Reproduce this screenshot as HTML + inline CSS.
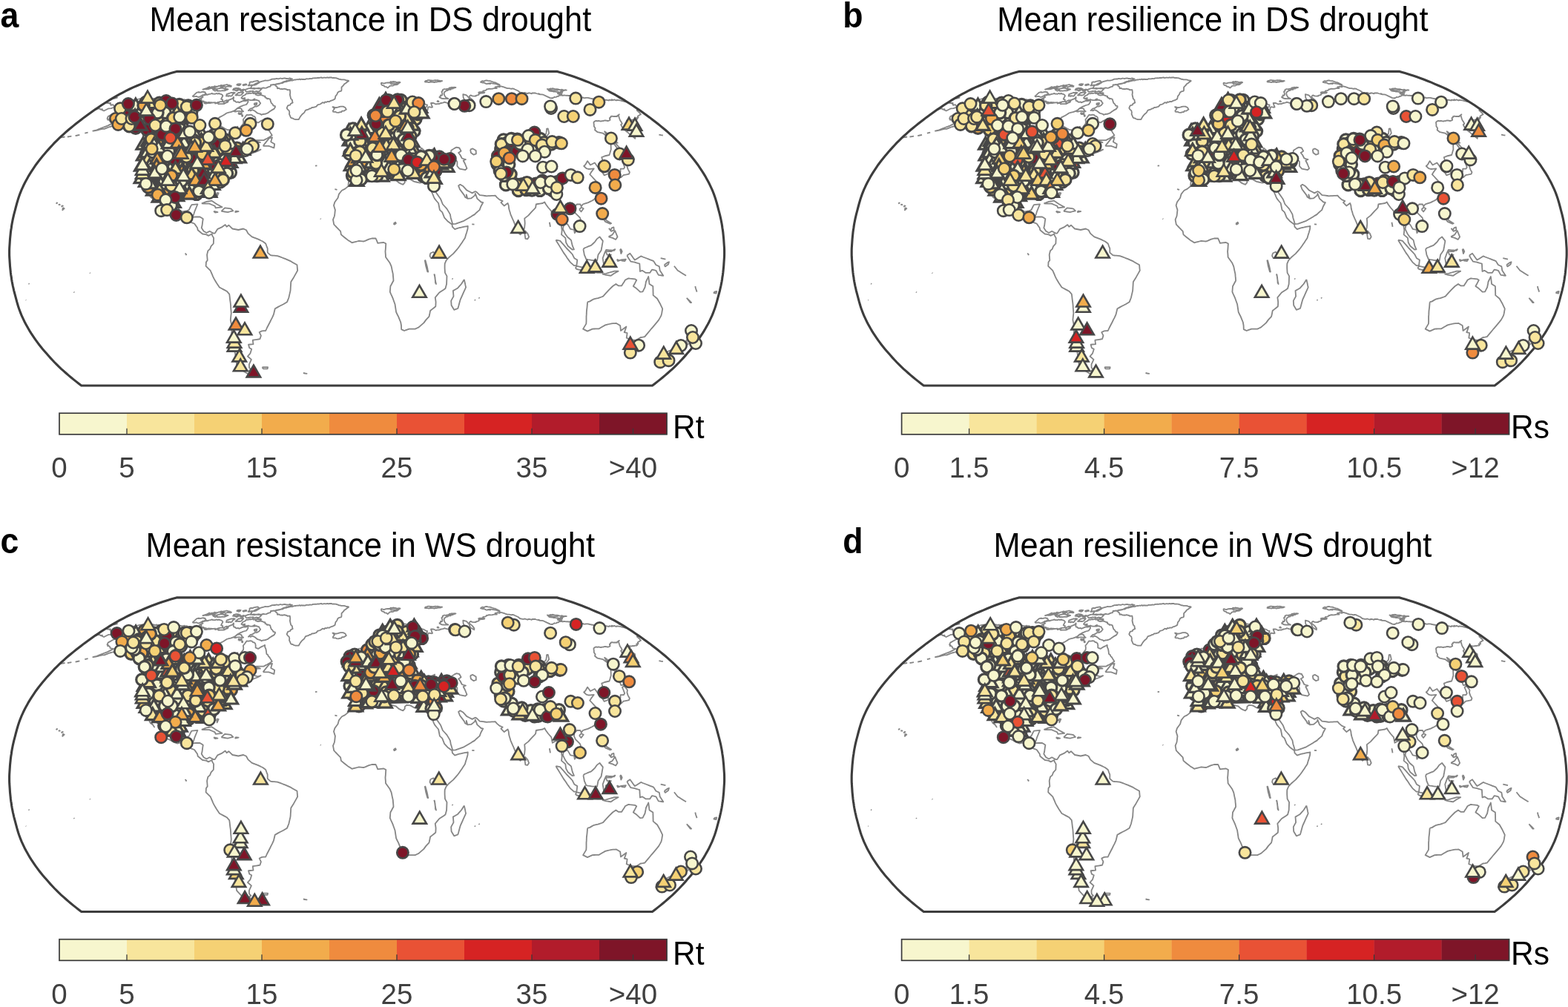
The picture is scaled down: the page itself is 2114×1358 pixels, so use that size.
<!DOCTYPE html>
<html><head><meta charset="utf-8"><title>Drought resistance and resilience maps</title>
<style>html,body{margin:0;padding:0;background:#fff;}body{width:2114px;height:1358px;overflow:hidden;}svg{display:block;}</style>
</head><body>
<svg width="2114" height="1358" viewBox="0 0 2114 1358" font-family="Liberation Sans, Arial, sans-serif"><g transform="translate(0.0 0.0)"><text transform="translate(499.3 41.6) scale(1 1.065)" font-size="43.4" text-anchor="middle" fill="#000">Mean resistance in DS drought</text><text transform="translate(0.6 36.6) scale(0.97 1.06)" font-size="46" font-weight="bold" fill="#000">a</text><path d="M197.6 131.4l2.7-0.2 -1 0.9 1.8 0 1.7 0.4 1-0.2 1.1 0.3 2.3 0.2 0.1-0.1 0.9 1 3.5-0.8 -0.9 1 3.1-0.6 -0.1 0.4 2.9 0.1 -0.8 1 2.4-0.7 1.5 0.3 3.2-0.2 -0.7 1.2 1.7-0.2 0.5 0.4 0.3 1.6 2.3-0.2 0.7 0.2 3.7-0.7 0-0.2 3.7-0.4 2.3 0.1 1.6-1.2 1 0.2 2.7-0.8 1.6 0.4 2.9-0.2 1.6-0.3 -0.2 0.9 3.4-0.4 0.5 1.3 0.6 0 3.1 0.1 1.8 0.1 2 0 0.3 0.3 1.4 0 1.5 0.3 1.2 0.4 0.3 0.3 3.3-0.6 0.2 1.1 2.1-0.5 2.5-0.2 1.6 0.5 1.3 0.2 -0.4 1.2 1.5 0.6 1.1 0 3.1-0.8 1.7 0.2 1.9-0.3 0.6-0.4 1.7 0 3.3-0.3 -0.2 1.5 1.5-0.4 2-0.3 0.3 0.5 0.5 1 2.8-0.2 2.9-0.1 2.1-0.1 2-1 2.1-2.4 2.3-1.8 4.9-2 1.6-1.9 -0.4 3.7 0.7 1.6 1.6-0.1 0.4 1.1 1.7 0.6 1.8-0.5 1.4 1.1 1.1-0.5 4.7-2 2.9 0.3 0-0.2 3.3-0.6 0.2 2.1 -2.3 3.5 -3.9 1 -2.6 1.1 -1.3 0.5 -4.4 2.4 -3.3 2.9 -3.4 1.4 -2.3 0.9 -2.4 0.4 -3 0.9 -2.9 2 -2.1 1.2 -5.1 2.7 -1.8 2.5 -3.1 3.1 0.5 4.2 2.4 0.8 2-0.3 1.3 0.9 0.9 0.8 2.9 1.3 1.1 0.8 1.3 0.8 2 1.1 1.6 0.7 2 0 2 0.2 -1.2 2.9 -1.1 2.9 1.2 4.3 3.5 0 1.3-2.4 1.3-2.4 1.4-2.4 3.5-2.9 3.4-2.8 1.6-2.7 2.5-3 0.3-2.6 -0.5-3 2.2-2.7 2.5-3.6 2.1 0.2 0.6 0.1 2.5-0.6 2 0.6 1.1 1.3 1.9 0.4 1.5 1.5 0.5 2.7 -0.1 2.9 2.1 0.8 1.5 0.6 2.4-1.6 1.6-0.9 3.4-1.7 1.5-0.8 0.1 2.8 1.2 2.5 0.5 2.5 0.5 4.3 1.9 1.3 0.4 1.6 1.6 1.3 1.1 1.9 1.2 2 1.2 1.9 -4.4 2.9 -2.3 1.3 -2.4 1.2 -2.3 1.3 -1.9 0 -1.9 0 -1.8 0 -1.9 0 -1.8 0 -2 0.2 -2 0.2 -2 0.2 -2.6 1.6 -2.6 1.7 -2.5 1.7 -3.2 2.2 -3.1 2.2 3-2 3.1-1.9 3.1-2 2 0 2.1 0 2 0 2.1 0 -2.1 2.7 -0.3 2.5 -0.2 2.5 2.2 0.6 2.2 0.6 2.2 0.6 4-1.2 -4.3 2.4 -2.7 1 -2.7 1 -2.4 1 -2.3 1 -2.3 1 1.2-3.8 -3.9 0.8 -2.2 0.8 -2.3 0.8 -2.3 0.8 -2.8 3.3 0.9 2.7 -4.1 1.2 -2.2 0.7 -2.3 0.7 -2.3 0.7 -1 3.3 -3 1.8 -3 1.8 -0.4 4 -0.5 2.7 -0.4 2.7 -4.3 1.8 -2.9 1.7 -3 1.7 -4.8 3.9 -1.8 2.6 -1.7 2.5 0.2 2.6 0.3 2.5 0.2 2.5 0.5 4.6 -1.7 3.9 -2-0.3 -1.4-4.2 -1.1-4 -0.1-3 -1.9-3 -2.5-0.6 -2.4-0.7 -2.5-0.1 -2.6-0.2 -4.2 1.6 -0.1 2.7 -3.1 0 -2-0.6 -2-0.6 -2-0.6 -4 0.6 -2.6 1.7 -2.5 1.7 -2.6 1.7 -1 2.7 -0.9 2.8 -1.1 3 -1.1 3 -0.5 3.1 -0.5 3 0.7 4.5 2.5 4.3 3.6 2.7 2.2-0.4 2.3-0.4 2.2-0.4 2.8-1.2 2.2-4.6 1.4-2.4 2.7-0.2 2.6-0.2 2.7-0.2 -1.9 4.5 -1.9 4.6 -1.4 4.5 -1.7 3.7 2.4-0.2 2.4-0.1 2.6 0 2.6 0 2.2 1.3 2.1 1.4 -0.5 3 -0.4 3 -0.4 3.1 -0.8 3 2.9 4.5 3.9 2.2 4.1-2.2 2.6 1.4 2.6 1.4 1.9 0 1.8-2.9 1.9-2.9 2.8-1.2 2.7-1.2 2.4-1.7 2.4-1.6 1.9 2.7 2.8-2.1 2.5 2.4 2.5 2.4 2.7 0.5 2.6 0.5 2.7 0.5 2.2-0.5 2.3-0.5 2.2-0.5 3.9 1.8 2.5 4.6 2.6 2.2 2.6 2.3 2.6 1 2.7 1 2.6 1 2.2 1 2.2 1.1 2.2 1 4 3 1.2 3.3 1.3 3.3 0 2.8 0 2.7 4 3.6 2.4 0.3 2.3 0.2 2.4 0.2 2.3 0.2 2.2 0.8 2.1 0.8 2.2 0.8 2.1 0.8 2.2 0.8 2.2 1 2.3 1 2.2 1 2.2 1.3 2.2 1.3 2.3 1.3 2.2 1.3 0.2 2.5 0.2 2.5 0.3 2.5 -1.7 3.1 -1.7 3 -1.7 3 -1.9 3 -1.9 3.1 -0.2 2.4 -0.1 2.4 -0.2 2.4 -0.1 2.5 -0.2 2.4 -0.7 3 -0.7 3 -0.7 3.1 -1.1 3 -1.2 3 -2.5 1.5 -2.5 1.5 -2.5 1.3 -2.5 1.2 -2.1 1.2 -2.1 1.2 -2.1 1.2 -0.6 2.5 -0.6 2.5 -0.6 2.6 -2 4.5 -1.6 3 -1.5 3.1 -1.3 2.5 -1.3 2.5 -1.3 2.5 -1.8 4 -2.5 0.1 -2.5 0.2 -3.5 1.8 2.2 4.5 -1.5 4.6 -1.9 0.3 -1.9 0.3 -1.9 0.3 -2 0.3 -1.9 0.3 0.3 2.7 0.4 2.7 -2.2 0.2 -2.1 0.2 -2.2 0.2 1.3 4.5 2.9 1.5 -0.9 3 -0.9 2.9 -1.8 2 -1.7 1.9 5 4.4 -1.5 3.3 -1.5 3.2 0.1 4.4 2.4 2.6 -2.9 1.7 5.1 3.8 2.6 1 2.7 1 -2.7 1.4 -2.4-0.4 -2.5-0.4 -3-1.7 -3-1.8 -3.3-2.1 -3.2-2.2 -2.2-2.4 -2.3-2.4 -2.2-2.5 -0.4-2.9 -0.4-3 -0.3-2.9 -0.5-3 -0.5-3 -0.4-2.9 -0.5-3 -2-4.5 -0.5-2.6 -0.5-2.7 -0.5-2.6 -0.4-2.7 0-2.5 0.1-2.5 0-2.5 0.1-2.5 0.2-2.5 0.1-2.6 -0.7-3 -0.6-3 -0.6-3.1 0.3-3 0.3-3 0.4-3 -0.2-2.5 -0.2-2.4 -0.2-2.4 -0.1-2.4 -0.2-2.5 -0.3-2.7 -0.4-2.7 -0.3-2.7 -0.3-2.8 -0.4-2.7 -3.5-3.9 -2.5-1.3 -2.4-1.3 -2.5-1.3 -2.4-1.3 -2-3 -2-3 -1.8-3 -1.8-3.1 -1.2-2.6 -1.1-2.7 -1.2-2.6 -1.1-2.7 -3.1-3 -3-3 0.2-2.6 0.1-2.6 1.8-2.7 -0.3-3.6 -0.3-3.7 0.6-2.7 0.7-2.7 2.7-2.4 1.4-3.7 3.3-3.6 0.1-2.5 0.1-2.6 0.1-2.5 -1.8-3 -0.7-2.4 -2.3 1.2 -2.3 1.2 -2.6-1.5 -2.7-0.5 -2.6-0.4 -2.2-1.7 -2.1-1.8 -2.1-1.7 -0.6-3 -2-2.9 -2.1-2.9 -2.5-0.9 -2.6-0.9 -2.6-0.7 -2.6-0.8 -3.5-4.5 -3.7-2.2 -2.7 0.8 -2.8 0.8 -2.5-0.9 -2.5-1 -2.1-1.2 -2-1.2 -2.1-1.2 -2-0.8 -2.1-0.8 -2.1-0.8 -2.1-3.3 -2.1-3.4 1.2-3 -1.3-2.6 -1.2-2.6 -1.5-2.7 -1.4-2.7 -2.9-4.5 -2.7-4.6 -2.6-4.5 -1.9-3.4 -1.7-3.3 0.1 2.6 0 2.6 0.6 2.5 0.6 2.5 0.6 2.5 0.5 3.1 0.6 3 0.7 3 3 4.6 -2-3.1 -3.4-2.4 -1.2-2.7 -1.1-2.7 -1-2.8 -2.2-1.5 2.5-1.5 -2-4.5 -0.4-2.8 -0.4-2.7 -0.8-2.7 -1.8-4 -2.4-0.7 -2.4-0.8 -0.3-3.1 -0.3-3.2 0.2-3.6 -0.4-2.6 -0.4-2.6 -0.1-2.7 1.6-2.4 1.5-2.4 2-3 2-3 1.9-3.2 2-3.3 1.2-3.3 1.2-3.2 1.8 0.3 1.8 0.3 1.4-3.9 -2.5-1.4 -1.3-1 -1.2-1 -1.2-0.9 2.2-4.4 0-2.9 0.1-2.9 0.2-2.8 -0.1-2.1 -0.5-2.2 -0.7-0.9 -0.7-1.7 -0.1-1.6 -2.4-0.5 -1.1-0.4 -0.9-0.9 -0.1-1.3 -1.7-0.5 -1.9 0 -1.3-0.6 -1-0.2 -2.7 0.2 -1-1.2 -1.2 0.2 -0.7-1.2 -2.2 0.3 -3.9 1.4 -3.2 0.7 -3.2 1.2 -3 0.7 -1.8 0.1 5.3-4.1 -4.4 2.8 -4.1 1.9 -6.7 4.2 -2.6 0.9 -4.9 1.4 -2.1 0.5 -3 1.1 -4.4 1.8 -2.6 0 -3.2 0.6 -2.4 0.8 -2.4 0.5 -2.4 0.5 -2.3 0.4 2.8-0.9 2.3-0.5 3.5-1.4 3.3-1.4 5.1-1.8 2.8-1.1 8-4.2 -2.1-0.3 -0.8-0.1 -1.6-0.5 -0.2-1.1 -0.9-1.6 -2.4-0.2 0.8-1.2 -1.4-0.6 1.2-2.7 7.3-4.1 4.4-1.5 1.9-0.1 4.1-1.8 2-0.7 -1.2-0.3 -2.9 0.3 -0.7-0.2 -3.7 0.2 -1.8 0 -0.6-1.6 0.5-1.3 0.2 0.1 4.5-1.5 2.3 0.2 1.4 0 2.9-1.2 2.6-1.1 2.4 0.4 -0.6-1.4 0.9-1.8 -0.8-0.7 -0.2-1.3 2.6-0.5 1.9-0.7 5.1-1.4 2 0 3.2-1.1 3.6-0.9 1.7 0 5-1.1 1.9-0.6M479.8 232.2l2.4 0.5 2.4 0.6 2.5 0.5 2.5 0.5 2.5-1 2.5-1.1 2.5-1 2.5-1 2.5-1 2.3-0.1 2.2-0.2 2.3-0.1 2.2-0.1 2.3-0.1 2-0.3 2.1-0.3 2.1-0.3 2.5 1.2 -1.1 3.3 1.4 2.4 -2.5 2.4 2.7 3.1 2.5 0.6 2.6 0.6 3 0.7 2.9 0.8 2.3 2 2.3 1.9 2.6 1.1 2.6 1 2.4-2.7 -0.1-2.4 2.4-2.4 2.5 0.3 2.6 0.3 2.7 1.5 2.6 1.5 2.6 0.6 2.6 0.6 2.6 0.6 2.6-0.6 2.5-0.6 2.9 0.3 3 0.3 1.1 4 1.5 3.6 1.4 3.6 1.2 2.7 1.2 2.6 1.1 2.7 1.2 2.6 2.5 3.1 2.6 3 0.6 3 0.6 3 0.6 3.1 3.3 3 1 2.5 1 2.5 1 2.6 4.2 4.5 3.1 2.3 3 2.2 0.4 3.1 3.3 3.3 2.2-0.7 2.2-0.7 2.2-0.7 2.2-0.4 2.2-0.5 2.2-0.4 2.2-0.4 2.2-0.4 -0.3 3.9 -0.7 2.4 -0.7 2.5 -0.8 2.4 -0.7 2.4 -0.7 2.4 -2 3 -1.9 3.1 -1.8 2.5 -1.7 2.5 -1.8 2.5 -2.2 2.6 -2.2 2.5 -2.2 2.5 -2.7 2.3 -2.7 2.3 -4.1 4.5 -1.9 4.5 -0.1 3.1 0 3 0.2 3 0.2 3.1 2.5 4.5 -0.1 2.6 -0.1 2.7 -0.1 2.6 -0.1 2.7 -0.8 3 -0.8 3 -2.7 1.9 -2.8 1.8 -2.7 1.8 -2.8 3.3 -2.8 3.4 0.5 3 0.4 3 -0.1 3 -0.2 3.1 -2.4 1.9 -2.4 1.9 -2.4 1.9 -0.5 2.7 -0.5 2.6 -0.6 2.6 -4.2 4.5 -2.9 4 -2.3 2 -2.3 2 -2.3 2 -2.4 1.1 -2.4 1.1 -2.7 0 -2.7 0 -2.7 0 -2.1 0.8 -2.2 0.8 -2.2 0.8 -1.9-0.9 -2-0.9 -0.1-2.6 -0.1-2.6 -0.8-4.5 -1.5-3.7 -1.5-3.6 -1.6-3.2 -1.5-3.2 -0.4-2.6 -0.4-2.7 -0.4-2.6 -0.4-2.7 -0.9-2.5 -0.9-2.5 -0.9-2.5 -1.3-3.1 -1.4-3 -1.3-3 0.2-2.5 0.2-2.6 0.2-2.5 1.4-2.5 1.3-2.5 1.4-2.5 -0.2-3.1 -0.3-3 -0.2-3 -0.6-2.7 -0.6-2.6 -0.5-2.7 -0.6-2.6 -2.1-4.6 -1.8-2.5 -1.8-2.5 -1.8-2.5 -0.1-2.6 -0.2-2.5 -0.2-2.5 0.3-3 0.2-3.1 0.3-4.5 -3-1.5 -4 0.3 -4 0.6 -1.3-3.2 -1.4-3.2 -2.6 0 -2.7 0 -4 1.2 -2.3 0.9 -2.2 1 -2.2 0.9 -2.2-0.2 -2.3-0.2 -2.2-0.2 -2.3 0.6 -2.4 0.6 -2.3 0.6 -2.4 0.6 -2.6-1.7 -2.7-1.7 -2.7-2.1 -2.6-2.1 -4-3.3 -0.8-4.6 -2.2-2.2 -2.2-2.3 -2.3-2.3 -2.2-2.3 -0.6-3.3 -0.6-3.3 1.9-4.6 0.4-2.8 0.3-2.8 0.3-2.8 -1-3.1 -0.9-3 1.4-4.5 2-2.8 2.1-2.7 0.7-2.6 0.7-2.5 2-2.6 2.1-2.6 3.9-1.8 2.2-1.8 2.3-1.8 0.3-3.1 0.3-3 1.5-2.7 1.5-2.7 2.2-1.1 2.2-1.1 1.2-2.7 1.2-2.7M625.8 376.9l0.6 2.7 0.6 2.6 0.5 2.7 0.6 2.6 -1.4 3.1 -1.4 3 -1.1 2.6 -1.2 2.7 -1.2 2.6 -1.2 2.7 -0.8 2.9 -0.8 3 -0.8 2.9 -0.9 3 -2.5 0.9 -2.6 0.9 -1.8-3 -1.8-3 -0.2-3.1 -0.2-3 1.6-3 1.7-3.1 -0.2-2.5 -0.2-2.5 -0.2-2.5 3.2-1.8 3.1-1.9 2.4-2.7 2.4-2.7 1.9-3 1.9-3.1M480.5 231.6l-1.7-2.4 -2.7-1.2 -3.8 0.6 0.2-2.6 0.2-2.6 -1.7-0.3 0.9-2.5 0.8-2.6 0.4-4.5 -1.1-3 3.3-2.1 2.4 0.2 2.4 0.2 2.4 0.2 1.9 0.1 2 0.1 1.9 0.1 1.9 0 1.3-3.3 0.2-4.4 -2.3-3.6 -2.7-1 -2.7-1 -0.2-2.1 3.8-0.6 3.2 0.6 0.3-3.2 3.5 0.8 3.5-2.3 2.3-2.6 2.2-1.2 2.3-2.9 1-2.3 2.3-0.3 2.2-0.3 3.4-0.9 0.2-4.3 -1.3-4.2 1.4-1.2 2.4-1.1 1.3 3.1 0.5 4.3 1.1 2.9 3.3-1.2 2.1 0.7 2.1 0.8 2.4-0.9 2.3-0.9 2.2-0.4 2.2-0.4 2.4 1.1 3-3.1 -0.6-3.7 1.9-2 2.4 0.3 2.8 0.5 -2.3-3.6 0.7-2.2 2 0.3 0.5-0.9 2.2 0.5 2.9-0.4 0.9-0.1 2.5-0.7 1.5-0.7 -2.5-1.4 -1.8 0.5 -2.2-0.7 -2.3 0.5 -1.8 0 -1.5 1 -1.7-0.3 -2.3 0.4 -2.8-4.1 -0.7-4.1 1.6-1.2 3-2 0.7-1.7 1.9-1 -3.4-1.6 -1.5-0.2 -2.4 1 -1.1 2.6 -1.8 1 -2.3 1.7 -2.8 2.7 0.1 4.1 3.6 2.8 -1.3 2.8 -1.5 2.5 -1.1 3.1 -1.3 2.3 -1.8 0.7 -1.6 1.6 -3.1-0.6 -0.9-2.6 -1.8-3.4 -1.6-3.6 -1.6-0.8 -2.1 0.8 -3.1 2.5 -1.5 0.1 -2.9-0.6 -1.6-3.4 -0.8-4.2 0.9-3.5 3-1.9 1.1-0.6 3-1.2 0.9-0.9 2.9-2.2 2.8-3.1 2.5-4 2.2-1 1.4-1.6 1.5-0.9 1.1-1.4 1.8-1 1.6-0.9 1.8-0.4 1.2 0.3 2.5-1.4 1.6 0.6 1.2-1.2 2.7-0.7 1.1 0.7 2.6-0.1 1.2 0.5 1-0.4 2.5 0.5 0.6 1.3 2.1 0 2.9 0.2 1.6 1.8 0.9-0.1 3.2 1.5 2.1-0.1 1.5 0.2 4 1.8 1 0 2.9 1.9 1.9 0.4 -0.3 2.1 -1.2 0.8 -2.5 0.3 -1-0.9 -2.8-0.2 -1.9 1.4 -1.5-0.8 -1.7 0.1 -2.6-1.4 1.3 2.5 3 2.2 2.7 1.2 1.7 0.1 3.1 0 0.6-0.5 3.5 0.5 0.7-3.9 1.2-0.9 3.9 0.7 0.8-0.4 -1.1-2.8 -0.9-2.6 2.3-0.1 1.7 0.3 2.5 1.3 1.9-0.4 3-0.1 0.7-0.3 1.1-0.8 1.3 0.1 3.3-0.8 0.2-0.5 3.4 1 2.3 0.3 0.9-1.3 2.1-0.3 0.5-0.3 3.2 0.1 0.9-2.1 2.6 1.1 1.5-0.3 2.2 0.6 1.3 0.1 2.3 0.1 0.8 1.5 2.8-0.9 2 1.1 -1.6-2 0-1.9 -1.4-2.4 -0.3-2.2 -0.2-2.7 1.9 0.4 2.7 0.8 3.5 3.7 0.8 2.7 1.6 2.4 4.5 2.5 0.1-1.8 -2.4-3.3 -4.5-3.7 0.9-1.6 1.1-0.9 2.2 1 2.5 0.2 2.6 0 -0.2-0.7 2.2-0.5 1.9-0.7 -0.2-1.7 1.1 0 2.4-0.4 1.6 0.1 -0.6-0.9 1.8 0 -0.4-2.4 2.1-0.3 1.8-0.5 0.8-1.3 0.4 0.4 1.5-0.7 1.8-0.3 1.8 0.2 -0.2-0.1 3-0.1 0-0.4 1.5-0.1 1.4-0.3 2.6 0.1 -2.4-1.5 2.9-0.5 0-0.3 3.4 0.6 -0.5-1.2 1 0 3.1 0.8 2.5 0.8 1.8 0.6 2.4 0.8 2.4 0.1 3 0.7 1.1-0.5 1.7 0.2 1.8 0.9 4.4 2 2.7 2.3 0.2-0.2 2.9 0.8 2.5-0.1 0.5-0.4 3.3 1.1 1.2 0 0.3-0.6 2.3 0.1 2.3 0.9 0.9-0.9 0.8 0 3.3 0 1.2 0.5 3.6 1 -0.2-0.9 1.6 1.2 2 0 2.5 0.4 4.5 2.2 4.8 2.2 3 0.5 -0.7-0.4 1.6-0.1 1.9-1.4 -0.2 0.4 2.3-0.2 1-0.2 0.4-0.9 2.2 0 0.1-0.3 0.4-0.8 2-0.3 2.5 0.2 0.6 0.4 1.5-0.6 3.2 0.4 1.2-0.2 1.3 0.4 1.6-0.1 1.7 0.1 1.9 0.4 3.1 1 1.3-0.2 2.4 0.7 0.9 0.3 1.8-0.5 4.3 1 0.8-0.4 1 0.7 2.4 0.1 0.3-0.3 3.1 0.1 2.7 0.6 2 0.3 0.2 0.2 3.1 0.4 1.6 0.8 4.3 0.4 0.2 0.2 3.9 0.2 -1.6-0.7 2.3 0.3 3.9 0.8 1-0.7 2.6 0.3 2.2 0.6 0.1-0.8 0.6-0.2 3.3 0.7 -0.2-1.2 1.5 1 1.9-0.7 2.5 1.1 0.7-0.6 2.7 0.2 3.2 0.6 1.2 0.5 2.2 0.4 1.4 0.4 3.4 0.4M860.8 147.6l0.4 0.8 -2.6 0.5 3.6 3.1 1.8 2.3 -1.2 0.4 -1 0.9 -1.5 0.7 -0.6 0.8 0.9 1.5 -2.5 0.4 1.2 1.2 -1.2 1 -1.9-0.1 -1.5 0.6 -1.9-0.2 -1 0.4 -1.5-0.1 -2.1-0.2 -2.2 0.5 -1.2 0.5 1.6 2.4 2.7 3.2 6.9 4.3 0.2 2.1 -0.6 1.7 -0.3 1.9 0.6 2.9 0.5 2.8 -0.2 3 -3.5-3 -3.6-2.8 -3.2-2.9 -3.2-2.4 -3.3-3.3 -2.3-4.3 1.7-1.4 -1.1-2.2 -1.7-2.3 -0.9-2.5 -0.6-2.1 -0.7-2 1-1.4 -1.1 0.9 -1.3 0.6 -0.5 1.3 -1.3-0.1 -2.4-0.1 -0.7 0.3 -2.5-0.6 -1.6 0.5 -0.1 1.3 -1.4 0.7 0 0.8 0.7 1.8 -1.4 0.9 -1.9 0.4 -2.1-0.4 -0.6-0.1 -2.6 0.2 -0.8 0.5 -2.1 0 -0.7 0.4 -3.6-0.8 -1 0.5 -1.6-0.3 -1.8 0.2 -1.7 1.2 -0.3 1 0.4 2.5 0 2.3 1.8 2.7 -0.6 2.4 3.7 2.9 2.3 0.4 2.3 0.5 2.3 0.5 6.1 4.3 1.6 3 1.6 2.9 1.5 2.9 0.2 3 0.1 2.9 0.1 3 -0.8 2.5 -0.7 2.4 -0.8 2.5 -2.2 0.5 -2.1 0.5 -2.1 0.5 -2 0.8 -1.9 0.7 1.3 4.5 -1.2 4.5 2.7 3 2.1 2.6 2 2.5 2 2.5 0 2.7 -1.8 0.7 -1.8 0.7 -1.8 0.7 -2.2-3.3 -0.5-4.5 -3-1.5 -2.9-1.5 -2.1-3.1 -2.2-3 -1.9 1 -2 1 -2 1 -1.9-2.7 -2-2.7 -1.3 2.4 -1.3 2.4 -2.2 2.1 3.3 3.1 2.9 0.9 2.5-0.2 2.4-0.2 2.4-0.2 -1.6 2.1 -1.6 2.1 -2.3 3.6 2.7 2.8 2.6 2.9 2.6 2.8 4.1 3.6 0.6 3.5 0.5 3.5 -1 3 -1.2 3.1 -1.4 4.5 -2.1 2.3 -2.2 2.2 -2.4 1.3 -2.4 1.2 -2.4 1.2 -2.4 0.8 -2.5 0.8 -2.5 0.8 -2.1 3 -1.3-3 -2.3 0 -2.2 0 -3.4 3 -0.6 4.6 2 4.5 3.1 3 3 3.1 1.1 3 1.1 3 1 3 -1.7 4.6 -2.5 1.1 -2.6 1 -1.8 2.4 -1.8 2.5 -0.9-4.6 -2.4-0.4 -2.5-0.5 -1.5-2.7 -1.6-2.7 -3.3-3.4 -2.2 1.2 -0.5 2.6 -0.5 2.5 -0.5 2.5 1.7 3.5 1.7 3.5 2.9 3.9 2.4 2.1 2.4 2.1 0.8 3.5 0.8 3.5 1.1 2.7 1.2 2.8 -2.2 0.3 -3-2.5 -3-2.4 -1.3-2.4 -1.3-2.4 -0.4-3.1 -0.4-3 -2.6-2.3 -2.7-2.2 0.4-3.1 0.3-3 -0.5-3 -0.5-3 -0.7-2.8 -0.7-2.7 -0.7-2.7 -0.8-2.7 -0.8-2.8 -3.5-0.9 -2.4 1.2 -2.3 1.3 -0.5-2.6 -0.5-2.5 -0.5-2.5 -4.1-4.6 -3.3-4.5 -1.7-3 -2.4 1.5 -3.8 0.6 -2.6 0.4 -2.6 0.5 -0.7 4.5 -1.9 2.1 -2 2 -1.9 2 -2 2.3 -2 2.2 -2.6 2 -2.5 2 0.3 3.3 0.2 3.3 -0.3 3.1 -0.3 3 -0.9 2.6 -0.9 2.5 -3.8 4 -2.8-3.1 -1.1-2.5 -1-2.5 -1-2.5 -1.1-2.5 -1.1-2.6 -1-2.5 -1.4-3 -1.3-3 -1.3-3.1 -0.7-2.5 -0.8-2.5 -0.7-2.5 -0.5-4.6 -1.1-3 -2.4 1.8 -2.4 1.8 -4.4-4.5 2.3-2.1 -4.1-1.6 -3.5-3 -2.4-2.7 -2.3 0.1 -2.3 0.1 -2.4 0.2 -2.3 0.1 -2.3 0.1 -2.4-0.3 -2.3-0.3 -2.3-0.3 -2.3-0.3 -4.4-4.3 -1.9-0.6 -3.9 2.2 -2.5-1.4 -2.5-1.3 -2.5-1.3 -2.2-2.6 -2.3-2.5 -4.2-2.5 -2.3 1.6 0.9 2.4 0.9 2.4 3.1 4.2 3 4 1 2.4 2 1.2 -0.2-4.5 0.8 2.7 0.8 2.7 2.6-0.3 2.5-0.3 2.4-1.9 2.4-2 0.5-2.4 1.3 3.4 1.3 3.5 2.6 2.3 2.6 2.3 2.7 0.6 -1.5 2.7 -1.5 2.7 -1.7 4.6 -2.1 1.8 -2.1 1.8 -2.4 2.4 -2.6 1.5 -2.5 1.6 -2.5 1.5 -2.6 1.5 -2.6 1.5 -2.5 1.5 -2.1 0.7 -2.1 0.8 -2.1 0.7 -2.1 0.7 -2.1 0.7 -4 0.3 -0.8-2.8 -0.8-2.8 -0.9-2.8 -0.8-4.6 -1.4-2.5 -1.5-2.5 -1.5-2.5 -2.8-3.1 -2.8-3 -1-2.5 -1-2.6 -1.1-2.5 -2.1-3 -2.2-3 -2.2-3.1 -2.2-3 -0.6-4.5 -0.7 2.5 -0.7 2.6 -2.3-3.2 -2.4-3.1 -1.1-4 2.4-0.1 2.4-0.2 0.8-2.6 0.7-2.5 0.8-3.1 0.8-3 -0.2-2.7 -0.2-2.7 -3.8 0 -2.3 1 -2.4 1.1 -2.6-0.3 -2.5-0.3 -2.6-0.8 -2.6-0.7 -3.2-2.1 -2.5-4.6 -1.1-3.9 0-1.8 -2.8 0.2 -2.8 0.1 -2.3 1.5 -1.1-0.6 2.5 3 -0.8 3.9 2.5 0.7 -2.9 1.5 -0.4 3.3 -2.2-1.5 -1.2-2.7 -0.3-2.6 -0.4-2.6 -2.2-1.5 -2.2-1.5 -0.4-4.5 -2.1-1.3 -2.2-1.3 -2.1-1.3 -2.6-1.8 -2.5-1.8 -3.1-3.2 -3.5 0.9 0.6 2.9 3.1 2.4 2.2 3.9 3.8 2.1 2.1 1.3 2.2 1.3 2.1 1.3 -3.4 3.6 -0.8 3.1 -2.3 0 0.5-4.6 -1.4-1.8 -3.8-2.7 -2.6-1.5 -2.5-1.5 -3.8-3 -3.8-3.9 -3.6 1.5 -3.5 2.1 -3.7-1.2 -3.6 1.5 0.5 3 -2.9 2.4 -3.2 1.8 -2.2 3.3 1 2.4 -2.2 3.4 -3.6 2.7 -3 0.1 -3 0.2 -2.8 1.8M143.7 137.4l-0.7 1.1 1.4 0.4 0.7 0.1 4-0.2 -0.8 1.4 0.9 0 0.5 0.9 -0.3 0.8 2.9-0.8 0.8 1.2 1.5 0.9 -1.6 1.8 -3.1 1.1 -3.4 0.2 -6.4 3.2 -1.6-0.8 -1-0.3 0.4-1.3 -2.4 0.5 -1.1-1.3 -2.3 0.4 -3.7 0.9M565.7 215.9l2.5 0.2 2.5 0.1 2.2-1.3 2.3-1.4 2.4 0 2.5 0 2.6 1 2.6 1 2.6 1 2.1-0.4 2.1-0.3 2-0.4 2.1-0.4 -0.3-3 -3-2.2 -2.9-2.3 -2.7-1.2 -2.6-1.1 0.7-2.6 0.8-2.5 -2 0.9 -1.9 0.9 -1.9 0.9 -2 0.9 -3.2 2.3 -2.8-2.6 -4.1-3.6 -1.9 3.3 -2 2.9 -1.8 4.5 0.5 4.2 2.6 1.2M612.3 200.1l-2 1.5 -2.1 1.5 -0.1 4.4 3.4 4.5 2.5 3 2.4 3 0 3 0 3 3.2 3.7 2.6 0.5 2.6 0.5 2.6 0.5 2.1-2.1 -1.3-3.1 -1.2-3 -2.3-4.5 3.3-1.5 -2.6-0.7 -2.6-0.8 -2.3-4.5 -2.4-3 1.7-1.1 1.8-1.2 -2.3-4.2 -3.8-0.9 -3.2 1.5M634.1 201.6l3.3-1.2 4.3 2.7 0.2 4.4 -3.3 1.2 -3.7-2.7 -0.8-4.4M733 185.1l1.8-0.3 1.8-0.3 1.2-1.6 1.2-1.7 1.2-1.6 -0.7-3.2 -0.8-3.1 -1.6 0.3 -0.2 2.3 -0.3 2.3 -0.4 2.3 -1.3 1.4 -1.3 1.5 -0.6 1.7M580.3 341.5l4-1.8 1.9 2.4 -0.6 2.7 -0.5 2.8 -4 0.6 -1.6-3.1 0.8-3.6M572.7 350.6l0.5 2.7 0.5 2.7 0.5 2.8 0.7 2.5 0.7 2.5 0.7 2.5 1 0.3 -0.6-2.6 -0.5-2.6 -0.6-2.6 -0.7-2.6 -0.7-2.5 -0.7-2.5 -0.8-0.6M585.3 369.4l1.2 4.5 0.2 2.5 0.2 2.6 0.1 2.5 1 1.5 -0.7-3 -0.6-3.1 -0.4-3 -0.3-3 -0.7-1.5M530.5 301.8l2.6-2.1 0.8 1.5 -2.1 1.5 -1.3-0.9M826.4 237.6l3 0.6 2.7 0.4 2.6 0.3 2.7 0.3 1.6-1.6 1.6-1.5 2.6-0.4 2.6-0.5 2.2-0.6 0.9-2.4 -2.1-3.6 -1.4-4 0.5-3.6 -2.2-2.7 -2.3-2.7 -2.5 1.8 1.6 3.6 1.7 4.6 -1.4 2.1 -2.1 0 -2.1 0 -0.1 3.9 -2.3 0.5 -2.3 0.5 -2.3 0.5 -1.8 1.5 -1.8 1.5 0.4 1.5M837.4 215l1.9-0.9 2.6-0.3 2.6-0.3 1.4-1.9 1.4-2 -3.3-3 -3.2-1.2 -3.2-1.1 -3.2-1.2 1.8 4.4 -0.4 3 1.6 4.5M824.7 239.2l2 3.3 1.9 3.3 2-0.3 -0.1-2.4 -0.1-2.4 -3.8-3.1 -1.9 1.6M831.7 240.7l2.3-1.2 2.3-1.3 -2.6-1.8 -3 1.2 1 3.1M809.7 264.3l2.8 0.6 -0.3 4.5 -1 4.6 -2.7-3 0.4-4.6 0.8-2.1M780.9 282.5l3-2.8 2.8 1.5 -3.2 4.3 -2.6-3M833.3 201.6l2.6-1.5 -2.2-2.5 -2.2-2.4 -2.3-2.5 3.5 0 -3.8-2.9 -3.9-2.9 -2.2-2.5 -2.2-2.4 -2.3-2.4 -3.2-2.3 2.2 3.8 2.5 2.8 2.4 3 2.4 2.9 2.3 2.9 2.2 3 2.1 2.9 2.1 3M812.3 284.6l2.3 0 2.2 0 0.3 3 0.2 3 -0.2 3.1 -0.2 3 2.4 1.5 2.4 1.5 2.4 1.5 -1.2 0.6 -2.4-1 -2.3-1 -2.3-1 -1.4-2.1 -2.2-4.5 0-2.6 0-2.5 0-2.5M820.5 319.4l2.6-1.5 2.5-1.5 1.8-2.6 1.8-2.6 1.1 2.8 1.1 2.7 1.1 2.7 -2.4 3.6 -4.2-2.1 -2.7-0.7 -2.7-0.8M820.9 307.9l2.4 2.4 1.5-3 2.6-0.9 0.4 3.9 -3.9 1.5 -3-3.9M786.4 336.1l0.5 2.5 0.5 2.5 0.4 2.5 1.3 3.1 1.2 3 2.4 0.4 2.3 0.3 2.3 0.4 2.3 0.4 2.7 0 2.7 0 0.5-2.5 0.5-2.5 0.5-2.6 2.1-3 2-3 0.4-2.6 0.5-2.5 0.4-2.6 0.5-2.5 0.4-2.5 -2.2-2.8 -2.1-2.7 -3.9 3 -2.5 3.7 -2.5 2.4 -2.6 2.4 -4 1.5 -2.5 1.1 -2.5 1 -1.6 1.6M749.4 323.6l2.9 0.6 3 0.7 2.1 2.4 2.1 2.4 2.1 2.4 2 2.4 2.8 2.9 2.7 2.8 2.6 2.8 1.3 2.6 1.3 2.6 4 2.4 -0.3 2.5 -0.3 2.5 -0.3 2.6 -3.5 0 -2.5-2.3 -2.6-2.3 -1.9-2.7 -2-2.7 -1.7-2.6 -1.7-2.5 -1.8-2.5 -2-3.3 -2.1-3.4 -1.5-2.5 -1.6-2.6 -1.6-2.6 -1.5-2.6M775.6 361.2l2.3-2.4 2.2 0.5 2.2 0.5 2.2 0.5 2.2 0 2.3 0 2.2 0 3.9 1.2 2.6 1.2 2.6 1.2 -0.2 3 -2.2-0.4 -2.2-0.4 -2.2-0.4 -2.6-0.4 -2.7-0.5 -2.6-0.3 -2.7-0.3 -2.6-0.6 -2.6-0.6 -2.1-1.8M801.4 367.2l4.1-1.5 2.2 0.2 2.3 0.2 2.2 0.2 -0.2 1.6 -2.2 0 -2.2 0 -2.2 0 -4-0.7M811.9 369.4l2.7-0.3 2.7-0.3 2.2-0.6 2.2-0.7 2.2-0.6 2.1-0.6 2.2-0.6 2.7 0 2.7 0 -2.8 1.5 -2.8 1.6 -4.3 3 -2.2-0.3 -2.2-0.3 -2.2-0.3 -2.6-0.8 -2.6-0.7M814.1 357.3l2.6 0 0.1-2.6 0-2.5 0-2.5 1.7-0.9 1.2 3 1.2 3 2.7-0.6 -1.2-2.7 -1.3-2.7 -1.2-2.7 4-2.5 -2.6 0 -2.7 0 -1.9-4.5 2.4 0 2.5 0 2.4 0 2.6-1.5 2.7-1.5 -1.3 1.8 -2.2-0.2 -2.1-0.2 -2.2-0.2 -2.1-0.2 -2.2-0.1 -1.8 3.6 -0.9 2.5 -0.9 2.5 -1 2.6 0.5 3 0.5 3 0.5 3.1M836 336.1l0.7 3 0.6 3 1.4-3 -1.4-3 -1.3 0M831.8 349.7l3.4 1.5 1.9-0.6 -4.1 1.5 -1.2-2.4M837.1 350.3l2.3-0.2 2.2-0.2 2.2-0.2 -1.4 2.4 -4-0.6 -1.3-1.2M845.3 344.5l4.1-2.7 2.2 2.9 2.1 3 2.2 2.9 2.7-1.7 2.7-1.7 2.8-1.8 2.6 1.1 2.7 1 2.6 1 2.3 0.9 2.3 0.9 2.3 0.9 2.3 0.9 1.6 2.6 1.6 2.6 2.2 1 2.2 1.1 0.5 2.7 0.4 2.7 2.3 3.5 2.3 3.5 -2.2-0.3 -2.2-0.3 -2.1-0.3 -1.7-3 -1.7-3.1 -2.7-0.6 -2.6-0.6 -3 4.3 -2.7 0 -2.7 0 -2.5-1.6 -2.5-1.5 -2.8 1.2 -0.1-2.5 -0.2-2.6 -0.1-2.6 -0.2-2.6 -2.2-0.7 -2.2-0.7 -2.2-0.7 -2.6-0.4 -2.7-0.5 -2.5-3.6 -2.6-4.6M895.6 357.3l4.2-3.1 2.2-0.9 -1 3.3 -4.2 2.8 -1.2-2.1M908.9 358.8l2.4 3 2.4 3 2.5 1.5 2.6 1.6 3.7 2.4 2.5 1.5M792.1 407.2l-0.2 2.4 -0.2 2.5 -0.2 2.4 -0.3 2.4 -0.3 2.4 -0.1 2.6 -0.1 2.5 -0.2 2.5 0 3.2 0 3.3 -0.2 3.2 -2.1 3.5 -2.1 3.5 1.9 1 2 1 2 1 3.4-1.5 3.3-1.5 2.3-0.1 2.2-0.1 2.3-0.1 2.2 0 2.8-1.7 2.7-1.6 2.8-1.6 2.8-0.7 2.8-0.7 2.9-0.7 2.1-0.1 2.2-0.1 2.2-0.1 1.7 1 1.7 1 1.7 1 0.5 3.5 0.3 3.5 3.8-2.7 3.7-2.8 -0.8 2.6 -0.9 2.5 -1 2.5 2 0.4 1.9 0.5 -0.4 3.3 -0.5 3.3 2 0.9 2.1 0.8 2 0.8 2.2 0.3 2.1 0.3 2.2 0.3 3.2-2 3.2-2 2.8-0.4 2.7-0.5 2.3-2.7 2.3-2.7 2.2-2.7 2.2-2.7 2.6-3 2.5-3 2.5-2.9 2.4-3 1.7-3 1.6-3 0.7-3 0.5-3.1 0.5-3 -1.2-2.5 -1.2-2.5 -1.3-2.6 -1.7-3 -1.7-3 -1.8-1.5 -1.9-1.6 -1.8-1.5 0-2.4 -0.1-2.4 0-2.4 -0.1-2.5 -0.1-2.4 -2.4-1.5 -2.4-1.5 -0.3-2.5 -0.3-2.5 -0.3-2.5 -0.4-2.5 -1.6 3.5 -1.7 3.5 -0.4 2.5 -0.5 2.5 -0.5 2.5 -1.5 2.9 -1.5 2.9 -3.5 0.3 -1.8-1.7 -1.9-1.7 -1.9-1.8 -3.6-2.4 1.5-2.7 1.4-2.7 1.5-2.8 -2.2-1.5 -2.2-0.2 -2.2-0.2 -2.1-0.2 -2.2-0.3 -4.3 2.1 -1.6 2.7 -1.7 2.6 -1.7 2.6 -4 0 -3.6-2.4 -4.4 3 -4.7 4.6 -4.2 4.5 -4 4.5 -2.3 0.9 -2.4 0.8 -2.3 0.8 -2.7 0.6 -2.8 0.6 -2.9 1.6 -2.9 1.7 -2.7 0.6M850.4 463.8l2.1 0.1 2.2 0.2 2.1 0.1 2.1 0.2 -2.6 3.9 -6 4.2 -1.4-3.3 0.8-2.7 0.7-2.7M931.6 444.8l1.3 1.6 1.3 1.7 0.8 3.9 1.7 0.9 1.6 0.9 1.7 0.9 -4.6 4.6 -4.9 3 -6.9 4.2 -1-0.9 3.9-3.3 -1.5-2.7 4.3-3.3 2.5-4.3 -0.1-3.6 -0.1-3.6M919.7 463.2l1.2 1 1.2 1.1 -4 3.9 -5.6 3.6 -2.9 1.2 -2.9 1.2 -4.9 4.1 -5.1 2.1 -1.6-0.6 -1.7-0.6 -1.6-0.6 2.9-3 3.2-1.4 3.2-1.5 3.8-1.5 3.7-1.5 5.2-3.6 3.8-3 2.1-0.9M925.8 401.8l2.1 2.1 2.1 2.1 2.1 2.1 -1.3 0 -1.7-2.1 -1.6-2.1 -1.7-2.1M937.3 386l0.7 3 1.6 4.6M962.9 393.6l3.3-0.6 -0.7 2.7 -3-0.6 0.4-1.5M707.6 310.9l3.7 4 1.8 4.5 -2 3 -2.7-0.6 -0.4-2.7 -0.4-2.7 0-2.7 0-2.8M481.4 189.8l2.5-0.5 2.6-0.4 1.9-0.4 2-0.4 1.9-0.4 2.8-0.7 2.7-0.7 0.7-4.4 -3.2-2 -1.4-3.2 -2.9-3.1 -1.9-1.1 1.6-4.3 -2.7-0.5 -1-0.1 1.1-2.5 -2.8 0 -1.5 0 -1.9 3.1 0.3 4.3 1.4 2.8 1.9 0.1 1.9 0.2 -0.5 2.6 0.9 2 -3.7 1.4 1.4 1.8 -2.8 1.4 2.2 0.5 2.3 0.4 -3 1.2 -2.8 2.9M480.9 183.4l-0.3-4.7 1-2.3 -3.3-2 -2.2 0.3 -0.6 2.6 -3.4 0.3 0.1 2.3 1.2 2.3 -2.4 2 1.8 1.2 3.5-0.9 3.7-1.1 0.9 0M448.3 150.3l2.7-3.8 -2.5-2.3 0.9 0 1.1 0.3 1.5 0.6 2.2-0.1 2.2-0.6 1.6-0.6 1.3-0.1 3.3-0.1 2.8 1.4 1.5 2.6 -3 1.9 -2.8 0.1 -0.6 1.4 -1.7 0.1 -2.5 0.8 -2.7-0.3 -0.9-0.8 -2.4 0 -2-0.5M514.2 114.4l2.6 0.9 0.9 0.3 1 1.3 2.4 0.3 1.6 1.4 0.6-0.4 2-2.1 2-0.6 2.2 0.2 1.3-0.7 1.3-0.8 -0.7-0.2 2.4 0.4 1.3-0.2 1.1-0.6 1.6-1.2 -0.1-0.3 1.8-0.9 -1.6-0.5 -1.7 0.7 -1.3-0.1 -1.9-1 -1.6 0.5 -0.1 0 -3-0.2 -0.7-0.4 -1.1 0 -0.9 1.1 -2.1 0.2 -0.8 0 -1.4 0.1 -0.9 0 -1.8 0.7 -1.5 0.2 -2.7-0.8 -0.5 0.5 0.3 2.2M591.9 130.9l3.8 2 1.4 0.1 2.1 0.2 1.9 0 0.5 0 2.8-0.1 -3.5-1.8 -1.8-2.9 -0.5-3.1 1.3-1.7 1-0.7 1.7-1.1 0.9 0.3 0.7-0.8 0.8-0.8 2.8 0.3 -0.8-1.2 1.8-0.1 1.9 0.1 0.7-1.3 -0.1 0.5 1.9-0.4 1.3-0.4 -2.8-0.3 -0.8 0.6 -1.7-0.6 -0.5 0.2 -2.8 0.4 0.2 0.4 -1.1 0.7 -1 0.3 -1.7 0.2 -1.1 0.6 -1.8-0.5 -1.7 0.5 -1 1 0.3 1 -1.6 1.1 1.1 3.6 -0.6 1.3 -2-0.2 0.3 1.5 -2.3 1.1M572.2 110.2l1.8 0.5 1.7-0.1 2 0.3 1.1 0.1 1.3-0.8 0.7 0.6 0.4-0.3 1.7 0.1 3.1 0.4 0.7-0.6 1.9 0.3 1.7-0.5 1.8 0 0.3-0.2 2.3-0.1 0.1-1 1.3 0.3 -1.2 0.1 -2.8-0.7 -1.2 0.1 -0.5-0.6 -2.3 0.3 -1.1-0.3 -1.7 0.3 -0.7 0.2 -2.2 0.1 -1.3-0.4 -1.3 0.2 -0.7-0.3 -2.2-0.1 -0.9 0.5 -2.4 0.5 0.3 0.7 -1.7 0.4M657 113.3l0.2-0.1 0.6-0.7 3.2 0.7 -1.1-1.1 2.4 0.1 0.7 0.1 3.4 0.6 2.2 0.2 1.6 0.7 1.6 0.7 1.9-0.1 -6.1-3.2 -1.9-0.3 -1.1-0.4 -3.9-1.3 -1-0.1 -2-0.3 -1.5-0.4 -2.1 0.2 -0.8 0.7 -0.2 0 -1.3 0.2 -1.7-0.3 -1.1 0.6 -0.4 0.2 -0.6 0.8 2.4 0.7 2.6 0.2 1.7 0.9 2.3 0.7M739.8 122.4l2.3 0.5 2.1 0.3 -0.1-0.8 2.3 1.2 2.4 0 3.7 0.9 -0.4-0.6 3.9 0.9 2.3-0.3 -2.6-1.4 1.9 0.1 1.3-0.5 0.7-0.3 1.3-0.9 1.2 0 1.7 0.2 -1.3-0.4 -1.6 0.5 -3.8-1.2 1.2 1 -1.6-0.3 -2.6-0.5 -2.1 0.2 -1.5-0.4 -2.3-0.5 -1.6-0.4 -1.6 0.3 -2-0.5 -1.3 0.3 -0.3 0.2 -2.2 0.5 -0.2 0.2 0.8 1.7M833.9 132.1l0.8-1.2 2.9 1.7 -3.7-0.5M154.5 130.9l1.3 0.9 1.6-0.4 0.6 0.2 -1.2 0.5 -2.9 0.7 -2.3-0.2M370.1 114.4l1.4 0.2 0.1 1.1 1.6 1.1 0.5 0.5 0.2 1.8 0.5 0.2 1.2-0.5 2 1.1 1.3 0.2 0.9-0.3 0.8 0.5 2.6-0.6 1.3 0.3 1 0.1 2.2 1 -0.3 0.2 2.5-0.2 0.9 0.1 0.5 3.6 -0.4 2.7 0.4 2.1 1 3.8 1.6 1.2 0.1 1.6 0.7 2.2 -3 1.6 -0.4 1.5 -3.2 0.8 -1.4 3.4 1.1 1.9 1.9 1.5 0.6 2.5 -0.3 2.3 1.1 2.4 0.8 2.1 1.1 0.9 1.6 0.1 1.6 1.1 2.2 0.7 2.4-0.1 1.8 0.1 2.4-4.1 2.3-2.8 2.9-2.4 1.6-3 1.1-0.5 3.4-1.1 1.4-1 1.3 0.1 1.3-1.4 2-0.2 1.7-0.3 2.5-0.9 1.8-2.2 3.4-0.9 2.1-1.5 1.1-0.9 2.3 0.8 1-1.5 1.9 0.5 1.3-1 2.6 0.3 1.3-1.1 3.1-0.9 0.9-0.5 2.3-1.3 0.8-3.8 1.8-2.1 1.1-2.7 2.1-1.5 2.3-0.4 0.6-0.5 0.2-1.9 0-2.8 2.7-2.8 1-1.6 1.5-0.9 2.5-1.8 1.9-1.4 -0.5-0.6 -2.3-0.1 -1.1-0.4 -0.9-0.4 -2.1-0.4 -0.8 0 -2.3 0 -0.3 0.1 -1-0.6 -1.9 0 -1-0.7 -1.8-0.5 0.5 0.1 -2-0.5 -1-0.1 -1.7-0.1 -1.6 0.2 -0.8-0.6 -0.6-0.1 -2.9-0.2 0.5 0.4 -1.5 0.2 -1.6-0.6 -2 0.5 -1.8-0.2 -1 0 -0.8 0.3 -1.8 0.2 -0.4-0.7 -1.8 0.2 -2 0.5 -0.5-0.1 -0.9-0.2 -2.3 0.5 -1.1-0.1 -1.6 0.2 -1.6 0 -1.6 0.8 -0.9-0.1 -1.9-0.1 -0.5 0.3 -2.1 0.1 -1.5-0.1 -0.3-0.1 -1.7 0.9 -2.1-0.3 -1.8 0.2 -0.5-0.4 -1.9 0.8 -1.1-0.8 -2.1 0.7 -1.1-0.3 -2 0.6 -0.7-0.3 -3 0.8 -0.3 0.5 -2.1 0.1 -0.1-0.3 -2.6 0.8 -3.3 0.8 -1.5 0.3 -1.1-0.1 -3.5 2 -1.2-0.2 -2.2 0.7 -1.2 0 -2.3 0.7 -2.7 0.8 -0.8 0.2M371.5 143.6l-2.1 3.3 -3.6 2 -2.4 1.6 -1.9 1.6 -3.2 1.4 -2 0.4 -1.9 0.1 -2 0.9 -1-1 -2.9-0.9 -1.2-0.3 -1.2-1 -1.3-0.9 -0.4-0.6 -2.2-1.3 -2.3-0.7 -2.2 1.2 -0.7-0.9 -2.1 0.7 2.9-2.9 1.3 0.1 2.1-1 2.2-1.7 3-0.1 2.7-1.6 2.1-2.8 -1.2-1.7 -0.3-0.1 -0.7-1.7 -2.2-0.4 -0.4-0.7 -3.3 0.2 -1.6 0.4 -1.2-0.1 -2 0 -0.5 0 -3.3-0.8 0.6-0.1 -3.1 0.4 -2-0.3 -0.5-0.1 -2.6-1.1 -0.9-0.4 -0.6-0.6 2.1-2.8 2.5-1.1 2.6-2.2 1.1 0.3 3.7-0.8 0.7 0.5 2.9-0.8 0.4 0.8 0.9 0.2 1.9-0.5 2.9-0.3 0.6 0.1 0.1 0.5 1.9 0.2 2 0.9 0.4 0.8 0.7 0.5 0.9 0.2 2.1 0.9 1.8 0.3 -0.2 1.6 1.8 0.7 0.4 0 0.4 1.2 2.1-0.3 2.1 0.9 0.9 3.3 0.7 1.8 0.6 0.4 1.5 1.6 0.4 1.3 2.6 0.8 0.6 0.5M357.2 118.9l-1.9-0.6 -1.6 0.4 0.1 0.1 -3.3 0.7 -0.8-0.2 -0.4-0.7 -2.2 0.6 -2.3 0.1 -0.7-0.1 -1.6-0.3 -2.1 0.7 -1.5-0.9 -1.1 0.2 2-3.4 4.9-2.7 3.5-1.6 1.1-0.3 4.1-1.3 2.1-0.4 1.6-0.7 1.7 0.2 2.4-0.1 2.4-0.6 0.4-0.2 2.9-1.1 0.9 0 2.3-0.3 1 0.1 1.2-0.5 1.7 0.1 1.4 0.3 2.7-0.9 0.1 0 1.7 0.5 0.2 0.1 2.1-0.5 1.6-0.1 1.2 0.1 1 0.5 1.1-0.3 1.4 0.5 1.7-0.8 2.1 0.4 0.1 0.5 1.7 0 -1.4 0.5 -2.7 1.2 -1.6 0.5 -2.4 0.3 -0.8 0.8 -2.8 0.5 -2.6 1.4 -1.9 0.9 -3.4 0.8 -1.2-0.1 -1.6 0.5 -2.2 0.8 -0.2-0.6 -2.8 0.6 -1.5-0.1 -0.4 2.2 -2.4 0.5 -3.3 1.5 -1.7 0.3M349.4 123.6l-0.4-0.1 -2.7 0 -0.2-0.7 -3.3 1.1 -1.8 0.2 0.4-1.4 -2.9 0.4 -1.2-0.3 -1.4 0.7 -3.1 0.4 0.7-0.1 -2.1-0.5 -0.4-1.1 -1-1 2.8-1.1 1.8-0.7 3.2-0.5 -0.1 0.4 2.8 0.1 0.6-0.3 1.8 0.7 2.3-0.7 -0.2 0.1 1.3 0 2.6 0.3 1.4-0.5 0.5 0.6 2.2 0 -2.5 2.6 -1.1 1.4M299.9 137.2l-2.9 0 -2 0.4 0.4 0.5 -1.4-0.3 -2.9 1.2 -2.1-0.6 -1 0 -2.2 0.2 -0.3-0.4 -2.2 0 -1.9-0.2 -2.2 0.4 -0.8-0.5 -2.5-0.4 -1.1-0.5 -0.2-0.7 -1.4 0.2 -1.2-0.6 -1.5-0.4 1.2-1.8 -2.8-0.3 4.7-2.5 -1.3-0.9 0.3-1.6 2-0.5 2.4-0.7 -0.1 0.6 2.5 0.1 2.7-1 1.8-0.2 2.1-0.8 0.7 0.8 2.2 0 1.2 0.1 1.5-0.9 1.4 0.6 2.8-0.5 0.5 0.6 1.4 0.2 1.8 0.9 0.9 1.5 -1.6 2.9 -0.7 1.5 2.2 1 -0.4 2.6M259.3 130.1l2.6-2.3 3.2-3 3.1-0.8 -0.6 0.6 2.3 0.1 4.3-1.1 0.7 0.7 1.2-0.3 0.8 1.4 0.4 0.2 -0.2 0.7 1.6 0.9 -3.2 1.1 -2.9 0.5 -3.7 1.8 -1 0.3 -0.8 0.1 -1.4-0.7 -0.7-0.4 -3.8 0.5 -1-0.5 -0.9 0.2M289.1 122.4l-0.7-1.4 -0.7 0.5 -0.9-1.5 3-0.4 0 0.8 2.8-0.6 2-0.4 2-0.4 0.6-0.1 3.7-0.4 -0.1 0.4 1.3 0.8 1.9-0.8 -1.1 1.4 3.1-0.4 1.1 0.7 0.5-0.1 -5 1.9 -2.3-0.1 0.4-0.1 -3.8 0.4 -1.3-0.1 0.1-0.1 -2.5 0.4 -0.2-1.1 -3 1 -0.9-0.3M312.5 129.6l-1.9-0.1 -1.2-0.3 -1.7 0.7 0.2-0.7 -2.9 0.4 0.6-2.4 4.2-1.5 2-0.9 0.7 0.3 2.4-0.5 1.9 0.6 -3 1.8 -1.3 2.6M324.9 128.4l-1.5-0.1 -1 0.4 -2.2-0.6 -1.5 0.5 -1.3-0.2 4.4-3.6 1.2 0.2 1.4-0.4 3.4-0.1 0.4 0.3 -3.3 3.6M319.7 122.4l-0.6 0.2 -1-0.3 -1.4-1.2 -2 0.3 -0.8-0.2 3.1-1.8 3.2-0.5 1.9 0.8 -0.2 0 2.2 0.3 -4.4 2.4M344.5 114.4l-2 0.4 -0.3-0.1 -3.1-0.1 -2.6 0.9 -0.9-0.4 -0.9 0.4 1.9-2.4 -0.1-1.9 1.9-0.8 2.5 0.2 1.1-0.8 3.7-0.7 1.4-0.1 0.7-0.2 0.2 0.7 1.2 0.7 0.7 1 -5.4 3.2M326 150.3l-1.6-0.1 -1.7-0.3 -2.3-0.1 -0.7 0.2 -1.9 0.6 -2-0.3 3.8-4 2.7-0.3 0.1-0.3 2.2 0.6 1.2 1 0.2 1.4 2.1 1.6 -2.1 0M312.5 116.6l-2 0.3 -0.3-0.2 -2-0.2 -1.8-0.1 -1.3 0.8 -2-0.3 -0.6-0.5 -2.1 0.2 -3 0.4 1.4-1.2 -0.7-0.1 -3.6 0.5 0-0.3 1.7 0 2.1-1 1.7 0.5 2-0.6 2.6-0.4 1.1-0.4 1.3 0.4 1.1 0.6 -0.1 0.2 1.9-0.2 0.2 0.4 1.3 0.4 1.1 0.8M281.5 120l-2.8 0.3 -1.2 0.1 -0.7-0.4 -1.2 0.3 -2.2 0.4 5.5-1.8 3.5-1.9 0.1 0.9 1.7 0.3 0.2 0.2 2.4-0.1 0.7 0.2 0.9 0.4 -0.5-0.3 -3.6 0.5 -2.8 0.9M354.6 196.8l1.9 0 1.9 0 2 0 1.9 0 1.8 0.7 1.8 0.7 1.8 0.6 1.7 0.7 0.4-2.7 0.4-2.6 -1.7-1 -1.7-1 -1.6-1 0.9-2.9 0.9-2.9 -3.6 0.6 -2.3 2.7 -2.2 2.7 -2.2 2.7 -2.1 2.7M345.8 190.1l1.7 0.7 1.7 0.6 1.7 0.7 -2.2 0.1 -2.1 0.1 -2.1 0.1 1.3-2.3M271.8 274.3l2.3-0.8 2.3-0.8 2.2-0.8 2.3-0.4 2.2-0.4 2.2-0.4 2.5 1.6 2.4 1.6 2.4 1.6 2.3 1.3 2.3 1.3 2.3 1.3 -2.2 0.3 -2.2 0.2 -2.2 0.2 -2.2 0.2 -1-2.4 -2.5-1.1 -2.5-1.1 -2.5-1.1 -2.6 0 -2.6 0 -2.6 0 -2.6-0.3M298.4 284.9l2.3-2.3 2.4-2.3 2.1 0.3 2.2 0.3 2.1 0.3 2.1 0.4 2.7 2.7 -2.4 0.6 -2.3 0.6 -2.4 0.6 -2.2-0.3 -2.2-0.3 -2.2-0.3 -2.2-0.3M288.1 284.9l2.7 0.6 2.7 0.6 -3.5 0.6 -1.9-1.8M317.4 284.6l2.1 0.3 2.1 0.3 -2.2 0.4 -2.1 0.5 0.1-1.5M292.2 259.8l2.5 0.6 -2 4.5 -0.3-2.6 -0.2-2.5M204.7 194.8l-1.2-1.3 -1.2-1.2 -1.1-1.2 -1.1-1.2 -1.1-1.2 -1.1-1.3 2.6 0.9 1.3 1.5 1.3 1.4 0.8 1.8 0.8 1.8M192.3 183.9l1.2-2.8 1.3-2.9 2.2 0 -1.9 4.3 -2.8 1.4M160.9 168.2l-3.3 0.8 -3.8 1.7 4.7-3.3 2.4 0.8M118.6 178.7l-4.3 0.9M107.4 181.9l-2.9 0.6 -2.9 0.6M96.4 183.7l-2.7 0.4 -2.8 0.4M87.5 184.5l-2.8 0.5 -2.7 0.4M888.4 181.6l2.7 0.5 2.7 0.4M84.8 280l1.9 1.2 -2.4 2.2 0.5-3.4M83.1 277.3l1.8 0.3 -1.6 0.9 -0.2-1.2M79.7 275.2l1.1 0.9 -1.4 0 0.3-0.9M75.9 273.4l1.2 0.3 -0.9 0.6 -0.3-0.9M525.5 226.2l2.7-0.5 2.6-0.6 2.6-0.5 -1 4.9 -2.3-1.1 -2.3-1.1 -2.3-1.1M515.4 222.5l3.2-0.6 0-2.7 0.1-2.7 -2 0 -2 0 0.4 3 0.3 3M515.7 215l1.9 0.3 0.1-4.5 -2 4.2M553.8 233.7l2.4 0.1 2.4 0.1 2.3 0.1 -2.2 0.5 -2.2 0.4 -2.7-1.2M576.2 235.2l2.8-1.2 2.7-1.2 -2.4 3 -3.1-0.6M519.1 174.2l3.5-0.9 -1.1 2.3 -2.4-1.4M353.5 495.2l1.9 0 1.9 0 1.9 0 1.9 0 -0.5 2.1 -1.9 0 -1.9 0 -1.9 0 -1.4-2.1M408.9 503l2.4 0.5 2.3 0.4 -2.3-0.4 -2.4-0.5M249.6 341.5l1.6 1.8 -1.1 0.3M740.8 299.7l0.6 3 0.5 3.1M645.6 401.2l0.9 1.2M639.8 404.2l1.2 0.9M609.9 375.4l0.4 1.2M636.3 302.4l3.2 0.3M454.5 255.8l-3.1-0.6M432 294.9l0.6 0.6M425 223.7l2.5-0.3M500.5 220.7l2.5-0.6M890.7 348.2l2.3 0.5 2.2 0.5 2.2 0.5M99.5 393.6l0.7 0.9M38.5 382.4l1.1 0.6M34.7 404.5l0.6 0.3M121.1 367.9l0.6 0.6M278.6 119.6l3-1.2 4.3-1.4 0.8 0.5 3.1-1.3 0.8 0.5 1.9 0 1-0.1 -5.9 2.3 -2 0 -2.3 0.4 -2.1 1 -0.3-0.4 -2.3-0.3M323.3 122.4l2.5 0.1 1.1 0.1 1.2-0.5 0.8-1.6 -1.9 0.4 -1.8 0.4 -1-0.6 -0.9 1.7M315 121l1.6 0.6 1.9-0.1 0.2 0.2 3.8-2.6 -1.3-0.3 -2.5 0.4 0-0.6 -3.8 1 0.1 1.4M327.8 115.5l2.6-0.8 2.2-0.3 -0.6-0.9 -1.7 0.2 -2.8 0.7 0.3 1.1M318.9 115l1.2-0.6 1.7 1 2-0.8 0.8-1.3 -1.9 0.5 0.2-0.7 -3.1 0.6 -0.9 1.3M301.7 138.4l0.7 0.4 3.1-0.5 1.7-0.6 0.8-2.1 -2.4-0.5 -4.7 2.1 0.8 1.2M345.6 128.1l2.5 0.5 -0.2 0.1 3.3-0.6 0.9-2.4 -0.7-0.6 -1.4 0.2 -3.2 0.2 -2.3 1.7 1.1 0.9M321.5 154.1l2.7-0.1 1.5 0.1 0.2-1.9 -2.1 0.4 -2.1-0.4 -0.2 1.9M325.4 156.3l1.8 0.5 -0.1-1.6 -1.7 1.1M327.8 133.9l2.1-0.3 0.3-1.5 -2.3 0.5 -0.1 1.3M340.7 134.6l2.5 0.5 0.3-1.7 -2.8 1.2M342.3 140.8l1.5 0.7 2.1-0.2 0.5-2.3 -3.3 0.5 -0.8 1.3M318.6 171.9l1.3 0.6 0.5-1.8 -1.8 1.2M230.7 136.4l3.5-0.5 -1-0.8 -2.5 1.3M526.6 112.6l0.5 0.6 2.2-0.1 2.5 0.1 0.5-0.3 2.2 0.2 0.5-0.5 1.2-0.3 1.4-0.1 1.8-1.2 -1.4 0.4 -1.1-0.1 -2.2-0.5 0 0.3 -3.4-0.9 -1.7-0.2 -0.3 0.4 -1.3 0.8 -1.7 0.2 0.3 1.2M588.9 136.9l2.7 0.3 -1.2-1.3 -1.5 1M607.2 134.6l3.1 0.4 0.7-0.4 -2.6-1.2 -1.2 1.2M644.5 124.8l1.4-0.4 0.8-0.3 1.5 0 1 0.2 1.5-0.7 2.7 0.9 -0.7 0.9 -2-0.3 -1.9 0.4 -2.8-0.8 -1.5 0.1M751.2 126.4l0.7 0 4.4 0.9 1.1-0.4 0.1-1.2 -3.9-0.6 0.4 0.9 -2-0.3 -0.8 0.7M739.8 121.2l3.2 0.5 0.9 0.3 0.5 0.1 2.9 0 0.7-0.2 0.9-0.6 2.2 0.7 -0.6-0.6 0.2-1.2 2.2 0.3 -1.7-0.2 -3.5-0.3 -1.7-0.4 -1.2-0.4 -1.5 0.8 -2.1-0.4 0.9 0.7 -1.6 0.4 -2.6-0.7 1.9 1.2M848.2 164.5l1.5-0.5 -2.1-0.8 0.6 1.3" fill="none" stroke="#858585" stroke-width="1.8" stroke-linejoin="round"/><path d="M238.1 96.4L234.3 97.5L230.6 98.6L226.8 99.7L222.9 100.9L218.8 102.2L214.4 103.8L209.7 105.5L204.9 107.3L200.0 109.2L195.1 111.2L190.2 113.3L185.1 115.5L180.0 117.7L174.9 120.0L170.1 122.4L165.5 124.8L161.0 127.2L156.7 129.6L152.4 132.1L148.2 134.6L144.1 137.2L140.1 139.7L136.2 142.3L132.3 145.0L128.4 147.6L124.6 150.3L120.8 153.0L117.0 155.7L113.3 158.4L109.7 161.2L106.1 164.0L102.5 166.8L99.0 169.6L95.5 172.5L92.1 175.3L88.8 178.2L85.6 181.1L82.4 183.9L79.3 186.9L76.3 189.8L73.4 192.7L70.6 195.7L67.9 198.6L65.2 201.6L62.6 204.6L60.1 207.5L57.5 210.5L55.1 213.5L52.7 216.5L50.4 219.5L48.2 222.5L46.1 225.6L44.1 228.6L42.1 231.6L40.2 234.6L38.4 237.6L36.7 240.7L35.0 243.7L33.4 246.7L31.9 249.8L30.5 252.8L29.1 255.8L27.9 258.8L26.7 261.9L25.6 264.9L24.6 267.9L23.7 271.0L22.8 274.0L22.0 277.0L21.2 280.0L20.4 283.1L19.6 286.1L18.8 289.1L18.1 292.2L17.4 295.2L16.8 298.2L16.2 301.2L15.7 304.3L15.3 307.3L14.8 310.3L14.4 313.3L14.1 316.4L13.8 319.4L13.5 322.4L13.3 325.5L13.1 328.5L12.9 331.5L12.7 334.5L12.6 337.6L12.6 340.6L12.6 343.6L12.7 346.7L12.9 349.7L13.1 352.7L13.3 355.7L13.5 358.8L13.8 361.8L14.1 364.8L14.4 367.9L14.8 370.9L15.3 373.9L15.7 376.9L16.2 380.0L16.8 383.0L17.4 386.0L18.1 389.0L18.8 392.1L19.6 395.1L20.4 398.1L21.2 401.2L22.0 404.2L22.8 407.2L23.7 410.2L24.6 413.3L25.6 416.3L26.7 419.3L27.9 422.4L29.1 425.4L30.5 428.4L31.9 431.4L33.4 434.5L35.0 437.5L36.7 440.5L38.4 443.6L40.2 446.6L42.1 449.6L44.1 452.6L46.1 455.6L48.2 458.7L50.4 461.7L52.7 464.7L55.1 467.7L57.5 470.7L60.1 473.7L62.6 476.6L65.2 479.6L67.9 482.6L70.6 485.5L73.4 488.5L76.3 491.4L79.3 494.3L82.4 497.3L85.6 500.1L88.8 503.0L92.1 505.9L95.5 508.7L99.0 511.6L102.5 514.4L106.1 517.2L109.7 520.0L879.5 520.0L883.1 517.2L886.7 514.4L890.2 511.6L893.7 508.7L897.1 505.9L900.4 503.0L903.6 500.1L906.8 497.3L909.9 494.3L912.9 491.4L915.8 488.5L918.6 485.5L921.3 482.6L924.0 479.6L926.6 476.6L929.1 473.7L931.7 470.7L934.1 467.7L936.5 464.7L938.8 461.7L941.0 458.7L943.1 455.6L945.1 452.6L947.1 449.6L949.0 446.6L950.8 443.6L952.5 440.5L954.2 437.5L955.8 434.5L957.3 431.4L958.7 428.4L960.1 425.4L961.3 422.4L962.5 419.3L963.6 416.3L964.6 413.3L965.5 410.2L966.4 407.2L967.2 404.2L968.0 401.2L968.8 398.1L969.6 395.1L970.4 392.1L971.1 389.0L971.8 386.0L972.4 383.0L973.0 380.0L973.5 376.9L973.9 373.9L974.4 370.9L974.8 367.9L975.1 364.8L975.4 361.8L975.7 358.8L975.9 355.7L976.1 352.7L976.3 349.7L976.5 346.7L976.6 343.6L976.6 340.6L976.6 337.6L976.5 334.5L976.3 331.5L976.1 328.5L975.9 325.5L975.7 322.4L975.4 319.4L975.1 316.4L974.8 313.3L974.4 310.3L973.9 307.3L973.5 304.3L973.0 301.2L972.4 298.2L971.8 295.2L971.1 292.2L970.4 289.1L969.6 286.1L968.8 283.1L968.0 280.0L967.2 277.0L966.4 274.0L965.5 271.0L964.6 267.9L963.6 264.9L962.5 261.9L961.3 258.8L960.1 255.8L958.7 252.8L957.3 249.8L955.8 246.7L954.2 243.7L952.5 240.7L950.8 237.6L949.0 234.6L947.1 231.6L945.1 228.6L943.1 225.6L941.0 222.5L938.8 219.5L936.5 216.5L934.1 213.5L931.7 210.5L929.1 207.5L926.6 204.6L924.0 201.6L921.3 198.6L918.6 195.7L915.8 192.7L912.9 189.8L909.9 186.9L906.8 183.9L903.6 181.1L900.4 178.2L897.1 175.3L893.7 172.5L890.2 169.6L886.7 166.8L883.1 164.0L879.5 161.2L875.9 158.4L872.2 155.7L868.4 153.0L864.6 150.3L860.8 147.6L856.9 145.0L853.0 142.3L849.1 139.7L845.1 137.2L841.0 134.6L836.8 132.1L832.5 129.6L828.2 127.2L823.7 124.8L819.1 122.4L814.3 120.0L809.2 117.7L804.1 115.5L799.0 113.3L794.1 111.2L789.2 109.2L784.3 107.3L779.5 105.5L774.8 103.8L770.4 102.2L766.3 100.9L762.4 99.7L758.6 98.6L754.9 97.5L751.1 96.4Z" fill="none" stroke="#3d3d3d" stroke-width="3.1"/><g stroke="#474747" stroke-width="2.6" stroke-linejoin="miter"><path d="M196.0 183.0L242.0 175.0L250.0 190.0L238.0 206.0L205.0 210.0L198.0 200.0Z" fill="#5a5a5a" stroke="none"/><path d="M165.0 145.0L200.0 137.0L240.0 140.0L255.0 150.0L240.0 162.0L200.0 168.0L170.0 165.0Z" fill="#5a5a5a" stroke="none"/><path d="M195.0 190.0L300.0 188.0L318.0 200.0L305.0 230.0L285.0 250.0L250.0 255.0L225.0 262.0L205.0 250.0L190.0 235.0L188.0 205.0Z" fill="#5a5a5a" stroke="none"/><path d="M480.0 175.0L500.0 168.0L520.0 170.0L545.0 180.0L560.0 200.0L590.0 210.0L600.0 222.0L580.0 232.0L555.0 238.0L520.0 240.0L490.0 240.0L478.0 225.0L478.0 195.0Z" fill="#5a5a5a" stroke="none"/><circle cx="202.7" cy="145.0" r="7.7" fill="#F7F6CE" stroke-width="3.2"/><circle cx="196.8" cy="137.8" r="7.7" fill="#F7F6CE" stroke-width="3.2"/><circle cx="181.4" cy="164.2" r="7.7" fill="#F8E59C" stroke-width="3.2"/><circle cx="258.2" cy="157.2" r="7.7" fill="#F8E59C" stroke-width="3.2"/><circle cx="179.0" cy="145.9" r="7.7" fill="#F2AC4C" stroke-width="3.2"/><circle cx="182.9" cy="172.7" r="7.7" fill="#7E1528" stroke-width="3.2"/><circle cx="250.5" cy="151.8" r="7.7" fill="#F8E59C" stroke-width="3.2"/><circle cx="185.5" cy="165.2" r="7.7" fill="#F7F6CE" stroke-width="3.2"/><circle cx="201.3" cy="171.1" r="7.7" fill="#F7F6CE" stroke-width="3.2"/><circle cx="246.1" cy="144.3" r="7.7" fill="#F7F6CE" stroke-width="3.2"/><circle cx="224.8" cy="170.3" r="7.7" fill="#F8E59C" stroke-width="3.2"/><path d="M229.7 133.1L238.9 149.0L220.5 149.0Z" fill="#F7F6CE" stroke-width="3.2"/><circle cx="213.4" cy="143.7" r="7.7" fill="#F5D174" stroke-width="3.2"/><circle cx="237.8" cy="166.2" r="7.7" fill="#7E1528" stroke-width="3.2"/><circle cx="250.4" cy="159.0" r="7.7" fill="#F8E59C" stroke-width="3.2"/><circle cx="221.5" cy="141.9" r="7.7" fill="#7E1528" stroke-width="3.2"/><circle cx="244.5" cy="162.6" r="7.7" fill="#F7F6CE" stroke-width="3.2"/><circle cx="210.5" cy="142.7" r="7.7" fill="#7E1528" stroke-width="3.2"/><circle cx="222.9" cy="159.8" r="7.7" fill="#F7F6CE" stroke-width="3.2"/><circle cx="203.2" cy="149.6" r="7.7" fill="#7E1528" stroke-width="3.2"/><path d="M218.0 160.8L227.2 176.7L208.8 176.7Z" fill="#F7F6CE" stroke-width="3.2"/><circle cx="170.3" cy="149.2" r="7.7" fill="#F2AC4C" stroke-width="3.2"/><path d="M201.1 149.0L210.3 164.9L191.9 164.9Z" fill="#F7F6CE" stroke-width="3.2"/><circle cx="191.2" cy="159.1" r="7.7" fill="#7E1528" stroke-width="3.2"/><circle cx="241.2" cy="152.6" r="7.7" fill="#F7F6CE" stroke-width="3.2"/><path d="M205.1 160.2L214.3 176.1L195.9 176.1Z" fill="#F8E59C" stroke-width="3.2"/><circle cx="210.8" cy="164.8" r="7.7" fill="#F7F6CE" stroke-width="3.2"/><circle cx="177.6" cy="152.8" r="7.7" fill="#F7F6CE" stroke-width="3.2"/><circle cx="195.9" cy="162.1" r="7.7" fill="#F8E59C" stroke-width="3.2"/><circle cx="258.1" cy="151.2" r="7.7" fill="#F7F6CE" stroke-width="3.2"/><circle cx="175.0" cy="166.0" r="7.7" fill="#F5D174" stroke-width="3.2"/><path d="M204.7 157.9L213.9 173.8L195.5 173.8Z" fill="#F7F6CE" stroke-width="3.2"/><circle cx="241.8" cy="141.0" r="7.7" fill="#F8E59C" stroke-width="3.2"/><circle cx="222.4" cy="164.7" r="7.7" fill="#F8E59C" stroke-width="3.2"/><path d="M173.1 147.1L182.3 163.0L163.9 163.0Z" fill="#F8E59C" stroke-width="3.2"/><path d="M182.9 133.0L192.1 148.9L173.7 148.9Z" fill="#F7F6CE" stroke-width="3.2"/><circle cx="253.7" cy="142.5" r="7.7" fill="#F7F6CE" stroke-width="3.2"/><circle cx="174.3" cy="170.1" r="7.7" fill="#F8E59C" stroke-width="3.2"/><circle cx="205.1" cy="159.2" r="7.7" fill="#F5D174" stroke-width="3.2"/><circle cx="193.5" cy="150.4" r="7.7" fill="#F7F6CE" stroke-width="3.2"/><circle cx="168.7" cy="155.5" r="7.7" fill="#7E1528" stroke-width="3.2"/><circle cx="241.8" cy="159.3" r="7.7" fill="#F8E59C" stroke-width="3.2"/><circle cx="229.4" cy="152.5" r="7.7" fill="#F7F6CE" stroke-width="3.2"/><path d="M182.1 147.7L191.3 163.6L172.9 163.6Z" fill="#F8E59C" stroke-width="3.2"/><circle cx="214.9" cy="138.8" r="7.7" fill="#F8E59C" stroke-width="3.2"/><circle cx="198.4" cy="175.1" r="7.7" fill="#7E1528" stroke-width="3.2"/><circle cx="213.1" cy="157.6" r="7.7" fill="#F8E59C" stroke-width="3.2"/><path d="M238.3 142.2L247.5 158.1L229.1 158.1Z" fill="#F8E59C" stroke-width="3.2"/><path d="M201.5 129.6L210.7 145.5L192.3 145.5Z" fill="#F8E59C" stroke-width="3.2"/><circle cx="227.0" cy="164.7" r="7.7" fill="#F7F6CE" stroke-width="3.2"/><path d="M189.6 140.5L198.8 156.4L180.4 156.4Z" fill="#F7F6CE" stroke-width="3.2"/><circle cx="222.5" cy="151.8" r="7.7" fill="#F7F6CE" stroke-width="3.2"/><path d="M189.4 159.5L198.6 175.4L180.2 175.4Z" fill="#7E1528" stroke-width="3.2"/><circle cx="233.4" cy="159.2" r="7.7" fill="#F5D174" stroke-width="3.2"/><circle cx="212.4" cy="152.1" r="7.7" fill="#F7F6CE" stroke-width="3.2"/><circle cx="193.6" cy="142.3" r="7.7" fill="#F2AC4C" stroke-width="3.2"/><circle cx="234.3" cy="201.7" r="7.7" fill="#F5D174" stroke-width="3.2"/><circle cx="255.3" cy="195.3" r="7.7" fill="#F8E59C" stroke-width="3.2"/><path d="M272.1 171.4L281.3 187.3L262.9 187.3Z" fill="#F7F6CE" stroke-width="3.2"/><path d="M283.5 223.9L292.7 239.8L274.3 239.8Z" fill="#F7F6CE" stroke-width="3.2"/><path d="M193.2 185.2L202.4 201.1L184.0 201.1Z" fill="#F7F6CE" stroke-width="3.2"/><circle cx="235.0" cy="241.9" r="7.7" fill="#F8E59C" stroke-width="3.2"/><path d="M238.6 254.8L247.8 270.7L229.4 270.7Z" fill="#F8E59C" stroke-width="3.2"/><circle cx="243.1" cy="255.9" r="7.7" fill="#F7F6CE" stroke-width="3.2"/><path d="M265.6 199.4L274.8 215.3L256.4 215.3Z" fill="#F7F6CE" stroke-width="3.2"/><circle cx="259.6" cy="205.8" r="7.7" fill="#F7F6CE" stroke-width="3.2"/><path d="M256.3 172.3L265.5 188.2L247.1 188.2Z" fill="#F7F6CE" stroke-width="3.2"/><path d="M250.8 179.9L260.0 195.8L241.6 195.8Z" fill="#F7F6CE" stroke-width="3.2"/><circle cx="243.7" cy="184.4" r="7.7" fill="#F8E59C" stroke-width="3.2"/><circle cx="218.9" cy="238.8" r="7.7" fill="#F7F6CE" stroke-width="3.2"/><circle cx="280.0" cy="205.9" r="7.7" fill="#F5D174" stroke-width="3.2"/><path d="M263.1 171.8L272.3 187.7L253.9 187.7Z" fill="#F7F6CE" stroke-width="3.2"/><circle cx="303.4" cy="188.3" r="7.7" fill="#F8E59C" stroke-width="3.2"/><path d="M225.3 213.9L234.5 229.8L216.1 229.8Z" fill="#F7F6CE" stroke-width="3.2"/><circle cx="290.1" cy="187.1" r="7.7" fill="#F2AC4C" stroke-width="3.2"/><circle cx="296.8" cy="245.5" r="7.7" fill="#F8E59C" stroke-width="3.2"/><path d="M311.4 203.2L320.6 219.1L302.2 219.1Z" fill="#F5D174" stroke-width="3.2"/><path d="M246.1 212.2L255.3 228.1L236.9 228.1Z" fill="#F7F6CE" stroke-width="3.2"/><circle cx="202.5" cy="239.3" r="7.7" fill="#F7F6CE" stroke-width="3.2"/><circle cx="227.6" cy="242.6" r="7.7" fill="#F7F6CE" stroke-width="3.2"/><path d="M232.7 182.6L241.9 198.5L223.5 198.5Z" fill="#F8E59C" stroke-width="3.2"/><circle cx="217.7" cy="209.4" r="7.7" fill="#7E1528" stroke-width="3.2"/><circle cx="222.9" cy="266.5" r="7.7" fill="#7E1528" stroke-width="3.2"/><path d="M203.0 204.7L212.2 220.6L193.8 220.6Z" fill="#F7F6CE" stroke-width="3.2"/><path d="M282.6 192.5L291.8 208.4L273.4 208.4Z" fill="#F8E59C" stroke-width="3.2"/><circle cx="277.5" cy="188.3" r="7.7" fill="#F8E59C" stroke-width="3.2"/><path d="M232.9 196.6L242.1 212.5L223.7 212.5Z" fill="#F8E59C" stroke-width="3.2"/><circle cx="243.0" cy="213.2" r="7.7" fill="#F7F6CE" stroke-width="3.2"/><path d="M199.9 180.5L209.1 196.4L190.7 196.4Z" fill="#F8E59C" stroke-width="3.2"/><path d="M251.9 241.0L261.1 256.9L242.7 256.9Z" fill="#F8E59C" stroke-width="3.2"/><circle cx="287.3" cy="219.9" r="7.7" fill="#F8E59C" stroke-width="3.2"/><path d="M322.3 203.0L331.5 218.9L313.1 218.9Z" fill="#F7F6CE" stroke-width="3.2"/><path d="M227.2 189.9L236.4 205.8L218.0 205.8Z" fill="#7E1528" stroke-width="3.2"/><path d="M250.4 164.8L259.6 180.7L241.2 180.7Z" fill="#F7F6CE" stroke-width="3.2"/><circle cx="287.5" cy="240.6" r="7.7" fill="#F8E59C" stroke-width="3.2"/><path d="M220.0 206.2L229.2 222.1L210.8 222.1Z" fill="#F7F6CE" stroke-width="3.2"/><circle cx="254.5" cy="223.0" r="7.7" fill="#F8E59C" stroke-width="3.2"/><path d="M279.1 239.9L288.3 255.8L269.9 255.8Z" fill="#F7F6CE" stroke-width="3.2"/><path d="M298.1 183.6L307.3 199.5L288.9 199.5Z" fill="#F8E59C" stroke-width="3.2"/><circle cx="296.2" cy="205.0" r="7.7" fill="#F7F6CE" stroke-width="3.2"/><path d="M235.4 209.8L244.6 225.7L226.2 225.7Z" fill="#F8E59C" stroke-width="3.2"/><path d="M196.6 235.5L205.8 251.4L187.4 251.4Z" fill="#F5D174" stroke-width="3.2"/><circle cx="199.4" cy="198.6" r="7.7" fill="#F7F6CE" stroke-width="3.2"/><circle cx="225.7" cy="259.2" r="7.7" fill="#F7F6CE" stroke-width="3.2"/><circle cx="211.4" cy="186.0" r="7.7" fill="#F7F6CE" stroke-width="3.2"/><path d="M207.1 192.1L216.3 208.0L197.9 208.0Z" fill="#F8E59C" stroke-width="3.2"/><path d="M310.7 209.5L319.9 225.4L301.5 225.4Z" fill="#7E1528" stroke-width="3.2"/><path d="M255.2 218.0L264.4 233.9L246.0 233.9Z" fill="#F2AC4C" stroke-width="3.2"/><path d="M214.4 256.2L223.6 272.1L205.2 272.1Z" fill="#F7F6CE" stroke-width="3.2"/><circle cx="227.7" cy="188.1" r="7.7" fill="#F7F6CE" stroke-width="3.2"/><circle cx="275.1" cy="227.0" r="7.7" fill="#F8E59C" stroke-width="3.2"/><circle cx="242.9" cy="178.9" r="7.7" fill="#F7F6CE" stroke-width="3.2"/><path d="M229.7 218.3L238.9 234.2L220.5 234.2Z" fill="#F7F6CE" stroke-width="3.2"/><path d="M243.0 214.2L252.2 230.1L233.8 230.1Z" fill="#F8E59C" stroke-width="3.2"/><path d="M278.3 206.8L287.5 222.7L269.1 222.7Z" fill="#F7F6CE" stroke-width="3.2"/><circle cx="232.3" cy="260.1" r="7.7" fill="#F7F6CE" stroke-width="3.2"/><circle cx="260.5" cy="254.8" r="7.7" fill="#F7F6CE" stroke-width="3.2"/><path d="M305.0 183.6L314.2 199.5L295.8 199.5Z" fill="#F7F6CE" stroke-width="3.2"/><path d="M271.5 180.3L280.7 196.2L262.3 196.2Z" fill="#F8E59C" stroke-width="3.2"/><circle cx="311.5" cy="206.2" r="7.7" fill="#F7F6CE" stroke-width="3.2"/><path d="M267.0 192.7L276.2 208.6L257.8 208.6Z" fill="#F7F6CE" stroke-width="3.2"/><path d="M271.6 204.6L280.8 220.5L262.4 220.5Z" fill="#F7F6CE" stroke-width="3.2"/><path d="M229.9 202.7L239.1 218.6L220.7 218.6Z" fill="#F8E59C" stroke-width="3.2"/><circle cx="295.0" cy="233.0" r="7.7" fill="#F2AC4C" stroke-width="3.2"/><circle cx="288.0" cy="229.1" r="7.7" fill="#F7F6CE" stroke-width="3.2"/><path d="M202.1 226.6L211.3 242.5L192.9 242.5Z" fill="#F7F6CE" stroke-width="3.2"/><path d="M193.6 199.9L202.8 215.8L184.4 215.8Z" fill="#F5D174" stroke-width="3.2"/><circle cx="215.9" cy="194.0" r="7.7" fill="#F8E59C" stroke-width="3.2"/><path d="M267.8 240.6L277.0 256.5L258.6 256.5Z" fill="#F7F6CE" stroke-width="3.2"/><circle cx="216.2" cy="218.6" r="7.7" fill="#F2AC4C" stroke-width="3.2"/><circle cx="255.2" cy="201.7" r="7.7" fill="#F7F6CE" stroke-width="3.2"/><circle cx="302.8" cy="206.9" r="7.7" fill="#7E1528" stroke-width="3.2"/><path d="M214.5 221.1L223.7 237.0L205.3 237.0Z" fill="#F8E59C" stroke-width="3.2"/><path d="M222.6 239.5L231.8 255.4L213.4 255.4Z" fill="#F7F6CE" stroke-width="3.2"/><path d="M198.4 196.0L207.6 211.9L189.2 211.9Z" fill="#F7F6CE" stroke-width="3.2"/><path d="M237.1 178.7L246.3 194.6L227.9 194.6Z" fill="#F8E59C" stroke-width="3.2"/><path d="M286.9 239.6L296.1 255.5L277.7 255.5Z" fill="#F7F6CE" stroke-width="3.2"/><path d="M230.7 169.0L239.9 184.9L221.5 184.9Z" fill="#F7F6CE" stroke-width="3.2"/><path d="M229.1 261.6L238.3 277.5L219.9 277.5Z" fill="#F7F6CE" stroke-width="3.2"/><path d="M267.1 214.6L276.3 230.5L257.9 230.5Z" fill="#F8E59C" stroke-width="3.2"/><path d="M301.8 191.2L311.0 207.1L292.6 207.1Z" fill="#F8E59C" stroke-width="3.2"/><path d="M219.6 180.2L228.8 196.1L210.4 196.1Z" fill="#F2AC4C" stroke-width="3.2"/><circle cx="319.5" cy="199.7" r="7.7" fill="#F5D174" stroke-width="3.2"/><circle cx="260.6" cy="188.7" r="7.7" fill="#F8E59C" stroke-width="3.2"/><circle cx="288.9" cy="181.7" r="7.7" fill="#F7F6CE" stroke-width="3.2"/><circle cx="224.4" cy="274.7" r="7.7" fill="#F8E59C" stroke-width="3.2"/><circle cx="264.9" cy="261.8" r="7.7" fill="#F8E59C" stroke-width="3.2"/><path d="M261.5 205.1L270.7 221.0L252.3 221.0Z" fill="#7E1528" stroke-width="3.2"/><path d="M200.0 204.3L209.2 220.2L190.8 220.2Z" fill="#F8E59C" stroke-width="3.2"/><circle cx="306.4" cy="225.0" r="7.7" fill="#F7F6CE" stroke-width="3.2"/><circle cx="310.8" cy="232.6" r="7.7" fill="#F7F6CE" stroke-width="3.2"/><circle cx="249.6" cy="209.4" r="7.7" fill="#7E1528" stroke-width="3.2"/><path d="M206.7 247.3L215.9 263.2L197.5 263.2Z" fill="#F8E59C" stroke-width="3.2"/><path d="M255.5 236.0L264.7 251.9L246.3 251.9Z" fill="#F7F6CE" stroke-width="3.2"/><circle cx="262.2" cy="243.6" r="7.7" fill="#F7F6CE" stroke-width="3.2"/><path d="M220.3 190.8L229.5 206.7L211.1 206.7Z" fill="#F8E59C" stroke-width="3.2"/><path d="M226.1 226.2L235.3 242.1L216.9 242.1Z" fill="#F7F6CE" stroke-width="3.2"/><path d="M302.0 219.0L311.2 234.9L292.8 234.9Z" fill="#F7F6CE" stroke-width="3.2"/><circle cx="206.1" cy="205.1" r="7.7" fill="#F7F6CE" stroke-width="3.2"/><path d="M244.2 192.8L253.4 208.7L235.0 208.7Z" fill="#F7F6CE" stroke-width="3.2"/><path d="M190.4 230.8L199.6 246.7L181.2 246.7Z" fill="#F7F6CE" stroke-width="3.2"/><path d="M202.2 183.8L211.4 199.7L193.0 199.7Z" fill="#F7F6CE" stroke-width="3.2"/><circle cx="203.9" cy="187.6" r="7.7" fill="#F5D174" stroke-width="3.2"/><path d="M274.5 239.0L283.7 254.9L265.3 254.9Z" fill="#F7F6CE" stroke-width="3.2"/><path d="M234.1 263.5L243.3 279.4L224.9 279.4Z" fill="#F2AC4C" stroke-width="3.2"/><circle cx="227.7" cy="203.8" r="7.7" fill="#F7F6CE" stroke-width="3.2"/><circle cx="286.4" cy="213.6" r="7.7" fill="#F8E59C" stroke-width="3.2"/><path d="M293.2 192.3L302.4 208.2L284.0 208.2Z" fill="#F8E59C" stroke-width="3.2"/><path d="M305.9 211.4L315.1 227.3L296.7 227.3Z" fill="#F7F6CE" stroke-width="3.2"/><path d="M222.5 218.7L231.7 234.6L213.3 234.6Z" fill="#F7F6CE" stroke-width="3.2"/><path d="M241.9 223.9L251.1 239.8L232.7 239.8Z" fill="#F8E59C" stroke-width="3.2"/><circle cx="215.5" cy="238.4" r="7.7" fill="#F7F6CE" stroke-width="3.2"/><circle cx="282.8" cy="220.7" r="7.7" fill="#F8E59C" stroke-width="3.2"/><path d="M207.9 185.6L217.1 201.5L198.7 201.5Z" fill="#F7F6CE" stroke-width="3.2"/><path d="M295.0 173.2L304.2 189.1L285.8 189.1Z" fill="#F7F6CE" stroke-width="3.2"/><circle cx="243.0" cy="174.4" r="7.7" fill="#F7F6CE" stroke-width="3.2"/><circle cx="275.1" cy="198.6" r="7.7" fill="#F5D174" stroke-width="3.2"/><circle cx="230.8" cy="277.1" r="7.7" fill="#F7F6CE" stroke-width="3.2"/><circle cx="215.1" cy="235.1" r="7.7" fill="#F7F6CE" stroke-width="3.2"/><circle cx="321.8" cy="204.7" r="7.7" fill="#F8E59C" stroke-width="3.2"/><path d="M315.9 203.8L325.1 219.7L306.7 219.7Z" fill="#F7F6CE" stroke-width="3.2"/><circle cx="290.0" cy="193.8" r="7.7" fill="#7E1528" stroke-width="3.2"/><path d="M245.2 222.0L254.4 237.9L236.0 237.9Z" fill="#F2AC4C" stroke-width="3.2"/><path d="M228.0 248.2L237.2 264.1L218.8 264.1Z" fill="#F7F6CE" stroke-width="3.2"/><path d="M308.5 191.5L317.7 207.4L299.3 207.4Z" fill="#F8E59C" stroke-width="3.2"/><circle cx="206.0" cy="226.1" r="7.7" fill="#F8E59C" stroke-width="3.2"/><path d="M282.6 249.5L291.8 265.4L273.4 265.4Z" fill="#F8E59C" stroke-width="3.2"/><circle cx="284.1" cy="185.1" r="7.7" fill="#F8E59C" stroke-width="3.2"/><circle cx="235.5" cy="215.4" r="7.7" fill="#7E1528" stroke-width="3.2"/><circle cx="271.5" cy="192.5" r="7.7" fill="#F5D174" stroke-width="3.2"/><path d="M311.4 184.7L320.6 200.6L302.2 200.6Z" fill="#F7F6CE" stroke-width="3.2"/><circle cx="275.4" cy="243.9" r="7.7" fill="#F8E59C" stroke-width="3.2"/><path d="M206.8 240.6L216.0 256.5L197.6 256.5Z" fill="#7E1528" stroke-width="3.2"/><path d="M248.2 183.2L257.4 199.1L239.0 199.1Z" fill="#F7F6CE" stroke-width="3.2"/><path d="M247.9 226.6L257.1 242.5L238.7 242.5Z" fill="#F7F6CE" stroke-width="3.2"/><path d="M287.5 228.2L296.7 244.1L278.3 244.1Z" fill="#F7F6CE" stroke-width="3.2"/><path d="M294.3 204.4L303.5 220.3L285.1 220.3Z" fill="#F7F6CE" stroke-width="3.2"/><path d="M248.6 170.7L257.8 186.6L239.4 186.6Z" fill="#F7F6CE" stroke-width="3.2"/><path d="M236.5 218.1L245.7 234.0L227.3 234.0Z" fill="#F8E59C" stroke-width="3.2"/><path d="M288.9 196.5L298.1 212.4L279.7 212.4Z" fill="#F8E59C" stroke-width="3.2"/><circle cx="199.9" cy="252.5" r="7.7" fill="#F2AC4C" stroke-width="3.2"/><path d="M268.9 230.0L278.1 245.9L259.7 245.9Z" fill="#F7F6CE" stroke-width="3.2"/><circle cx="224.1" cy="178.1" r="7.7" fill="#F8E59C" stroke-width="3.2"/><circle cx="262.5" cy="237.0" r="7.7" fill="#F8E59C" stroke-width="3.2"/><circle cx="303.3" cy="215.3" r="7.7" fill="#F7F6CE" stroke-width="3.2"/><path d="M258.8 240.1L268.0 256.0L249.6 256.0Z" fill="#F7F6CE" stroke-width="3.2"/><path d="M267.2 216.9L276.4 232.8L258.0 232.8Z" fill="#7E1528" stroke-width="3.2"/><path d="M190.7 214.2L199.9 230.1L181.5 230.1Z" fill="#F7F6CE" stroke-width="3.2"/><circle cx="279.5" cy="258.0" r="7.7" fill="#F7F6CE" stroke-width="3.2"/><path d="M201.6 214.8L210.8 230.7L192.4 230.7Z" fill="#F7F6CE" stroke-width="3.2"/><circle cx="255.3" cy="254.7" r="7.7" fill="#F7F6CE" stroke-width="3.2"/><circle cx="194.7" cy="235.6" r="7.7" fill="#7E1528" stroke-width="3.2"/><circle cx="297.1" cy="222.2" r="7.7" fill="#F8E59C" stroke-width="3.2"/><path d="M275.1 211.4L284.3 227.3L265.9 227.3Z" fill="#F2AC4C" stroke-width="3.2"/><path d="M199.2 222.0L208.4 237.9L190.0 237.9Z" fill="#F7F6CE" stroke-width="3.2"/><path d="M237.2 248.2L246.4 264.1L228.0 264.1Z" fill="#F7F6CE" stroke-width="3.2"/><circle cx="263.0" cy="192.6" r="7.7" fill="#F8E59C" stroke-width="3.2"/><circle cx="306.0" cy="233.9" r="7.7" fill="#F7F6CE" stroke-width="3.2"/><path d="M212.2 204.4L221.4 220.3L203.0 220.3Z" fill="#F2AC4C" stroke-width="3.2"/><circle cx="221.8" cy="255.7" r="7.7" fill="#F2AC4C" stroke-width="3.2"/><path d="M294.2 230.5L303.4 246.4L285.0 246.4Z" fill="#F5D174" stroke-width="3.2"/><path d="M216.8 239.0L226.0 254.9L207.6 254.9Z" fill="#F7F6CE" stroke-width="3.2"/><circle cx="291.9" cy="224.7" r="7.7" fill="#7E1528" stroke-width="3.2"/><path d="M211.2 214.7L220.4 230.6L202.0 230.6Z" fill="#F2AC4C" stroke-width="3.2"/><path d="M213.7 190.0L222.9 205.9L204.5 205.9Z" fill="#F7F6CE" stroke-width="3.2"/><path d="M215.1 247.3L224.3 263.2L205.9 263.2Z" fill="#F8E59C" stroke-width="3.2"/><circle cx="259.9" cy="230.0" r="7.7" fill="#F8E59C" stroke-width="3.2"/><path d="M227.6 183.7L236.8 199.6L218.4 199.6Z" fill="#F7F6CE" stroke-width="3.2"/><path d="M242.9 241.3L252.1 257.2L233.7 257.2Z" fill="#F7F6CE" stroke-width="3.2"/><circle cx="231.2" cy="237.1" r="7.7" fill="#F2AC4C" stroke-width="3.2"/><circle cx="300.7" cy="242.4" r="7.7" fill="#F8E59C" stroke-width="3.2"/><circle cx="244.6" cy="244.2" r="7.7" fill="#F7F6CE" stroke-width="3.2"/><circle cx="268.1" cy="258.0" r="7.7" fill="#F7F6CE" stroke-width="3.2"/><circle cx="218.4" cy="181.7" r="7.7" fill="#7E1528" stroke-width="3.2"/><circle cx="251.4" cy="211.7" r="7.7" fill="#F8E59C" stroke-width="3.2"/><circle cx="230.8" cy="250.8" r="7.7" fill="#F8E59C" stroke-width="3.2"/><path d="M202.3 238.0L211.5 253.9L193.1 253.9Z" fill="#F7F6CE" stroke-width="3.2"/><path d="M255.2 252.2L264.4 268.1L246.0 268.1Z" fill="#F2AC4C" stroke-width="3.2"/><path d="M327.7 192.5L336.9 208.4L318.5 208.4Z" fill="#F7F6CE" stroke-width="3.2"/><path d="M258.4 226.0L267.6 241.9L249.2 241.9Z" fill="#F5D174" stroke-width="3.2"/><path d="M258.1 190.3L267.3 206.2L248.9 206.2Z" fill="#F7F6CE" stroke-width="3.2"/><path d="M273.3 223.9L282.5 239.8L264.1 239.8Z" fill="#7E1528" stroke-width="3.2"/><path d="M279.4 184.7L288.6 200.6L270.2 200.6Z" fill="#F8E59C" stroke-width="3.2"/><circle cx="272.9" cy="208.0" r="7.7" fill="#F5D174" stroke-width="3.2"/><path d="M239.4 183.4L248.6 199.3L230.2 199.3Z" fill="#F2AC4C" stroke-width="3.2"/><path d="M208.7 224.0L217.9 239.9L199.5 239.9Z" fill="#F7F6CE" stroke-width="3.2"/><path d="M241.3 197.2L250.5 213.1L232.1 213.1Z" fill="#F7F6CE" stroke-width="3.2"/><path d="M514.9 228.3L524.1 244.2L505.7 244.2Z" fill="#F7F6CE" stroke-width="3.2"/><circle cx="581.7" cy="214.9" r="7.7" fill="#F2AC4C" stroke-width="3.2"/><circle cx="529.1" cy="155.6" r="7.7" fill="#F7F6CE" stroke-width="3.2"/><circle cx="529.0" cy="207.2" r="7.7" fill="#F7F6CE" stroke-width="3.2"/><circle cx="573.3" cy="228.5" r="7.7" fill="#F2AC4C" stroke-width="3.2"/><path d="M543.7 164.3L552.9 180.2L534.5 180.2Z" fill="#F8E59C" stroke-width="3.2"/><path d="M480.9 234.4L490.1 250.3L471.7 250.3Z" fill="#F7F6CE" stroke-width="3.2"/><path d="M565.0 208.1L574.2 224.0L555.8 224.0Z" fill="#F7F6CE" stroke-width="3.2"/><circle cx="558.3" cy="177.0" r="7.7" fill="#F7F6CE" stroke-width="3.2"/><path d="M484.2 168.9L493.4 184.8L475.0 184.8Z" fill="#F7F6CE" stroke-width="3.2"/><path d="M502.9 222.9L512.1 238.8L493.7 238.8Z" fill="#7E1528" stroke-width="3.2"/><path d="M533.8 224.6L543.0 240.5L524.6 240.5Z" fill="#F2AC4C" stroke-width="3.2"/><circle cx="507.8" cy="191.2" r="7.7" fill="#F7F6CE" stroke-width="3.2"/><path d="M527.2 168.1L536.4 184.0L518.0 184.0Z" fill="#F2AC4C" stroke-width="3.2"/><circle cx="507.3" cy="195.8" r="7.7" fill="#F7F6CE" stroke-width="3.2"/><path d="M537.4 199.0L546.6 214.9L528.2 214.9Z" fill="#F8E59C" stroke-width="3.2"/><path d="M533.6 191.4L542.8 207.3L524.4 207.3Z" fill="#F8E59C" stroke-width="3.2"/><path d="M470.4 167.8L479.6 183.7L461.2 183.7Z" fill="#F7F6CE" stroke-width="3.2"/><path d="M553.4 200.1L562.6 216.0L544.2 216.0Z" fill="#F7F6CE" stroke-width="3.2"/><path d="M479.6 179.7L488.8 195.6L470.4 195.6Z" fill="#F8E59C" stroke-width="3.2"/><path d="M519.7 203.3L528.9 219.2L510.5 219.2Z" fill="#F7F6CE" stroke-width="3.2"/><path d="M493.5 177.4L502.7 193.3L484.3 193.3Z" fill="#F8E59C" stroke-width="3.2"/><circle cx="483.3" cy="197.7" r="7.7" fill="#F8E59C" stroke-width="3.2"/><circle cx="531.6" cy="181.4" r="7.7" fill="#F8E59C" stroke-width="3.2"/><circle cx="495.8" cy="193.8" r="7.7" fill="#F8E59C" stroke-width="3.2"/><circle cx="518.4" cy="176.9" r="7.7" fill="#F8E59C" stroke-width="3.2"/><path d="M525.8 221.1L535.0 237.0L516.6 237.0Z" fill="#F7F6CE" stroke-width="3.2"/><circle cx="511.6" cy="170.1" r="7.7" fill="#7E1528" stroke-width="3.2"/><path d="M560.8 202.1L570.0 218.0L551.6 218.0Z" fill="#F8E59C" stroke-width="3.2"/><path d="M488.5 228.3L497.7 244.2L479.3 244.2Z" fill="#F8E59C" stroke-width="3.2"/><circle cx="544.2" cy="142.0" r="7.7" fill="#F7F6CE" stroke-width="3.2"/><circle cx="509.0" cy="163.3" r="7.7" fill="#F7F6CE" stroke-width="3.2"/><circle cx="530.5" cy="166.2" r="7.7" fill="#F7F6CE" stroke-width="3.2"/><circle cx="491.4" cy="207.4" r="7.7" fill="#7E1528" stroke-width="3.2"/><circle cx="484.3" cy="179.0" r="7.7" fill="#F7F6CE" stroke-width="3.2"/><path d="M524.2 143.4L533.4 159.3L515.0 159.3Z" fill="#F8E59C" stroke-width="3.2"/><path d="M547.1 203.7L556.3 219.6L537.9 219.6Z" fill="#F8E59C" stroke-width="3.2"/><circle cx="479.3" cy="235.2" r="7.7" fill="#F8E59C" stroke-width="3.2"/><path d="M471.4 179.9L480.6 195.8L462.2 195.8Z" fill="#F2AC4C" stroke-width="3.2"/><circle cx="518.5" cy="188.1" r="7.7" fill="#7E1528" stroke-width="3.2"/><circle cx="471.3" cy="207.5" r="7.7" fill="#F7F6CE" stroke-width="3.2"/><path d="M509.2 140.6L518.4 156.5L500.0 156.5Z" fill="#F7F6CE" stroke-width="3.2"/><path d="M533.8 206.9L543.0 222.8L524.6 222.8Z" fill="#F7F6CE" stroke-width="3.2"/><circle cx="524.8" cy="205.1" r="7.7" fill="#F8E59C" stroke-width="3.2"/><circle cx="540.5" cy="135.1" r="7.7" fill="#F8E59C" stroke-width="3.2"/><path d="M499.4 165.6L508.6 181.5L490.2 181.5Z" fill="#F7F6CE" stroke-width="3.2"/><circle cx="560.3" cy="160.7" r="7.7" fill="#F8E59C" stroke-width="3.2"/><path d="M496.0 210.6L505.2 226.5L486.8 226.5Z" fill="#F7F6CE" stroke-width="3.2"/><circle cx="526.1" cy="185.8" r="7.7" fill="#F5D174" stroke-width="3.2"/><path d="M540.6 205.9L549.8 221.8L531.4 221.8Z" fill="#F7F6CE" stroke-width="3.2"/><circle cx="508.2" cy="237.0" r="7.7" fill="#F8E59C" stroke-width="3.2"/><path d="M514.1 185.1L523.3 201.0L504.9 201.0Z" fill="#F8E59C" stroke-width="3.2"/><path d="M518.1 219.7L527.3 235.6L508.9 235.6Z" fill="#F7F6CE" stroke-width="3.2"/><circle cx="525.9" cy="159.3" r="7.7" fill="#F8E59C" stroke-width="3.2"/><circle cx="537.5" cy="142.1" r="7.7" fill="#F2AC4C" stroke-width="3.2"/><circle cx="531.3" cy="175.3" r="7.7" fill="#F8E59C" stroke-width="3.2"/><path d="M516.2 194.4L525.4 210.3L507.0 210.3Z" fill="#F7F6CE" stroke-width="3.2"/><circle cx="511.4" cy="208.8" r="7.7" fill="#F8E59C" stroke-width="3.2"/><circle cx="605.2" cy="217.8" r="7.7" fill="#F5D174" stroke-width="3.2"/><circle cx="553.4" cy="183.5" r="7.7" fill="#F8E59C" stroke-width="3.2"/><path d="M602.8 215.5L612.0 231.4L593.6 231.4Z" fill="#F7F6CE" stroke-width="3.2"/><circle cx="503.3" cy="189.1" r="7.7" fill="#F7F6CE" stroke-width="3.2"/><path d="M496.8 214.3L506.0 230.2L487.6 230.2Z" fill="#7E1528" stroke-width="3.2"/><path d="M473.5 213.7L482.7 229.6L464.3 229.6Z" fill="#F7F6CE" stroke-width="3.2"/><circle cx="530.3" cy="221.9" r="7.7" fill="#F7F6CE" stroke-width="3.2"/><circle cx="508.4" cy="178.6" r="7.7" fill="#F7F6CE" stroke-width="3.2"/><circle cx="479.3" cy="205.0" r="7.7" fill="#F7F6CE" stroke-width="3.2"/><path d="M556.5 214.8L565.7 230.7L547.3 230.7Z" fill="#F7F6CE" stroke-width="3.2"/><path d="M514.3 143.2L523.5 159.1L505.1 159.1Z" fill="#F7F6CE" stroke-width="3.2"/><circle cx="523.9" cy="135.2" r="7.7" fill="#F5D174" stroke-width="3.2"/><path d="M495.2 222.8L504.4 238.7L486.0 238.7Z" fill="#7E1528" stroke-width="3.2"/><circle cx="551.8" cy="142.8" r="7.7" fill="#F8E59C" stroke-width="3.2"/><path d="M555.9 159.3L565.1 175.2L546.7 175.2Z" fill="#F8E59C" stroke-width="3.2"/><circle cx="588.5" cy="218.6" r="7.7" fill="#F8E59C" stroke-width="3.2"/><circle cx="555.2" cy="146.2" r="7.7" fill="#F7F6CE" stroke-width="3.2"/><path d="M487.9 187.8L497.1 203.7L478.7 203.7Z" fill="#F8E59C" stroke-width="3.2"/><path d="M555.9 181.9L565.1 197.8L546.7 197.8Z" fill="#F8E59C" stroke-width="3.2"/><circle cx="549.0" cy="227.6" r="7.7" fill="#F8E59C" stroke-width="3.2"/><path d="M507.1 167.5L516.3 183.4L497.9 183.4Z" fill="#F7F6CE" stroke-width="3.2"/><path d="M512.6 218.8L521.8 234.7L503.4 234.7Z" fill="#F8E59C" stroke-width="3.2"/><path d="M566.6 135.6L575.8 151.5L557.4 151.5Z" fill="#F8E59C" stroke-width="3.2"/><path d="M476.2 208.2L485.4 224.1L467.0 224.1Z" fill="#F2AC4C" stroke-width="3.2"/><path d="M495.4 202.3L504.6 218.2L486.2 218.2Z" fill="#F7F6CE" stroke-width="3.2"/><circle cx="573.5" cy="216.8" r="7.7" fill="#F7F6CE" stroke-width="3.2"/><circle cx="522.8" cy="184.2" r="7.7" fill="#F5D174" stroke-width="3.2"/><circle cx="564.3" cy="230.5" r="7.7" fill="#F8E59C" stroke-width="3.2"/><circle cx="560.3" cy="140.6" r="7.7" fill="#F8E59C" stroke-width="3.2"/><path d="M508.7 195.9L517.9 211.8L499.5 211.8Z" fill="#F7F6CE" stroke-width="3.2"/><circle cx="475.1" cy="237.1" r="7.7" fill="#F8E59C" stroke-width="3.2"/><circle cx="548.8" cy="220.1" r="7.7" fill="#F7F6CE" stroke-width="3.2"/><circle cx="570.4" cy="237.5" r="7.7" fill="#F2AC4C" stroke-width="3.2"/><path d="M544.1 137.1L553.3 153.0L534.9 153.0Z" fill="#F8E59C" stroke-width="3.2"/><circle cx="536.5" cy="148.3" r="7.7" fill="#F7F6CE" stroke-width="3.2"/><path d="M583.9 212.4L593.1 228.3L574.7 228.3Z" fill="#F8E59C" stroke-width="3.2"/><path d="M551.0 188.7L560.2 204.6L541.8 204.6Z" fill="#F8E59C" stroke-width="3.2"/><circle cx="563.9" cy="154.0" r="7.7" fill="#F7F6CE" stroke-width="3.2"/><circle cx="499.0" cy="234.3" r="7.7" fill="#F7F6CE" stroke-width="3.2"/><circle cx="575.3" cy="239.8" r="7.7" fill="#F7F6CE" stroke-width="3.2"/><circle cx="556.4" cy="151.5" r="7.7" fill="#F7F6CE" stroke-width="3.2"/><circle cx="485.8" cy="228.5" r="7.7" fill="#F7F6CE" stroke-width="3.2"/><path d="M496.8 163.8L506.0 179.7L487.6 179.7Z" fill="#F7F6CE" stroke-width="3.2"/><circle cx="536.0" cy="134.5" r="7.7" fill="#7E1528" stroke-width="3.2"/><path d="M484.0 203.0L493.2 218.9L474.8 218.9Z" fill="#F8E59C" stroke-width="3.2"/><path d="M559.8 195.4L569.0 211.3L550.6 211.3Z" fill="#F8E59C" stroke-width="3.2"/><circle cx="592.3" cy="211.6" r="7.7" fill="#7E1528" stroke-width="3.2"/><circle cx="532.4" cy="186.1" r="7.7" fill="#F7F6CE" stroke-width="3.2"/><circle cx="475.9" cy="173.5" r="7.7" fill="#F7F6CE" stroke-width="3.2"/><circle cx="474.4" cy="192.7" r="7.7" fill="#F7F6CE" stroke-width="3.2"/><circle cx="538.6" cy="165.0" r="7.7" fill="#F8E59C" stroke-width="3.2"/><path d="M594.2 212.0L603.4 227.9L585.0 227.9Z" fill="#7E1528" stroke-width="3.2"/><path d="M491.9 172.9L501.1 188.8L482.7 188.8Z" fill="#F7F6CE" stroke-width="3.2"/><circle cx="486.6" cy="241.9" r="7.7" fill="#F7F6CE" stroke-width="3.2"/><path d="M523.3 134.2L532.5 150.1L514.1 150.1Z" fill="#F7F6CE" stroke-width="3.2"/><path d="M508.9 205.4L518.1 221.3L499.7 221.3Z" fill="#F7F6CE" stroke-width="3.2"/><circle cx="545.0" cy="181.1" r="7.7" fill="#F7F6CE" stroke-width="3.2"/><path d="M487.1 159.0L496.3 174.9L477.9 174.9Z" fill="#F8E59C" stroke-width="3.2"/><path d="M552.7 191.1L561.9 207.0L543.5 207.0Z" fill="#F7F6CE" stroke-width="3.2"/><path d="M597.8 210.0L607.0 225.9L588.6 225.9Z" fill="#F8E59C" stroke-width="3.2"/><path d="M536.3 215.1L545.5 231.0L527.1 231.0Z" fill="#F7F6CE" stroke-width="3.2"/><circle cx="542.8" cy="227.9" r="7.7" fill="#F7F6CE" stroke-width="3.2"/><path d="M495.0 173.3L504.2 189.2L485.8 189.2Z" fill="#F7F6CE" stroke-width="3.2"/><circle cx="563.4" cy="223.5" r="7.7" fill="#F7F6CE" stroke-width="3.2"/><path d="M496.2 194.6L505.4 210.5L487.0 210.5Z" fill="#7E1528" stroke-width="3.2"/><circle cx="515.5" cy="179.1" r="7.7" fill="#F8E59C" stroke-width="3.2"/><path d="M531.8 133.7L541.0 149.6L522.6 149.6Z" fill="#F8E59C" stroke-width="3.2"/><path d="M516.5 217.5L525.7 233.4L507.3 233.4Z" fill="#F8E59C" stroke-width="3.2"/><path d="M534.2 150.6L543.4 166.5L525.0 166.5Z" fill="#F7F6CE" stroke-width="3.2"/><path d="M511.4 132.5L520.6 148.4L502.2 148.4Z" fill="#7E1528" stroke-width="3.2"/><circle cx="485.4" cy="190.2" r="7.7" fill="#F8E59C" stroke-width="3.2"/><circle cx="526.5" cy="213.3" r="7.7" fill="#F7F6CE" stroke-width="3.2"/><path d="M485.6 207.0L494.8 222.9L476.4 222.9Z" fill="#F7F6CE" stroke-width="3.2"/><circle cx="527.0" cy="145.6" r="7.7" fill="#F7F6CE" stroke-width="3.2"/><circle cx="485.1" cy="204.6" r="7.7" fill="#F8E59C" stroke-width="3.2"/><circle cx="520.1" cy="160.2" r="7.7" fill="#EF8B3E" stroke-width="3.2"/><path d="M585.5 201.0L594.7 216.9L576.3 216.9Z" fill="#7E1528" stroke-width="3.2"/><circle cx="476.2" cy="232.5" r="7.7" fill="#F8E59C" stroke-width="3.2"/><circle cx="578.7" cy="210.0" r="7.7" fill="#F7F6CE" stroke-width="3.2"/><circle cx="545.6" cy="154.2" r="7.7" fill="#F8E59C" stroke-width="3.2"/><circle cx="489.5" cy="224.9" r="7.7" fill="#F2AC4C" stroke-width="3.2"/><circle cx="544.7" cy="195.6" r="7.7" fill="#F5D174" stroke-width="3.2"/><circle cx="540.1" cy="161.1" r="7.7" fill="#F7F6CE" stroke-width="3.2"/><circle cx="556.2" cy="217.7" r="7.7" fill="#7E1528" stroke-width="3.2"/><circle cx="587.3" cy="230.7" r="7.7" fill="#7E1528" stroke-width="3.2"/><circle cx="524.0" cy="168.7" r="7.7" fill="#F8E59C" stroke-width="3.2"/><circle cx="548.2" cy="189.8" r="7.7" fill="#F8E59C" stroke-width="3.2"/><path d="M501.0 210.0L510.2 225.9L491.8 225.9Z" fill="#F7F6CE" stroke-width="3.2"/><path d="M518.9 210.4L528.1 226.3L509.7 226.3Z" fill="#F7F6CE" stroke-width="3.2"/><circle cx="502.4" cy="199.7" r="7.7" fill="#F8E59C" stroke-width="3.2"/><circle cx="549.5" cy="173.0" r="7.7" fill="#F7F6CE" stroke-width="3.2"/><circle cx="538.7" cy="180.8" r="7.7" fill="#F7F6CE" stroke-width="3.2"/><circle cx="503.8" cy="155.6" r="7.7" fill="#F7F6CE" stroke-width="3.2"/><path d="M586.0 231.5L595.2 247.4L576.8 247.4Z" fill="#F7F6CE" stroke-width="3.2"/><path d="M568.8 143.0L578.0 158.9L559.6 158.9Z" fill="#F7F6CE" stroke-width="3.2"/><circle cx="567.9" cy="211.3" r="7.7" fill="#F7F6CE" stroke-width="3.2"/><path d="M548.1 150.0L557.3 165.9L538.9 165.9Z" fill="#F8E59C" stroke-width="3.2"/><path d="M558.1 224.4L567.3 240.3L548.9 240.3Z" fill="#F8E59C" stroke-width="3.2"/><circle cx="577.9" cy="224.8" r="7.7" fill="#F2AC4C" stroke-width="3.2"/><path d="M520.0 125.4L529.2 141.3L510.8 141.3Z" fill="#F7F6CE" stroke-width="3.2"/><path d="M551.9 204.9L561.1 220.8L542.7 220.8Z" fill="#F7F6CE" stroke-width="3.2"/><path d="M472.4 172.2L481.6 188.1L463.2 188.1Z" fill="#F7F6CE" stroke-width="3.2"/><path d="M472.3 193.8L481.5 209.7L463.1 209.7Z" fill="#F8E59C" stroke-width="3.2"/><circle cx="544.2" cy="188.2" r="7.7" fill="#F7F6CE" stroke-width="3.2"/><path d="M518.0 141.4L527.2 157.3L508.8 157.3Z" fill="#F8E59C" stroke-width="3.2"/><circle cx="506.9" cy="220.4" r="7.7" fill="#F8E59C" stroke-width="3.2"/><path d="M546.1 161.0L555.3 176.9L536.9 176.9Z" fill="#F2AC4C" stroke-width="3.2"/><circle cx="508.2" cy="208.9" r="7.7" fill="#F7F6CE" stroke-width="3.2"/><path d="M536.6 188.4L545.8 204.3L527.4 204.3Z" fill="#F8E59C" stroke-width="3.2"/><path d="M524.2 217.3L533.4 233.2L515.0 233.2Z" fill="#F7F6CE" stroke-width="3.2"/><circle cx="467.2" cy="181.9" r="7.7" fill="#F7F6CE" stroke-width="3.2"/><circle cx="567.6" cy="222.4" r="7.7" fill="#F2AC4C" stroke-width="3.2"/><circle cx="529.7" cy="193.8" r="7.7" fill="#F8E59C" stroke-width="3.2"/><path d="M539.7 194.7L548.9 210.6L530.5 210.6Z" fill="#F8E59C" stroke-width="3.2"/><path d="M582.5 223.0L591.7 238.9L573.3 238.9Z" fill="#F7F6CE" stroke-width="3.2"/><circle cx="539.0" cy="156.4" r="7.7" fill="#F8E59C" stroke-width="3.2"/><path d="M484.5 215.1L493.7 231.0L475.3 231.0Z" fill="#F7F6CE" stroke-width="3.2"/><path d="M548.5 137.3L557.7 153.2L539.3 153.2Z" fill="#F7F6CE" stroke-width="3.2"/><path d="M536.9 226.7L546.1 242.6L527.7 242.6Z" fill="#F8E59C" stroke-width="3.2"/><path d="M520.9 186.8L530.1 202.7L511.7 202.7Z" fill="#F8E59C" stroke-width="3.2"/><circle cx="507.2" cy="167.2" r="7.7" fill="#7E1528" stroke-width="3.2"/><circle cx="703.1" cy="248.6" r="7.7" fill="#F8E59C" stroke-width="3.2"/><circle cx="716.6" cy="187.8" r="7.7" fill="#F8E59C" stroke-width="3.2"/><circle cx="751.4" cy="245.2" r="7.7" fill="#7E1528" stroke-width="3.2"/><circle cx="675.4" cy="201.2" r="7.7" fill="#F5D174" stroke-width="3.2"/><circle cx="721.7" cy="191.8" r="7.7" fill="#F5D174" stroke-width="3.2"/><circle cx="682.1" cy="249.2" r="7.7" fill="#F7F6CE" stroke-width="3.2"/><circle cx="670.5" cy="221.3" r="7.7" fill="#F7F6CE" stroke-width="3.2"/><circle cx="688.5" cy="235.0" r="7.7" fill="#F8E59C" stroke-width="3.2"/><circle cx="695.7" cy="248.5" r="7.7" fill="#F5D174" stroke-width="3.2"/><circle cx="678.9" cy="188.6" r="7.7" fill="#F7F6CE" stroke-width="3.2"/><circle cx="722.5" cy="247.7" r="7.7" fill="#7E1528" stroke-width="3.2"/><circle cx="684.1" cy="192.3" r="7.7" fill="#F8E59C" stroke-width="3.2"/><circle cx="745.8" cy="257.4" r="7.7" fill="#F7F6CE" stroke-width="3.2"/><circle cx="717.2" cy="256.4" r="7.7" fill="#F7F6CE" stroke-width="3.2"/><circle cx="677.8" cy="219.7" r="7.7" fill="#F7F6CE" stroke-width="3.2"/><circle cx="706.8" cy="201.5" r="7.7" fill="#F8E59C" stroke-width="3.2"/><circle cx="683.9" cy="229.6" r="7.7" fill="#F7F6CE" stroke-width="3.2"/><circle cx="681.5" cy="212.6" r="7.7" fill="#7E1528" stroke-width="3.2"/><circle cx="675.9" cy="194.3" r="7.7" fill="#F8E59C" stroke-width="3.2"/><circle cx="742.3" cy="246.7" r="7.7" fill="#F7F6CE" stroke-width="3.2"/><circle cx="727.8" cy="256.8" r="7.7" fill="#F7F6CE" stroke-width="3.2"/><circle cx="685.1" cy="204.5" r="7.7" fill="#7E1528" stroke-width="3.2"/><circle cx="679.8" cy="236.8" r="7.7" fill="#F7F6CE" stroke-width="3.2"/><circle cx="743.2" cy="194.4" r="7.7" fill="#F8E59C" stroke-width="3.2"/><path d="M713.0 184.0L722.2 199.9L703.8 199.9Z" fill="#F5D174" stroke-width="3.2"/><circle cx="691.1" cy="192.2" r="7.7" fill="#7E1528" stroke-width="3.2"/><circle cx="698.9" cy="256.9" r="7.7" fill="#F8E59C" stroke-width="3.2"/><circle cx="728.3" cy="187.0" r="7.7" fill="#F7F6CE" stroke-width="3.2"/><circle cx="697.4" cy="187.7" r="7.7" fill="#F7F6CE" stroke-width="3.2"/><circle cx="673.9" cy="230.2" r="7.7" fill="#F7F6CE" stroke-width="3.2"/><circle cx="697.1" cy="203.7" r="7.7" fill="#7E1528" stroke-width="3.2"/><circle cx="753.6" cy="192.2" r="7.7" fill="#F8E59C" stroke-width="3.2"/><circle cx="740.0" cy="254.1" r="7.7" fill="#F7F6CE" stroke-width="3.2"/><circle cx="701.2" cy="194.4" r="7.7" fill="#F7F6CE" stroke-width="3.2"/><circle cx="733.2" cy="192.2" r="7.7" fill="#F8E59C" stroke-width="3.2"/><circle cx="709.5" cy="256.0" r="7.7" fill="#F5D174" stroke-width="3.2"/><circle cx="716.5" cy="202.6" r="7.7" fill="#F7F6CE" stroke-width="3.2"/><circle cx="686.2" cy="221.8" r="7.7" fill="#F7F6CE" stroke-width="3.2"/><circle cx="710.4" cy="246.2" r="7.7" fill="#F8E59C" stroke-width="3.2"/><circle cx="671.2" cy="210.4" r="7.7" fill="#7E1528" stroke-width="3.2"/><circle cx="689.4" cy="187.0" r="7.7" fill="#F7F6CE" stroke-width="3.2"/><circle cx="731.2" cy="243.8" r="7.7" fill="#7E1528" stroke-width="3.2"/><circle cx="156.0" cy="160.0" r="7.7" fill="#F2AC4C"/><circle cx="159.3" cy="167.9" r="7.7" fill="#F2AC4C"/><circle cx="162.1" cy="146.3" r="7.7" fill="#F8E59C"/><circle cx="163.8" cy="160.0" r="7.7" fill="#F8E59C"/><circle cx="177.5" cy="160.0" r="7.7" fill="#F8E59C"/><circle cx="172.9" cy="140.1" r="7.7" fill="#7E1528"/><circle cx="181.4" cy="157.7" r="7.7" fill="#7E1528"/><circle cx="224.0" cy="136.0" r="7.7" fill="#7E1528"/><circle cx="201.3" cy="160.0" r="7.7" fill="#7E1528"/><circle cx="216.1" cy="141.8" r="7.7" fill="#F5D174"/><circle cx="232.0" cy="139.5" r="7.7" fill="#7E1528"/><circle cx="251.8" cy="144.1" r="7.7" fill="#F8E59C"/><circle cx="264.9" cy="141.8" r="7.7" fill="#7E1528"/><circle cx="242.2" cy="157.7" r="7.7" fill="#F7F6CE"/><circle cx="258.6" cy="158.8" r="7.7" fill="#F5D174"/><circle cx="209.3" cy="169.0" r="7.7" fill="#F8E59C"/><circle cx="224.0" cy="170.2" r="7.7" fill="#F7F6CE"/><circle cx="236.5" cy="173.6" r="7.7" fill="#7E1528"/><circle cx="269.4" cy="169.0" r="7.7" fill="#F8E59C"/><circle cx="255.8" cy="177.6" r="7.7" fill="#F7F6CE"/><circle cx="289.9" cy="166.8" r="7.7" fill="#F8E59C"/><circle cx="296.7" cy="180.4" r="7.7" fill="#F8E59C"/><circle cx="317.1" cy="179.3" r="7.7" fill="#F8E59C"/><circle cx="337.5" cy="166.8" r="7.7" fill="#F8E59C"/><circle cx="331.9" cy="175.8" r="7.7" fill="#F2AC4C"/><circle cx="360.8" cy="167.3" r="7.7" fill="#F8E59C"/><circle cx="337.5" cy="194.0" r="7.7" fill="#F8E59C"/><circle cx="330.7" cy="203.0" r="7.7" fill="#F8E59C"/><circle cx="341.0" cy="197.0" r="7.7" fill="#F8E59C"/><circle cx="333.0" cy="201.0" r="7.7" fill="#F7F6CE"/><circle cx="303.5" cy="196.8" r="7.7" fill="#F8E59C"/><path d="M318.2 194.7L327.4 210.6L309.0 210.6Z" fill="#7E1528"/><circle cx="229.7" cy="186.0" r="7.7" fill="#E95235"/><circle cx="204.7" cy="200.8" r="7.7" fill="#F5D174"/><circle cx="225.7" cy="210.5" r="7.7" fill="#F7F6CE"/><path d="M244.4 197.7L253.6 213.6L235.2 213.6Z" fill="#F2AC4C"/><path d="M277.9 187.7L287.1 203.6L268.7 203.6Z" fill="#F8E59C"/><path d="M262.6 188.7L271.8 204.6L253.4 204.6Z" fill="#F2AC4C"/><circle cx="281.3" cy="185.0" r="7.7" fill="#F7F6CE"/><path d="M280.2 205.7L289.4 221.6L271.0 221.6Z" fill="#E95235"/><path d="M304.6 207.7L313.8 223.6L295.4 223.6Z" fill="#D62323"/><circle cx="218.3" cy="227.5" r="7.7" fill="#F7F6CE"/><path d="M192.2 224.7L201.4 240.6L183.0 240.6Z" fill="#F8E59C"/><path d="M192.2 219.7L201.4 235.6L183.0 235.6Z" fill="#F7F6CE"/><path d="M192.2 212.7L201.4 228.6L183.0 228.6Z" fill="#F7F6CE"/><path d="M266.0 210.7L275.2 226.6L256.8 226.6Z" fill="#F7F6CE"/><path d="M294.4 216.7L303.6 232.6L285.2 232.6Z" fill="#F8E59C"/><path d="M263.8 233.7L273.0 249.6L254.6 249.6Z" fill="#F2AC4C"/><path d="M275.1 233.7L284.3 249.6L265.9 249.6Z" fill="#7E1528"/><path d="M289.9 233.7L299.1 249.6L280.7 249.6Z" fill="#F2AC4C"/><path d="M247.3 227.7L256.5 243.6L238.1 243.6Z" fill="#F7F6CE"/><path d="M226.3 233.7L235.5 249.6L217.1 249.6Z" fill="#F7F6CE"/><path d="M242.0 244.7L251.2 260.6L232.8 260.6Z" fill="#F7F6CE"/><path d="M280.2 244.7L289.4 260.6L271.0 260.6Z" fill="#F8E59C"/><circle cx="282.0" cy="260.0" r="7.7" fill="#F7F6CE"/><circle cx="196.8" cy="247.9" r="7.7" fill="#F7F6CE"/><circle cx="212.7" cy="262.7" r="7.7" fill="#F2AC4C"/><circle cx="236.0" cy="266.0" r="7.7" fill="#7E1528"/><circle cx="223.4" cy="269.5" r="7.7" fill="#F7F6CE"/><circle cx="217.2" cy="284.2" r="7.7" fill="#F7F6CE"/><circle cx="225.1" cy="283.1" r="7.7" fill="#F8E59C"/><circle cx="237.6" cy="290.0" r="7.7" fill="#7E1528"/><circle cx="251.8" cy="293.3" r="7.7" fill="#F8E59C"/><path d="M197.3 139.7L206.5 155.6L188.1 155.6Z" fill="#F7F6CE"/><path d="M199.0 122.7L208.2 138.6L189.8 138.6Z" fill="#F8E59C"/><circle cx="520.7" cy="135.1" r="7.7" fill="#7E1528"/><circle cx="556.1" cy="137.5" r="7.7" fill="#F8E59C"/><circle cx="564.2" cy="139.1" r="7.7" fill="#EF8B3E"/><circle cx="506.3" cy="156.0" r="7.7" fill="#EF8B3E"/><circle cx="522.3" cy="150.4" r="7.7" fill="#F8E59C"/><circle cx="558.5" cy="151.2" r="7.7" fill="#F8E59C"/><path d="M531.2 129.7L540.4 145.6L522.0 145.6Z" fill="#F8E59C"/><circle cx="533.2" cy="163.2" r="7.7" fill="#F5D174"/><circle cx="612.4" cy="139.9" r="7.7" fill="#F7F6CE"/><path d="M487.8 171.0L497.0 186.9L478.6 186.9Z" fill="#7E1528"/><path d="M478.9 166.7L488.1 182.6L469.7 182.6Z" fill="#F7F6CE"/><path d="M550.5 173.4L559.7 189.3L541.3 189.3Z" fill="#7E1528"/><path d="M549.7 162.7L558.9 178.6L540.5 178.6Z" fill="#F7F6CE"/><path d="M505.5 175.0L514.7 190.9L496.3 190.9Z" fill="#EF8B3E"/><path d="M519.9 170.7L529.1 186.6L510.7 186.6Z" fill="#F8E59C"/><path d="M511.9 188.7L521.1 204.6L502.7 204.6Z" fill="#F2AC4C"/><path d="M530.4 185.7L539.6 201.6L521.2 201.6Z" fill="#F8E59C"/><circle cx="551.7" cy="194.6" r="7.7" fill="#F8E59C"/><circle cx="479.7" cy="209.9" r="7.7" fill="#F8E59C"/><path d="M493.0 202.7L502.2 218.6L483.8 218.6Z" fill="#F7F6CE"/><path d="M528.0 201.7L537.2 217.6L518.8 217.6Z" fill="#F2AC4C"/><circle cx="540.8" cy="209.1" r="7.7" fill="#F7F6CE"/><circle cx="550.5" cy="215.5" r="7.7" fill="#7E1528"/><circle cx="562.5" cy="218.8" r="7.7" fill="#D62323"/><path d="M575.4 206.7L584.6 222.6L566.2 222.6Z" fill="#F8E59C"/><circle cx="606.8" cy="214.0" r="7.7" fill="#7E1528"/><circle cx="598.7" cy="214.7" r="7.7" fill="#7E1528"/><circle cx="480.5" cy="242.9" r="7.7" fill="#F7F6CE"/><circle cx="480.5" cy="230.0" r="7.7" fill="#F7F6CE"/><circle cx="501.4" cy="237.3" r="7.7" fill="#F7F6CE"/><path d="M514.3 221.7L523.5 237.6L505.1 237.6Z" fill="#F8E59C"/><circle cx="531.2" cy="228.4" r="7.7" fill="#F5D174"/><circle cx="549.7" cy="230.0" r="7.7" fill="#F7F6CE"/><circle cx="585.0" cy="225.0" r="7.7" fill="#EF8B3E"/><circle cx="585.0" cy="251.0" r="7.7" fill="#F7F6CE"/><path d="M585.0 230.7L594.2 246.6L575.8 246.6Z" fill="#F8E59C"/><circle cx="632.6" cy="142.2" r="7.7" fill="#F7F6CE"/><circle cx="626.3" cy="142.8" r="7.7" fill="#7E1528"/><circle cx="612.7" cy="140.0" r="7.7" fill="#F7F6CE"/><circle cx="655.3" cy="137.1" r="7.7" fill="#F7F6CE"/><circle cx="672.3" cy="133.2" r="7.7" fill="#F2AC4C"/><circle cx="689.9" cy="133.2" r="7.7" fill="#EF8B3E"/><circle cx="703.5" cy="133.2" r="7.7" fill="#F2AC4C"/><circle cx="743.0" cy="146.0" r="7.7" fill="#F7F6CE"/><circle cx="742.1" cy="143.4" r="7.7" fill="#F7F6CE"/><circle cx="776.2" cy="132.6" r="7.7" fill="#F8E59C"/><circle cx="760.3" cy="157.0" r="7.7" fill="#F8E59C"/><circle cx="772.8" cy="157.0" r="7.7" fill="#F5D174"/><circle cx="795.5" cy="147.9" r="7.7" fill="#F8E59C"/><circle cx="807.4" cy="137.7" r="7.7" fill="#F5D174"/><circle cx="720.6" cy="178.6" r="7.7" fill="#7E1528"/><circle cx="688.8" cy="187.7" r="7.7" fill="#F7F6CE"/><circle cx="712.6" cy="183.1" r="7.7" fill="#F7F6CE"/><circle cx="697.9" cy="188.8" r="7.7" fill="#F5D174"/><circle cx="721.7" cy="188.8" r="7.7" fill="#F5D174"/><circle cx="730.8" cy="195.6" r="7.7" fill="#F8E59C"/><circle cx="744.4" cy="191.1" r="7.7" fill="#F8E59C"/><circle cx="756.9" cy="193.3" r="7.7" fill="#F5D174"/><circle cx="711.5" cy="201.3" r="7.7" fill="#F7F6CE"/><circle cx="734.2" cy="204.7" r="7.7" fill="#F7F6CE"/><circle cx="704.7" cy="210.4" r="7.7" fill="#F7F6CE"/><circle cx="721.7" cy="210.4" r="7.7" fill="#F7F6CE"/><circle cx="680.0" cy="206.4" r="7.7" fill="#F2AC4C"/><circle cx="686.8" cy="213.2" r="7.7" fill="#EF8B3E"/><circle cx="669.2" cy="217.7" r="7.7" fill="#F5D174"/><circle cx="683.0" cy="232.5" r="7.7" fill="#7E1528"/><circle cx="675.4" cy="234.2" r="7.7" fill="#F8E59C"/><circle cx="732.0" cy="225.7" r="7.7" fill="#F7F6CE"/><circle cx="743.5" cy="224.5" r="7.7" fill="#F7F6CE"/><circle cx="691.3" cy="248.4" r="7.7" fill="#F7F6CE"/><circle cx="728.8" cy="246.0" r="7.7" fill="#F7F6CE"/><circle cx="742.4" cy="245.0" r="7.7" fill="#F7F6CE"/><path d="M705.5 240.7L714.7 256.6L696.3 256.6Z" fill="#F8E59C"/><path d="M718.0 244.7L727.2 260.6L708.8 260.6Z" fill="#F7F6CE"/><circle cx="758.3" cy="240.4" r="7.7" fill="#7E1528"/><circle cx="769.6" cy="235.9" r="7.7" fill="#F7F6CE"/><circle cx="778.7" cy="239.3" r="7.7" fill="#F8E59C"/><circle cx="750.3" cy="262.0" r="7.7" fill="#F7F6CE"/><circle cx="750.9" cy="252.9" r="7.7" fill="#F8E59C"/><circle cx="823.9" cy="186.5" r="7.7" fill="#F8E59C"/><circle cx="814.5" cy="224.5" r="7.7" fill="#F5D174"/><circle cx="814.8" cy="224.0" r="7.7" fill="#F5D174"/><circle cx="828.7" cy="235.9" r="7.7" fill="#EF8B3E"/><circle cx="829.3" cy="249.5" r="7.7" fill="#F2AC4C"/><circle cx="802.6" cy="252.9" r="7.7" fill="#F2AC4C"/><circle cx="810.5" cy="267.7" r="7.7" fill="#EF8B3E"/><circle cx="812.2" cy="288.1" r="7.7" fill="#F2AC4C"/><circle cx="835.5" cy="207.5" r="7.7" fill="#F8E59C"/><circle cx="846.8" cy="215.4" r="7.7" fill="#F8E59C"/><path d="M844.6 197.7L853.8 213.6L835.4 213.6Z" fill="#7E1528"/><path d="M848.0 158.7L857.2 174.6L838.8 174.6Z" fill="#F5D174"/><path d="M856.0 159.7L865.2 175.6L846.8 175.6Z" fill="#F7F6CE"/><path d="M858.0 167.7L867.2 183.6L848.8 183.6Z" fill="#F7F6CE"/><circle cx="768.5" cy="281.3" r="7.7" fill="#7E1528"/><circle cx="751.5" cy="289.0" r="7.7" fill="#7E1528"/><path d="M755.5 270.7L764.7 286.6L746.3 286.6Z" fill="#F8E59C"/><circle cx="757.7" cy="296.0" r="7.7" fill="#EF8B3E"/><circle cx="781.6" cy="305.1" r="7.7" fill="#F7F6CE"/><path d="M698.6 298.0L707.8 313.9L689.4 313.9Z" fill="#F7F6CE"/><path d="M351.0 331.6L360.2 347.5L341.8 347.5Z" fill="#F2AC4C"/><path d="M324.9 404.9L334.1 420.8L315.7 420.8Z" fill="#7E1528"/><path d="M324.9 397.6L334.1 413.5L315.7 413.5Z" fill="#F7F6CE"/><path d="M318.0 428.5L327.2 444.4L308.8 444.4Z" fill="#EF8B3E"/><path d="M330.0 435.4L339.2 451.3L320.8 451.3Z" fill="#F8E59C"/><path d="M316.0 457.7L325.2 473.6L306.8 473.6Z" fill="#F7F6CE"/><path d="M316.0 452.7L325.2 468.6L306.8 468.6Z" fill="#F8E59C"/><path d="M315.3 445.7L324.5 461.6L306.1 461.6Z" fill="#F7F6CE"/><path d="M322.7 471.5L331.9 487.4L313.5 487.4Z" fill="#F8E59C"/><path d="M324.2 484.3L333.4 500.2L315.0 500.2Z" fill="#F8E59C"/><path d="M341.9 492.5L351.1 508.4L332.7 508.4Z" fill="#7E1528"/><path d="M592.1 331.7L601.3 347.6L582.9 347.6Z" fill="#F5D174"/><path d="M565.5 384.9L574.7 400.8L556.3 400.8Z" fill="#F7F6CE"/><path d="M791.2 351.9L800.4 367.8L782.0 367.8Z" fill="#F8E59C"/><path d="M802.5 350.5L811.7 366.4L793.3 366.4Z" fill="#F8E59C"/><path d="M821.7 343.7L830.9 359.6L812.5 359.6Z" fill="#F8E59C"/><circle cx="861.1" cy="465.7" r="7.7" fill="#F7F6CE"/><circle cx="849.8" cy="475.6" r="7.7" fill="#F8E59C"/><path d="M849.8 454.7L859.0 470.6L840.6 470.6Z" fill="#E95235"/><circle cx="932.0" cy="446.0" r="7.7" fill="#F7F6CE"/><circle cx="938.0" cy="463.0" r="7.7" fill="#F7F6CE"/><circle cx="934.0" cy="455.0" r="7.7" fill="#F8E59C"/><circle cx="918.0" cy="466.0" r="7.7" fill="#F7F6CE"/><circle cx="890.2" cy="488.2" r="7.7" fill="#F8E59C"/><circle cx="901.5" cy="486.2" r="7.7" fill="#F8E59C"/><path d="M911.7 461.0L920.9 476.9L902.5 476.9Z" fill="#F8E59C"/><path d="M894.8 467.7L904.0 483.6L885.6 483.6Z" fill="#F8E59C"/></g><rect x="80.00" y="557.20" width="91.30" height="28.60" fill="#F7F6CE"/><rect x="171.00" y="557.20" width="91.30" height="28.60" fill="#F8E59C"/><rect x="262.00" y="557.20" width="91.30" height="28.60" fill="#F5D174"/><rect x="353.00" y="557.20" width="91.30" height="28.60" fill="#F2AC4C"/><rect x="444.00" y="557.20" width="91.30" height="28.60" fill="#EF8B3E"/><rect x="535.00" y="557.20" width="91.30" height="28.60" fill="#E95235"/><rect x="626.00" y="557.20" width="91.30" height="28.60" fill="#D62323"/><rect x="717.00" y="557.20" width="91.30" height="28.60" fill="#B21C2B"/><rect x="808.00" y="557.20" width="91.30" height="28.60" fill="#7E1528"/><rect x="80.00" y="557.20" width="819.00" height="28.60" fill="none" stroke="#3a3a3a" stroke-width="1.7"/><line x1="171.0" y1="585.8" x2="171.0" y2="577.8" stroke="#3a3a3a" stroke-width="1.3"/><line x1="353.0" y1="585.8" x2="353.0" y2="577.8" stroke="#3a3a3a" stroke-width="1.3"/><line x1="535.0" y1="585.8" x2="535.0" y2="577.8" stroke="#3a3a3a" stroke-width="1.3"/><line x1="717.0" y1="585.8" x2="717.0" y2="577.8" stroke="#3a3a3a" stroke-width="1.3"/><line x1="853.5" y1="585.8" x2="853.5" y2="577.8" stroke="#3a3a3a" stroke-width="1.3"/><g font-size="38.5" fill="#404040" text-anchor="middle"><text x="80.0" y="644">0</text><text x="171.0" y="644">5</text><text x="353.0" y="644">15</text><text x="535.0" y="644">25</text><text x="717.0" y="644">35</text><text x="853.5" y="644">&gt;40</text></g><text transform="translate(907.0 591) scale(1 1.03)" font-size="42.5" fill="#000">Rt</text></g><g transform="translate(1135.6 0.0)"><text transform="translate(499.3 41.6) scale(1 1.065)" font-size="43.4" text-anchor="middle" fill="#000">Mean resilience in DS drought</text><text transform="translate(0.6 36.6) scale(0.97 1.06)" font-size="46" font-weight="bold" fill="#000">b</text><path d="M197.6 131.4l2.7-0.2 -1 0.9 1.8 0 1.7 0.4 1-0.2 1.1 0.3 2.3 0.2 0.1-0.1 0.9 1 3.5-0.8 -0.9 1 3.1-0.6 -0.1 0.4 2.9 0.1 -0.8 1 2.4-0.7 1.5 0.3 3.2-0.2 -0.7 1.2 1.7-0.2 0.5 0.4 0.3 1.6 2.3-0.2 0.7 0.2 3.7-0.7 0-0.2 3.7-0.4 2.3 0.1 1.6-1.2 1 0.2 2.7-0.8 1.6 0.4 2.9-0.2 1.6-0.3 -0.2 0.9 3.4-0.4 0.5 1.3 0.6 0 3.1 0.1 1.8 0.1 2 0 0.3 0.3 1.4 0 1.5 0.3 1.2 0.4 0.3 0.3 3.3-0.6 0.2 1.1 2.1-0.5 2.5-0.2 1.6 0.5 1.3 0.2 -0.4 1.2 1.5 0.6 1.1 0 3.1-0.8 1.7 0.2 1.9-0.3 0.6-0.4 1.7 0 3.3-0.3 -0.2 1.5 1.5-0.4 2-0.3 0.3 0.5 0.5 1 2.8-0.2 2.9-0.1 2.1-0.1 2-1 2.1-2.4 2.3-1.8 4.9-2 1.6-1.9 -0.4 3.7 0.7 1.6 1.6-0.1 0.4 1.1 1.7 0.6 1.8-0.5 1.4 1.1 1.1-0.5 4.7-2 2.9 0.3 0-0.2 3.3-0.6 0.2 2.1 -2.3 3.5 -3.9 1 -2.6 1.1 -1.3 0.5 -4.4 2.4 -3.3 2.9 -3.4 1.4 -2.3 0.9 -2.4 0.4 -3 0.9 -2.9 2 -2.1 1.2 -5.1 2.7 -1.8 2.5 -3.1 3.1 0.5 4.2 2.4 0.8 2-0.3 1.3 0.9 0.9 0.8 2.9 1.3 1.1 0.8 1.3 0.8 2 1.1 1.6 0.7 2 0 2 0.2 -1.2 2.9 -1.1 2.9 1.2 4.3 3.5 0 1.3-2.4 1.3-2.4 1.4-2.4 3.5-2.9 3.4-2.8 1.6-2.7 2.5-3 0.3-2.6 -0.5-3 2.2-2.7 2.5-3.6 2.1 0.2 0.6 0.1 2.5-0.6 2 0.6 1.1 1.3 1.9 0.4 1.5 1.5 0.5 2.7 -0.1 2.9 2.1 0.8 1.5 0.6 2.4-1.6 1.6-0.9 3.4-1.7 1.5-0.8 0.1 2.8 1.2 2.5 0.5 2.5 0.5 4.3 1.9 1.3 0.4 1.6 1.6 1.3 1.1 1.9 1.2 2 1.2 1.9 -4.4 2.9 -2.3 1.3 -2.4 1.2 -2.3 1.3 -1.9 0 -1.9 0 -1.8 0 -1.9 0 -1.8 0 -2 0.2 -2 0.2 -2 0.2 -2.6 1.6 -2.6 1.7 -2.5 1.7 -3.2 2.2 -3.1 2.2 3-2 3.1-1.9 3.1-2 2 0 2.1 0 2 0 2.1 0 -2.1 2.7 -0.3 2.5 -0.2 2.5 2.2 0.6 2.2 0.6 2.2 0.6 4-1.2 -4.3 2.4 -2.7 1 -2.7 1 -2.4 1 -2.3 1 -2.3 1 1.2-3.8 -3.9 0.8 -2.2 0.8 -2.3 0.8 -2.3 0.8 -2.8 3.3 0.9 2.7 -4.1 1.2 -2.2 0.7 -2.3 0.7 -2.3 0.7 -1 3.3 -3 1.8 -3 1.8 -0.4 4 -0.5 2.7 -0.4 2.7 -4.3 1.8 -2.9 1.7 -3 1.7 -4.8 3.9 -1.8 2.6 -1.7 2.5 0.2 2.6 0.3 2.5 0.2 2.5 0.5 4.6 -1.7 3.9 -2-0.3 -1.4-4.2 -1.1-4 -0.1-3 -1.9-3 -2.5-0.6 -2.4-0.7 -2.5-0.1 -2.6-0.2 -4.2 1.6 -0.1 2.7 -3.1 0 -2-0.6 -2-0.6 -2-0.6 -4 0.6 -2.6 1.7 -2.5 1.7 -2.6 1.7 -1 2.7 -0.9 2.8 -1.1 3 -1.1 3 -0.5 3.1 -0.5 3 0.7 4.5 2.5 4.3 3.6 2.7 2.2-0.4 2.3-0.4 2.2-0.4 2.8-1.2 2.2-4.6 1.4-2.4 2.7-0.2 2.6-0.2 2.7-0.2 -1.9 4.5 -1.9 4.6 -1.4 4.5 -1.7 3.7 2.4-0.2 2.4-0.1 2.6 0 2.6 0 2.2 1.3 2.1 1.4 -0.5 3 -0.4 3 -0.4 3.1 -0.8 3 2.9 4.5 3.9 2.2 4.1-2.2 2.6 1.4 2.6 1.4 1.9 0 1.8-2.9 1.9-2.9 2.8-1.2 2.7-1.2 2.4-1.7 2.4-1.6 1.9 2.7 2.8-2.1 2.5 2.4 2.5 2.4 2.7 0.5 2.6 0.5 2.7 0.5 2.2-0.5 2.3-0.5 2.2-0.5 3.9 1.8 2.5 4.6 2.6 2.2 2.6 2.3 2.6 1 2.7 1 2.6 1 2.2 1 2.2 1.1 2.2 1 4 3 1.2 3.3 1.3 3.3 0 2.8 0 2.7 4 3.6 2.4 0.3 2.3 0.2 2.4 0.2 2.3 0.2 2.2 0.8 2.1 0.8 2.2 0.8 2.1 0.8 2.2 0.8 2.2 1 2.3 1 2.2 1 2.2 1.3 2.2 1.3 2.3 1.3 2.2 1.3 0.2 2.5 0.2 2.5 0.3 2.5 -1.7 3.1 -1.7 3 -1.7 3 -1.9 3 -1.9 3.1 -0.2 2.4 -0.1 2.4 -0.2 2.4 -0.1 2.5 -0.2 2.4 -0.7 3 -0.7 3 -0.7 3.1 -1.1 3 -1.2 3 -2.5 1.5 -2.5 1.5 -2.5 1.3 -2.5 1.2 -2.1 1.2 -2.1 1.2 -2.1 1.2 -0.6 2.5 -0.6 2.5 -0.6 2.6 -2 4.5 -1.6 3 -1.5 3.1 -1.3 2.5 -1.3 2.5 -1.3 2.5 -1.8 4 -2.5 0.1 -2.5 0.2 -3.5 1.8 2.2 4.5 -1.5 4.6 -1.9 0.3 -1.9 0.3 -1.9 0.3 -2 0.3 -1.9 0.3 0.3 2.7 0.4 2.7 -2.2 0.2 -2.1 0.2 -2.2 0.2 1.3 4.5 2.9 1.5 -0.9 3 -0.9 2.9 -1.8 2 -1.7 1.9 5 4.4 -1.5 3.3 -1.5 3.2 0.1 4.4 2.4 2.6 -2.9 1.7 5.1 3.8 2.6 1 2.7 1 -2.7 1.4 -2.4-0.4 -2.5-0.4 -3-1.7 -3-1.8 -3.3-2.1 -3.2-2.2 -2.2-2.4 -2.3-2.4 -2.2-2.5 -0.4-2.9 -0.4-3 -0.3-2.9 -0.5-3 -0.5-3 -0.4-2.9 -0.5-3 -2-4.5 -0.5-2.6 -0.5-2.7 -0.5-2.6 -0.4-2.7 0-2.5 0.1-2.5 0-2.5 0.1-2.5 0.2-2.5 0.1-2.6 -0.7-3 -0.6-3 -0.6-3.1 0.3-3 0.3-3 0.4-3 -0.2-2.5 -0.2-2.4 -0.2-2.4 -0.1-2.4 -0.2-2.5 -0.3-2.7 -0.4-2.7 -0.3-2.7 -0.3-2.8 -0.4-2.7 -3.5-3.9 -2.5-1.3 -2.4-1.3 -2.5-1.3 -2.4-1.3 -2-3 -2-3 -1.8-3 -1.8-3.1 -1.2-2.6 -1.1-2.7 -1.2-2.6 -1.1-2.7 -3.1-3 -3-3 0.2-2.6 0.1-2.6 1.8-2.7 -0.3-3.6 -0.3-3.7 0.6-2.7 0.7-2.7 2.7-2.4 1.4-3.7 3.3-3.6 0.1-2.5 0.1-2.6 0.1-2.5 -1.8-3 -0.7-2.4 -2.3 1.2 -2.3 1.2 -2.6-1.5 -2.7-0.5 -2.6-0.4 -2.2-1.7 -2.1-1.8 -2.1-1.7 -0.6-3 -2-2.9 -2.1-2.9 -2.5-0.9 -2.6-0.9 -2.6-0.7 -2.6-0.8 -3.5-4.5 -3.7-2.2 -2.7 0.8 -2.8 0.8 -2.5-0.9 -2.5-1 -2.1-1.2 -2-1.2 -2.1-1.2 -2-0.8 -2.1-0.8 -2.1-0.8 -2.1-3.3 -2.1-3.4 1.2-3 -1.3-2.6 -1.2-2.6 -1.5-2.7 -1.4-2.7 -2.9-4.5 -2.7-4.6 -2.6-4.5 -1.9-3.4 -1.7-3.3 0.1 2.6 0 2.6 0.6 2.5 0.6 2.5 0.6 2.5 0.5 3.1 0.6 3 0.7 3 3 4.6 -2-3.1 -3.4-2.4 -1.2-2.7 -1.1-2.7 -1-2.8 -2.2-1.5 2.5-1.5 -2-4.5 -0.4-2.8 -0.4-2.7 -0.8-2.7 -1.8-4 -2.4-0.7 -2.4-0.8 -0.3-3.1 -0.3-3.2 0.2-3.6 -0.4-2.6 -0.4-2.6 -0.1-2.7 1.6-2.4 1.5-2.4 2-3 2-3 1.9-3.2 2-3.3 1.2-3.3 1.2-3.2 1.8 0.3 1.8 0.3 1.4-3.9 -2.5-1.4 -1.3-1 -1.2-1 -1.2-0.9 2.2-4.4 0-2.9 0.1-2.9 0.2-2.8 -0.1-2.1 -0.5-2.2 -0.7-0.9 -0.7-1.7 -0.1-1.6 -2.4-0.5 -1.1-0.4 -0.9-0.9 -0.1-1.3 -1.7-0.5 -1.9 0 -1.3-0.6 -1-0.2 -2.7 0.2 -1-1.2 -1.2 0.2 -0.7-1.2 -2.2 0.3 -3.9 1.4 -3.2 0.7 -3.2 1.2 -3 0.7 -1.8 0.1 5.3-4.1 -4.4 2.8 -4.1 1.9 -6.7 4.2 -2.6 0.9 -4.9 1.4 -2.1 0.5 -3 1.1 -4.4 1.8 -2.6 0 -3.2 0.6 -2.4 0.8 -2.4 0.5 -2.4 0.5 -2.3 0.4 2.8-0.9 2.3-0.5 3.5-1.4 3.3-1.4 5.1-1.8 2.8-1.1 8-4.2 -2.1-0.3 -0.8-0.1 -1.6-0.5 -0.2-1.1 -0.9-1.6 -2.4-0.2 0.8-1.2 -1.4-0.6 1.2-2.7 7.3-4.1 4.4-1.5 1.9-0.1 4.1-1.8 2-0.7 -1.2-0.3 -2.9 0.3 -0.7-0.2 -3.7 0.2 -1.8 0 -0.6-1.6 0.5-1.3 0.2 0.1 4.5-1.5 2.3 0.2 1.4 0 2.9-1.2 2.6-1.1 2.4 0.4 -0.6-1.4 0.9-1.8 -0.8-0.7 -0.2-1.3 2.6-0.5 1.9-0.7 5.1-1.4 2 0 3.2-1.1 3.6-0.9 1.7 0 5-1.1 1.9-0.6M479.8 232.2l2.4 0.5 2.4 0.6 2.5 0.5 2.5 0.5 2.5-1 2.5-1.1 2.5-1 2.5-1 2.5-1 2.3-0.1 2.2-0.2 2.3-0.1 2.2-0.1 2.3-0.1 2-0.3 2.1-0.3 2.1-0.3 2.5 1.2 -1.1 3.3 1.4 2.4 -2.5 2.4 2.7 3.1 2.5 0.6 2.6 0.6 3 0.7 2.9 0.8 2.3 2 2.3 1.9 2.6 1.1 2.6 1 2.4-2.7 -0.1-2.4 2.4-2.4 2.5 0.3 2.6 0.3 2.7 1.5 2.6 1.5 2.6 0.6 2.6 0.6 2.6 0.6 2.6-0.6 2.5-0.6 2.9 0.3 3 0.3 1.1 4 1.5 3.6 1.4 3.6 1.2 2.7 1.2 2.6 1.1 2.7 1.2 2.6 2.5 3.1 2.6 3 0.6 3 0.6 3 0.6 3.1 3.3 3 1 2.5 1 2.5 1 2.6 4.2 4.5 3.1 2.3 3 2.2 0.4 3.1 3.3 3.3 2.2-0.7 2.2-0.7 2.2-0.7 2.2-0.4 2.2-0.5 2.2-0.4 2.2-0.4 2.2-0.4 -0.3 3.9 -0.7 2.4 -0.7 2.5 -0.8 2.4 -0.7 2.4 -0.7 2.4 -2 3 -1.9 3.1 -1.8 2.5 -1.7 2.5 -1.8 2.5 -2.2 2.6 -2.2 2.5 -2.2 2.5 -2.7 2.3 -2.7 2.3 -4.1 4.5 -1.9 4.5 -0.1 3.1 0 3 0.2 3 0.2 3.1 2.5 4.5 -0.1 2.6 -0.1 2.7 -0.1 2.6 -0.1 2.7 -0.8 3 -0.8 3 -2.7 1.9 -2.8 1.8 -2.7 1.8 -2.8 3.3 -2.8 3.4 0.5 3 0.4 3 -0.1 3 -0.2 3.1 -2.4 1.9 -2.4 1.9 -2.4 1.9 -0.5 2.7 -0.5 2.6 -0.6 2.6 -4.2 4.5 -2.9 4 -2.3 2 -2.3 2 -2.3 2 -2.4 1.1 -2.4 1.1 -2.7 0 -2.7 0 -2.7 0 -2.1 0.8 -2.2 0.8 -2.2 0.8 -1.9-0.9 -2-0.9 -0.1-2.6 -0.1-2.6 -0.8-4.5 -1.5-3.7 -1.5-3.6 -1.6-3.2 -1.5-3.2 -0.4-2.6 -0.4-2.7 -0.4-2.6 -0.4-2.7 -0.9-2.5 -0.9-2.5 -0.9-2.5 -1.3-3.1 -1.4-3 -1.3-3 0.2-2.5 0.2-2.6 0.2-2.5 1.4-2.5 1.3-2.5 1.4-2.5 -0.2-3.1 -0.3-3 -0.2-3 -0.6-2.7 -0.6-2.6 -0.5-2.7 -0.6-2.6 -2.1-4.6 -1.8-2.5 -1.8-2.5 -1.8-2.5 -0.1-2.6 -0.2-2.5 -0.2-2.5 0.3-3 0.2-3.1 0.3-4.5 -3-1.5 -4 0.3 -4 0.6 -1.3-3.2 -1.4-3.2 -2.6 0 -2.7 0 -4 1.2 -2.3 0.9 -2.2 1 -2.2 0.9 -2.2-0.2 -2.3-0.2 -2.2-0.2 -2.3 0.6 -2.4 0.6 -2.3 0.6 -2.4 0.6 -2.6-1.7 -2.7-1.7 -2.7-2.1 -2.6-2.1 -4-3.3 -0.8-4.6 -2.2-2.2 -2.2-2.3 -2.3-2.3 -2.2-2.3 -0.6-3.3 -0.6-3.3 1.9-4.6 0.4-2.8 0.3-2.8 0.3-2.8 -1-3.1 -0.9-3 1.4-4.5 2-2.8 2.1-2.7 0.7-2.6 0.7-2.5 2-2.6 2.1-2.6 3.9-1.8 2.2-1.8 2.3-1.8 0.3-3.1 0.3-3 1.5-2.7 1.5-2.7 2.2-1.1 2.2-1.1 1.2-2.7 1.2-2.7M625.8 376.9l0.6 2.7 0.6 2.6 0.5 2.7 0.6 2.6 -1.4 3.1 -1.4 3 -1.1 2.6 -1.2 2.7 -1.2 2.6 -1.2 2.7 -0.8 2.9 -0.8 3 -0.8 2.9 -0.9 3 -2.5 0.9 -2.6 0.9 -1.8-3 -1.8-3 -0.2-3.1 -0.2-3 1.6-3 1.7-3.1 -0.2-2.5 -0.2-2.5 -0.2-2.5 3.2-1.8 3.1-1.9 2.4-2.7 2.4-2.7 1.9-3 1.9-3.1M480.5 231.6l-1.7-2.4 -2.7-1.2 -3.8 0.6 0.2-2.6 0.2-2.6 -1.7-0.3 0.9-2.5 0.8-2.6 0.4-4.5 -1.1-3 3.3-2.1 2.4 0.2 2.4 0.2 2.4 0.2 1.9 0.1 2 0.1 1.9 0.1 1.9 0 1.3-3.3 0.2-4.4 -2.3-3.6 -2.7-1 -2.7-1 -0.2-2.1 3.8-0.6 3.2 0.6 0.3-3.2 3.5 0.8 3.5-2.3 2.3-2.6 2.2-1.2 2.3-2.9 1-2.3 2.3-0.3 2.2-0.3 3.4-0.9 0.2-4.3 -1.3-4.2 1.4-1.2 2.4-1.1 1.3 3.1 0.5 4.3 1.1 2.9 3.3-1.2 2.1 0.7 2.1 0.8 2.4-0.9 2.3-0.9 2.2-0.4 2.2-0.4 2.4 1.1 3-3.1 -0.6-3.7 1.9-2 2.4 0.3 2.8 0.5 -2.3-3.6 0.7-2.2 2 0.3 0.5-0.9 2.2 0.5 2.9-0.4 0.9-0.1 2.5-0.7 1.5-0.7 -2.5-1.4 -1.8 0.5 -2.2-0.7 -2.3 0.5 -1.8 0 -1.5 1 -1.7-0.3 -2.3 0.4 -2.8-4.1 -0.7-4.1 1.6-1.2 3-2 0.7-1.7 1.9-1 -3.4-1.6 -1.5-0.2 -2.4 1 -1.1 2.6 -1.8 1 -2.3 1.7 -2.8 2.7 0.1 4.1 3.6 2.8 -1.3 2.8 -1.5 2.5 -1.1 3.1 -1.3 2.3 -1.8 0.7 -1.6 1.6 -3.1-0.6 -0.9-2.6 -1.8-3.4 -1.6-3.6 -1.6-0.8 -2.1 0.8 -3.1 2.5 -1.5 0.1 -2.9-0.6 -1.6-3.4 -0.8-4.2 0.9-3.5 3-1.9 1.1-0.6 3-1.2 0.9-0.9 2.9-2.2 2.8-3.1 2.5-4 2.2-1 1.4-1.6 1.5-0.9 1.1-1.4 1.8-1 1.6-0.9 1.8-0.4 1.2 0.3 2.5-1.4 1.6 0.6 1.2-1.2 2.7-0.7 1.1 0.7 2.6-0.1 1.2 0.5 1-0.4 2.5 0.5 0.6 1.3 2.1 0 2.9 0.2 1.6 1.8 0.9-0.1 3.2 1.5 2.1-0.1 1.5 0.2 4 1.8 1 0 2.9 1.9 1.9 0.4 -0.3 2.1 -1.2 0.8 -2.5 0.3 -1-0.9 -2.8-0.2 -1.9 1.4 -1.5-0.8 -1.7 0.1 -2.6-1.4 1.3 2.5 3 2.2 2.7 1.2 1.7 0.1 3.1 0 0.6-0.5 3.5 0.5 0.7-3.9 1.2-0.9 3.9 0.7 0.8-0.4 -1.1-2.8 -0.9-2.6 2.3-0.1 1.7 0.3 2.5 1.3 1.9-0.4 3-0.1 0.7-0.3 1.1-0.8 1.3 0.1 3.3-0.8 0.2-0.5 3.4 1 2.3 0.3 0.9-1.3 2.1-0.3 0.5-0.3 3.2 0.1 0.9-2.1 2.6 1.1 1.5-0.3 2.2 0.6 1.3 0.1 2.3 0.1 0.8 1.5 2.8-0.9 2 1.1 -1.6-2 0-1.9 -1.4-2.4 -0.3-2.2 -0.2-2.7 1.9 0.4 2.7 0.8 3.5 3.7 0.8 2.7 1.6 2.4 4.5 2.5 0.1-1.8 -2.4-3.3 -4.5-3.7 0.9-1.6 1.1-0.9 2.2 1 2.5 0.2 2.6 0 -0.2-0.7 2.2-0.5 1.9-0.7 -0.2-1.7 1.1 0 2.4-0.4 1.6 0.1 -0.6-0.9 1.8 0 -0.4-2.4 2.1-0.3 1.8-0.5 0.8-1.3 0.4 0.4 1.5-0.7 1.8-0.3 1.8 0.2 -0.2-0.1 3-0.1 0-0.4 1.5-0.1 1.4-0.3 2.6 0.1 -2.4-1.5 2.9-0.5 0-0.3 3.4 0.6 -0.5-1.2 1 0 3.1 0.8 2.5 0.8 1.8 0.6 2.4 0.8 2.4 0.1 3 0.7 1.1-0.5 1.7 0.2 1.8 0.9 4.4 2 2.7 2.3 0.2-0.2 2.9 0.8 2.5-0.1 0.5-0.4 3.3 1.1 1.2 0 0.3-0.6 2.3 0.1 2.3 0.9 0.9-0.9 0.8 0 3.3 0 1.2 0.5 3.6 1 -0.2-0.9 1.6 1.2 2 0 2.5 0.4 4.5 2.2 4.8 2.2 3 0.5 -0.7-0.4 1.6-0.1 1.9-1.4 -0.2 0.4 2.3-0.2 1-0.2 0.4-0.9 2.2 0 0.1-0.3 0.4-0.8 2-0.3 2.5 0.2 0.6 0.4 1.5-0.6 3.2 0.4 1.2-0.2 1.3 0.4 1.6-0.1 1.7 0.1 1.9 0.4 3.1 1 1.3-0.2 2.4 0.7 0.9 0.3 1.8-0.5 4.3 1 0.8-0.4 1 0.7 2.4 0.1 0.3-0.3 3.1 0.1 2.7 0.6 2 0.3 0.2 0.2 3.1 0.4 1.6 0.8 4.3 0.4 0.2 0.2 3.9 0.2 -1.6-0.7 2.3 0.3 3.9 0.8 1-0.7 2.6 0.3 2.2 0.6 0.1-0.8 0.6-0.2 3.3 0.7 -0.2-1.2 1.5 1 1.9-0.7 2.5 1.1 0.7-0.6 2.7 0.2 3.2 0.6 1.2 0.5 2.2 0.4 1.4 0.4 3.4 0.4M860.8 147.6l0.4 0.8 -2.6 0.5 3.6 3.1 1.8 2.3 -1.2 0.4 -1 0.9 -1.5 0.7 -0.6 0.8 0.9 1.5 -2.5 0.4 1.2 1.2 -1.2 1 -1.9-0.1 -1.5 0.6 -1.9-0.2 -1 0.4 -1.5-0.1 -2.1-0.2 -2.2 0.5 -1.2 0.5 1.6 2.4 2.7 3.2 6.9 4.3 0.2 2.1 -0.6 1.7 -0.3 1.9 0.6 2.9 0.5 2.8 -0.2 3 -3.5-3 -3.6-2.8 -3.2-2.9 -3.2-2.4 -3.3-3.3 -2.3-4.3 1.7-1.4 -1.1-2.2 -1.7-2.3 -0.9-2.5 -0.6-2.1 -0.7-2 1-1.4 -1.1 0.9 -1.3 0.6 -0.5 1.3 -1.3-0.1 -2.4-0.1 -0.7 0.3 -2.5-0.6 -1.6 0.5 -0.1 1.3 -1.4 0.7 0 0.8 0.7 1.8 -1.4 0.9 -1.9 0.4 -2.1-0.4 -0.6-0.1 -2.6 0.2 -0.8 0.5 -2.1 0 -0.7 0.4 -3.6-0.8 -1 0.5 -1.6-0.3 -1.8 0.2 -1.7 1.2 -0.3 1 0.4 2.5 0 2.3 1.8 2.7 -0.6 2.4 3.7 2.9 2.3 0.4 2.3 0.5 2.3 0.5 6.1 4.3 1.6 3 1.6 2.9 1.5 2.9 0.2 3 0.1 2.9 0.1 3 -0.8 2.5 -0.7 2.4 -0.8 2.5 -2.2 0.5 -2.1 0.5 -2.1 0.5 -2 0.8 -1.9 0.7 1.3 4.5 -1.2 4.5 2.7 3 2.1 2.6 2 2.5 2 2.5 0 2.7 -1.8 0.7 -1.8 0.7 -1.8 0.7 -2.2-3.3 -0.5-4.5 -3-1.5 -2.9-1.5 -2.1-3.1 -2.2-3 -1.9 1 -2 1 -2 1 -1.9-2.7 -2-2.7 -1.3 2.4 -1.3 2.4 -2.2 2.1 3.3 3.1 2.9 0.9 2.5-0.2 2.4-0.2 2.4-0.2 -1.6 2.1 -1.6 2.1 -2.3 3.6 2.7 2.8 2.6 2.9 2.6 2.8 4.1 3.6 0.6 3.5 0.5 3.5 -1 3 -1.2 3.1 -1.4 4.5 -2.1 2.3 -2.2 2.2 -2.4 1.3 -2.4 1.2 -2.4 1.2 -2.4 0.8 -2.5 0.8 -2.5 0.8 -2.1 3 -1.3-3 -2.3 0 -2.2 0 -3.4 3 -0.6 4.6 2 4.5 3.1 3 3 3.1 1.1 3 1.1 3 1 3 -1.7 4.6 -2.5 1.1 -2.6 1 -1.8 2.4 -1.8 2.5 -0.9-4.6 -2.4-0.4 -2.5-0.5 -1.5-2.7 -1.6-2.7 -3.3-3.4 -2.2 1.2 -0.5 2.6 -0.5 2.5 -0.5 2.5 1.7 3.5 1.7 3.5 2.9 3.9 2.4 2.1 2.4 2.1 0.8 3.5 0.8 3.5 1.1 2.7 1.2 2.8 -2.2 0.3 -3-2.5 -3-2.4 -1.3-2.4 -1.3-2.4 -0.4-3.1 -0.4-3 -2.6-2.3 -2.7-2.2 0.4-3.1 0.3-3 -0.5-3 -0.5-3 -0.7-2.8 -0.7-2.7 -0.7-2.7 -0.8-2.7 -0.8-2.8 -3.5-0.9 -2.4 1.2 -2.3 1.3 -0.5-2.6 -0.5-2.5 -0.5-2.5 -4.1-4.6 -3.3-4.5 -1.7-3 -2.4 1.5 -3.8 0.6 -2.6 0.4 -2.6 0.5 -0.7 4.5 -1.9 2.1 -2 2 -1.9 2 -2 2.3 -2 2.2 -2.6 2 -2.5 2 0.3 3.3 0.2 3.3 -0.3 3.1 -0.3 3 -0.9 2.6 -0.9 2.5 -3.8 4 -2.8-3.1 -1.1-2.5 -1-2.5 -1-2.5 -1.1-2.5 -1.1-2.6 -1-2.5 -1.4-3 -1.3-3 -1.3-3.1 -0.7-2.5 -0.8-2.5 -0.7-2.5 -0.5-4.6 -1.1-3 -2.4 1.8 -2.4 1.8 -4.4-4.5 2.3-2.1 -4.1-1.6 -3.5-3 -2.4-2.7 -2.3 0.1 -2.3 0.1 -2.4 0.2 -2.3 0.1 -2.3 0.1 -2.4-0.3 -2.3-0.3 -2.3-0.3 -2.3-0.3 -4.4-4.3 -1.9-0.6 -3.9 2.2 -2.5-1.4 -2.5-1.3 -2.5-1.3 -2.2-2.6 -2.3-2.5 -4.2-2.5 -2.3 1.6 0.9 2.4 0.9 2.4 3.1 4.2 3 4 1 2.4 2 1.2 -0.2-4.5 0.8 2.7 0.8 2.7 2.6-0.3 2.5-0.3 2.4-1.9 2.4-2 0.5-2.4 1.3 3.4 1.3 3.5 2.6 2.3 2.6 2.3 2.7 0.6 -1.5 2.7 -1.5 2.7 -1.7 4.6 -2.1 1.8 -2.1 1.8 -2.4 2.4 -2.6 1.5 -2.5 1.6 -2.5 1.5 -2.6 1.5 -2.6 1.5 -2.5 1.5 -2.1 0.7 -2.1 0.8 -2.1 0.7 -2.1 0.7 -2.1 0.7 -4 0.3 -0.8-2.8 -0.8-2.8 -0.9-2.8 -0.8-4.6 -1.4-2.5 -1.5-2.5 -1.5-2.5 -2.8-3.1 -2.8-3 -1-2.5 -1-2.6 -1.1-2.5 -2.1-3 -2.2-3 -2.2-3.1 -2.2-3 -0.6-4.5 -0.7 2.5 -0.7 2.6 -2.3-3.2 -2.4-3.1 -1.1-4 2.4-0.1 2.4-0.2 0.8-2.6 0.7-2.5 0.8-3.1 0.8-3 -0.2-2.7 -0.2-2.7 -3.8 0 -2.3 1 -2.4 1.1 -2.6-0.3 -2.5-0.3 -2.6-0.8 -2.6-0.7 -3.2-2.1 -2.5-4.6 -1.1-3.9 0-1.8 -2.8 0.2 -2.8 0.1 -2.3 1.5 -1.1-0.6 2.5 3 -0.8 3.9 2.5 0.7 -2.9 1.5 -0.4 3.3 -2.2-1.5 -1.2-2.7 -0.3-2.6 -0.4-2.6 -2.2-1.5 -2.2-1.5 -0.4-4.5 -2.1-1.3 -2.2-1.3 -2.1-1.3 -2.6-1.8 -2.5-1.8 -3.1-3.2 -3.5 0.9 0.6 2.9 3.1 2.4 2.2 3.9 3.8 2.1 2.1 1.3 2.2 1.3 2.1 1.3 -3.4 3.6 -0.8 3.1 -2.3 0 0.5-4.6 -1.4-1.8 -3.8-2.7 -2.6-1.5 -2.5-1.5 -3.8-3 -3.8-3.9 -3.6 1.5 -3.5 2.1 -3.7-1.2 -3.6 1.5 0.5 3 -2.9 2.4 -3.2 1.8 -2.2 3.3 1 2.4 -2.2 3.4 -3.6 2.7 -3 0.1 -3 0.2 -2.8 1.8M143.7 137.4l-0.7 1.1 1.4 0.4 0.7 0.1 4-0.2 -0.8 1.4 0.9 0 0.5 0.9 -0.3 0.8 2.9-0.8 0.8 1.2 1.5 0.9 -1.6 1.8 -3.1 1.1 -3.4 0.2 -6.4 3.2 -1.6-0.8 -1-0.3 0.4-1.3 -2.4 0.5 -1.1-1.3 -2.3 0.4 -3.7 0.9M565.7 215.9l2.5 0.2 2.5 0.1 2.2-1.3 2.3-1.4 2.4 0 2.5 0 2.6 1 2.6 1 2.6 1 2.1-0.4 2.1-0.3 2-0.4 2.1-0.4 -0.3-3 -3-2.2 -2.9-2.3 -2.7-1.2 -2.6-1.1 0.7-2.6 0.8-2.5 -2 0.9 -1.9 0.9 -1.9 0.9 -2 0.9 -3.2 2.3 -2.8-2.6 -4.1-3.6 -1.9 3.3 -2 2.9 -1.8 4.5 0.5 4.2 2.6 1.2M612.3 200.1l-2 1.5 -2.1 1.5 -0.1 4.4 3.4 4.5 2.5 3 2.4 3 0 3 0 3 3.2 3.7 2.6 0.5 2.6 0.5 2.6 0.5 2.1-2.1 -1.3-3.1 -1.2-3 -2.3-4.5 3.3-1.5 -2.6-0.7 -2.6-0.8 -2.3-4.5 -2.4-3 1.7-1.1 1.8-1.2 -2.3-4.2 -3.8-0.9 -3.2 1.5M634.1 201.6l3.3-1.2 4.3 2.7 0.2 4.4 -3.3 1.2 -3.7-2.7 -0.8-4.4M733 185.1l1.8-0.3 1.8-0.3 1.2-1.6 1.2-1.7 1.2-1.6 -0.7-3.2 -0.8-3.1 -1.6 0.3 -0.2 2.3 -0.3 2.3 -0.4 2.3 -1.3 1.4 -1.3 1.5 -0.6 1.7M580.3 341.5l4-1.8 1.9 2.4 -0.6 2.7 -0.5 2.8 -4 0.6 -1.6-3.1 0.8-3.6M572.7 350.6l0.5 2.7 0.5 2.7 0.5 2.8 0.7 2.5 0.7 2.5 0.7 2.5 1 0.3 -0.6-2.6 -0.5-2.6 -0.6-2.6 -0.7-2.6 -0.7-2.5 -0.7-2.5 -0.8-0.6M585.3 369.4l1.2 4.5 0.2 2.5 0.2 2.6 0.1 2.5 1 1.5 -0.7-3 -0.6-3.1 -0.4-3 -0.3-3 -0.7-1.5M530.5 301.8l2.6-2.1 0.8 1.5 -2.1 1.5 -1.3-0.9M826.4 237.6l3 0.6 2.7 0.4 2.6 0.3 2.7 0.3 1.6-1.6 1.6-1.5 2.6-0.4 2.6-0.5 2.2-0.6 0.9-2.4 -2.1-3.6 -1.4-4 0.5-3.6 -2.2-2.7 -2.3-2.7 -2.5 1.8 1.6 3.6 1.7 4.6 -1.4 2.1 -2.1 0 -2.1 0 -0.1 3.9 -2.3 0.5 -2.3 0.5 -2.3 0.5 -1.8 1.5 -1.8 1.5 0.4 1.5M837.4 215l1.9-0.9 2.6-0.3 2.6-0.3 1.4-1.9 1.4-2 -3.3-3 -3.2-1.2 -3.2-1.1 -3.2-1.2 1.8 4.4 -0.4 3 1.6 4.5M824.7 239.2l2 3.3 1.9 3.3 2-0.3 -0.1-2.4 -0.1-2.4 -3.8-3.1 -1.9 1.6M831.7 240.7l2.3-1.2 2.3-1.3 -2.6-1.8 -3 1.2 1 3.1M809.7 264.3l2.8 0.6 -0.3 4.5 -1 4.6 -2.7-3 0.4-4.6 0.8-2.1M780.9 282.5l3-2.8 2.8 1.5 -3.2 4.3 -2.6-3M833.3 201.6l2.6-1.5 -2.2-2.5 -2.2-2.4 -2.3-2.5 3.5 0 -3.8-2.9 -3.9-2.9 -2.2-2.5 -2.2-2.4 -2.3-2.4 -3.2-2.3 2.2 3.8 2.5 2.8 2.4 3 2.4 2.9 2.3 2.9 2.2 3 2.1 2.9 2.1 3M812.3 284.6l2.3 0 2.2 0 0.3 3 0.2 3 -0.2 3.1 -0.2 3 2.4 1.5 2.4 1.5 2.4 1.5 -1.2 0.6 -2.4-1 -2.3-1 -2.3-1 -1.4-2.1 -2.2-4.5 0-2.6 0-2.5 0-2.5M820.5 319.4l2.6-1.5 2.5-1.5 1.8-2.6 1.8-2.6 1.1 2.8 1.1 2.7 1.1 2.7 -2.4 3.6 -4.2-2.1 -2.7-0.7 -2.7-0.8M820.9 307.9l2.4 2.4 1.5-3 2.6-0.9 0.4 3.9 -3.9 1.5 -3-3.9M786.4 336.1l0.5 2.5 0.5 2.5 0.4 2.5 1.3 3.1 1.2 3 2.4 0.4 2.3 0.3 2.3 0.4 2.3 0.4 2.7 0 2.7 0 0.5-2.5 0.5-2.5 0.5-2.6 2.1-3 2-3 0.4-2.6 0.5-2.5 0.4-2.6 0.5-2.5 0.4-2.5 -2.2-2.8 -2.1-2.7 -3.9 3 -2.5 3.7 -2.5 2.4 -2.6 2.4 -4 1.5 -2.5 1.1 -2.5 1 -1.6 1.6M749.4 323.6l2.9 0.6 3 0.7 2.1 2.4 2.1 2.4 2.1 2.4 2 2.4 2.8 2.9 2.7 2.8 2.6 2.8 1.3 2.6 1.3 2.6 4 2.4 -0.3 2.5 -0.3 2.5 -0.3 2.6 -3.5 0 -2.5-2.3 -2.6-2.3 -1.9-2.7 -2-2.7 -1.7-2.6 -1.7-2.5 -1.8-2.5 -2-3.3 -2.1-3.4 -1.5-2.5 -1.6-2.6 -1.6-2.6 -1.5-2.6M775.6 361.2l2.3-2.4 2.2 0.5 2.2 0.5 2.2 0.5 2.2 0 2.3 0 2.2 0 3.9 1.2 2.6 1.2 2.6 1.2 -0.2 3 -2.2-0.4 -2.2-0.4 -2.2-0.4 -2.6-0.4 -2.7-0.5 -2.6-0.3 -2.7-0.3 -2.6-0.6 -2.6-0.6 -2.1-1.8M801.4 367.2l4.1-1.5 2.2 0.2 2.3 0.2 2.2 0.2 -0.2 1.6 -2.2 0 -2.2 0 -2.2 0 -4-0.7M811.9 369.4l2.7-0.3 2.7-0.3 2.2-0.6 2.2-0.7 2.2-0.6 2.1-0.6 2.2-0.6 2.7 0 2.7 0 -2.8 1.5 -2.8 1.6 -4.3 3 -2.2-0.3 -2.2-0.3 -2.2-0.3 -2.6-0.8 -2.6-0.7M814.1 357.3l2.6 0 0.1-2.6 0-2.5 0-2.5 1.7-0.9 1.2 3 1.2 3 2.7-0.6 -1.2-2.7 -1.3-2.7 -1.2-2.7 4-2.5 -2.6 0 -2.7 0 -1.9-4.5 2.4 0 2.5 0 2.4 0 2.6-1.5 2.7-1.5 -1.3 1.8 -2.2-0.2 -2.1-0.2 -2.2-0.2 -2.1-0.2 -2.2-0.1 -1.8 3.6 -0.9 2.5 -0.9 2.5 -1 2.6 0.5 3 0.5 3 0.5 3.1M836 336.1l0.7 3 0.6 3 1.4-3 -1.4-3 -1.3 0M831.8 349.7l3.4 1.5 1.9-0.6 -4.1 1.5 -1.2-2.4M837.1 350.3l2.3-0.2 2.2-0.2 2.2-0.2 -1.4 2.4 -4-0.6 -1.3-1.2M845.3 344.5l4.1-2.7 2.2 2.9 2.1 3 2.2 2.9 2.7-1.7 2.7-1.7 2.8-1.8 2.6 1.1 2.7 1 2.6 1 2.3 0.9 2.3 0.9 2.3 0.9 2.3 0.9 1.6 2.6 1.6 2.6 2.2 1 2.2 1.1 0.5 2.7 0.4 2.7 2.3 3.5 2.3 3.5 -2.2-0.3 -2.2-0.3 -2.1-0.3 -1.7-3 -1.7-3.1 -2.7-0.6 -2.6-0.6 -3 4.3 -2.7 0 -2.7 0 -2.5-1.6 -2.5-1.5 -2.8 1.2 -0.1-2.5 -0.2-2.6 -0.1-2.6 -0.2-2.6 -2.2-0.7 -2.2-0.7 -2.2-0.7 -2.6-0.4 -2.7-0.5 -2.5-3.6 -2.6-4.6M895.6 357.3l4.2-3.1 2.2-0.9 -1 3.3 -4.2 2.8 -1.2-2.1M908.9 358.8l2.4 3 2.4 3 2.5 1.5 2.6 1.6 3.7 2.4 2.5 1.5M792.1 407.2l-0.2 2.4 -0.2 2.5 -0.2 2.4 -0.3 2.4 -0.3 2.4 -0.1 2.6 -0.1 2.5 -0.2 2.5 0 3.2 0 3.3 -0.2 3.2 -2.1 3.5 -2.1 3.5 1.9 1 2 1 2 1 3.4-1.5 3.3-1.5 2.3-0.1 2.2-0.1 2.3-0.1 2.2 0 2.8-1.7 2.7-1.6 2.8-1.6 2.8-0.7 2.8-0.7 2.9-0.7 2.1-0.1 2.2-0.1 2.2-0.1 1.7 1 1.7 1 1.7 1 0.5 3.5 0.3 3.5 3.8-2.7 3.7-2.8 -0.8 2.6 -0.9 2.5 -1 2.5 2 0.4 1.9 0.5 -0.4 3.3 -0.5 3.3 2 0.9 2.1 0.8 2 0.8 2.2 0.3 2.1 0.3 2.2 0.3 3.2-2 3.2-2 2.8-0.4 2.7-0.5 2.3-2.7 2.3-2.7 2.2-2.7 2.2-2.7 2.6-3 2.5-3 2.5-2.9 2.4-3 1.7-3 1.6-3 0.7-3 0.5-3.1 0.5-3 -1.2-2.5 -1.2-2.5 -1.3-2.6 -1.7-3 -1.7-3 -1.8-1.5 -1.9-1.6 -1.8-1.5 0-2.4 -0.1-2.4 0-2.4 -0.1-2.5 -0.1-2.4 -2.4-1.5 -2.4-1.5 -0.3-2.5 -0.3-2.5 -0.3-2.5 -0.4-2.5 -1.6 3.5 -1.7 3.5 -0.4 2.5 -0.5 2.5 -0.5 2.5 -1.5 2.9 -1.5 2.9 -3.5 0.3 -1.8-1.7 -1.9-1.7 -1.9-1.8 -3.6-2.4 1.5-2.7 1.4-2.7 1.5-2.8 -2.2-1.5 -2.2-0.2 -2.2-0.2 -2.1-0.2 -2.2-0.3 -4.3 2.1 -1.6 2.7 -1.7 2.6 -1.7 2.6 -4 0 -3.6-2.4 -4.4 3 -4.7 4.6 -4.2 4.5 -4 4.5 -2.3 0.9 -2.4 0.8 -2.3 0.8 -2.7 0.6 -2.8 0.6 -2.9 1.6 -2.9 1.7 -2.7 0.6M850.4 463.8l2.1 0.1 2.2 0.2 2.1 0.1 2.1 0.2 -2.6 3.9 -6 4.2 -1.4-3.3 0.8-2.7 0.7-2.7M931.6 444.8l1.3 1.6 1.3 1.7 0.8 3.9 1.7 0.9 1.6 0.9 1.7 0.9 -4.6 4.6 -4.9 3 -6.9 4.2 -1-0.9 3.9-3.3 -1.5-2.7 4.3-3.3 2.5-4.3 -0.1-3.6 -0.1-3.6M919.7 463.2l1.2 1 1.2 1.1 -4 3.9 -5.6 3.6 -2.9 1.2 -2.9 1.2 -4.9 4.1 -5.1 2.1 -1.6-0.6 -1.7-0.6 -1.6-0.6 2.9-3 3.2-1.4 3.2-1.5 3.8-1.5 3.7-1.5 5.2-3.6 3.8-3 2.1-0.9M925.8 401.8l2.1 2.1 2.1 2.1 2.1 2.1 -1.3 0 -1.7-2.1 -1.6-2.1 -1.7-2.1M937.3 386l0.7 3 1.6 4.6M962.9 393.6l3.3-0.6 -0.7 2.7 -3-0.6 0.4-1.5M707.6 310.9l3.7 4 1.8 4.5 -2 3 -2.7-0.6 -0.4-2.7 -0.4-2.7 0-2.7 0-2.8M481.4 189.8l2.5-0.5 2.6-0.4 1.9-0.4 2-0.4 1.9-0.4 2.8-0.7 2.7-0.7 0.7-4.4 -3.2-2 -1.4-3.2 -2.9-3.1 -1.9-1.1 1.6-4.3 -2.7-0.5 -1-0.1 1.1-2.5 -2.8 0 -1.5 0 -1.9 3.1 0.3 4.3 1.4 2.8 1.9 0.1 1.9 0.2 -0.5 2.6 0.9 2 -3.7 1.4 1.4 1.8 -2.8 1.4 2.2 0.5 2.3 0.4 -3 1.2 -2.8 2.9M480.9 183.4l-0.3-4.7 1-2.3 -3.3-2 -2.2 0.3 -0.6 2.6 -3.4 0.3 0.1 2.3 1.2 2.3 -2.4 2 1.8 1.2 3.5-0.9 3.7-1.1 0.9 0M448.3 150.3l2.7-3.8 -2.5-2.3 0.9 0 1.1 0.3 1.5 0.6 2.2-0.1 2.2-0.6 1.6-0.6 1.3-0.1 3.3-0.1 2.8 1.4 1.5 2.6 -3 1.9 -2.8 0.1 -0.6 1.4 -1.7 0.1 -2.5 0.8 -2.7-0.3 -0.9-0.8 -2.4 0 -2-0.5M514.2 114.4l2.6 0.9 0.9 0.3 1 1.3 2.4 0.3 1.6 1.4 0.6-0.4 2-2.1 2-0.6 2.2 0.2 1.3-0.7 1.3-0.8 -0.7-0.2 2.4 0.4 1.3-0.2 1.1-0.6 1.6-1.2 -0.1-0.3 1.8-0.9 -1.6-0.5 -1.7 0.7 -1.3-0.1 -1.9-1 -1.6 0.5 -0.1 0 -3-0.2 -0.7-0.4 -1.1 0 -0.9 1.1 -2.1 0.2 -0.8 0 -1.4 0.1 -0.9 0 -1.8 0.7 -1.5 0.2 -2.7-0.8 -0.5 0.5 0.3 2.2M591.9 130.9l3.8 2 1.4 0.1 2.1 0.2 1.9 0 0.5 0 2.8-0.1 -3.5-1.8 -1.8-2.9 -0.5-3.1 1.3-1.7 1-0.7 1.7-1.1 0.9 0.3 0.7-0.8 0.8-0.8 2.8 0.3 -0.8-1.2 1.8-0.1 1.9 0.1 0.7-1.3 -0.1 0.5 1.9-0.4 1.3-0.4 -2.8-0.3 -0.8 0.6 -1.7-0.6 -0.5 0.2 -2.8 0.4 0.2 0.4 -1.1 0.7 -1 0.3 -1.7 0.2 -1.1 0.6 -1.8-0.5 -1.7 0.5 -1 1 0.3 1 -1.6 1.1 1.1 3.6 -0.6 1.3 -2-0.2 0.3 1.5 -2.3 1.1M572.2 110.2l1.8 0.5 1.7-0.1 2 0.3 1.1 0.1 1.3-0.8 0.7 0.6 0.4-0.3 1.7 0.1 3.1 0.4 0.7-0.6 1.9 0.3 1.7-0.5 1.8 0 0.3-0.2 2.3-0.1 0.1-1 1.3 0.3 -1.2 0.1 -2.8-0.7 -1.2 0.1 -0.5-0.6 -2.3 0.3 -1.1-0.3 -1.7 0.3 -0.7 0.2 -2.2 0.1 -1.3-0.4 -1.3 0.2 -0.7-0.3 -2.2-0.1 -0.9 0.5 -2.4 0.5 0.3 0.7 -1.7 0.4M657 113.3l0.2-0.1 0.6-0.7 3.2 0.7 -1.1-1.1 2.4 0.1 0.7 0.1 3.4 0.6 2.2 0.2 1.6 0.7 1.6 0.7 1.9-0.1 -6.1-3.2 -1.9-0.3 -1.1-0.4 -3.9-1.3 -1-0.1 -2-0.3 -1.5-0.4 -2.1 0.2 -0.8 0.7 -0.2 0 -1.3 0.2 -1.7-0.3 -1.1 0.6 -0.4 0.2 -0.6 0.8 2.4 0.7 2.6 0.2 1.7 0.9 2.3 0.7M739.8 122.4l2.3 0.5 2.1 0.3 -0.1-0.8 2.3 1.2 2.4 0 3.7 0.9 -0.4-0.6 3.9 0.9 2.3-0.3 -2.6-1.4 1.9 0.1 1.3-0.5 0.7-0.3 1.3-0.9 1.2 0 1.7 0.2 -1.3-0.4 -1.6 0.5 -3.8-1.2 1.2 1 -1.6-0.3 -2.6-0.5 -2.1 0.2 -1.5-0.4 -2.3-0.5 -1.6-0.4 -1.6 0.3 -2-0.5 -1.3 0.3 -0.3 0.2 -2.2 0.5 -0.2 0.2 0.8 1.7M833.9 132.1l0.8-1.2 2.9 1.7 -3.7-0.5M154.5 130.9l1.3 0.9 1.6-0.4 0.6 0.2 -1.2 0.5 -2.9 0.7 -2.3-0.2M370.1 114.4l1.4 0.2 0.1 1.1 1.6 1.1 0.5 0.5 0.2 1.8 0.5 0.2 1.2-0.5 2 1.1 1.3 0.2 0.9-0.3 0.8 0.5 2.6-0.6 1.3 0.3 1 0.1 2.2 1 -0.3 0.2 2.5-0.2 0.9 0.1 0.5 3.6 -0.4 2.7 0.4 2.1 1 3.8 1.6 1.2 0.1 1.6 0.7 2.2 -3 1.6 -0.4 1.5 -3.2 0.8 -1.4 3.4 1.1 1.9 1.9 1.5 0.6 2.5 -0.3 2.3 1.1 2.4 0.8 2.1 1.1 0.9 1.6 0.1 1.6 1.1 2.2 0.7 2.4-0.1 1.8 0.1 2.4-4.1 2.3-2.8 2.9-2.4 1.6-3 1.1-0.5 3.4-1.1 1.4-1 1.3 0.1 1.3-1.4 2-0.2 1.7-0.3 2.5-0.9 1.8-2.2 3.4-0.9 2.1-1.5 1.1-0.9 2.3 0.8 1-1.5 1.9 0.5 1.3-1 2.6 0.3 1.3-1.1 3.1-0.9 0.9-0.5 2.3-1.3 0.8-3.8 1.8-2.1 1.1-2.7 2.1-1.5 2.3-0.4 0.6-0.5 0.2-1.9 0-2.8 2.7-2.8 1-1.6 1.5-0.9 2.5-1.8 1.9-1.4 -0.5-0.6 -2.3-0.1 -1.1-0.4 -0.9-0.4 -2.1-0.4 -0.8 0 -2.3 0 -0.3 0.1 -1-0.6 -1.9 0 -1-0.7 -1.8-0.5 0.5 0.1 -2-0.5 -1-0.1 -1.7-0.1 -1.6 0.2 -0.8-0.6 -0.6-0.1 -2.9-0.2 0.5 0.4 -1.5 0.2 -1.6-0.6 -2 0.5 -1.8-0.2 -1 0 -0.8 0.3 -1.8 0.2 -0.4-0.7 -1.8 0.2 -2 0.5 -0.5-0.1 -0.9-0.2 -2.3 0.5 -1.1-0.1 -1.6 0.2 -1.6 0 -1.6 0.8 -0.9-0.1 -1.9-0.1 -0.5 0.3 -2.1 0.1 -1.5-0.1 -0.3-0.1 -1.7 0.9 -2.1-0.3 -1.8 0.2 -0.5-0.4 -1.9 0.8 -1.1-0.8 -2.1 0.7 -1.1-0.3 -2 0.6 -0.7-0.3 -3 0.8 -0.3 0.5 -2.1 0.1 -0.1-0.3 -2.6 0.8 -3.3 0.8 -1.5 0.3 -1.1-0.1 -3.5 2 -1.2-0.2 -2.2 0.7 -1.2 0 -2.3 0.7 -2.7 0.8 -0.8 0.2M371.5 143.6l-2.1 3.3 -3.6 2 -2.4 1.6 -1.9 1.6 -3.2 1.4 -2 0.4 -1.9 0.1 -2 0.9 -1-1 -2.9-0.9 -1.2-0.3 -1.2-1 -1.3-0.9 -0.4-0.6 -2.2-1.3 -2.3-0.7 -2.2 1.2 -0.7-0.9 -2.1 0.7 2.9-2.9 1.3 0.1 2.1-1 2.2-1.7 3-0.1 2.7-1.6 2.1-2.8 -1.2-1.7 -0.3-0.1 -0.7-1.7 -2.2-0.4 -0.4-0.7 -3.3 0.2 -1.6 0.4 -1.2-0.1 -2 0 -0.5 0 -3.3-0.8 0.6-0.1 -3.1 0.4 -2-0.3 -0.5-0.1 -2.6-1.1 -0.9-0.4 -0.6-0.6 2.1-2.8 2.5-1.1 2.6-2.2 1.1 0.3 3.7-0.8 0.7 0.5 2.9-0.8 0.4 0.8 0.9 0.2 1.9-0.5 2.9-0.3 0.6 0.1 0.1 0.5 1.9 0.2 2 0.9 0.4 0.8 0.7 0.5 0.9 0.2 2.1 0.9 1.8 0.3 -0.2 1.6 1.8 0.7 0.4 0 0.4 1.2 2.1-0.3 2.1 0.9 0.9 3.3 0.7 1.8 0.6 0.4 1.5 1.6 0.4 1.3 2.6 0.8 0.6 0.5M357.2 118.9l-1.9-0.6 -1.6 0.4 0.1 0.1 -3.3 0.7 -0.8-0.2 -0.4-0.7 -2.2 0.6 -2.3 0.1 -0.7-0.1 -1.6-0.3 -2.1 0.7 -1.5-0.9 -1.1 0.2 2-3.4 4.9-2.7 3.5-1.6 1.1-0.3 4.1-1.3 2.1-0.4 1.6-0.7 1.7 0.2 2.4-0.1 2.4-0.6 0.4-0.2 2.9-1.1 0.9 0 2.3-0.3 1 0.1 1.2-0.5 1.7 0.1 1.4 0.3 2.7-0.9 0.1 0 1.7 0.5 0.2 0.1 2.1-0.5 1.6-0.1 1.2 0.1 1 0.5 1.1-0.3 1.4 0.5 1.7-0.8 2.1 0.4 0.1 0.5 1.7 0 -1.4 0.5 -2.7 1.2 -1.6 0.5 -2.4 0.3 -0.8 0.8 -2.8 0.5 -2.6 1.4 -1.9 0.9 -3.4 0.8 -1.2-0.1 -1.6 0.5 -2.2 0.8 -0.2-0.6 -2.8 0.6 -1.5-0.1 -0.4 2.2 -2.4 0.5 -3.3 1.5 -1.7 0.3M349.4 123.6l-0.4-0.1 -2.7 0 -0.2-0.7 -3.3 1.1 -1.8 0.2 0.4-1.4 -2.9 0.4 -1.2-0.3 -1.4 0.7 -3.1 0.4 0.7-0.1 -2.1-0.5 -0.4-1.1 -1-1 2.8-1.1 1.8-0.7 3.2-0.5 -0.1 0.4 2.8 0.1 0.6-0.3 1.8 0.7 2.3-0.7 -0.2 0.1 1.3 0 2.6 0.3 1.4-0.5 0.5 0.6 2.2 0 -2.5 2.6 -1.1 1.4M299.9 137.2l-2.9 0 -2 0.4 0.4 0.5 -1.4-0.3 -2.9 1.2 -2.1-0.6 -1 0 -2.2 0.2 -0.3-0.4 -2.2 0 -1.9-0.2 -2.2 0.4 -0.8-0.5 -2.5-0.4 -1.1-0.5 -0.2-0.7 -1.4 0.2 -1.2-0.6 -1.5-0.4 1.2-1.8 -2.8-0.3 4.7-2.5 -1.3-0.9 0.3-1.6 2-0.5 2.4-0.7 -0.1 0.6 2.5 0.1 2.7-1 1.8-0.2 2.1-0.8 0.7 0.8 2.2 0 1.2 0.1 1.5-0.9 1.4 0.6 2.8-0.5 0.5 0.6 1.4 0.2 1.8 0.9 0.9 1.5 -1.6 2.9 -0.7 1.5 2.2 1 -0.4 2.6M259.3 130.1l2.6-2.3 3.2-3 3.1-0.8 -0.6 0.6 2.3 0.1 4.3-1.1 0.7 0.7 1.2-0.3 0.8 1.4 0.4 0.2 -0.2 0.7 1.6 0.9 -3.2 1.1 -2.9 0.5 -3.7 1.8 -1 0.3 -0.8 0.1 -1.4-0.7 -0.7-0.4 -3.8 0.5 -1-0.5 -0.9 0.2M289.1 122.4l-0.7-1.4 -0.7 0.5 -0.9-1.5 3-0.4 0 0.8 2.8-0.6 2-0.4 2-0.4 0.6-0.1 3.7-0.4 -0.1 0.4 1.3 0.8 1.9-0.8 -1.1 1.4 3.1-0.4 1.1 0.7 0.5-0.1 -5 1.9 -2.3-0.1 0.4-0.1 -3.8 0.4 -1.3-0.1 0.1-0.1 -2.5 0.4 -0.2-1.1 -3 1 -0.9-0.3M312.5 129.6l-1.9-0.1 -1.2-0.3 -1.7 0.7 0.2-0.7 -2.9 0.4 0.6-2.4 4.2-1.5 2-0.9 0.7 0.3 2.4-0.5 1.9 0.6 -3 1.8 -1.3 2.6M324.9 128.4l-1.5-0.1 -1 0.4 -2.2-0.6 -1.5 0.5 -1.3-0.2 4.4-3.6 1.2 0.2 1.4-0.4 3.4-0.1 0.4 0.3 -3.3 3.6M319.7 122.4l-0.6 0.2 -1-0.3 -1.4-1.2 -2 0.3 -0.8-0.2 3.1-1.8 3.2-0.5 1.9 0.8 -0.2 0 2.2 0.3 -4.4 2.4M344.5 114.4l-2 0.4 -0.3-0.1 -3.1-0.1 -2.6 0.9 -0.9-0.4 -0.9 0.4 1.9-2.4 -0.1-1.9 1.9-0.8 2.5 0.2 1.1-0.8 3.7-0.7 1.4-0.1 0.7-0.2 0.2 0.7 1.2 0.7 0.7 1 -5.4 3.2M326 150.3l-1.6-0.1 -1.7-0.3 -2.3-0.1 -0.7 0.2 -1.9 0.6 -2-0.3 3.8-4 2.7-0.3 0.1-0.3 2.2 0.6 1.2 1 0.2 1.4 2.1 1.6 -2.1 0M312.5 116.6l-2 0.3 -0.3-0.2 -2-0.2 -1.8-0.1 -1.3 0.8 -2-0.3 -0.6-0.5 -2.1 0.2 -3 0.4 1.4-1.2 -0.7-0.1 -3.6 0.5 0-0.3 1.7 0 2.1-1 1.7 0.5 2-0.6 2.6-0.4 1.1-0.4 1.3 0.4 1.1 0.6 -0.1 0.2 1.9-0.2 0.2 0.4 1.3 0.4 1.1 0.8M281.5 120l-2.8 0.3 -1.2 0.1 -0.7-0.4 -1.2 0.3 -2.2 0.4 5.5-1.8 3.5-1.9 0.1 0.9 1.7 0.3 0.2 0.2 2.4-0.1 0.7 0.2 0.9 0.4 -0.5-0.3 -3.6 0.5 -2.8 0.9M354.6 196.8l1.9 0 1.9 0 2 0 1.9 0 1.8 0.7 1.8 0.7 1.8 0.6 1.7 0.7 0.4-2.7 0.4-2.6 -1.7-1 -1.7-1 -1.6-1 0.9-2.9 0.9-2.9 -3.6 0.6 -2.3 2.7 -2.2 2.7 -2.2 2.7 -2.1 2.7M345.8 190.1l1.7 0.7 1.7 0.6 1.7 0.7 -2.2 0.1 -2.1 0.1 -2.1 0.1 1.3-2.3M271.8 274.3l2.3-0.8 2.3-0.8 2.2-0.8 2.3-0.4 2.2-0.4 2.2-0.4 2.5 1.6 2.4 1.6 2.4 1.6 2.3 1.3 2.3 1.3 2.3 1.3 -2.2 0.3 -2.2 0.2 -2.2 0.2 -2.2 0.2 -1-2.4 -2.5-1.1 -2.5-1.1 -2.5-1.1 -2.6 0 -2.6 0 -2.6 0 -2.6-0.3M298.4 284.9l2.3-2.3 2.4-2.3 2.1 0.3 2.2 0.3 2.1 0.3 2.1 0.4 2.7 2.7 -2.4 0.6 -2.3 0.6 -2.4 0.6 -2.2-0.3 -2.2-0.3 -2.2-0.3 -2.2-0.3M288.1 284.9l2.7 0.6 2.7 0.6 -3.5 0.6 -1.9-1.8M317.4 284.6l2.1 0.3 2.1 0.3 -2.2 0.4 -2.1 0.5 0.1-1.5M292.2 259.8l2.5 0.6 -2 4.5 -0.3-2.6 -0.2-2.5M204.7 194.8l-1.2-1.3 -1.2-1.2 -1.1-1.2 -1.1-1.2 -1.1-1.2 -1.1-1.3 2.6 0.9 1.3 1.5 1.3 1.4 0.8 1.8 0.8 1.8M192.3 183.9l1.2-2.8 1.3-2.9 2.2 0 -1.9 4.3 -2.8 1.4M160.9 168.2l-3.3 0.8 -3.8 1.7 4.7-3.3 2.4 0.8M118.6 178.7l-4.3 0.9M107.4 181.9l-2.9 0.6 -2.9 0.6M96.4 183.7l-2.7 0.4 -2.8 0.4M87.5 184.5l-2.8 0.5 -2.7 0.4M888.4 181.6l2.7 0.5 2.7 0.4M84.8 280l1.9 1.2 -2.4 2.2 0.5-3.4M83.1 277.3l1.8 0.3 -1.6 0.9 -0.2-1.2M79.7 275.2l1.1 0.9 -1.4 0 0.3-0.9M75.9 273.4l1.2 0.3 -0.9 0.6 -0.3-0.9M525.5 226.2l2.7-0.5 2.6-0.6 2.6-0.5 -1 4.9 -2.3-1.1 -2.3-1.1 -2.3-1.1M515.4 222.5l3.2-0.6 0-2.7 0.1-2.7 -2 0 -2 0 0.4 3 0.3 3M515.7 215l1.9 0.3 0.1-4.5 -2 4.2M553.8 233.7l2.4 0.1 2.4 0.1 2.3 0.1 -2.2 0.5 -2.2 0.4 -2.7-1.2M576.2 235.2l2.8-1.2 2.7-1.2 -2.4 3 -3.1-0.6M519.1 174.2l3.5-0.9 -1.1 2.3 -2.4-1.4M353.5 495.2l1.9 0 1.9 0 1.9 0 1.9 0 -0.5 2.1 -1.9 0 -1.9 0 -1.9 0 -1.4-2.1M408.9 503l2.4 0.5 2.3 0.4 -2.3-0.4 -2.4-0.5M249.6 341.5l1.6 1.8 -1.1 0.3M740.8 299.7l0.6 3 0.5 3.1M645.6 401.2l0.9 1.2M639.8 404.2l1.2 0.9M609.9 375.4l0.4 1.2M636.3 302.4l3.2 0.3M454.5 255.8l-3.1-0.6M432 294.9l0.6 0.6M425 223.7l2.5-0.3M500.5 220.7l2.5-0.6M890.7 348.2l2.3 0.5 2.2 0.5 2.2 0.5M99.5 393.6l0.7 0.9M38.5 382.4l1.1 0.6M34.7 404.5l0.6 0.3M121.1 367.9l0.6 0.6M278.6 119.6l3-1.2 4.3-1.4 0.8 0.5 3.1-1.3 0.8 0.5 1.9 0 1-0.1 -5.9 2.3 -2 0 -2.3 0.4 -2.1 1 -0.3-0.4 -2.3-0.3M323.3 122.4l2.5 0.1 1.1 0.1 1.2-0.5 0.8-1.6 -1.9 0.4 -1.8 0.4 -1-0.6 -0.9 1.7M315 121l1.6 0.6 1.9-0.1 0.2 0.2 3.8-2.6 -1.3-0.3 -2.5 0.4 0-0.6 -3.8 1 0.1 1.4M327.8 115.5l2.6-0.8 2.2-0.3 -0.6-0.9 -1.7 0.2 -2.8 0.7 0.3 1.1M318.9 115l1.2-0.6 1.7 1 2-0.8 0.8-1.3 -1.9 0.5 0.2-0.7 -3.1 0.6 -0.9 1.3M301.7 138.4l0.7 0.4 3.1-0.5 1.7-0.6 0.8-2.1 -2.4-0.5 -4.7 2.1 0.8 1.2M345.6 128.1l2.5 0.5 -0.2 0.1 3.3-0.6 0.9-2.4 -0.7-0.6 -1.4 0.2 -3.2 0.2 -2.3 1.7 1.1 0.9M321.5 154.1l2.7-0.1 1.5 0.1 0.2-1.9 -2.1 0.4 -2.1-0.4 -0.2 1.9M325.4 156.3l1.8 0.5 -0.1-1.6 -1.7 1.1M327.8 133.9l2.1-0.3 0.3-1.5 -2.3 0.5 -0.1 1.3M340.7 134.6l2.5 0.5 0.3-1.7 -2.8 1.2M342.3 140.8l1.5 0.7 2.1-0.2 0.5-2.3 -3.3 0.5 -0.8 1.3M318.6 171.9l1.3 0.6 0.5-1.8 -1.8 1.2M230.7 136.4l3.5-0.5 -1-0.8 -2.5 1.3M526.6 112.6l0.5 0.6 2.2-0.1 2.5 0.1 0.5-0.3 2.2 0.2 0.5-0.5 1.2-0.3 1.4-0.1 1.8-1.2 -1.4 0.4 -1.1-0.1 -2.2-0.5 0 0.3 -3.4-0.9 -1.7-0.2 -0.3 0.4 -1.3 0.8 -1.7 0.2 0.3 1.2M588.9 136.9l2.7 0.3 -1.2-1.3 -1.5 1M607.2 134.6l3.1 0.4 0.7-0.4 -2.6-1.2 -1.2 1.2M644.5 124.8l1.4-0.4 0.8-0.3 1.5 0 1 0.2 1.5-0.7 2.7 0.9 -0.7 0.9 -2-0.3 -1.9 0.4 -2.8-0.8 -1.5 0.1M751.2 126.4l0.7 0 4.4 0.9 1.1-0.4 0.1-1.2 -3.9-0.6 0.4 0.9 -2-0.3 -0.8 0.7M739.8 121.2l3.2 0.5 0.9 0.3 0.5 0.1 2.9 0 0.7-0.2 0.9-0.6 2.2 0.7 -0.6-0.6 0.2-1.2 2.2 0.3 -1.7-0.2 -3.5-0.3 -1.7-0.4 -1.2-0.4 -1.5 0.8 -2.1-0.4 0.9 0.7 -1.6 0.4 -2.6-0.7 1.9 1.2M848.2 164.5l1.5-0.5 -2.1-0.8 0.6 1.3" fill="none" stroke="#858585" stroke-width="1.8" stroke-linejoin="round"/><path d="M238.1 96.4L234.3 97.5L230.6 98.6L226.8 99.7L222.9 100.9L218.8 102.2L214.4 103.8L209.7 105.5L204.9 107.3L200.0 109.2L195.1 111.2L190.2 113.3L185.1 115.5L180.0 117.7L174.9 120.0L170.1 122.4L165.5 124.8L161.0 127.2L156.7 129.6L152.4 132.1L148.2 134.6L144.1 137.2L140.1 139.7L136.2 142.3L132.3 145.0L128.4 147.6L124.6 150.3L120.8 153.0L117.0 155.7L113.3 158.4L109.7 161.2L106.1 164.0L102.5 166.8L99.0 169.6L95.5 172.5L92.1 175.3L88.8 178.2L85.6 181.1L82.4 183.9L79.3 186.9L76.3 189.8L73.4 192.7L70.6 195.7L67.9 198.6L65.2 201.6L62.6 204.6L60.1 207.5L57.5 210.5L55.1 213.5L52.7 216.5L50.4 219.5L48.2 222.5L46.1 225.6L44.1 228.6L42.1 231.6L40.2 234.6L38.4 237.6L36.7 240.7L35.0 243.7L33.4 246.7L31.9 249.8L30.5 252.8L29.1 255.8L27.9 258.8L26.7 261.9L25.6 264.9L24.6 267.9L23.7 271.0L22.8 274.0L22.0 277.0L21.2 280.0L20.4 283.1L19.6 286.1L18.8 289.1L18.1 292.2L17.4 295.2L16.8 298.2L16.2 301.2L15.7 304.3L15.3 307.3L14.8 310.3L14.4 313.3L14.1 316.4L13.8 319.4L13.5 322.4L13.3 325.5L13.1 328.5L12.9 331.5L12.7 334.5L12.6 337.6L12.6 340.6L12.6 343.6L12.7 346.7L12.9 349.7L13.1 352.7L13.3 355.7L13.5 358.8L13.8 361.8L14.1 364.8L14.4 367.9L14.8 370.9L15.3 373.9L15.7 376.9L16.2 380.0L16.8 383.0L17.4 386.0L18.1 389.0L18.8 392.1L19.6 395.1L20.4 398.1L21.2 401.2L22.0 404.2L22.8 407.2L23.7 410.2L24.6 413.3L25.6 416.3L26.7 419.3L27.9 422.4L29.1 425.4L30.5 428.4L31.9 431.4L33.4 434.5L35.0 437.5L36.7 440.5L38.4 443.6L40.2 446.6L42.1 449.6L44.1 452.6L46.1 455.6L48.2 458.7L50.4 461.7L52.7 464.7L55.1 467.7L57.5 470.7L60.1 473.7L62.6 476.6L65.2 479.6L67.9 482.6L70.6 485.5L73.4 488.5L76.3 491.4L79.3 494.3L82.4 497.3L85.6 500.1L88.8 503.0L92.1 505.9L95.5 508.7L99.0 511.6L102.5 514.4L106.1 517.2L109.7 520.0L879.5 520.0L883.1 517.2L886.7 514.4L890.2 511.6L893.7 508.7L897.1 505.9L900.4 503.0L903.6 500.1L906.8 497.3L909.9 494.3L912.9 491.4L915.8 488.5L918.6 485.5L921.3 482.6L924.0 479.6L926.6 476.6L929.1 473.7L931.7 470.7L934.1 467.7L936.5 464.7L938.8 461.7L941.0 458.7L943.1 455.6L945.1 452.6L947.1 449.6L949.0 446.6L950.8 443.6L952.5 440.5L954.2 437.5L955.8 434.5L957.3 431.4L958.7 428.4L960.1 425.4L961.3 422.4L962.5 419.3L963.6 416.3L964.6 413.3L965.5 410.2L966.4 407.2L967.2 404.2L968.0 401.2L968.8 398.1L969.6 395.1L970.4 392.1L971.1 389.0L971.8 386.0L972.4 383.0L973.0 380.0L973.5 376.9L973.9 373.9L974.4 370.9L974.8 367.9L975.1 364.8L975.4 361.8L975.7 358.8L975.9 355.7L976.1 352.7L976.3 349.7L976.5 346.7L976.6 343.6L976.6 340.6L976.6 337.6L976.5 334.5L976.3 331.5L976.1 328.5L975.9 325.5L975.7 322.4L975.4 319.4L975.1 316.4L974.8 313.3L974.4 310.3L973.9 307.3L973.5 304.3L973.0 301.2L972.4 298.2L971.8 295.2L971.1 292.2L970.4 289.1L969.6 286.1L968.8 283.1L968.0 280.0L967.2 277.0L966.4 274.0L965.5 271.0L964.6 267.9L963.6 264.9L962.5 261.9L961.3 258.8L960.1 255.8L958.7 252.8L957.3 249.8L955.8 246.7L954.2 243.7L952.5 240.7L950.8 237.6L949.0 234.6L947.1 231.6L945.1 228.6L943.1 225.6L941.0 222.5L938.8 219.5L936.5 216.5L934.1 213.5L931.7 210.5L929.1 207.5L926.6 204.6L924.0 201.6L921.3 198.6L918.6 195.7L915.8 192.7L912.9 189.8L909.9 186.9L906.8 183.9L903.6 181.1L900.4 178.2L897.1 175.3L893.7 172.5L890.2 169.6L886.7 166.8L883.1 164.0L879.5 161.2L875.9 158.4L872.2 155.7L868.4 153.0L864.6 150.3L860.8 147.6L856.9 145.0L853.0 142.3L849.1 139.7L845.1 137.2L841.0 134.6L836.8 132.1L832.5 129.6L828.2 127.2L823.7 124.8L819.1 122.4L814.3 120.0L809.2 117.7L804.1 115.5L799.0 113.3L794.1 111.2L789.2 109.2L784.3 107.3L779.5 105.5L774.8 103.8L770.4 102.2L766.3 100.9L762.4 99.7L758.6 98.6L754.9 97.5L751.1 96.4Z" fill="none" stroke="#3d3d3d" stroke-width="3.1"/><g stroke="#474747" stroke-width="2.6" stroke-linejoin="miter"><path d="M196.0 183.0L242.0 175.0L250.0 190.0L238.0 206.0L205.0 210.0L198.0 200.0Z" fill="#5a5a5a" stroke="none"/><path d="M165.0 145.0L200.0 137.0L240.0 140.0L255.0 150.0L240.0 162.0L200.0 168.0L170.0 165.0Z" fill="#5a5a5a" stroke="none"/><path d="M195.0 190.0L300.0 188.0L318.0 200.0L305.0 230.0L285.0 250.0L250.0 255.0L225.0 262.0L205.0 250.0L190.0 235.0L188.0 205.0Z" fill="#5a5a5a" stroke="none"/><path d="M480.0 175.0L500.0 168.0L520.0 170.0L545.0 180.0L560.0 200.0L590.0 210.0L600.0 222.0L580.0 232.0L555.0 238.0L520.0 240.0L490.0 240.0L478.0 225.0L478.0 195.0Z" fill="#5a5a5a" stroke="none"/><circle cx="202.7" cy="145.0" r="7.7" fill="#F7F6CE" stroke-width="3.2"/><circle cx="196.8" cy="137.8" r="7.7" fill="#F7F6CE" stroke-width="3.2"/><circle cx="181.4" cy="164.2" r="7.7" fill="#F7F6CE" stroke-width="3.2"/><circle cx="258.2" cy="157.2" r="7.7" fill="#F8E59C" stroke-width="3.2"/><circle cx="179.0" cy="145.9" r="7.7" fill="#F8E59C" stroke-width="3.2"/><circle cx="182.9" cy="172.7" r="7.7" fill="#F2AC4C" stroke-width="3.2"/><circle cx="250.5" cy="151.8" r="7.7" fill="#F7F6CE" stroke-width="3.2"/><circle cx="185.5" cy="165.2" r="7.7" fill="#F7F6CE" stroke-width="3.2"/><circle cx="201.3" cy="171.1" r="7.7" fill="#F7F6CE" stroke-width="3.2"/><circle cx="246.1" cy="144.3" r="7.7" fill="#F7F6CE" stroke-width="3.2"/><circle cx="224.8" cy="170.3" r="7.7" fill="#F8E59C" stroke-width="3.2"/><path d="M229.7 133.1L238.9 149.0L220.5 149.0Z" fill="#F7F6CE" stroke-width="3.2"/><circle cx="213.4" cy="143.7" r="7.7" fill="#F8E59C" stroke-width="3.2"/><circle cx="237.8" cy="166.2" r="7.7" fill="#F8E59C" stroke-width="3.2"/><circle cx="250.4" cy="159.0" r="7.7" fill="#F7F6CE" stroke-width="3.2"/><circle cx="221.5" cy="141.9" r="7.7" fill="#F5D174" stroke-width="3.2"/><circle cx="244.5" cy="162.6" r="7.7" fill="#F7F6CE" stroke-width="3.2"/><circle cx="210.5" cy="142.7" r="7.7" fill="#F2AC4C" stroke-width="3.2"/><circle cx="222.9" cy="159.8" r="7.7" fill="#F7F6CE" stroke-width="3.2"/><circle cx="203.2" cy="149.6" r="7.7" fill="#F5D174" stroke-width="3.2"/><path d="M218.0 160.8L227.2 176.7L208.8 176.7Z" fill="#F7F6CE" stroke-width="3.2"/><circle cx="170.3" cy="149.2" r="7.7" fill="#F8E59C" stroke-width="3.2"/><path d="M201.1 149.0L210.3 164.9L191.9 164.9Z" fill="#F7F6CE" stroke-width="3.2"/><circle cx="191.2" cy="159.1" r="7.7" fill="#F2AC4C" stroke-width="3.2"/><circle cx="241.2" cy="152.6" r="7.7" fill="#F7F6CE" stroke-width="3.2"/><path d="M205.1 160.2L214.3 176.1L195.9 176.1Z" fill="#F7F6CE" stroke-width="3.2"/><circle cx="210.8" cy="164.8" r="7.7" fill="#F7F6CE" stroke-width="3.2"/><circle cx="177.6" cy="152.8" r="7.7" fill="#F7F6CE" stroke-width="3.2"/><circle cx="195.9" cy="162.1" r="7.7" fill="#F8E59C" stroke-width="3.2"/><circle cx="258.1" cy="151.2" r="7.7" fill="#F7F6CE" stroke-width="3.2"/><circle cx="175.0" cy="166.0" r="7.7" fill="#F8E59C" stroke-width="3.2"/><path d="M204.7 157.9L213.9 173.8L195.5 173.8Z" fill="#F7F6CE" stroke-width="3.2"/><circle cx="241.8" cy="141.0" r="7.7" fill="#F7F6CE" stroke-width="3.2"/><circle cx="222.4" cy="164.7" r="7.7" fill="#F7F6CE" stroke-width="3.2"/><path d="M173.1 147.1L182.3 163.0L163.9 163.0Z" fill="#F7F6CE" stroke-width="3.2"/><path d="M182.9 133.0L192.1 148.9L173.7 148.9Z" fill="#F7F6CE" stroke-width="3.2"/><circle cx="253.7" cy="142.5" r="7.7" fill="#F7F6CE" stroke-width="3.2"/><circle cx="174.3" cy="170.1" r="7.7" fill="#F8E59C" stroke-width="3.2"/><circle cx="205.1" cy="159.2" r="7.7" fill="#F8E59C" stroke-width="3.2"/><circle cx="193.5" cy="150.4" r="7.7" fill="#F7F6CE" stroke-width="3.2"/><circle cx="168.7" cy="155.5" r="7.7" fill="#F8E59C" stroke-width="3.2"/><circle cx="241.8" cy="159.3" r="7.7" fill="#F7F6CE" stroke-width="3.2"/><circle cx="229.4" cy="152.5" r="7.7" fill="#F7F6CE" stroke-width="3.2"/><path d="M182.1 147.7L191.3 163.6L172.9 163.6Z" fill="#F7F6CE" stroke-width="3.2"/><circle cx="214.9" cy="138.8" r="7.7" fill="#F8E59C" stroke-width="3.2"/><circle cx="198.4" cy="175.1" r="7.7" fill="#F5D174" stroke-width="3.2"/><circle cx="213.1" cy="157.6" r="7.7" fill="#F7F6CE" stroke-width="3.2"/><path d="M238.3 142.2L247.5 158.1L229.1 158.1Z" fill="#F7F6CE" stroke-width="3.2"/><path d="M201.5 129.6L210.7 145.5L192.3 145.5Z" fill="#F8E59C" stroke-width="3.2"/><circle cx="227.0" cy="164.7" r="7.7" fill="#F7F6CE" stroke-width="3.2"/><path d="M189.6 140.5L198.8 156.4L180.4 156.4Z" fill="#F7F6CE" stroke-width="3.2"/><circle cx="222.5" cy="151.8" r="7.7" fill="#F7F6CE" stroke-width="3.2"/><path d="M189.4 159.5L198.6 175.4L180.2 175.4Z" fill="#F8E59C" stroke-width="3.2"/><circle cx="233.4" cy="159.2" r="7.7" fill="#F8E59C" stroke-width="3.2"/><circle cx="212.4" cy="152.1" r="7.7" fill="#F7F6CE" stroke-width="3.2"/><circle cx="193.6" cy="142.3" r="7.7" fill="#F8E59C" stroke-width="3.2"/><circle cx="234.3" cy="201.7" r="7.7" fill="#F8E59C" stroke-width="3.2"/><circle cx="255.3" cy="195.3" r="7.7" fill="#F7F6CE" stroke-width="3.2"/><path d="M272.1 171.4L281.3 187.3L262.9 187.3Z" fill="#F7F6CE" stroke-width="3.2"/><path d="M283.5 223.9L292.7 239.8L274.3 239.8Z" fill="#F7F6CE" stroke-width="3.2"/><path d="M193.2 185.2L202.4 201.1L184.0 201.1Z" fill="#F7F6CE" stroke-width="3.2"/><circle cx="235.0" cy="241.9" r="7.7" fill="#F8E59C" stroke-width="3.2"/><path d="M238.6 254.8L247.8 270.7L229.4 270.7Z" fill="#F8E59C" stroke-width="3.2"/><circle cx="243.1" cy="255.9" r="7.7" fill="#F7F6CE" stroke-width="3.2"/><path d="M265.6 199.4L274.8 215.3L256.4 215.3Z" fill="#F7F6CE" stroke-width="3.2"/><circle cx="259.6" cy="205.8" r="7.7" fill="#F7F6CE" stroke-width="3.2"/><path d="M256.3 172.3L265.5 188.2L247.1 188.2Z" fill="#F7F6CE" stroke-width="3.2"/><path d="M250.8 179.9L260.0 195.8L241.6 195.8Z" fill="#F7F6CE" stroke-width="3.2"/><circle cx="243.7" cy="184.4" r="7.7" fill="#F8E59C" stroke-width="3.2"/><circle cx="218.9" cy="238.8" r="7.7" fill="#F7F6CE" stroke-width="3.2"/><circle cx="280.0" cy="205.9" r="7.7" fill="#F8E59C" stroke-width="3.2"/><path d="M263.1 171.8L272.3 187.7L253.9 187.7Z" fill="#F7F6CE" stroke-width="3.2"/><circle cx="303.4" cy="188.3" r="7.7" fill="#F7F6CE" stroke-width="3.2"/><path d="M225.3 213.9L234.5 229.8L216.1 229.8Z" fill="#F7F6CE" stroke-width="3.2"/><circle cx="290.1" cy="187.1" r="7.7" fill="#F5D174" stroke-width="3.2"/><circle cx="296.8" cy="245.5" r="7.7" fill="#F8E59C" stroke-width="3.2"/><path d="M311.4 203.2L320.6 219.1L302.2 219.1Z" fill="#F8E59C" stroke-width="3.2"/><path d="M246.1 212.2L255.3 228.1L236.9 228.1Z" fill="#F7F6CE" stroke-width="3.2"/><circle cx="202.5" cy="239.3" r="7.7" fill="#F7F6CE" stroke-width="3.2"/><circle cx="227.6" cy="242.6" r="7.7" fill="#F7F6CE" stroke-width="3.2"/><path d="M232.7 182.6L241.9 198.5L223.5 198.5Z" fill="#F8E59C" stroke-width="3.2"/><circle cx="217.7" cy="209.4" r="7.7" fill="#7E1528" stroke-width="3.2"/><circle cx="222.9" cy="266.5" r="7.7" fill="#E95235" stroke-width="3.2"/><path d="M203.0 204.7L212.2 220.6L193.8 220.6Z" fill="#F7F6CE" stroke-width="3.2"/><path d="M282.6 192.5L291.8 208.4L273.4 208.4Z" fill="#F7F6CE" stroke-width="3.2"/><circle cx="277.5" cy="188.3" r="7.7" fill="#F8E59C" stroke-width="3.2"/><path d="M232.9 196.6L242.1 212.5L223.7 212.5Z" fill="#F8E59C" stroke-width="3.2"/><circle cx="243.0" cy="213.2" r="7.7" fill="#F7F6CE" stroke-width="3.2"/><path d="M199.9 180.5L209.1 196.4L190.7 196.4Z" fill="#F7F6CE" stroke-width="3.2"/><path d="M251.9 241.0L261.1 256.9L242.7 256.9Z" fill="#F8E59C" stroke-width="3.2"/><circle cx="287.3" cy="219.9" r="7.7" fill="#F8E59C" stroke-width="3.2"/><path d="M322.3 203.0L331.5 218.9L313.1 218.9Z" fill="#F7F6CE" stroke-width="3.2"/><path d="M227.2 189.9L236.4 205.8L218.0 205.8Z" fill="#E95235" stroke-width="3.2"/><path d="M250.4 164.8L259.6 180.7L241.2 180.7Z" fill="#F7F6CE" stroke-width="3.2"/><circle cx="287.5" cy="240.6" r="7.7" fill="#F8E59C" stroke-width="3.2"/><path d="M220.0 206.2L229.2 222.1L210.8 222.1Z" fill="#F7F6CE" stroke-width="3.2"/><circle cx="254.5" cy="223.0" r="7.7" fill="#F7F6CE" stroke-width="3.2"/><path d="M279.1 239.9L288.3 255.8L269.9 255.8Z" fill="#F7F6CE" stroke-width="3.2"/><path d="M298.1 183.6L307.3 199.5L288.9 199.5Z" fill="#F8E59C" stroke-width="3.2"/><circle cx="296.2" cy="205.0" r="7.7" fill="#F7F6CE" stroke-width="3.2"/><path d="M235.4 209.8L244.6 225.7L226.2 225.7Z" fill="#F7F6CE" stroke-width="3.2"/><path d="M196.6 235.5L205.8 251.4L187.4 251.4Z" fill="#F8E59C" stroke-width="3.2"/><circle cx="199.4" cy="198.6" r="7.7" fill="#F7F6CE" stroke-width="3.2"/><circle cx="225.7" cy="259.2" r="7.7" fill="#F7F6CE" stroke-width="3.2"/><circle cx="211.4" cy="186.0" r="7.7" fill="#F7F6CE" stroke-width="3.2"/><path d="M207.1 192.1L216.3 208.0L197.9 208.0Z" fill="#F8E59C" stroke-width="3.2"/><path d="M310.7 209.5L319.9 225.4L301.5 225.4Z" fill="#E95235" stroke-width="3.2"/><path d="M255.2 218.0L264.4 233.9L246.0 233.9Z" fill="#F5D174" stroke-width="3.2"/><path d="M214.4 256.2L223.6 272.1L205.2 272.1Z" fill="#F7F6CE" stroke-width="3.2"/><circle cx="227.7" cy="188.1" r="7.7" fill="#F7F6CE" stroke-width="3.2"/><circle cx="275.1" cy="227.0" r="7.7" fill="#F8E59C" stroke-width="3.2"/><circle cx="242.9" cy="178.9" r="7.7" fill="#F7F6CE" stroke-width="3.2"/><path d="M229.7 218.3L238.9 234.2L220.5 234.2Z" fill="#F7F6CE" stroke-width="3.2"/><path d="M243.0 214.2L252.2 230.1L233.8 230.1Z" fill="#F8E59C" stroke-width="3.2"/><path d="M278.3 206.8L287.5 222.7L269.1 222.7Z" fill="#F7F6CE" stroke-width="3.2"/><circle cx="232.3" cy="260.1" r="7.7" fill="#F7F6CE" stroke-width="3.2"/><circle cx="260.5" cy="254.8" r="7.7" fill="#F7F6CE" stroke-width="3.2"/><path d="M305.0 183.6L314.2 199.5L295.8 199.5Z" fill="#F7F6CE" stroke-width="3.2"/><path d="M271.5 180.3L280.7 196.2L262.3 196.2Z" fill="#F8E59C" stroke-width="3.2"/><circle cx="311.5" cy="206.2" r="7.7" fill="#F7F6CE" stroke-width="3.2"/><path d="M267.0 192.7L276.2 208.6L257.8 208.6Z" fill="#F7F6CE" stroke-width="3.2"/><path d="M271.6 204.6L280.8 220.5L262.4 220.5Z" fill="#F7F6CE" stroke-width="3.2"/><path d="M229.9 202.7L239.1 218.6L220.7 218.6Z" fill="#F8E59C" stroke-width="3.2"/><circle cx="295.0" cy="233.0" r="7.7" fill="#F5D174" stroke-width="3.2"/><circle cx="288.0" cy="229.1" r="7.7" fill="#F7F6CE" stroke-width="3.2"/><path d="M202.1 226.6L211.3 242.5L192.9 242.5Z" fill="#F7F6CE" stroke-width="3.2"/><path d="M193.6 199.9L202.8 215.8L184.4 215.8Z" fill="#F8E59C" stroke-width="3.2"/><circle cx="215.9" cy="194.0" r="7.7" fill="#F8E59C" stroke-width="3.2"/><path d="M267.8 240.6L277.0 256.5L258.6 256.5Z" fill="#F7F6CE" stroke-width="3.2"/><circle cx="216.2" cy="218.6" r="7.7" fill="#F5D174" stroke-width="3.2"/><circle cx="255.2" cy="201.7" r="7.7" fill="#F7F6CE" stroke-width="3.2"/><circle cx="302.8" cy="206.9" r="7.7" fill="#7E1528" stroke-width="3.2"/><path d="M214.5 221.1L223.7 237.0L205.3 237.0Z" fill="#F8E59C" stroke-width="3.2"/><path d="M222.6 239.5L231.8 255.4L213.4 255.4Z" fill="#F7F6CE" stroke-width="3.2"/><path d="M198.4 196.0L207.6 211.9L189.2 211.9Z" fill="#F7F6CE" stroke-width="3.2"/><path d="M237.1 178.7L246.3 194.6L227.9 194.6Z" fill="#F8E59C" stroke-width="3.2"/><path d="M286.9 239.6L296.1 255.5L277.7 255.5Z" fill="#F7F6CE" stroke-width="3.2"/><path d="M230.7 169.0L239.9 184.9L221.5 184.9Z" fill="#F7F6CE" stroke-width="3.2"/><path d="M229.1 261.6L238.3 277.5L219.9 277.5Z" fill="#F7F6CE" stroke-width="3.2"/><path d="M267.1 214.6L276.3 230.5L257.9 230.5Z" fill="#F7F6CE" stroke-width="3.2"/><path d="M301.8 191.2L311.0 207.1L292.6 207.1Z" fill="#F8E59C" stroke-width="3.2"/><path d="M219.6 180.2L228.8 196.1L210.4 196.1Z" fill="#F5D174" stroke-width="3.2"/><circle cx="319.5" cy="199.7" r="7.7" fill="#F8E59C" stroke-width="3.2"/><circle cx="260.6" cy="188.7" r="7.7" fill="#F7F6CE" stroke-width="3.2"/><circle cx="288.9" cy="181.7" r="7.7" fill="#F7F6CE" stroke-width="3.2"/><circle cx="224.4" cy="274.7" r="7.7" fill="#F8E59C" stroke-width="3.2"/><circle cx="264.9" cy="261.8" r="7.7" fill="#F8E59C" stroke-width="3.2"/><path d="M261.5 205.1L270.7 221.0L252.3 221.0Z" fill="#7E1528" stroke-width="3.2"/><path d="M200.0 204.3L209.2 220.2L190.8 220.2Z" fill="#F7F6CE" stroke-width="3.2"/><circle cx="306.4" cy="225.0" r="7.7" fill="#F7F6CE" stroke-width="3.2"/><circle cx="310.8" cy="232.6" r="7.7" fill="#F7F6CE" stroke-width="3.2"/><circle cx="249.6" cy="209.4" r="7.7" fill="#E95235" stroke-width="3.2"/><path d="M206.7 247.3L215.9 263.2L197.5 263.2Z" fill="#F8E59C" stroke-width="3.2"/><path d="M255.5 236.0L264.7 251.9L246.3 251.9Z" fill="#F7F6CE" stroke-width="3.2"/><circle cx="262.2" cy="243.6" r="7.7" fill="#F7F6CE" stroke-width="3.2"/><path d="M220.3 190.8L229.5 206.7L211.1 206.7Z" fill="#F8E59C" stroke-width="3.2"/><path d="M226.1 226.2L235.3 242.1L216.9 242.1Z" fill="#F7F6CE" stroke-width="3.2"/><path d="M302.0 219.0L311.2 234.9L292.8 234.9Z" fill="#F7F6CE" stroke-width="3.2"/><circle cx="206.1" cy="205.1" r="7.7" fill="#F7F6CE" stroke-width="3.2"/><path d="M244.2 192.8L253.4 208.7L235.0 208.7Z" fill="#F7F6CE" stroke-width="3.2"/><path d="M190.4 230.8L199.6 246.7L181.2 246.7Z" fill="#F7F6CE" stroke-width="3.2"/><path d="M202.2 183.8L211.4 199.7L193.0 199.7Z" fill="#F7F6CE" stroke-width="3.2"/><circle cx="203.9" cy="187.6" r="7.7" fill="#F8E59C" stroke-width="3.2"/><path d="M274.5 239.0L283.7 254.9L265.3 254.9Z" fill="#F7F6CE" stroke-width="3.2"/><path d="M234.1 263.5L243.3 279.4L224.9 279.4Z" fill="#F5D174" stroke-width="3.2"/><circle cx="227.7" cy="203.8" r="7.7" fill="#F7F6CE" stroke-width="3.2"/><circle cx="286.4" cy="213.6" r="7.7" fill="#F8E59C" stroke-width="3.2"/><path d="M293.2 192.3L302.4 208.2L284.0 208.2Z" fill="#F8E59C" stroke-width="3.2"/><path d="M305.9 211.4L315.1 227.3L296.7 227.3Z" fill="#F7F6CE" stroke-width="3.2"/><path d="M222.5 218.7L231.7 234.6L213.3 234.6Z" fill="#F7F6CE" stroke-width="3.2"/><path d="M241.9 223.9L251.1 239.8L232.7 239.8Z" fill="#F7F6CE" stroke-width="3.2"/><circle cx="215.5" cy="238.4" r="7.7" fill="#F7F6CE" stroke-width="3.2"/><circle cx="282.8" cy="220.7" r="7.7" fill="#F8E59C" stroke-width="3.2"/><path d="M207.9 185.6L217.1 201.5L198.7 201.5Z" fill="#F7F6CE" stroke-width="3.2"/><path d="M295.0 173.2L304.2 189.1L285.8 189.1Z" fill="#F7F6CE" stroke-width="3.2"/><circle cx="243.0" cy="174.4" r="7.7" fill="#F7F6CE" stroke-width="3.2"/><circle cx="275.1" cy="198.6" r="7.7" fill="#F8E59C" stroke-width="3.2"/><circle cx="230.8" cy="277.1" r="7.7" fill="#F7F6CE" stroke-width="3.2"/><circle cx="215.1" cy="235.1" r="7.7" fill="#F7F6CE" stroke-width="3.2"/><circle cx="321.8" cy="204.7" r="7.7" fill="#F7F6CE" stroke-width="3.2"/><path d="M315.9 203.8L325.1 219.7L306.7 219.7Z" fill="#F7F6CE" stroke-width="3.2"/><circle cx="290.0" cy="193.8" r="7.7" fill="#E95235" stroke-width="3.2"/><path d="M245.2 222.0L254.4 237.9L236.0 237.9Z" fill="#F5D174" stroke-width="3.2"/><path d="M228.0 248.2L237.2 264.1L218.8 264.1Z" fill="#F7F6CE" stroke-width="3.2"/><path d="M308.5 191.5L317.7 207.4L299.3 207.4Z" fill="#F8E59C" stroke-width="3.2"/><circle cx="206.0" cy="226.1" r="7.7" fill="#F7F6CE" stroke-width="3.2"/><path d="M282.6 249.5L291.8 265.4L273.4 265.4Z" fill="#F8E59C" stroke-width="3.2"/><circle cx="284.1" cy="185.1" r="7.7" fill="#F8E59C" stroke-width="3.2"/><circle cx="235.5" cy="215.4" r="7.7" fill="#E95235" stroke-width="3.2"/><circle cx="271.5" cy="192.5" r="7.7" fill="#F8E59C" stroke-width="3.2"/><path d="M311.4 184.7L320.6 200.6L302.2 200.6Z" fill="#F7F6CE" stroke-width="3.2"/><circle cx="275.4" cy="243.9" r="7.7" fill="#F8E59C" stroke-width="3.2"/><path d="M206.8 240.6L216.0 256.5L197.6 256.5Z" fill="#E95235" stroke-width="3.2"/><path d="M248.2 183.2L257.4 199.1L239.0 199.1Z" fill="#F7F6CE" stroke-width="3.2"/><path d="M247.9 226.6L257.1 242.5L238.7 242.5Z" fill="#F7F6CE" stroke-width="3.2"/><path d="M287.5 228.2L296.7 244.1L278.3 244.1Z" fill="#F7F6CE" stroke-width="3.2"/><path d="M294.3 204.4L303.5 220.3L285.1 220.3Z" fill="#F7F6CE" stroke-width="3.2"/><path d="M248.6 170.7L257.8 186.6L239.4 186.6Z" fill="#F7F6CE" stroke-width="3.2"/><path d="M236.5 218.1L245.7 234.0L227.3 234.0Z" fill="#F7F6CE" stroke-width="3.2"/><path d="M288.9 196.5L298.1 212.4L279.7 212.4Z" fill="#F8E59C" stroke-width="3.2"/><circle cx="199.9" cy="252.5" r="7.7" fill="#F5D174" stroke-width="3.2"/><path d="M268.9 230.0L278.1 245.9L259.7 245.9Z" fill="#F7F6CE" stroke-width="3.2"/><circle cx="224.1" cy="178.1" r="7.7" fill="#F8E59C" stroke-width="3.2"/><circle cx="262.5" cy="237.0" r="7.7" fill="#F7F6CE" stroke-width="3.2"/><circle cx="303.3" cy="215.3" r="7.7" fill="#F7F6CE" stroke-width="3.2"/><path d="M258.8 240.1L268.0 256.0L249.6 256.0Z" fill="#F7F6CE" stroke-width="3.2"/><path d="M267.2 216.9L276.4 232.8L258.0 232.8Z" fill="#7E1528" stroke-width="3.2"/><path d="M190.7 214.2L199.9 230.1L181.5 230.1Z" fill="#F7F6CE" stroke-width="3.2"/><circle cx="279.5" cy="258.0" r="7.7" fill="#F7F6CE" stroke-width="3.2"/><path d="M201.6 214.8L210.8 230.7L192.4 230.7Z" fill="#F7F6CE" stroke-width="3.2"/><circle cx="255.3" cy="254.7" r="7.7" fill="#F7F6CE" stroke-width="3.2"/><circle cx="194.7" cy="235.6" r="7.7" fill="#E95235" stroke-width="3.2"/><circle cx="297.1" cy="222.2" r="7.7" fill="#F8E59C" stroke-width="3.2"/><path d="M275.1 211.4L284.3 227.3L265.9 227.3Z" fill="#F5D174" stroke-width="3.2"/><path d="M199.2 222.0L208.4 237.9L190.0 237.9Z" fill="#F7F6CE" stroke-width="3.2"/><path d="M237.2 248.2L246.4 264.1L228.0 264.1Z" fill="#F7F6CE" stroke-width="3.2"/><circle cx="263.0" cy="192.6" r="7.7" fill="#F7F6CE" stroke-width="3.2"/><circle cx="306.0" cy="233.9" r="7.7" fill="#F7F6CE" stroke-width="3.2"/><path d="M212.2 204.4L221.4 220.3L203.0 220.3Z" fill="#F5D174" stroke-width="3.2"/><circle cx="221.8" cy="255.7" r="7.7" fill="#F5D174" stroke-width="3.2"/><path d="M294.2 230.5L303.4 246.4L285.0 246.4Z" fill="#F8E59C" stroke-width="3.2"/><path d="M216.8 239.0L226.0 254.9L207.6 254.9Z" fill="#F7F6CE" stroke-width="3.2"/><circle cx="291.9" cy="224.7" r="7.7" fill="#7E1528" stroke-width="3.2"/><path d="M211.2 214.7L220.4 230.6L202.0 230.6Z" fill="#F5D174" stroke-width="3.2"/><path d="M213.7 190.0L222.9 205.9L204.5 205.9Z" fill="#F7F6CE" stroke-width="3.2"/><path d="M215.1 247.3L224.3 263.2L205.9 263.2Z" fill="#F7F6CE" stroke-width="3.2"/><circle cx="259.9" cy="230.0" r="7.7" fill="#F8E59C" stroke-width="3.2"/><path d="M227.6 183.7L236.8 199.6L218.4 199.6Z" fill="#F7F6CE" stroke-width="3.2"/><path d="M242.9 241.3L252.1 257.2L233.7 257.2Z" fill="#F7F6CE" stroke-width="3.2"/><circle cx="231.2" cy="237.1" r="7.7" fill="#F5D174" stroke-width="3.2"/><circle cx="300.7" cy="242.4" r="7.7" fill="#F8E59C" stroke-width="3.2"/><circle cx="244.6" cy="244.2" r="7.7" fill="#F7F6CE" stroke-width="3.2"/><circle cx="268.1" cy="258.0" r="7.7" fill="#F7F6CE" stroke-width="3.2"/><circle cx="218.4" cy="181.7" r="7.7" fill="#E95235" stroke-width="3.2"/><circle cx="251.4" cy="211.7" r="7.7" fill="#F8E59C" stroke-width="3.2"/><circle cx="230.8" cy="250.8" r="7.7" fill="#F8E59C" stroke-width="3.2"/><path d="M202.3 238.0L211.5 253.9L193.1 253.9Z" fill="#F7F6CE" stroke-width="3.2"/><path d="M255.2 252.2L264.4 268.1L246.0 268.1Z" fill="#F5D174" stroke-width="3.2"/><path d="M327.7 192.5L336.9 208.4L318.5 208.4Z" fill="#F7F6CE" stroke-width="3.2"/><path d="M258.4 226.0L267.6 241.9L249.2 241.9Z" fill="#F8E59C" stroke-width="3.2"/><path d="M258.1 190.3L267.3 206.2L248.9 206.2Z" fill="#F7F6CE" stroke-width="3.2"/><path d="M273.3 223.9L282.5 239.8L264.1 239.8Z" fill="#E95235" stroke-width="3.2"/><path d="M279.4 184.7L288.6 200.6L270.2 200.6Z" fill="#F8E59C" stroke-width="3.2"/><circle cx="272.9" cy="208.0" r="7.7" fill="#F8E59C" stroke-width="3.2"/><path d="M239.4 183.4L248.6 199.3L230.2 199.3Z" fill="#F5D174" stroke-width="3.2"/><path d="M208.7 224.0L217.9 239.9L199.5 239.9Z" fill="#F7F6CE" stroke-width="3.2"/><path d="M241.3 197.2L250.5 213.1L232.1 213.1Z" fill="#F7F6CE" stroke-width="3.2"/><path d="M514.9 228.3L524.1 244.2L505.7 244.2Z" fill="#F7F6CE" stroke-width="3.2"/><circle cx="581.7" cy="214.9" r="7.7" fill="#F8E59C" stroke-width="3.2"/><circle cx="529.1" cy="155.6" r="7.7" fill="#F7F6CE" stroke-width="3.2"/><circle cx="529.0" cy="207.2" r="7.7" fill="#F7F6CE" stroke-width="3.2"/><circle cx="573.3" cy="228.5" r="7.7" fill="#F8E59C" stroke-width="3.2"/><path d="M543.7 164.3L552.9 180.2L534.5 180.2Z" fill="#F8E59C" stroke-width="3.2"/><path d="M480.9 234.4L490.1 250.3L471.7 250.3Z" fill="#F7F6CE" stroke-width="3.2"/><path d="M565.0 208.1L574.2 224.0L555.8 224.0Z" fill="#F7F6CE" stroke-width="3.2"/><circle cx="558.3" cy="177.0" r="7.7" fill="#F7F6CE" stroke-width="3.2"/><path d="M484.2 168.9L493.4 184.8L475.0 184.8Z" fill="#F7F6CE" stroke-width="3.2"/><path d="M502.9 222.9L512.1 238.8L493.7 238.8Z" fill="#F5D174" stroke-width="3.2"/><path d="M533.8 224.6L543.0 240.5L524.6 240.5Z" fill="#F8E59C" stroke-width="3.2"/><circle cx="507.8" cy="191.2" r="7.7" fill="#F7F6CE" stroke-width="3.2"/><path d="M527.2 168.1L536.4 184.0L518.0 184.0Z" fill="#F8E59C" stroke-width="3.2"/><circle cx="507.3" cy="195.8" r="7.7" fill="#F7F6CE" stroke-width="3.2"/><path d="M537.4 199.0L546.6 214.9L528.2 214.9Z" fill="#F7F6CE" stroke-width="3.2"/><path d="M533.6 191.4L542.8 207.3L524.4 207.3Z" fill="#F7F6CE" stroke-width="3.2"/><path d="M470.4 167.8L479.6 183.7L461.2 183.7Z" fill="#F7F6CE" stroke-width="3.2"/><path d="M553.4 200.1L562.6 216.0L544.2 216.0Z" fill="#F7F6CE" stroke-width="3.2"/><path d="M479.6 179.7L488.8 195.6L470.4 195.6Z" fill="#F7F6CE" stroke-width="3.2"/><path d="M519.7 203.3L528.9 219.2L510.5 219.2Z" fill="#F7F6CE" stroke-width="3.2"/><path d="M493.5 177.4L502.7 193.3L484.3 193.3Z" fill="#F8E59C" stroke-width="3.2"/><circle cx="483.3" cy="197.7" r="7.7" fill="#F8E59C" stroke-width="3.2"/><circle cx="531.6" cy="181.4" r="7.7" fill="#F7F6CE" stroke-width="3.2"/><circle cx="495.8" cy="193.8" r="7.7" fill="#F7F6CE" stroke-width="3.2"/><circle cx="518.4" cy="176.9" r="7.7" fill="#F8E59C" stroke-width="3.2"/><path d="M525.8 221.1L535.0 237.0L516.6 237.0Z" fill="#F7F6CE" stroke-width="3.2"/><circle cx="511.6" cy="170.1" r="7.7" fill="#F5D174" stroke-width="3.2"/><path d="M560.8 202.1L570.0 218.0L551.6 218.0Z" fill="#F7F6CE" stroke-width="3.2"/><path d="M488.5 228.3L497.7 244.2L479.3 244.2Z" fill="#F8E59C" stroke-width="3.2"/><circle cx="544.2" cy="142.0" r="7.7" fill="#F7F6CE" stroke-width="3.2"/><circle cx="509.0" cy="163.3" r="7.7" fill="#F7F6CE" stroke-width="3.2"/><circle cx="530.5" cy="166.2" r="7.7" fill="#F7F6CE" stroke-width="3.2"/><circle cx="491.4" cy="207.4" r="7.7" fill="#F5D174" stroke-width="3.2"/><circle cx="484.3" cy="179.0" r="7.7" fill="#F7F6CE" stroke-width="3.2"/><path d="M524.2 143.4L533.4 159.3L515.0 159.3Z" fill="#F7F6CE" stroke-width="3.2"/><path d="M547.1 203.7L556.3 219.6L537.9 219.6Z" fill="#F7F6CE" stroke-width="3.2"/><circle cx="479.3" cy="235.2" r="7.7" fill="#F7F6CE" stroke-width="3.2"/><path d="M471.4 179.9L480.6 195.8L462.2 195.8Z" fill="#F8E59C" stroke-width="3.2"/><circle cx="518.5" cy="188.1" r="7.7" fill="#F5D174" stroke-width="3.2"/><circle cx="471.3" cy="207.5" r="7.7" fill="#F7F6CE" stroke-width="3.2"/><path d="M509.2 140.6L518.4 156.5L500.0 156.5Z" fill="#F7F6CE" stroke-width="3.2"/><path d="M533.8 206.9L543.0 222.8L524.6 222.8Z" fill="#F7F6CE" stroke-width="3.2"/><circle cx="524.8" cy="205.1" r="7.7" fill="#F7F6CE" stroke-width="3.2"/><circle cx="540.5" cy="135.1" r="7.7" fill="#F7F6CE" stroke-width="3.2"/><path d="M499.4 165.6L508.6 181.5L490.2 181.5Z" fill="#F7F6CE" stroke-width="3.2"/><circle cx="560.3" cy="160.7" r="7.7" fill="#F7F6CE" stroke-width="3.2"/><path d="M496.0 210.6L505.2 226.5L486.8 226.5Z" fill="#F7F6CE" stroke-width="3.2"/><circle cx="526.1" cy="185.8" r="7.7" fill="#F8E59C" stroke-width="3.2"/><path d="M540.6 205.9L549.8 221.8L531.4 221.8Z" fill="#F7F6CE" stroke-width="3.2"/><circle cx="508.2" cy="237.0" r="7.7" fill="#F8E59C" stroke-width="3.2"/><path d="M514.1 185.1L523.3 201.0L504.9 201.0Z" fill="#F7F6CE" stroke-width="3.2"/><path d="M518.1 219.7L527.3 235.6L508.9 235.6Z" fill="#F7F6CE" stroke-width="3.2"/><circle cx="525.9" cy="159.3" r="7.7" fill="#F7F6CE" stroke-width="3.2"/><circle cx="537.5" cy="142.1" r="7.7" fill="#F8E59C" stroke-width="3.2"/><circle cx="531.3" cy="175.3" r="7.7" fill="#F7F6CE" stroke-width="3.2"/><path d="M516.2 194.4L525.4 210.3L507.0 210.3Z" fill="#F7F6CE" stroke-width="3.2"/><circle cx="511.4" cy="208.8" r="7.7" fill="#F7F6CE" stroke-width="3.2"/><circle cx="605.2" cy="217.8" r="7.7" fill="#F8E59C" stroke-width="3.2"/><circle cx="553.4" cy="183.5" r="7.7" fill="#F7F6CE" stroke-width="3.2"/><path d="M602.8 215.5L612.0 231.4L593.6 231.4Z" fill="#F7F6CE" stroke-width="3.2"/><circle cx="503.3" cy="189.1" r="7.7" fill="#F7F6CE" stroke-width="3.2"/><path d="M496.8 214.3L506.0 230.2L487.6 230.2Z" fill="#F5D174" stroke-width="3.2"/><path d="M473.5 213.7L482.7 229.6L464.3 229.6Z" fill="#F7F6CE" stroke-width="3.2"/><circle cx="530.3" cy="221.9" r="7.7" fill="#F7F6CE" stroke-width="3.2"/><circle cx="508.4" cy="178.6" r="7.7" fill="#F7F6CE" stroke-width="3.2"/><circle cx="479.3" cy="205.0" r="7.7" fill="#F7F6CE" stroke-width="3.2"/><path d="M556.5 214.8L565.7 230.7L547.3 230.7Z" fill="#F7F6CE" stroke-width="3.2"/><path d="M514.3 143.2L523.5 159.1L505.1 159.1Z" fill="#F7F6CE" stroke-width="3.2"/><circle cx="523.9" cy="135.2" r="7.7" fill="#F8E59C" stroke-width="3.2"/><path d="M495.2 222.8L504.4 238.7L486.0 238.7Z" fill="#F5D174" stroke-width="3.2"/><circle cx="551.8" cy="142.8" r="7.7" fill="#F7F6CE" stroke-width="3.2"/><path d="M555.9 159.3L565.1 175.2L546.7 175.2Z" fill="#F7F6CE" stroke-width="3.2"/><circle cx="588.5" cy="218.6" r="7.7" fill="#F7F6CE" stroke-width="3.2"/><circle cx="555.2" cy="146.2" r="7.7" fill="#F7F6CE" stroke-width="3.2"/><path d="M487.9 187.8L497.1 203.7L478.7 203.7Z" fill="#F7F6CE" stroke-width="3.2"/><path d="M555.9 181.9L565.1 197.8L546.7 197.8Z" fill="#F8E59C" stroke-width="3.2"/><circle cx="549.0" cy="227.6" r="7.7" fill="#F7F6CE" stroke-width="3.2"/><path d="M507.1 167.5L516.3 183.4L497.9 183.4Z" fill="#F7F6CE" stroke-width="3.2"/><path d="M512.6 218.8L521.8 234.7L503.4 234.7Z" fill="#F7F6CE" stroke-width="3.2"/><path d="M566.6 135.6L575.8 151.5L557.4 151.5Z" fill="#F8E59C" stroke-width="3.2"/><path d="M476.2 208.2L485.4 224.1L467.0 224.1Z" fill="#F8E59C" stroke-width="3.2"/><path d="M495.4 202.3L504.6 218.2L486.2 218.2Z" fill="#F7F6CE" stroke-width="3.2"/><circle cx="573.5" cy="216.8" r="7.7" fill="#F7F6CE" stroke-width="3.2"/><circle cx="522.8" cy="184.2" r="7.7" fill="#F8E59C" stroke-width="3.2"/><circle cx="564.3" cy="230.5" r="7.7" fill="#F8E59C" stroke-width="3.2"/><circle cx="560.3" cy="140.6" r="7.7" fill="#F7F6CE" stroke-width="3.2"/><path d="M508.7 195.9L517.9 211.8L499.5 211.8Z" fill="#F7F6CE" stroke-width="3.2"/><circle cx="475.1" cy="237.1" r="7.7" fill="#F8E59C" stroke-width="3.2"/><circle cx="548.8" cy="220.1" r="7.7" fill="#F7F6CE" stroke-width="3.2"/><circle cx="570.4" cy="237.5" r="7.7" fill="#F8E59C" stroke-width="3.2"/><path d="M544.1 137.1L553.3 153.0L534.9 153.0Z" fill="#F7F6CE" stroke-width="3.2"/><circle cx="536.5" cy="148.3" r="7.7" fill="#F7F6CE" stroke-width="3.2"/><path d="M583.9 212.4L593.1 228.3L574.7 228.3Z" fill="#F8E59C" stroke-width="3.2"/><path d="M551.0 188.7L560.2 204.6L541.8 204.6Z" fill="#F7F6CE" stroke-width="3.2"/><circle cx="563.9" cy="154.0" r="7.7" fill="#F7F6CE" stroke-width="3.2"/><circle cx="499.0" cy="234.3" r="7.7" fill="#F7F6CE" stroke-width="3.2"/><circle cx="575.3" cy="239.8" r="7.7" fill="#F7F6CE" stroke-width="3.2"/><circle cx="556.4" cy="151.5" r="7.7" fill="#F7F6CE" stroke-width="3.2"/><circle cx="485.8" cy="228.5" r="7.7" fill="#F7F6CE" stroke-width="3.2"/><path d="M496.8 163.8L506.0 179.7L487.6 179.7Z" fill="#F7F6CE" stroke-width="3.2"/><circle cx="536.0" cy="134.5" r="7.7" fill="#F5D174" stroke-width="3.2"/><path d="M484.0 203.0L493.2 218.9L474.8 218.9Z" fill="#F7F6CE" stroke-width="3.2"/><path d="M559.8 195.4L569.0 211.3L550.6 211.3Z" fill="#F8E59C" stroke-width="3.2"/><circle cx="592.3" cy="211.6" r="7.7" fill="#F5D174" stroke-width="3.2"/><circle cx="532.4" cy="186.1" r="7.7" fill="#F7F6CE" stroke-width="3.2"/><circle cx="475.9" cy="173.5" r="7.7" fill="#F7F6CE" stroke-width="3.2"/><circle cx="474.4" cy="192.7" r="7.7" fill="#F7F6CE" stroke-width="3.2"/><circle cx="538.6" cy="165.0" r="7.7" fill="#F7F6CE" stroke-width="3.2"/><path d="M594.2 212.0L603.4 227.9L585.0 227.9Z" fill="#F5D174" stroke-width="3.2"/><path d="M491.9 172.9L501.1 188.8L482.7 188.8Z" fill="#F7F6CE" stroke-width="3.2"/><circle cx="486.6" cy="241.9" r="7.7" fill="#F7F6CE" stroke-width="3.2"/><path d="M523.3 134.2L532.5 150.1L514.1 150.1Z" fill="#F7F6CE" stroke-width="3.2"/><path d="M508.9 205.4L518.1 221.3L499.7 221.3Z" fill="#F7F6CE" stroke-width="3.2"/><circle cx="545.0" cy="181.1" r="7.7" fill="#F7F6CE" stroke-width="3.2"/><path d="M487.1 159.0L496.3 174.9L477.9 174.9Z" fill="#F8E59C" stroke-width="3.2"/><path d="M552.7 191.1L561.9 207.0L543.5 207.0Z" fill="#F7F6CE" stroke-width="3.2"/><path d="M597.8 210.0L607.0 225.9L588.6 225.9Z" fill="#F8E59C" stroke-width="3.2"/><path d="M536.3 215.1L545.5 231.0L527.1 231.0Z" fill="#F7F6CE" stroke-width="3.2"/><circle cx="542.8" cy="227.9" r="7.7" fill="#F7F6CE" stroke-width="3.2"/><path d="M495.0 173.3L504.2 189.2L485.8 189.2Z" fill="#F7F6CE" stroke-width="3.2"/><circle cx="563.4" cy="223.5" r="7.7" fill="#F7F6CE" stroke-width="3.2"/><path d="M496.2 194.6L505.4 210.5L487.0 210.5Z" fill="#7E1528" stroke-width="3.2"/><circle cx="515.5" cy="179.1" r="7.7" fill="#F8E59C" stroke-width="3.2"/><path d="M531.8 133.7L541.0 149.6L522.6 149.6Z" fill="#F7F6CE" stroke-width="3.2"/><path d="M516.5 217.5L525.7 233.4L507.3 233.4Z" fill="#F8E59C" stroke-width="3.2"/><path d="M534.2 150.6L543.4 166.5L525.0 166.5Z" fill="#F7F6CE" stroke-width="3.2"/><path d="M511.4 132.5L520.6 148.4L502.2 148.4Z" fill="#7E1528" stroke-width="3.2"/><circle cx="485.4" cy="190.2" r="7.7" fill="#F8E59C" stroke-width="3.2"/><circle cx="526.5" cy="213.3" r="7.7" fill="#F7F6CE" stroke-width="3.2"/><path d="M485.6 207.0L494.8 222.9L476.4 222.9Z" fill="#F7F6CE" stroke-width="3.2"/><circle cx="527.0" cy="145.6" r="7.7" fill="#F7F6CE" stroke-width="3.2"/><circle cx="485.1" cy="204.6" r="7.7" fill="#F8E59C" stroke-width="3.2"/><circle cx="520.1" cy="160.2" r="7.7" fill="#D62323" stroke-width="3.2"/><path d="M585.5 201.0L594.7 216.9L576.3 216.9Z" fill="#F5D174" stroke-width="3.2"/><circle cx="476.2" cy="232.5" r="7.7" fill="#F7F6CE" stroke-width="3.2"/><circle cx="578.7" cy="210.0" r="7.7" fill="#F7F6CE" stroke-width="3.2"/><circle cx="545.6" cy="154.2" r="7.7" fill="#F7F6CE" stroke-width="3.2"/><circle cx="489.5" cy="224.9" r="7.7" fill="#F8E59C" stroke-width="3.2"/><circle cx="544.7" cy="195.6" r="7.7" fill="#F8E59C" stroke-width="3.2"/><circle cx="540.1" cy="161.1" r="7.7" fill="#F7F6CE" stroke-width="3.2"/><circle cx="556.2" cy="217.7" r="7.7" fill="#7E1528" stroke-width="3.2"/><circle cx="587.3" cy="230.7" r="7.7" fill="#F5D174" stroke-width="3.2"/><circle cx="524.0" cy="168.7" r="7.7" fill="#F8E59C" stroke-width="3.2"/><circle cx="548.2" cy="189.8" r="7.7" fill="#F7F6CE" stroke-width="3.2"/><path d="M501.0 210.0L510.2 225.9L491.8 225.9Z" fill="#F7F6CE" stroke-width="3.2"/><path d="M518.9 210.4L528.1 226.3L509.7 226.3Z" fill="#F7F6CE" stroke-width="3.2"/><circle cx="502.4" cy="199.7" r="7.7" fill="#F7F6CE" stroke-width="3.2"/><circle cx="549.5" cy="173.0" r="7.7" fill="#F7F6CE" stroke-width="3.2"/><circle cx="538.7" cy="180.8" r="7.7" fill="#F7F6CE" stroke-width="3.2"/><circle cx="503.8" cy="155.6" r="7.7" fill="#F7F6CE" stroke-width="3.2"/><path d="M586.0 231.5L595.2 247.4L576.8 247.4Z" fill="#F7F6CE" stroke-width="3.2"/><path d="M568.8 143.0L578.0 158.9L559.6 158.9Z" fill="#F7F6CE" stroke-width="3.2"/><circle cx="567.9" cy="211.3" r="7.7" fill="#F7F6CE" stroke-width="3.2"/><path d="M548.1 150.0L557.3 165.9L538.9 165.9Z" fill="#F7F6CE" stroke-width="3.2"/><path d="M558.1 224.4L567.3 240.3L548.9 240.3Z" fill="#F7F6CE" stroke-width="3.2"/><circle cx="577.9" cy="224.8" r="7.7" fill="#F8E59C" stroke-width="3.2"/><path d="M520.0 125.4L529.2 141.3L510.8 141.3Z" fill="#F7F6CE" stroke-width="3.2"/><path d="M551.9 204.9L561.1 220.8L542.7 220.8Z" fill="#F7F6CE" stroke-width="3.2"/><path d="M472.4 172.2L481.6 188.1L463.2 188.1Z" fill="#F7F6CE" stroke-width="3.2"/><path d="M472.3 193.8L481.5 209.7L463.1 209.7Z" fill="#F8E59C" stroke-width="3.2"/><circle cx="544.2" cy="188.2" r="7.7" fill="#F7F6CE" stroke-width="3.2"/><path d="M518.0 141.4L527.2 157.3L508.8 157.3Z" fill="#F7F6CE" stroke-width="3.2"/><circle cx="506.9" cy="220.4" r="7.7" fill="#F7F6CE" stroke-width="3.2"/><path d="M546.1 161.0L555.3 176.9L536.9 176.9Z" fill="#F8E59C" stroke-width="3.2"/><circle cx="508.2" cy="208.9" r="7.7" fill="#F7F6CE" stroke-width="3.2"/><path d="M536.6 188.4L545.8 204.3L527.4 204.3Z" fill="#F7F6CE" stroke-width="3.2"/><path d="M524.2 217.3L533.4 233.2L515.0 233.2Z" fill="#F7F6CE" stroke-width="3.2"/><circle cx="467.2" cy="181.9" r="7.7" fill="#F7F6CE" stroke-width="3.2"/><circle cx="567.6" cy="222.4" r="7.7" fill="#F8E59C" stroke-width="3.2"/><circle cx="529.7" cy="193.8" r="7.7" fill="#F8E59C" stroke-width="3.2"/><path d="M539.7 194.7L548.9 210.6L530.5 210.6Z" fill="#F8E59C" stroke-width="3.2"/><path d="M582.5 223.0L591.7 238.9L573.3 238.9Z" fill="#F7F6CE" stroke-width="3.2"/><circle cx="539.0" cy="156.4" r="7.7" fill="#F7F6CE" stroke-width="3.2"/><path d="M484.5 215.1L493.7 231.0L475.3 231.0Z" fill="#F7F6CE" stroke-width="3.2"/><path d="M548.5 137.3L557.7 153.2L539.3 153.2Z" fill="#F7F6CE" stroke-width="3.2"/><path d="M536.9 226.7L546.1 242.6L527.7 242.6Z" fill="#F7F6CE" stroke-width="3.2"/><path d="M520.9 186.8L530.1 202.7L511.7 202.7Z" fill="#F8E59C" stroke-width="3.2"/><circle cx="507.2" cy="167.2" r="7.7" fill="#F5D174" stroke-width="3.2"/><circle cx="703.1" cy="248.6" r="7.7" fill="#F7F6CE" stroke-width="3.2"/><circle cx="716.6" cy="187.8" r="7.7" fill="#F8E59C" stroke-width="3.2"/><circle cx="751.4" cy="245.2" r="7.7" fill="#F5D174" stroke-width="3.2"/><circle cx="675.4" cy="201.2" r="7.7" fill="#F8E59C" stroke-width="3.2"/><circle cx="721.7" cy="191.8" r="7.7" fill="#F8E59C" stroke-width="3.2"/><circle cx="682.1" cy="249.2" r="7.7" fill="#F7F6CE" stroke-width="3.2"/><circle cx="670.5" cy="221.3" r="7.7" fill="#F7F6CE" stroke-width="3.2"/><circle cx="688.5" cy="235.0" r="7.7" fill="#F7F6CE" stroke-width="3.2"/><circle cx="695.7" cy="248.5" r="7.7" fill="#F8E59C" stroke-width="3.2"/><circle cx="678.9" cy="188.6" r="7.7" fill="#F7F6CE" stroke-width="3.2"/><circle cx="722.5" cy="247.7" r="7.7" fill="#7E1528" stroke-width="3.2"/><circle cx="684.1" cy="192.3" r="7.7" fill="#F8E59C" stroke-width="3.2"/><circle cx="745.8" cy="257.4" r="7.7" fill="#F7F6CE" stroke-width="3.2"/><circle cx="717.2" cy="256.4" r="7.7" fill="#F7F6CE" stroke-width="3.2"/><circle cx="677.8" cy="219.7" r="7.7" fill="#F7F6CE" stroke-width="3.2"/><circle cx="706.8" cy="201.5" r="7.7" fill="#F8E59C" stroke-width="3.2"/><circle cx="683.9" cy="229.6" r="7.7" fill="#F7F6CE" stroke-width="3.2"/><circle cx="681.5" cy="212.6" r="7.7" fill="#7E1528" stroke-width="3.2"/><circle cx="675.9" cy="194.3" r="7.7" fill="#F8E59C" stroke-width="3.2"/><circle cx="742.3" cy="246.7" r="7.7" fill="#F7F6CE" stroke-width="3.2"/><circle cx="727.8" cy="256.8" r="7.7" fill="#F7F6CE" stroke-width="3.2"/><circle cx="685.1" cy="204.5" r="7.7" fill="#7E1528" stroke-width="3.2"/><circle cx="679.8" cy="236.8" r="7.7" fill="#F7F6CE" stroke-width="3.2"/><circle cx="743.2" cy="194.4" r="7.7" fill="#F7F6CE" stroke-width="3.2"/><path d="M713.0 184.0L722.2 199.9L703.8 199.9Z" fill="#F5D174" stroke-width="3.2"/><circle cx="691.1" cy="192.2" r="7.7" fill="#F5D174" stroke-width="3.2"/><circle cx="698.9" cy="256.9" r="7.7" fill="#F7F6CE" stroke-width="3.2"/><circle cx="728.3" cy="187.0" r="7.7" fill="#F7F6CE" stroke-width="3.2"/><circle cx="697.4" cy="187.7" r="7.7" fill="#F7F6CE" stroke-width="3.2"/><circle cx="673.9" cy="230.2" r="7.7" fill="#F7F6CE" stroke-width="3.2"/><circle cx="697.1" cy="203.7" r="7.7" fill="#7E1528" stroke-width="3.2"/><circle cx="753.6" cy="192.2" r="7.7" fill="#F7F6CE" stroke-width="3.2"/><circle cx="740.0" cy="254.1" r="7.7" fill="#F7F6CE" stroke-width="3.2"/><circle cx="701.2" cy="194.4" r="7.7" fill="#F7F6CE" stroke-width="3.2"/><circle cx="733.2" cy="192.2" r="7.7" fill="#F7F6CE" stroke-width="3.2"/><circle cx="709.5" cy="256.0" r="7.7" fill="#F8E59C" stroke-width="3.2"/><circle cx="716.5" cy="202.6" r="7.7" fill="#F7F6CE" stroke-width="3.2"/><circle cx="686.2" cy="221.8" r="7.7" fill="#F7F6CE" stroke-width="3.2"/><circle cx="710.4" cy="246.2" r="7.7" fill="#F8E59C" stroke-width="3.2"/><circle cx="671.2" cy="210.4" r="7.7" fill="#F5D174" stroke-width="3.2"/><circle cx="689.4" cy="187.0" r="7.7" fill="#F7F6CE" stroke-width="3.2"/><circle cx="731.2" cy="243.8" r="7.7" fill="#F5D174" stroke-width="3.2"/><circle cx="156.0" cy="160.0" r="7.7" fill="#F8E59C"/><circle cx="159.3" cy="167.9" r="7.7" fill="#F8E59C"/><circle cx="162.1" cy="146.3" r="7.7" fill="#F8E59C"/><circle cx="163.8" cy="160.0" r="7.7" fill="#F8E59C"/><circle cx="177.5" cy="160.0" r="7.7" fill="#F8E59C"/><circle cx="172.9" cy="140.1" r="7.7" fill="#F8E59C"/><circle cx="181.4" cy="157.7" r="7.7" fill="#F8E59C"/><circle cx="224.0" cy="136.0" r="7.7" fill="#F7F6CE"/><circle cx="201.3" cy="160.0" r="7.7" fill="#F2AC4C"/><circle cx="216.1" cy="141.8" r="7.7" fill="#F7F6CE"/><circle cx="232.0" cy="139.5" r="7.7" fill="#F8E59C"/><circle cx="251.8" cy="144.1" r="7.7" fill="#F8E59C"/><circle cx="264.9" cy="141.8" r="7.7" fill="#F8E59C"/><circle cx="242.2" cy="157.7" r="7.7" fill="#F7F6CE"/><circle cx="258.6" cy="158.8" r="7.7" fill="#F7F6CE"/><circle cx="209.3" cy="169.0" r="7.7" fill="#F7F6CE"/><circle cx="224.0" cy="170.2" r="7.7" fill="#F7F6CE"/><circle cx="236.5" cy="173.6" r="7.7" fill="#F7F6CE"/><circle cx="269.4" cy="169.0" r="7.7" fill="#F7F6CE"/><circle cx="255.8" cy="177.6" r="7.7" fill="#E95235"/><circle cx="289.9" cy="166.8" r="7.7" fill="#F5D174"/><circle cx="296.7" cy="180.4" r="7.7" fill="#EF8B3E"/><circle cx="317.1" cy="179.3" r="7.7" fill="#F7F6CE"/><circle cx="337.5" cy="166.8" r="7.7" fill="#F7F6CE"/><circle cx="331.9" cy="175.8" r="7.7" fill="#F5D174"/><circle cx="360.8" cy="167.3" r="7.7" fill="#7E1528"/><circle cx="337.5" cy="194.0" r="7.7" fill="#F8E59C"/><circle cx="330.7" cy="203.0" r="7.7" fill="#F7F6CE"/><circle cx="341.0" cy="197.0" r="7.7" fill="#F8E59C"/><circle cx="333.0" cy="201.0" r="7.7" fill="#F7F6CE"/><circle cx="303.5" cy="196.8" r="7.7" fill="#F8E59C"/><path d="M318.2 194.7L327.4 210.6L309.0 210.6Z" fill="#F7F6CE"/><circle cx="229.7" cy="186.0" r="7.7" fill="#F7F6CE"/><circle cx="204.7" cy="200.8" r="7.7" fill="#F7F6CE"/><circle cx="225.7" cy="210.5" r="7.7" fill="#F5D174"/><path d="M244.4 197.7L253.6 213.6L235.2 213.6Z" fill="#F5D174"/><path d="M277.9 187.7L287.1 203.6L268.7 203.6Z" fill="#F7F6CE"/><path d="M262.6 188.7L271.8 204.6L253.4 204.6Z" fill="#F7F6CE"/><circle cx="281.3" cy="185.0" r="7.7" fill="#F2AC4C"/><path d="M280.2 205.7L289.4 221.6L271.0 221.6Z" fill="#F8E59C"/><path d="M304.6 207.7L313.8 223.6L295.4 223.6Z" fill="#F8E59C"/><circle cx="218.3" cy="227.5" r="7.7" fill="#F5D174"/><path d="M192.2 224.7L201.4 240.6L183.0 240.6Z" fill="#F7F6CE"/><path d="M192.2 219.7L201.4 235.6L183.0 235.6Z" fill="#F8E59C"/><path d="M192.2 212.7L201.4 228.6L183.0 228.6Z" fill="#F7F6CE"/><path d="M266.0 210.7L275.2 226.6L256.8 226.6Z" fill="#F7F6CE"/><path d="M294.4 216.7L303.6 232.6L285.2 232.6Z" fill="#F7F6CE"/><path d="M263.8 233.7L273.0 249.6L254.6 249.6Z" fill="#F5D174"/><path d="M275.1 233.7L284.3 249.6L265.9 249.6Z" fill="#F8E59C"/><path d="M289.9 233.7L299.1 249.6L280.7 249.6Z" fill="#F5D174"/><path d="M247.3 227.7L256.5 243.6L238.1 243.6Z" fill="#F8E59C"/><path d="M226.3 233.7L235.5 249.6L217.1 249.6Z" fill="#F8E59C"/><path d="M242.0 244.7L251.2 260.6L232.8 260.6Z" fill="#F8E59C"/><path d="M280.2 244.7L289.4 260.6L271.0 260.6Z" fill="#EF8B3E"/><circle cx="282.0" cy="260.0" r="7.7" fill="#F7F6CE"/><circle cx="196.8" cy="247.9" r="7.7" fill="#F7F6CE"/><circle cx="212.7" cy="262.7" r="7.7" fill="#F7F6CE"/><circle cx="236.0" cy="266.0" r="7.7" fill="#F7F6CE"/><circle cx="223.4" cy="269.5" r="7.7" fill="#F8E59C"/><circle cx="217.2" cy="284.2" r="7.7" fill="#F7F6CE"/><circle cx="225.1" cy="283.1" r="7.7" fill="#F7F6CE"/><circle cx="237.6" cy="290.0" r="7.7" fill="#F8E59C"/><circle cx="251.8" cy="293.3" r="7.7" fill="#F2AC4C"/><path d="M197.3 139.7L206.5 155.6L188.1 155.6Z" fill="#E95235"/><path d="M199.0 122.7L208.2 138.6L189.8 138.6Z" fill="#F7F6CE"/><circle cx="520.7" cy="135.1" r="7.7" fill="#F8E59C"/><circle cx="556.1" cy="137.5" r="7.7" fill="#F7F6CE"/><circle cx="564.2" cy="139.1" r="7.7" fill="#F7F6CE"/><circle cx="506.3" cy="156.0" r="7.7" fill="#F8E59C"/><circle cx="522.3" cy="150.4" r="7.7" fill="#F7F6CE"/><circle cx="558.5" cy="151.2" r="7.7" fill="#D62323"/><path d="M531.2 129.7L540.4 145.6L522.0 145.6Z" fill="#F7F6CE"/><circle cx="533.2" cy="163.2" r="7.7" fill="#F7F6CE"/><circle cx="612.4" cy="139.9" r="7.7" fill="#F7F6CE"/><path d="M487.8 171.0L497.0 186.9L478.6 186.9Z" fill="#F8E59C"/><path d="M478.9 166.7L488.1 182.6L469.7 182.6Z" fill="#7E1528"/><path d="M550.5 173.4L559.7 189.3L541.3 189.3Z" fill="#F7F6CE"/><path d="M549.7 162.7L558.9 178.6L540.5 178.6Z" fill="#F8E59C"/><path d="M505.5 175.0L514.7 190.9L496.3 190.9Z" fill="#F7F6CE"/><path d="M519.9 170.7L529.1 186.6L510.7 186.6Z" fill="#F7F6CE"/><path d="M511.9 188.7L521.1 204.6L502.7 204.6Z" fill="#F8E59C"/><path d="M530.4 185.7L539.6 201.6L521.2 201.6Z" fill="#F7F6CE"/><circle cx="551.7" cy="194.6" r="7.7" fill="#F8E59C"/><circle cx="479.7" cy="209.9" r="7.7" fill="#F7F6CE"/><path d="M493.0 202.7L502.2 218.6L483.8 218.6Z" fill="#F7F6CE"/><path d="M528.0 201.7L537.2 217.6L518.8 217.6Z" fill="#D62323"/><circle cx="540.8" cy="209.1" r="7.7" fill="#F8E59C"/><circle cx="550.5" cy="215.5" r="7.7" fill="#F7F6CE"/><circle cx="562.5" cy="218.8" r="7.7" fill="#F7F6CE"/><path d="M575.4 206.7L584.6 222.6L566.2 222.6Z" fill="#F7F6CE"/><circle cx="606.8" cy="214.0" r="7.7" fill="#F7F6CE"/><circle cx="598.7" cy="214.7" r="7.7" fill="#F7F6CE"/><circle cx="480.5" cy="242.9" r="7.7" fill="#F5D174"/><circle cx="480.5" cy="230.0" r="7.7" fill="#F5D174"/><circle cx="501.4" cy="237.3" r="7.7" fill="#F8E59C"/><path d="M514.3 221.7L523.5 237.6L505.1 237.6Z" fill="#F8E59C"/><circle cx="531.2" cy="228.4" r="7.7" fill="#F7F6CE"/><circle cx="549.7" cy="230.0" r="7.7" fill="#F7F6CE"/><circle cx="585.0" cy="225.0" r="7.7" fill="#F7F6CE"/><circle cx="585.0" cy="251.0" r="7.7" fill="#F7F6CE"/><path d="M585.0 230.7L594.2 246.6L575.8 246.6Z" fill="#7E1528"/><circle cx="632.6" cy="142.2" r="7.7" fill="#F8E59C"/><circle cx="626.3" cy="142.8" r="7.7" fill="#F7F6CE"/><circle cx="612.7" cy="140.0" r="7.7" fill="#F7F6CE"/><circle cx="655.3" cy="137.1" r="7.7" fill="#F7F6CE"/><circle cx="672.3" cy="133.2" r="7.7" fill="#F7F6CE"/><circle cx="689.9" cy="133.2" r="7.7" fill="#F7F6CE"/><circle cx="703.5" cy="133.2" r="7.7" fill="#F8E59C"/><circle cx="743.0" cy="146.0" r="7.7" fill="#F7F6CE"/><circle cx="742.1" cy="143.4" r="7.7" fill="#F7F6CE"/><circle cx="776.2" cy="132.6" r="7.7" fill="#F7F6CE"/><circle cx="760.3" cy="157.0" r="7.7" fill="#E95235"/><circle cx="772.8" cy="157.0" r="7.7" fill="#F7F6CE"/><circle cx="795.5" cy="147.9" r="7.7" fill="#F8E59C"/><circle cx="807.4" cy="137.7" r="7.7" fill="#F7F6CE"/><circle cx="720.6" cy="178.6" r="7.7" fill="#F8E59C"/><circle cx="688.8" cy="187.7" r="7.7" fill="#F7F6CE"/><circle cx="712.6" cy="183.1" r="7.7" fill="#F7F6CE"/><circle cx="697.9" cy="188.8" r="7.7" fill="#7E1528"/><circle cx="721.7" cy="188.8" r="7.7" fill="#F5D174"/><circle cx="730.8" cy="195.6" r="7.7" fill="#F2AC4C"/><circle cx="744.4" cy="191.1" r="7.7" fill="#F8E59C"/><circle cx="756.9" cy="193.3" r="7.7" fill="#F7F6CE"/><circle cx="711.5" cy="201.3" r="7.7" fill="#F8E59C"/><circle cx="734.2" cy="204.7" r="7.7" fill="#F7F6CE"/><circle cx="704.7" cy="210.4" r="7.7" fill="#7E1528"/><circle cx="721.7" cy="210.4" r="7.7" fill="#F7F6CE"/><circle cx="680.0" cy="206.4" r="7.7" fill="#F7F6CE"/><circle cx="686.8" cy="213.2" r="7.7" fill="#F7F6CE"/><circle cx="669.2" cy="217.7" r="7.7" fill="#F8E59C"/><circle cx="683.0" cy="232.5" r="7.7" fill="#F7F6CE"/><circle cx="675.4" cy="234.2" r="7.7" fill="#7E1528"/><circle cx="732.0" cy="225.7" r="7.7" fill="#F7F6CE"/><circle cx="743.5" cy="224.5" r="7.7" fill="#F2AC4C"/><circle cx="691.3" cy="248.4" r="7.7" fill="#F7F6CE"/><circle cx="728.8" cy="246.0" r="7.7" fill="#F8E59C"/><circle cx="742.4" cy="245.0" r="7.7" fill="#7E1528"/><path d="M705.5 240.7L714.7 256.6L696.3 256.6Z" fill="#7E1528"/><path d="M718.0 244.7L727.2 260.6L708.8 260.6Z" fill="#F2AC4C"/><circle cx="758.3" cy="240.4" r="7.7" fill="#F7F6CE"/><circle cx="769.6" cy="235.9" r="7.7" fill="#F8E59C"/><circle cx="778.7" cy="239.3" r="7.7" fill="#F2AC4C"/><circle cx="750.3" cy="262.0" r="7.7" fill="#F7F6CE"/><circle cx="750.9" cy="252.9" r="7.7" fill="#F7F6CE"/><circle cx="823.9" cy="186.5" r="7.7" fill="#F2AC4C"/><circle cx="814.5" cy="224.5" r="7.7" fill="#F7F6CE"/><circle cx="814.8" cy="224.0" r="7.7" fill="#F7F6CE"/><circle cx="828.7" cy="235.9" r="7.7" fill="#F7F6CE"/><circle cx="829.3" cy="249.5" r="7.7" fill="#F8E59C"/><circle cx="802.6" cy="252.9" r="7.7" fill="#F7F6CE"/><circle cx="810.5" cy="267.7" r="7.7" fill="#E95235"/><circle cx="812.2" cy="288.1" r="7.7" fill="#F7F6CE"/><circle cx="835.5" cy="207.5" r="7.7" fill="#F7F6CE"/><circle cx="846.8" cy="215.4" r="7.7" fill="#F7F6CE"/><path d="M844.6 197.7L853.8 213.6L835.4 213.6Z" fill="#F7F6CE"/><path d="M848.0 158.7L857.2 174.6L838.8 174.6Z" fill="#F7F6CE"/><path d="M856.0 159.7L865.2 175.6L846.8 175.6Z" fill="#F7F6CE"/><path d="M858.0 167.7L867.2 183.6L848.8 183.6Z" fill="#EF8B3E"/><circle cx="768.5" cy="281.3" r="7.7" fill="#F7F6CE"/><circle cx="751.5" cy="289.0" r="7.7" fill="#F7F6CE"/><path d="M755.5 270.7L764.7 286.6L746.3 286.6Z" fill="#7E1528"/><circle cx="757.7" cy="296.0" r="7.7" fill="#F5D174"/><circle cx="781.6" cy="305.1" r="7.7" fill="#F7F6CE"/><path d="M698.6 298.0L707.8 313.9L689.4 313.9Z" fill="#F8E59C"/><path d="M351.0 331.6L360.2 347.5L341.8 347.5Z" fill="#F7F6CE"/><path d="M324.9 404.9L334.1 420.8L315.7 420.8Z" fill="#F7F6CE"/><path d="M324.9 397.6L334.1 413.5L315.7 413.5Z" fill="#F2AC4C"/><path d="M318.0 428.5L327.2 444.4L308.8 444.4Z" fill="#F7F6CE"/><path d="M330.0 435.4L339.2 451.3L320.8 451.3Z" fill="#7E1528"/><path d="M316.0 457.7L325.2 473.6L306.8 473.6Z" fill="#F7F6CE"/><path d="M316.0 452.7L325.2 468.6L306.8 468.6Z" fill="#F7F6CE"/><path d="M315.3 445.7L324.5 461.6L306.1 461.6Z" fill="#D62323"/><path d="M322.7 471.5L331.9 487.4L313.5 487.4Z" fill="#F8E59C"/><path d="M324.2 484.3L333.4 500.2L315.0 500.2Z" fill="#F7F6CE"/><path d="M341.9 492.5L351.1 508.4L332.7 508.4Z" fill="#F7F6CE"/><path d="M592.1 331.7L601.3 347.6L582.9 347.6Z" fill="#F7F6CE"/><path d="M565.5 384.9L574.7 400.8L556.3 400.8Z" fill="#F7F6CE"/><path d="M791.2 351.9L800.4 367.8L782.0 367.8Z" fill="#F2AC4C"/><path d="M802.5 350.5L811.7 366.4L793.3 366.4Z" fill="#F8E59C"/><path d="M821.7 343.7L830.9 359.6L812.5 359.6Z" fill="#F8E59C"/><circle cx="861.1" cy="465.7" r="7.7" fill="#F8E59C"/><circle cx="849.8" cy="475.6" r="7.7" fill="#EF8B3E"/><path d="M849.8 454.7L859.0 470.6L840.6 470.6Z" fill="#F7F6CE"/><circle cx="932.0" cy="446.0" r="7.7" fill="#F7F6CE"/><circle cx="938.0" cy="463.0" r="7.7" fill="#F8E59C"/><circle cx="934.0" cy="455.0" r="7.7" fill="#F8E59C"/><circle cx="918.0" cy="466.0" r="7.7" fill="#F7F6CE"/><circle cx="890.2" cy="488.2" r="7.7" fill="#F8E59C"/><circle cx="901.5" cy="486.2" r="7.7" fill="#F8E59C"/><path d="M911.7 461.0L920.9 476.9L902.5 476.9Z" fill="#F8E59C"/><path d="M894.8 467.7L904.0 483.6L885.6 483.6Z" fill="#F7F6CE"/></g><rect x="80.00" y="557.20" width="91.30" height="28.60" fill="#F7F6CE"/><rect x="171.00" y="557.20" width="91.30" height="28.60" fill="#F8E59C"/><rect x="262.00" y="557.20" width="91.30" height="28.60" fill="#F5D174"/><rect x="353.00" y="557.20" width="91.30" height="28.60" fill="#F2AC4C"/><rect x="444.00" y="557.20" width="91.30" height="28.60" fill="#EF8B3E"/><rect x="535.00" y="557.20" width="91.30" height="28.60" fill="#E95235"/><rect x="626.00" y="557.20" width="91.30" height="28.60" fill="#D62323"/><rect x="717.00" y="557.20" width="91.30" height="28.60" fill="#B21C2B"/><rect x="808.00" y="557.20" width="91.30" height="28.60" fill="#7E1528"/><rect x="80.00" y="557.20" width="819.00" height="28.60" fill="none" stroke="#3a3a3a" stroke-width="1.7"/><line x1="171.0" y1="585.8" x2="171.0" y2="577.8" stroke="#3a3a3a" stroke-width="1.3"/><line x1="353.0" y1="585.8" x2="353.0" y2="577.8" stroke="#3a3a3a" stroke-width="1.3"/><line x1="535.0" y1="585.8" x2="535.0" y2="577.8" stroke="#3a3a3a" stroke-width="1.3"/><line x1="717.0" y1="585.8" x2="717.0" y2="577.8" stroke="#3a3a3a" stroke-width="1.3"/><line x1="853.5" y1="585.8" x2="853.5" y2="577.8" stroke="#3a3a3a" stroke-width="1.3"/><g font-size="38.5" fill="#404040" text-anchor="middle"><text x="80.0" y="644">0</text><text x="171.0" y="644">1.5</text><text x="353.0" y="644">4.5</text><text x="535.0" y="644">7.5</text><text x="717.0" y="644">10.5</text><text x="853.5" y="644">&gt;12</text></g><text transform="translate(901.5 591) scale(1 1.03)" font-size="42.5" fill="#000">Rs</text></g><g transform="translate(0.0 709.5)"><text transform="translate(499.3 41.6) scale(1 1.065)" font-size="43.4" text-anchor="middle" fill="#000">Mean resistance in WS drought</text><text transform="translate(0.6 36.6) scale(0.97 1.06)" font-size="46" font-weight="bold" fill="#000">c</text><path d="M197.6 131.4l2.7-0.2 -1 0.9 1.8 0 1.7 0.4 1-0.2 1.1 0.3 2.3 0.2 0.1-0.1 0.9 1 3.5-0.8 -0.9 1 3.1-0.6 -0.1 0.4 2.9 0.1 -0.8 1 2.4-0.7 1.5 0.3 3.2-0.2 -0.7 1.2 1.7-0.2 0.5 0.4 0.3 1.6 2.3-0.2 0.7 0.2 3.7-0.7 0-0.2 3.7-0.4 2.3 0.1 1.6-1.2 1 0.2 2.7-0.8 1.6 0.4 2.9-0.2 1.6-0.3 -0.2 0.9 3.4-0.4 0.5 1.3 0.6 0 3.1 0.1 1.8 0.1 2 0 0.3 0.3 1.4 0 1.5 0.3 1.2 0.4 0.3 0.3 3.3-0.6 0.2 1.1 2.1-0.5 2.5-0.2 1.6 0.5 1.3 0.2 -0.4 1.2 1.5 0.6 1.1 0 3.1-0.8 1.7 0.2 1.9-0.3 0.6-0.4 1.7 0 3.3-0.3 -0.2 1.5 1.5-0.4 2-0.3 0.3 0.5 0.5 1 2.8-0.2 2.9-0.1 2.1-0.1 2-1 2.1-2.4 2.3-1.8 4.9-2 1.6-1.9 -0.4 3.7 0.7 1.6 1.6-0.1 0.4 1.1 1.7 0.6 1.8-0.5 1.4 1.1 1.1-0.5 4.7-2 2.9 0.3 0-0.2 3.3-0.6 0.2 2.1 -2.3 3.5 -3.9 1 -2.6 1.1 -1.3 0.5 -4.4 2.4 -3.3 2.9 -3.4 1.4 -2.3 0.9 -2.4 0.4 -3 0.9 -2.9 2 -2.1 1.2 -5.1 2.7 -1.8 2.5 -3.1 3.1 0.5 4.2 2.4 0.8 2-0.3 1.3 0.9 0.9 0.8 2.9 1.3 1.1 0.8 1.3 0.8 2 1.1 1.6 0.7 2 0 2 0.2 -1.2 2.9 -1.1 2.9 1.2 4.3 3.5 0 1.3-2.4 1.3-2.4 1.4-2.4 3.5-2.9 3.4-2.8 1.6-2.7 2.5-3 0.3-2.6 -0.5-3 2.2-2.7 2.5-3.6 2.1 0.2 0.6 0.1 2.5-0.6 2 0.6 1.1 1.3 1.9 0.4 1.5 1.5 0.5 2.7 -0.1 2.9 2.1 0.8 1.5 0.6 2.4-1.6 1.6-0.9 3.4-1.7 1.5-0.8 0.1 2.8 1.2 2.5 0.5 2.5 0.5 4.3 1.9 1.3 0.4 1.6 1.6 1.3 1.1 1.9 1.2 2 1.2 1.9 -4.4 2.9 -2.3 1.3 -2.4 1.2 -2.3 1.3 -1.9 0 -1.9 0 -1.8 0 -1.9 0 -1.8 0 -2 0.2 -2 0.2 -2 0.2 -2.6 1.6 -2.6 1.7 -2.5 1.7 -3.2 2.2 -3.1 2.2 3-2 3.1-1.9 3.1-2 2 0 2.1 0 2 0 2.1 0 -2.1 2.7 -0.3 2.5 -0.2 2.5 2.2 0.6 2.2 0.6 2.2 0.6 4-1.2 -4.3 2.4 -2.7 1 -2.7 1 -2.4 1 -2.3 1 -2.3 1 1.2-3.8 -3.9 0.8 -2.2 0.8 -2.3 0.8 -2.3 0.8 -2.8 3.3 0.9 2.7 -4.1 1.2 -2.2 0.7 -2.3 0.7 -2.3 0.7 -1 3.3 -3 1.8 -3 1.8 -0.4 4 -0.5 2.7 -0.4 2.7 -4.3 1.8 -2.9 1.7 -3 1.7 -4.8 3.9 -1.8 2.6 -1.7 2.5 0.2 2.6 0.3 2.5 0.2 2.5 0.5 4.6 -1.7 3.9 -2-0.3 -1.4-4.2 -1.1-4 -0.1-3 -1.9-3 -2.5-0.6 -2.4-0.7 -2.5-0.1 -2.6-0.2 -4.2 1.6 -0.1 2.7 -3.1 0 -2-0.6 -2-0.6 -2-0.6 -4 0.6 -2.6 1.7 -2.5 1.7 -2.6 1.7 -1 2.7 -0.9 2.8 -1.1 3 -1.1 3 -0.5 3.1 -0.5 3 0.7 4.5 2.5 4.3 3.6 2.7 2.2-0.4 2.3-0.4 2.2-0.4 2.8-1.2 2.2-4.6 1.4-2.4 2.7-0.2 2.6-0.2 2.7-0.2 -1.9 4.5 -1.9 4.6 -1.4 4.5 -1.7 3.7 2.4-0.2 2.4-0.1 2.6 0 2.6 0 2.2 1.3 2.1 1.4 -0.5 3 -0.4 3 -0.4 3.1 -0.8 3 2.9 4.5 3.9 2.2 4.1-2.2 2.6 1.4 2.6 1.4 1.9 0 1.8-2.9 1.9-2.9 2.8-1.2 2.7-1.2 2.4-1.7 2.4-1.6 1.9 2.7 2.8-2.1 2.5 2.4 2.5 2.4 2.7 0.5 2.6 0.5 2.7 0.5 2.2-0.5 2.3-0.5 2.2-0.5 3.9 1.8 2.5 4.6 2.6 2.2 2.6 2.3 2.6 1 2.7 1 2.6 1 2.2 1 2.2 1.1 2.2 1 4 3 1.2 3.3 1.3 3.3 0 2.8 0 2.7 4 3.6 2.4 0.3 2.3 0.2 2.4 0.2 2.3 0.2 2.2 0.8 2.1 0.8 2.2 0.8 2.1 0.8 2.2 0.8 2.2 1 2.3 1 2.2 1 2.2 1.3 2.2 1.3 2.3 1.3 2.2 1.3 0.2 2.5 0.2 2.5 0.3 2.5 -1.7 3.1 -1.7 3 -1.7 3 -1.9 3 -1.9 3.1 -0.2 2.4 -0.1 2.4 -0.2 2.4 -0.1 2.5 -0.2 2.4 -0.7 3 -0.7 3 -0.7 3.1 -1.1 3 -1.2 3 -2.5 1.5 -2.5 1.5 -2.5 1.3 -2.5 1.2 -2.1 1.2 -2.1 1.2 -2.1 1.2 -0.6 2.5 -0.6 2.5 -0.6 2.6 -2 4.5 -1.6 3 -1.5 3.1 -1.3 2.5 -1.3 2.5 -1.3 2.5 -1.8 4 -2.5 0.1 -2.5 0.2 -3.5 1.8 2.2 4.5 -1.5 4.6 -1.9 0.3 -1.9 0.3 -1.9 0.3 -2 0.3 -1.9 0.3 0.3 2.7 0.4 2.7 -2.2 0.2 -2.1 0.2 -2.2 0.2 1.3 4.5 2.9 1.5 -0.9 3 -0.9 2.9 -1.8 2 -1.7 1.9 5 4.4 -1.5 3.3 -1.5 3.2 0.1 4.4 2.4 2.6 -2.9 1.7 5.1 3.8 2.6 1 2.7 1 -2.7 1.4 -2.4-0.4 -2.5-0.4 -3-1.7 -3-1.8 -3.3-2.1 -3.2-2.2 -2.2-2.4 -2.3-2.4 -2.2-2.5 -0.4-2.9 -0.4-3 -0.3-2.9 -0.5-3 -0.5-3 -0.4-2.9 -0.5-3 -2-4.5 -0.5-2.6 -0.5-2.7 -0.5-2.6 -0.4-2.7 0-2.5 0.1-2.5 0-2.5 0.1-2.5 0.2-2.5 0.1-2.6 -0.7-3 -0.6-3 -0.6-3.1 0.3-3 0.3-3 0.4-3 -0.2-2.5 -0.2-2.4 -0.2-2.4 -0.1-2.4 -0.2-2.5 -0.3-2.7 -0.4-2.7 -0.3-2.7 -0.3-2.8 -0.4-2.7 -3.5-3.9 -2.5-1.3 -2.4-1.3 -2.5-1.3 -2.4-1.3 -2-3 -2-3 -1.8-3 -1.8-3.1 -1.2-2.6 -1.1-2.7 -1.2-2.6 -1.1-2.7 -3.1-3 -3-3 0.2-2.6 0.1-2.6 1.8-2.7 -0.3-3.6 -0.3-3.7 0.6-2.7 0.7-2.7 2.7-2.4 1.4-3.7 3.3-3.6 0.1-2.5 0.1-2.6 0.1-2.5 -1.8-3 -0.7-2.4 -2.3 1.2 -2.3 1.2 -2.6-1.5 -2.7-0.5 -2.6-0.4 -2.2-1.7 -2.1-1.8 -2.1-1.7 -0.6-3 -2-2.9 -2.1-2.9 -2.5-0.9 -2.6-0.9 -2.6-0.7 -2.6-0.8 -3.5-4.5 -3.7-2.2 -2.7 0.8 -2.8 0.8 -2.5-0.9 -2.5-1 -2.1-1.2 -2-1.2 -2.1-1.2 -2-0.8 -2.1-0.8 -2.1-0.8 -2.1-3.3 -2.1-3.4 1.2-3 -1.3-2.6 -1.2-2.6 -1.5-2.7 -1.4-2.7 -2.9-4.5 -2.7-4.6 -2.6-4.5 -1.9-3.4 -1.7-3.3 0.1 2.6 0 2.6 0.6 2.5 0.6 2.5 0.6 2.5 0.5 3.1 0.6 3 0.7 3 3 4.6 -2-3.1 -3.4-2.4 -1.2-2.7 -1.1-2.7 -1-2.8 -2.2-1.5 2.5-1.5 -2-4.5 -0.4-2.8 -0.4-2.7 -0.8-2.7 -1.8-4 -2.4-0.7 -2.4-0.8 -0.3-3.1 -0.3-3.2 0.2-3.6 -0.4-2.6 -0.4-2.6 -0.1-2.7 1.6-2.4 1.5-2.4 2-3 2-3 1.9-3.2 2-3.3 1.2-3.3 1.2-3.2 1.8 0.3 1.8 0.3 1.4-3.9 -2.5-1.4 -1.3-1 -1.2-1 -1.2-0.9 2.2-4.4 0-2.9 0.1-2.9 0.2-2.8 -0.1-2.1 -0.5-2.2 -0.7-0.9 -0.7-1.7 -0.1-1.6 -2.4-0.5 -1.1-0.4 -0.9-0.9 -0.1-1.3 -1.7-0.5 -1.9 0 -1.3-0.6 -1-0.2 -2.7 0.2 -1-1.2 -1.2 0.2 -0.7-1.2 -2.2 0.3 -3.9 1.4 -3.2 0.7 -3.2 1.2 -3 0.7 -1.8 0.1 5.3-4.1 -4.4 2.8 -4.1 1.9 -6.7 4.2 -2.6 0.9 -4.9 1.4 -2.1 0.5 -3 1.1 -4.4 1.8 -2.6 0 -3.2 0.6 -2.4 0.8 -2.4 0.5 -2.4 0.5 -2.3 0.4 2.8-0.9 2.3-0.5 3.5-1.4 3.3-1.4 5.1-1.8 2.8-1.1 8-4.2 -2.1-0.3 -0.8-0.1 -1.6-0.5 -0.2-1.1 -0.9-1.6 -2.4-0.2 0.8-1.2 -1.4-0.6 1.2-2.7 7.3-4.1 4.4-1.5 1.9-0.1 4.1-1.8 2-0.7 -1.2-0.3 -2.9 0.3 -0.7-0.2 -3.7 0.2 -1.8 0 -0.6-1.6 0.5-1.3 0.2 0.1 4.5-1.5 2.3 0.2 1.4 0 2.9-1.2 2.6-1.1 2.4 0.4 -0.6-1.4 0.9-1.8 -0.8-0.7 -0.2-1.3 2.6-0.5 1.9-0.7 5.1-1.4 2 0 3.2-1.1 3.6-0.9 1.7 0 5-1.1 1.9-0.6M479.8 232.2l2.4 0.5 2.4 0.6 2.5 0.5 2.5 0.5 2.5-1 2.5-1.1 2.5-1 2.5-1 2.5-1 2.3-0.1 2.2-0.2 2.3-0.1 2.2-0.1 2.3-0.1 2-0.3 2.1-0.3 2.1-0.3 2.5 1.2 -1.1 3.3 1.4 2.4 -2.5 2.4 2.7 3.1 2.5 0.6 2.6 0.6 3 0.7 2.9 0.8 2.3 2 2.3 1.9 2.6 1.1 2.6 1 2.4-2.7 -0.1-2.4 2.4-2.4 2.5 0.3 2.6 0.3 2.7 1.5 2.6 1.5 2.6 0.6 2.6 0.6 2.6 0.6 2.6-0.6 2.5-0.6 2.9 0.3 3 0.3 1.1 4 1.5 3.6 1.4 3.6 1.2 2.7 1.2 2.6 1.1 2.7 1.2 2.6 2.5 3.1 2.6 3 0.6 3 0.6 3 0.6 3.1 3.3 3 1 2.5 1 2.5 1 2.6 4.2 4.5 3.1 2.3 3 2.2 0.4 3.1 3.3 3.3 2.2-0.7 2.2-0.7 2.2-0.7 2.2-0.4 2.2-0.5 2.2-0.4 2.2-0.4 2.2-0.4 -0.3 3.9 -0.7 2.4 -0.7 2.5 -0.8 2.4 -0.7 2.4 -0.7 2.4 -2 3 -1.9 3.1 -1.8 2.5 -1.7 2.5 -1.8 2.5 -2.2 2.6 -2.2 2.5 -2.2 2.5 -2.7 2.3 -2.7 2.3 -4.1 4.5 -1.9 4.5 -0.1 3.1 0 3 0.2 3 0.2 3.1 2.5 4.5 -0.1 2.6 -0.1 2.7 -0.1 2.6 -0.1 2.7 -0.8 3 -0.8 3 -2.7 1.9 -2.8 1.8 -2.7 1.8 -2.8 3.3 -2.8 3.4 0.5 3 0.4 3 -0.1 3 -0.2 3.1 -2.4 1.9 -2.4 1.9 -2.4 1.9 -0.5 2.7 -0.5 2.6 -0.6 2.6 -4.2 4.5 -2.9 4 -2.3 2 -2.3 2 -2.3 2 -2.4 1.1 -2.4 1.1 -2.7 0 -2.7 0 -2.7 0 -2.1 0.8 -2.2 0.8 -2.2 0.8 -1.9-0.9 -2-0.9 -0.1-2.6 -0.1-2.6 -0.8-4.5 -1.5-3.7 -1.5-3.6 -1.6-3.2 -1.5-3.2 -0.4-2.6 -0.4-2.7 -0.4-2.6 -0.4-2.7 -0.9-2.5 -0.9-2.5 -0.9-2.5 -1.3-3.1 -1.4-3 -1.3-3 0.2-2.5 0.2-2.6 0.2-2.5 1.4-2.5 1.3-2.5 1.4-2.5 -0.2-3.1 -0.3-3 -0.2-3 -0.6-2.7 -0.6-2.6 -0.5-2.7 -0.6-2.6 -2.1-4.6 -1.8-2.5 -1.8-2.5 -1.8-2.5 -0.1-2.6 -0.2-2.5 -0.2-2.5 0.3-3 0.2-3.1 0.3-4.5 -3-1.5 -4 0.3 -4 0.6 -1.3-3.2 -1.4-3.2 -2.6 0 -2.7 0 -4 1.2 -2.3 0.9 -2.2 1 -2.2 0.9 -2.2-0.2 -2.3-0.2 -2.2-0.2 -2.3 0.6 -2.4 0.6 -2.3 0.6 -2.4 0.6 -2.6-1.7 -2.7-1.7 -2.7-2.1 -2.6-2.1 -4-3.3 -0.8-4.6 -2.2-2.2 -2.2-2.3 -2.3-2.3 -2.2-2.3 -0.6-3.3 -0.6-3.3 1.9-4.6 0.4-2.8 0.3-2.8 0.3-2.8 -1-3.1 -0.9-3 1.4-4.5 2-2.8 2.1-2.7 0.7-2.6 0.7-2.5 2-2.6 2.1-2.6 3.9-1.8 2.2-1.8 2.3-1.8 0.3-3.1 0.3-3 1.5-2.7 1.5-2.7 2.2-1.1 2.2-1.1 1.2-2.7 1.2-2.7M625.8 376.9l0.6 2.7 0.6 2.6 0.5 2.7 0.6 2.6 -1.4 3.1 -1.4 3 -1.1 2.6 -1.2 2.7 -1.2 2.6 -1.2 2.7 -0.8 2.9 -0.8 3 -0.8 2.9 -0.9 3 -2.5 0.9 -2.6 0.9 -1.8-3 -1.8-3 -0.2-3.1 -0.2-3 1.6-3 1.7-3.1 -0.2-2.5 -0.2-2.5 -0.2-2.5 3.2-1.8 3.1-1.9 2.4-2.7 2.4-2.7 1.9-3 1.9-3.1M480.5 231.6l-1.7-2.4 -2.7-1.2 -3.8 0.6 0.2-2.6 0.2-2.6 -1.7-0.3 0.9-2.5 0.8-2.6 0.4-4.5 -1.1-3 3.3-2.1 2.4 0.2 2.4 0.2 2.4 0.2 1.9 0.1 2 0.1 1.9 0.1 1.9 0 1.3-3.3 0.2-4.4 -2.3-3.6 -2.7-1 -2.7-1 -0.2-2.1 3.8-0.6 3.2 0.6 0.3-3.2 3.5 0.8 3.5-2.3 2.3-2.6 2.2-1.2 2.3-2.9 1-2.3 2.3-0.3 2.2-0.3 3.4-0.9 0.2-4.3 -1.3-4.2 1.4-1.2 2.4-1.1 1.3 3.1 0.5 4.3 1.1 2.9 3.3-1.2 2.1 0.7 2.1 0.8 2.4-0.9 2.3-0.9 2.2-0.4 2.2-0.4 2.4 1.1 3-3.1 -0.6-3.7 1.9-2 2.4 0.3 2.8 0.5 -2.3-3.6 0.7-2.2 2 0.3 0.5-0.9 2.2 0.5 2.9-0.4 0.9-0.1 2.5-0.7 1.5-0.7 -2.5-1.4 -1.8 0.5 -2.2-0.7 -2.3 0.5 -1.8 0 -1.5 1 -1.7-0.3 -2.3 0.4 -2.8-4.1 -0.7-4.1 1.6-1.2 3-2 0.7-1.7 1.9-1 -3.4-1.6 -1.5-0.2 -2.4 1 -1.1 2.6 -1.8 1 -2.3 1.7 -2.8 2.7 0.1 4.1 3.6 2.8 -1.3 2.8 -1.5 2.5 -1.1 3.1 -1.3 2.3 -1.8 0.7 -1.6 1.6 -3.1-0.6 -0.9-2.6 -1.8-3.4 -1.6-3.6 -1.6-0.8 -2.1 0.8 -3.1 2.5 -1.5 0.1 -2.9-0.6 -1.6-3.4 -0.8-4.2 0.9-3.5 3-1.9 1.1-0.6 3-1.2 0.9-0.9 2.9-2.2 2.8-3.1 2.5-4 2.2-1 1.4-1.6 1.5-0.9 1.1-1.4 1.8-1 1.6-0.9 1.8-0.4 1.2 0.3 2.5-1.4 1.6 0.6 1.2-1.2 2.7-0.7 1.1 0.7 2.6-0.1 1.2 0.5 1-0.4 2.5 0.5 0.6 1.3 2.1 0 2.9 0.2 1.6 1.8 0.9-0.1 3.2 1.5 2.1-0.1 1.5 0.2 4 1.8 1 0 2.9 1.9 1.9 0.4 -0.3 2.1 -1.2 0.8 -2.5 0.3 -1-0.9 -2.8-0.2 -1.9 1.4 -1.5-0.8 -1.7 0.1 -2.6-1.4 1.3 2.5 3 2.2 2.7 1.2 1.7 0.1 3.1 0 0.6-0.5 3.5 0.5 0.7-3.9 1.2-0.9 3.9 0.7 0.8-0.4 -1.1-2.8 -0.9-2.6 2.3-0.1 1.7 0.3 2.5 1.3 1.9-0.4 3-0.1 0.7-0.3 1.1-0.8 1.3 0.1 3.3-0.8 0.2-0.5 3.4 1 2.3 0.3 0.9-1.3 2.1-0.3 0.5-0.3 3.2 0.1 0.9-2.1 2.6 1.1 1.5-0.3 2.2 0.6 1.3 0.1 2.3 0.1 0.8 1.5 2.8-0.9 2 1.1 -1.6-2 0-1.9 -1.4-2.4 -0.3-2.2 -0.2-2.7 1.9 0.4 2.7 0.8 3.5 3.7 0.8 2.7 1.6 2.4 4.5 2.5 0.1-1.8 -2.4-3.3 -4.5-3.7 0.9-1.6 1.1-0.9 2.2 1 2.5 0.2 2.6 0 -0.2-0.7 2.2-0.5 1.9-0.7 -0.2-1.7 1.1 0 2.4-0.4 1.6 0.1 -0.6-0.9 1.8 0 -0.4-2.4 2.1-0.3 1.8-0.5 0.8-1.3 0.4 0.4 1.5-0.7 1.8-0.3 1.8 0.2 -0.2-0.1 3-0.1 0-0.4 1.5-0.1 1.4-0.3 2.6 0.1 -2.4-1.5 2.9-0.5 0-0.3 3.4 0.6 -0.5-1.2 1 0 3.1 0.8 2.5 0.8 1.8 0.6 2.4 0.8 2.4 0.1 3 0.7 1.1-0.5 1.7 0.2 1.8 0.9 4.4 2 2.7 2.3 0.2-0.2 2.9 0.8 2.5-0.1 0.5-0.4 3.3 1.1 1.2 0 0.3-0.6 2.3 0.1 2.3 0.9 0.9-0.9 0.8 0 3.3 0 1.2 0.5 3.6 1 -0.2-0.9 1.6 1.2 2 0 2.5 0.4 4.5 2.2 4.8 2.2 3 0.5 -0.7-0.4 1.6-0.1 1.9-1.4 -0.2 0.4 2.3-0.2 1-0.2 0.4-0.9 2.2 0 0.1-0.3 0.4-0.8 2-0.3 2.5 0.2 0.6 0.4 1.5-0.6 3.2 0.4 1.2-0.2 1.3 0.4 1.6-0.1 1.7 0.1 1.9 0.4 3.1 1 1.3-0.2 2.4 0.7 0.9 0.3 1.8-0.5 4.3 1 0.8-0.4 1 0.7 2.4 0.1 0.3-0.3 3.1 0.1 2.7 0.6 2 0.3 0.2 0.2 3.1 0.4 1.6 0.8 4.3 0.4 0.2 0.2 3.9 0.2 -1.6-0.7 2.3 0.3 3.9 0.8 1-0.7 2.6 0.3 2.2 0.6 0.1-0.8 0.6-0.2 3.3 0.7 -0.2-1.2 1.5 1 1.9-0.7 2.5 1.1 0.7-0.6 2.7 0.2 3.2 0.6 1.2 0.5 2.2 0.4 1.4 0.4 3.4 0.4M860.8 147.6l0.4 0.8 -2.6 0.5 3.6 3.1 1.8 2.3 -1.2 0.4 -1 0.9 -1.5 0.7 -0.6 0.8 0.9 1.5 -2.5 0.4 1.2 1.2 -1.2 1 -1.9-0.1 -1.5 0.6 -1.9-0.2 -1 0.4 -1.5-0.1 -2.1-0.2 -2.2 0.5 -1.2 0.5 1.6 2.4 2.7 3.2 6.9 4.3 0.2 2.1 -0.6 1.7 -0.3 1.9 0.6 2.9 0.5 2.8 -0.2 3 -3.5-3 -3.6-2.8 -3.2-2.9 -3.2-2.4 -3.3-3.3 -2.3-4.3 1.7-1.4 -1.1-2.2 -1.7-2.3 -0.9-2.5 -0.6-2.1 -0.7-2 1-1.4 -1.1 0.9 -1.3 0.6 -0.5 1.3 -1.3-0.1 -2.4-0.1 -0.7 0.3 -2.5-0.6 -1.6 0.5 -0.1 1.3 -1.4 0.7 0 0.8 0.7 1.8 -1.4 0.9 -1.9 0.4 -2.1-0.4 -0.6-0.1 -2.6 0.2 -0.8 0.5 -2.1 0 -0.7 0.4 -3.6-0.8 -1 0.5 -1.6-0.3 -1.8 0.2 -1.7 1.2 -0.3 1 0.4 2.5 0 2.3 1.8 2.7 -0.6 2.4 3.7 2.9 2.3 0.4 2.3 0.5 2.3 0.5 6.1 4.3 1.6 3 1.6 2.9 1.5 2.9 0.2 3 0.1 2.9 0.1 3 -0.8 2.5 -0.7 2.4 -0.8 2.5 -2.2 0.5 -2.1 0.5 -2.1 0.5 -2 0.8 -1.9 0.7 1.3 4.5 -1.2 4.5 2.7 3 2.1 2.6 2 2.5 2 2.5 0 2.7 -1.8 0.7 -1.8 0.7 -1.8 0.7 -2.2-3.3 -0.5-4.5 -3-1.5 -2.9-1.5 -2.1-3.1 -2.2-3 -1.9 1 -2 1 -2 1 -1.9-2.7 -2-2.7 -1.3 2.4 -1.3 2.4 -2.2 2.1 3.3 3.1 2.9 0.9 2.5-0.2 2.4-0.2 2.4-0.2 -1.6 2.1 -1.6 2.1 -2.3 3.6 2.7 2.8 2.6 2.9 2.6 2.8 4.1 3.6 0.6 3.5 0.5 3.5 -1 3 -1.2 3.1 -1.4 4.5 -2.1 2.3 -2.2 2.2 -2.4 1.3 -2.4 1.2 -2.4 1.2 -2.4 0.8 -2.5 0.8 -2.5 0.8 -2.1 3 -1.3-3 -2.3 0 -2.2 0 -3.4 3 -0.6 4.6 2 4.5 3.1 3 3 3.1 1.1 3 1.1 3 1 3 -1.7 4.6 -2.5 1.1 -2.6 1 -1.8 2.4 -1.8 2.5 -0.9-4.6 -2.4-0.4 -2.5-0.5 -1.5-2.7 -1.6-2.7 -3.3-3.4 -2.2 1.2 -0.5 2.6 -0.5 2.5 -0.5 2.5 1.7 3.5 1.7 3.5 2.9 3.9 2.4 2.1 2.4 2.1 0.8 3.5 0.8 3.5 1.1 2.7 1.2 2.8 -2.2 0.3 -3-2.5 -3-2.4 -1.3-2.4 -1.3-2.4 -0.4-3.1 -0.4-3 -2.6-2.3 -2.7-2.2 0.4-3.1 0.3-3 -0.5-3 -0.5-3 -0.7-2.8 -0.7-2.7 -0.7-2.7 -0.8-2.7 -0.8-2.8 -3.5-0.9 -2.4 1.2 -2.3 1.3 -0.5-2.6 -0.5-2.5 -0.5-2.5 -4.1-4.6 -3.3-4.5 -1.7-3 -2.4 1.5 -3.8 0.6 -2.6 0.4 -2.6 0.5 -0.7 4.5 -1.9 2.1 -2 2 -1.9 2 -2 2.3 -2 2.2 -2.6 2 -2.5 2 0.3 3.3 0.2 3.3 -0.3 3.1 -0.3 3 -0.9 2.6 -0.9 2.5 -3.8 4 -2.8-3.1 -1.1-2.5 -1-2.5 -1-2.5 -1.1-2.5 -1.1-2.6 -1-2.5 -1.4-3 -1.3-3 -1.3-3.1 -0.7-2.5 -0.8-2.5 -0.7-2.5 -0.5-4.6 -1.1-3 -2.4 1.8 -2.4 1.8 -4.4-4.5 2.3-2.1 -4.1-1.6 -3.5-3 -2.4-2.7 -2.3 0.1 -2.3 0.1 -2.4 0.2 -2.3 0.1 -2.3 0.1 -2.4-0.3 -2.3-0.3 -2.3-0.3 -2.3-0.3 -4.4-4.3 -1.9-0.6 -3.9 2.2 -2.5-1.4 -2.5-1.3 -2.5-1.3 -2.2-2.6 -2.3-2.5 -4.2-2.5 -2.3 1.6 0.9 2.4 0.9 2.4 3.1 4.2 3 4 1 2.4 2 1.2 -0.2-4.5 0.8 2.7 0.8 2.7 2.6-0.3 2.5-0.3 2.4-1.9 2.4-2 0.5-2.4 1.3 3.4 1.3 3.5 2.6 2.3 2.6 2.3 2.7 0.6 -1.5 2.7 -1.5 2.7 -1.7 4.6 -2.1 1.8 -2.1 1.8 -2.4 2.4 -2.6 1.5 -2.5 1.6 -2.5 1.5 -2.6 1.5 -2.6 1.5 -2.5 1.5 -2.1 0.7 -2.1 0.8 -2.1 0.7 -2.1 0.7 -2.1 0.7 -4 0.3 -0.8-2.8 -0.8-2.8 -0.9-2.8 -0.8-4.6 -1.4-2.5 -1.5-2.5 -1.5-2.5 -2.8-3.1 -2.8-3 -1-2.5 -1-2.6 -1.1-2.5 -2.1-3 -2.2-3 -2.2-3.1 -2.2-3 -0.6-4.5 -0.7 2.5 -0.7 2.6 -2.3-3.2 -2.4-3.1 -1.1-4 2.4-0.1 2.4-0.2 0.8-2.6 0.7-2.5 0.8-3.1 0.8-3 -0.2-2.7 -0.2-2.7 -3.8 0 -2.3 1 -2.4 1.1 -2.6-0.3 -2.5-0.3 -2.6-0.8 -2.6-0.7 -3.2-2.1 -2.5-4.6 -1.1-3.9 0-1.8 -2.8 0.2 -2.8 0.1 -2.3 1.5 -1.1-0.6 2.5 3 -0.8 3.9 2.5 0.7 -2.9 1.5 -0.4 3.3 -2.2-1.5 -1.2-2.7 -0.3-2.6 -0.4-2.6 -2.2-1.5 -2.2-1.5 -0.4-4.5 -2.1-1.3 -2.2-1.3 -2.1-1.3 -2.6-1.8 -2.5-1.8 -3.1-3.2 -3.5 0.9 0.6 2.9 3.1 2.4 2.2 3.9 3.8 2.1 2.1 1.3 2.2 1.3 2.1 1.3 -3.4 3.6 -0.8 3.1 -2.3 0 0.5-4.6 -1.4-1.8 -3.8-2.7 -2.6-1.5 -2.5-1.5 -3.8-3 -3.8-3.9 -3.6 1.5 -3.5 2.1 -3.7-1.2 -3.6 1.5 0.5 3 -2.9 2.4 -3.2 1.8 -2.2 3.3 1 2.4 -2.2 3.4 -3.6 2.7 -3 0.1 -3 0.2 -2.8 1.8M143.7 137.4l-0.7 1.1 1.4 0.4 0.7 0.1 4-0.2 -0.8 1.4 0.9 0 0.5 0.9 -0.3 0.8 2.9-0.8 0.8 1.2 1.5 0.9 -1.6 1.8 -3.1 1.1 -3.4 0.2 -6.4 3.2 -1.6-0.8 -1-0.3 0.4-1.3 -2.4 0.5 -1.1-1.3 -2.3 0.4 -3.7 0.9M565.7 215.9l2.5 0.2 2.5 0.1 2.2-1.3 2.3-1.4 2.4 0 2.5 0 2.6 1 2.6 1 2.6 1 2.1-0.4 2.1-0.3 2-0.4 2.1-0.4 -0.3-3 -3-2.2 -2.9-2.3 -2.7-1.2 -2.6-1.1 0.7-2.6 0.8-2.5 -2 0.9 -1.9 0.9 -1.9 0.9 -2 0.9 -3.2 2.3 -2.8-2.6 -4.1-3.6 -1.9 3.3 -2 2.9 -1.8 4.5 0.5 4.2 2.6 1.2M612.3 200.1l-2 1.5 -2.1 1.5 -0.1 4.4 3.4 4.5 2.5 3 2.4 3 0 3 0 3 3.2 3.7 2.6 0.5 2.6 0.5 2.6 0.5 2.1-2.1 -1.3-3.1 -1.2-3 -2.3-4.5 3.3-1.5 -2.6-0.7 -2.6-0.8 -2.3-4.5 -2.4-3 1.7-1.1 1.8-1.2 -2.3-4.2 -3.8-0.9 -3.2 1.5M634.1 201.6l3.3-1.2 4.3 2.7 0.2 4.4 -3.3 1.2 -3.7-2.7 -0.8-4.4M733 185.1l1.8-0.3 1.8-0.3 1.2-1.6 1.2-1.7 1.2-1.6 -0.7-3.2 -0.8-3.1 -1.6 0.3 -0.2 2.3 -0.3 2.3 -0.4 2.3 -1.3 1.4 -1.3 1.5 -0.6 1.7M580.3 341.5l4-1.8 1.9 2.4 -0.6 2.7 -0.5 2.8 -4 0.6 -1.6-3.1 0.8-3.6M572.7 350.6l0.5 2.7 0.5 2.7 0.5 2.8 0.7 2.5 0.7 2.5 0.7 2.5 1 0.3 -0.6-2.6 -0.5-2.6 -0.6-2.6 -0.7-2.6 -0.7-2.5 -0.7-2.5 -0.8-0.6M585.3 369.4l1.2 4.5 0.2 2.5 0.2 2.6 0.1 2.5 1 1.5 -0.7-3 -0.6-3.1 -0.4-3 -0.3-3 -0.7-1.5M530.5 301.8l2.6-2.1 0.8 1.5 -2.1 1.5 -1.3-0.9M826.4 237.6l3 0.6 2.7 0.4 2.6 0.3 2.7 0.3 1.6-1.6 1.6-1.5 2.6-0.4 2.6-0.5 2.2-0.6 0.9-2.4 -2.1-3.6 -1.4-4 0.5-3.6 -2.2-2.7 -2.3-2.7 -2.5 1.8 1.6 3.6 1.7 4.6 -1.4 2.1 -2.1 0 -2.1 0 -0.1 3.9 -2.3 0.5 -2.3 0.5 -2.3 0.5 -1.8 1.5 -1.8 1.5 0.4 1.5M837.4 215l1.9-0.9 2.6-0.3 2.6-0.3 1.4-1.9 1.4-2 -3.3-3 -3.2-1.2 -3.2-1.1 -3.2-1.2 1.8 4.4 -0.4 3 1.6 4.5M824.7 239.2l2 3.3 1.9 3.3 2-0.3 -0.1-2.4 -0.1-2.4 -3.8-3.1 -1.9 1.6M831.7 240.7l2.3-1.2 2.3-1.3 -2.6-1.8 -3 1.2 1 3.1M809.7 264.3l2.8 0.6 -0.3 4.5 -1 4.6 -2.7-3 0.4-4.6 0.8-2.1M780.9 282.5l3-2.8 2.8 1.5 -3.2 4.3 -2.6-3M833.3 201.6l2.6-1.5 -2.2-2.5 -2.2-2.4 -2.3-2.5 3.5 0 -3.8-2.9 -3.9-2.9 -2.2-2.5 -2.2-2.4 -2.3-2.4 -3.2-2.3 2.2 3.8 2.5 2.8 2.4 3 2.4 2.9 2.3 2.9 2.2 3 2.1 2.9 2.1 3M812.3 284.6l2.3 0 2.2 0 0.3 3 0.2 3 -0.2 3.1 -0.2 3 2.4 1.5 2.4 1.5 2.4 1.5 -1.2 0.6 -2.4-1 -2.3-1 -2.3-1 -1.4-2.1 -2.2-4.5 0-2.6 0-2.5 0-2.5M820.5 319.4l2.6-1.5 2.5-1.5 1.8-2.6 1.8-2.6 1.1 2.8 1.1 2.7 1.1 2.7 -2.4 3.6 -4.2-2.1 -2.7-0.7 -2.7-0.8M820.9 307.9l2.4 2.4 1.5-3 2.6-0.9 0.4 3.9 -3.9 1.5 -3-3.9M786.4 336.1l0.5 2.5 0.5 2.5 0.4 2.5 1.3 3.1 1.2 3 2.4 0.4 2.3 0.3 2.3 0.4 2.3 0.4 2.7 0 2.7 0 0.5-2.5 0.5-2.5 0.5-2.6 2.1-3 2-3 0.4-2.6 0.5-2.5 0.4-2.6 0.5-2.5 0.4-2.5 -2.2-2.8 -2.1-2.7 -3.9 3 -2.5 3.7 -2.5 2.4 -2.6 2.4 -4 1.5 -2.5 1.1 -2.5 1 -1.6 1.6M749.4 323.6l2.9 0.6 3 0.7 2.1 2.4 2.1 2.4 2.1 2.4 2 2.4 2.8 2.9 2.7 2.8 2.6 2.8 1.3 2.6 1.3 2.6 4 2.4 -0.3 2.5 -0.3 2.5 -0.3 2.6 -3.5 0 -2.5-2.3 -2.6-2.3 -1.9-2.7 -2-2.7 -1.7-2.6 -1.7-2.5 -1.8-2.5 -2-3.3 -2.1-3.4 -1.5-2.5 -1.6-2.6 -1.6-2.6 -1.5-2.6M775.6 361.2l2.3-2.4 2.2 0.5 2.2 0.5 2.2 0.5 2.2 0 2.3 0 2.2 0 3.9 1.2 2.6 1.2 2.6 1.2 -0.2 3 -2.2-0.4 -2.2-0.4 -2.2-0.4 -2.6-0.4 -2.7-0.5 -2.6-0.3 -2.7-0.3 -2.6-0.6 -2.6-0.6 -2.1-1.8M801.4 367.2l4.1-1.5 2.2 0.2 2.3 0.2 2.2 0.2 -0.2 1.6 -2.2 0 -2.2 0 -2.2 0 -4-0.7M811.9 369.4l2.7-0.3 2.7-0.3 2.2-0.6 2.2-0.7 2.2-0.6 2.1-0.6 2.2-0.6 2.7 0 2.7 0 -2.8 1.5 -2.8 1.6 -4.3 3 -2.2-0.3 -2.2-0.3 -2.2-0.3 -2.6-0.8 -2.6-0.7M814.1 357.3l2.6 0 0.1-2.6 0-2.5 0-2.5 1.7-0.9 1.2 3 1.2 3 2.7-0.6 -1.2-2.7 -1.3-2.7 -1.2-2.7 4-2.5 -2.6 0 -2.7 0 -1.9-4.5 2.4 0 2.5 0 2.4 0 2.6-1.5 2.7-1.5 -1.3 1.8 -2.2-0.2 -2.1-0.2 -2.2-0.2 -2.1-0.2 -2.2-0.1 -1.8 3.6 -0.9 2.5 -0.9 2.5 -1 2.6 0.5 3 0.5 3 0.5 3.1M836 336.1l0.7 3 0.6 3 1.4-3 -1.4-3 -1.3 0M831.8 349.7l3.4 1.5 1.9-0.6 -4.1 1.5 -1.2-2.4M837.1 350.3l2.3-0.2 2.2-0.2 2.2-0.2 -1.4 2.4 -4-0.6 -1.3-1.2M845.3 344.5l4.1-2.7 2.2 2.9 2.1 3 2.2 2.9 2.7-1.7 2.7-1.7 2.8-1.8 2.6 1.1 2.7 1 2.6 1 2.3 0.9 2.3 0.9 2.3 0.9 2.3 0.9 1.6 2.6 1.6 2.6 2.2 1 2.2 1.1 0.5 2.7 0.4 2.7 2.3 3.5 2.3 3.5 -2.2-0.3 -2.2-0.3 -2.1-0.3 -1.7-3 -1.7-3.1 -2.7-0.6 -2.6-0.6 -3 4.3 -2.7 0 -2.7 0 -2.5-1.6 -2.5-1.5 -2.8 1.2 -0.1-2.5 -0.2-2.6 -0.1-2.6 -0.2-2.6 -2.2-0.7 -2.2-0.7 -2.2-0.7 -2.6-0.4 -2.7-0.5 -2.5-3.6 -2.6-4.6M895.6 357.3l4.2-3.1 2.2-0.9 -1 3.3 -4.2 2.8 -1.2-2.1M908.9 358.8l2.4 3 2.4 3 2.5 1.5 2.6 1.6 3.7 2.4 2.5 1.5M792.1 407.2l-0.2 2.4 -0.2 2.5 -0.2 2.4 -0.3 2.4 -0.3 2.4 -0.1 2.6 -0.1 2.5 -0.2 2.5 0 3.2 0 3.3 -0.2 3.2 -2.1 3.5 -2.1 3.5 1.9 1 2 1 2 1 3.4-1.5 3.3-1.5 2.3-0.1 2.2-0.1 2.3-0.1 2.2 0 2.8-1.7 2.7-1.6 2.8-1.6 2.8-0.7 2.8-0.7 2.9-0.7 2.1-0.1 2.2-0.1 2.2-0.1 1.7 1 1.7 1 1.7 1 0.5 3.5 0.3 3.5 3.8-2.7 3.7-2.8 -0.8 2.6 -0.9 2.5 -1 2.5 2 0.4 1.9 0.5 -0.4 3.3 -0.5 3.3 2 0.9 2.1 0.8 2 0.8 2.2 0.3 2.1 0.3 2.2 0.3 3.2-2 3.2-2 2.8-0.4 2.7-0.5 2.3-2.7 2.3-2.7 2.2-2.7 2.2-2.7 2.6-3 2.5-3 2.5-2.9 2.4-3 1.7-3 1.6-3 0.7-3 0.5-3.1 0.5-3 -1.2-2.5 -1.2-2.5 -1.3-2.6 -1.7-3 -1.7-3 -1.8-1.5 -1.9-1.6 -1.8-1.5 0-2.4 -0.1-2.4 0-2.4 -0.1-2.5 -0.1-2.4 -2.4-1.5 -2.4-1.5 -0.3-2.5 -0.3-2.5 -0.3-2.5 -0.4-2.5 -1.6 3.5 -1.7 3.5 -0.4 2.5 -0.5 2.5 -0.5 2.5 -1.5 2.9 -1.5 2.9 -3.5 0.3 -1.8-1.7 -1.9-1.7 -1.9-1.8 -3.6-2.4 1.5-2.7 1.4-2.7 1.5-2.8 -2.2-1.5 -2.2-0.2 -2.2-0.2 -2.1-0.2 -2.2-0.3 -4.3 2.1 -1.6 2.7 -1.7 2.6 -1.7 2.6 -4 0 -3.6-2.4 -4.4 3 -4.7 4.6 -4.2 4.5 -4 4.5 -2.3 0.9 -2.4 0.8 -2.3 0.8 -2.7 0.6 -2.8 0.6 -2.9 1.6 -2.9 1.7 -2.7 0.6M850.4 463.8l2.1 0.1 2.2 0.2 2.1 0.1 2.1 0.2 -2.6 3.9 -6 4.2 -1.4-3.3 0.8-2.7 0.7-2.7M931.6 444.8l1.3 1.6 1.3 1.7 0.8 3.9 1.7 0.9 1.6 0.9 1.7 0.9 -4.6 4.6 -4.9 3 -6.9 4.2 -1-0.9 3.9-3.3 -1.5-2.7 4.3-3.3 2.5-4.3 -0.1-3.6 -0.1-3.6M919.7 463.2l1.2 1 1.2 1.1 -4 3.9 -5.6 3.6 -2.9 1.2 -2.9 1.2 -4.9 4.1 -5.1 2.1 -1.6-0.6 -1.7-0.6 -1.6-0.6 2.9-3 3.2-1.4 3.2-1.5 3.8-1.5 3.7-1.5 5.2-3.6 3.8-3 2.1-0.9M925.8 401.8l2.1 2.1 2.1 2.1 2.1 2.1 -1.3 0 -1.7-2.1 -1.6-2.1 -1.7-2.1M937.3 386l0.7 3 1.6 4.6M962.9 393.6l3.3-0.6 -0.7 2.7 -3-0.6 0.4-1.5M707.6 310.9l3.7 4 1.8 4.5 -2 3 -2.7-0.6 -0.4-2.7 -0.4-2.7 0-2.7 0-2.8M481.4 189.8l2.5-0.5 2.6-0.4 1.9-0.4 2-0.4 1.9-0.4 2.8-0.7 2.7-0.7 0.7-4.4 -3.2-2 -1.4-3.2 -2.9-3.1 -1.9-1.1 1.6-4.3 -2.7-0.5 -1-0.1 1.1-2.5 -2.8 0 -1.5 0 -1.9 3.1 0.3 4.3 1.4 2.8 1.9 0.1 1.9 0.2 -0.5 2.6 0.9 2 -3.7 1.4 1.4 1.8 -2.8 1.4 2.2 0.5 2.3 0.4 -3 1.2 -2.8 2.9M480.9 183.4l-0.3-4.7 1-2.3 -3.3-2 -2.2 0.3 -0.6 2.6 -3.4 0.3 0.1 2.3 1.2 2.3 -2.4 2 1.8 1.2 3.5-0.9 3.7-1.1 0.9 0M448.3 150.3l2.7-3.8 -2.5-2.3 0.9 0 1.1 0.3 1.5 0.6 2.2-0.1 2.2-0.6 1.6-0.6 1.3-0.1 3.3-0.1 2.8 1.4 1.5 2.6 -3 1.9 -2.8 0.1 -0.6 1.4 -1.7 0.1 -2.5 0.8 -2.7-0.3 -0.9-0.8 -2.4 0 -2-0.5M514.2 114.4l2.6 0.9 0.9 0.3 1 1.3 2.4 0.3 1.6 1.4 0.6-0.4 2-2.1 2-0.6 2.2 0.2 1.3-0.7 1.3-0.8 -0.7-0.2 2.4 0.4 1.3-0.2 1.1-0.6 1.6-1.2 -0.1-0.3 1.8-0.9 -1.6-0.5 -1.7 0.7 -1.3-0.1 -1.9-1 -1.6 0.5 -0.1 0 -3-0.2 -0.7-0.4 -1.1 0 -0.9 1.1 -2.1 0.2 -0.8 0 -1.4 0.1 -0.9 0 -1.8 0.7 -1.5 0.2 -2.7-0.8 -0.5 0.5 0.3 2.2M591.9 130.9l3.8 2 1.4 0.1 2.1 0.2 1.9 0 0.5 0 2.8-0.1 -3.5-1.8 -1.8-2.9 -0.5-3.1 1.3-1.7 1-0.7 1.7-1.1 0.9 0.3 0.7-0.8 0.8-0.8 2.8 0.3 -0.8-1.2 1.8-0.1 1.9 0.1 0.7-1.3 -0.1 0.5 1.9-0.4 1.3-0.4 -2.8-0.3 -0.8 0.6 -1.7-0.6 -0.5 0.2 -2.8 0.4 0.2 0.4 -1.1 0.7 -1 0.3 -1.7 0.2 -1.1 0.6 -1.8-0.5 -1.7 0.5 -1 1 0.3 1 -1.6 1.1 1.1 3.6 -0.6 1.3 -2-0.2 0.3 1.5 -2.3 1.1M572.2 110.2l1.8 0.5 1.7-0.1 2 0.3 1.1 0.1 1.3-0.8 0.7 0.6 0.4-0.3 1.7 0.1 3.1 0.4 0.7-0.6 1.9 0.3 1.7-0.5 1.8 0 0.3-0.2 2.3-0.1 0.1-1 1.3 0.3 -1.2 0.1 -2.8-0.7 -1.2 0.1 -0.5-0.6 -2.3 0.3 -1.1-0.3 -1.7 0.3 -0.7 0.2 -2.2 0.1 -1.3-0.4 -1.3 0.2 -0.7-0.3 -2.2-0.1 -0.9 0.5 -2.4 0.5 0.3 0.7 -1.7 0.4M657 113.3l0.2-0.1 0.6-0.7 3.2 0.7 -1.1-1.1 2.4 0.1 0.7 0.1 3.4 0.6 2.2 0.2 1.6 0.7 1.6 0.7 1.9-0.1 -6.1-3.2 -1.9-0.3 -1.1-0.4 -3.9-1.3 -1-0.1 -2-0.3 -1.5-0.4 -2.1 0.2 -0.8 0.7 -0.2 0 -1.3 0.2 -1.7-0.3 -1.1 0.6 -0.4 0.2 -0.6 0.8 2.4 0.7 2.6 0.2 1.7 0.9 2.3 0.7M739.8 122.4l2.3 0.5 2.1 0.3 -0.1-0.8 2.3 1.2 2.4 0 3.7 0.9 -0.4-0.6 3.9 0.9 2.3-0.3 -2.6-1.4 1.9 0.1 1.3-0.5 0.7-0.3 1.3-0.9 1.2 0 1.7 0.2 -1.3-0.4 -1.6 0.5 -3.8-1.2 1.2 1 -1.6-0.3 -2.6-0.5 -2.1 0.2 -1.5-0.4 -2.3-0.5 -1.6-0.4 -1.6 0.3 -2-0.5 -1.3 0.3 -0.3 0.2 -2.2 0.5 -0.2 0.2 0.8 1.7M833.9 132.1l0.8-1.2 2.9 1.7 -3.7-0.5M154.5 130.9l1.3 0.9 1.6-0.4 0.6 0.2 -1.2 0.5 -2.9 0.7 -2.3-0.2M370.1 114.4l1.4 0.2 0.1 1.1 1.6 1.1 0.5 0.5 0.2 1.8 0.5 0.2 1.2-0.5 2 1.1 1.3 0.2 0.9-0.3 0.8 0.5 2.6-0.6 1.3 0.3 1 0.1 2.2 1 -0.3 0.2 2.5-0.2 0.9 0.1 0.5 3.6 -0.4 2.7 0.4 2.1 1 3.8 1.6 1.2 0.1 1.6 0.7 2.2 -3 1.6 -0.4 1.5 -3.2 0.8 -1.4 3.4 1.1 1.9 1.9 1.5 0.6 2.5 -0.3 2.3 1.1 2.4 0.8 2.1 1.1 0.9 1.6 0.1 1.6 1.1 2.2 0.7 2.4-0.1 1.8 0.1 2.4-4.1 2.3-2.8 2.9-2.4 1.6-3 1.1-0.5 3.4-1.1 1.4-1 1.3 0.1 1.3-1.4 2-0.2 1.7-0.3 2.5-0.9 1.8-2.2 3.4-0.9 2.1-1.5 1.1-0.9 2.3 0.8 1-1.5 1.9 0.5 1.3-1 2.6 0.3 1.3-1.1 3.1-0.9 0.9-0.5 2.3-1.3 0.8-3.8 1.8-2.1 1.1-2.7 2.1-1.5 2.3-0.4 0.6-0.5 0.2-1.9 0-2.8 2.7-2.8 1-1.6 1.5-0.9 2.5-1.8 1.9-1.4 -0.5-0.6 -2.3-0.1 -1.1-0.4 -0.9-0.4 -2.1-0.4 -0.8 0 -2.3 0 -0.3 0.1 -1-0.6 -1.9 0 -1-0.7 -1.8-0.5 0.5 0.1 -2-0.5 -1-0.1 -1.7-0.1 -1.6 0.2 -0.8-0.6 -0.6-0.1 -2.9-0.2 0.5 0.4 -1.5 0.2 -1.6-0.6 -2 0.5 -1.8-0.2 -1 0 -0.8 0.3 -1.8 0.2 -0.4-0.7 -1.8 0.2 -2 0.5 -0.5-0.1 -0.9-0.2 -2.3 0.5 -1.1-0.1 -1.6 0.2 -1.6 0 -1.6 0.8 -0.9-0.1 -1.9-0.1 -0.5 0.3 -2.1 0.1 -1.5-0.1 -0.3-0.1 -1.7 0.9 -2.1-0.3 -1.8 0.2 -0.5-0.4 -1.9 0.8 -1.1-0.8 -2.1 0.7 -1.1-0.3 -2 0.6 -0.7-0.3 -3 0.8 -0.3 0.5 -2.1 0.1 -0.1-0.3 -2.6 0.8 -3.3 0.8 -1.5 0.3 -1.1-0.1 -3.5 2 -1.2-0.2 -2.2 0.7 -1.2 0 -2.3 0.7 -2.7 0.8 -0.8 0.2M371.5 143.6l-2.1 3.3 -3.6 2 -2.4 1.6 -1.9 1.6 -3.2 1.4 -2 0.4 -1.9 0.1 -2 0.9 -1-1 -2.9-0.9 -1.2-0.3 -1.2-1 -1.3-0.9 -0.4-0.6 -2.2-1.3 -2.3-0.7 -2.2 1.2 -0.7-0.9 -2.1 0.7 2.9-2.9 1.3 0.1 2.1-1 2.2-1.7 3-0.1 2.7-1.6 2.1-2.8 -1.2-1.7 -0.3-0.1 -0.7-1.7 -2.2-0.4 -0.4-0.7 -3.3 0.2 -1.6 0.4 -1.2-0.1 -2 0 -0.5 0 -3.3-0.8 0.6-0.1 -3.1 0.4 -2-0.3 -0.5-0.1 -2.6-1.1 -0.9-0.4 -0.6-0.6 2.1-2.8 2.5-1.1 2.6-2.2 1.1 0.3 3.7-0.8 0.7 0.5 2.9-0.8 0.4 0.8 0.9 0.2 1.9-0.5 2.9-0.3 0.6 0.1 0.1 0.5 1.9 0.2 2 0.9 0.4 0.8 0.7 0.5 0.9 0.2 2.1 0.9 1.8 0.3 -0.2 1.6 1.8 0.7 0.4 0 0.4 1.2 2.1-0.3 2.1 0.9 0.9 3.3 0.7 1.8 0.6 0.4 1.5 1.6 0.4 1.3 2.6 0.8 0.6 0.5M357.2 118.9l-1.9-0.6 -1.6 0.4 0.1 0.1 -3.3 0.7 -0.8-0.2 -0.4-0.7 -2.2 0.6 -2.3 0.1 -0.7-0.1 -1.6-0.3 -2.1 0.7 -1.5-0.9 -1.1 0.2 2-3.4 4.9-2.7 3.5-1.6 1.1-0.3 4.1-1.3 2.1-0.4 1.6-0.7 1.7 0.2 2.4-0.1 2.4-0.6 0.4-0.2 2.9-1.1 0.9 0 2.3-0.3 1 0.1 1.2-0.5 1.7 0.1 1.4 0.3 2.7-0.9 0.1 0 1.7 0.5 0.2 0.1 2.1-0.5 1.6-0.1 1.2 0.1 1 0.5 1.1-0.3 1.4 0.5 1.7-0.8 2.1 0.4 0.1 0.5 1.7 0 -1.4 0.5 -2.7 1.2 -1.6 0.5 -2.4 0.3 -0.8 0.8 -2.8 0.5 -2.6 1.4 -1.9 0.9 -3.4 0.8 -1.2-0.1 -1.6 0.5 -2.2 0.8 -0.2-0.6 -2.8 0.6 -1.5-0.1 -0.4 2.2 -2.4 0.5 -3.3 1.5 -1.7 0.3M349.4 123.6l-0.4-0.1 -2.7 0 -0.2-0.7 -3.3 1.1 -1.8 0.2 0.4-1.4 -2.9 0.4 -1.2-0.3 -1.4 0.7 -3.1 0.4 0.7-0.1 -2.1-0.5 -0.4-1.1 -1-1 2.8-1.1 1.8-0.7 3.2-0.5 -0.1 0.4 2.8 0.1 0.6-0.3 1.8 0.7 2.3-0.7 -0.2 0.1 1.3 0 2.6 0.3 1.4-0.5 0.5 0.6 2.2 0 -2.5 2.6 -1.1 1.4M299.9 137.2l-2.9 0 -2 0.4 0.4 0.5 -1.4-0.3 -2.9 1.2 -2.1-0.6 -1 0 -2.2 0.2 -0.3-0.4 -2.2 0 -1.9-0.2 -2.2 0.4 -0.8-0.5 -2.5-0.4 -1.1-0.5 -0.2-0.7 -1.4 0.2 -1.2-0.6 -1.5-0.4 1.2-1.8 -2.8-0.3 4.7-2.5 -1.3-0.9 0.3-1.6 2-0.5 2.4-0.7 -0.1 0.6 2.5 0.1 2.7-1 1.8-0.2 2.1-0.8 0.7 0.8 2.2 0 1.2 0.1 1.5-0.9 1.4 0.6 2.8-0.5 0.5 0.6 1.4 0.2 1.8 0.9 0.9 1.5 -1.6 2.9 -0.7 1.5 2.2 1 -0.4 2.6M259.3 130.1l2.6-2.3 3.2-3 3.1-0.8 -0.6 0.6 2.3 0.1 4.3-1.1 0.7 0.7 1.2-0.3 0.8 1.4 0.4 0.2 -0.2 0.7 1.6 0.9 -3.2 1.1 -2.9 0.5 -3.7 1.8 -1 0.3 -0.8 0.1 -1.4-0.7 -0.7-0.4 -3.8 0.5 -1-0.5 -0.9 0.2M289.1 122.4l-0.7-1.4 -0.7 0.5 -0.9-1.5 3-0.4 0 0.8 2.8-0.6 2-0.4 2-0.4 0.6-0.1 3.7-0.4 -0.1 0.4 1.3 0.8 1.9-0.8 -1.1 1.4 3.1-0.4 1.1 0.7 0.5-0.1 -5 1.9 -2.3-0.1 0.4-0.1 -3.8 0.4 -1.3-0.1 0.1-0.1 -2.5 0.4 -0.2-1.1 -3 1 -0.9-0.3M312.5 129.6l-1.9-0.1 -1.2-0.3 -1.7 0.7 0.2-0.7 -2.9 0.4 0.6-2.4 4.2-1.5 2-0.9 0.7 0.3 2.4-0.5 1.9 0.6 -3 1.8 -1.3 2.6M324.9 128.4l-1.5-0.1 -1 0.4 -2.2-0.6 -1.5 0.5 -1.3-0.2 4.4-3.6 1.2 0.2 1.4-0.4 3.4-0.1 0.4 0.3 -3.3 3.6M319.7 122.4l-0.6 0.2 -1-0.3 -1.4-1.2 -2 0.3 -0.8-0.2 3.1-1.8 3.2-0.5 1.9 0.8 -0.2 0 2.2 0.3 -4.4 2.4M344.5 114.4l-2 0.4 -0.3-0.1 -3.1-0.1 -2.6 0.9 -0.9-0.4 -0.9 0.4 1.9-2.4 -0.1-1.9 1.9-0.8 2.5 0.2 1.1-0.8 3.7-0.7 1.4-0.1 0.7-0.2 0.2 0.7 1.2 0.7 0.7 1 -5.4 3.2M326 150.3l-1.6-0.1 -1.7-0.3 -2.3-0.1 -0.7 0.2 -1.9 0.6 -2-0.3 3.8-4 2.7-0.3 0.1-0.3 2.2 0.6 1.2 1 0.2 1.4 2.1 1.6 -2.1 0M312.5 116.6l-2 0.3 -0.3-0.2 -2-0.2 -1.8-0.1 -1.3 0.8 -2-0.3 -0.6-0.5 -2.1 0.2 -3 0.4 1.4-1.2 -0.7-0.1 -3.6 0.5 0-0.3 1.7 0 2.1-1 1.7 0.5 2-0.6 2.6-0.4 1.1-0.4 1.3 0.4 1.1 0.6 -0.1 0.2 1.9-0.2 0.2 0.4 1.3 0.4 1.1 0.8M281.5 120l-2.8 0.3 -1.2 0.1 -0.7-0.4 -1.2 0.3 -2.2 0.4 5.5-1.8 3.5-1.9 0.1 0.9 1.7 0.3 0.2 0.2 2.4-0.1 0.7 0.2 0.9 0.4 -0.5-0.3 -3.6 0.5 -2.8 0.9M354.6 196.8l1.9 0 1.9 0 2 0 1.9 0 1.8 0.7 1.8 0.7 1.8 0.6 1.7 0.7 0.4-2.7 0.4-2.6 -1.7-1 -1.7-1 -1.6-1 0.9-2.9 0.9-2.9 -3.6 0.6 -2.3 2.7 -2.2 2.7 -2.2 2.7 -2.1 2.7M345.8 190.1l1.7 0.7 1.7 0.6 1.7 0.7 -2.2 0.1 -2.1 0.1 -2.1 0.1 1.3-2.3M271.8 274.3l2.3-0.8 2.3-0.8 2.2-0.8 2.3-0.4 2.2-0.4 2.2-0.4 2.5 1.6 2.4 1.6 2.4 1.6 2.3 1.3 2.3 1.3 2.3 1.3 -2.2 0.3 -2.2 0.2 -2.2 0.2 -2.2 0.2 -1-2.4 -2.5-1.1 -2.5-1.1 -2.5-1.1 -2.6 0 -2.6 0 -2.6 0 -2.6-0.3M298.4 284.9l2.3-2.3 2.4-2.3 2.1 0.3 2.2 0.3 2.1 0.3 2.1 0.4 2.7 2.7 -2.4 0.6 -2.3 0.6 -2.4 0.6 -2.2-0.3 -2.2-0.3 -2.2-0.3 -2.2-0.3M288.1 284.9l2.7 0.6 2.7 0.6 -3.5 0.6 -1.9-1.8M317.4 284.6l2.1 0.3 2.1 0.3 -2.2 0.4 -2.1 0.5 0.1-1.5M292.2 259.8l2.5 0.6 -2 4.5 -0.3-2.6 -0.2-2.5M204.7 194.8l-1.2-1.3 -1.2-1.2 -1.1-1.2 -1.1-1.2 -1.1-1.2 -1.1-1.3 2.6 0.9 1.3 1.5 1.3 1.4 0.8 1.8 0.8 1.8M192.3 183.9l1.2-2.8 1.3-2.9 2.2 0 -1.9 4.3 -2.8 1.4M160.9 168.2l-3.3 0.8 -3.8 1.7 4.7-3.3 2.4 0.8M118.6 178.7l-4.3 0.9M107.4 181.9l-2.9 0.6 -2.9 0.6M96.4 183.7l-2.7 0.4 -2.8 0.4M87.5 184.5l-2.8 0.5 -2.7 0.4M888.4 181.6l2.7 0.5 2.7 0.4M84.8 280l1.9 1.2 -2.4 2.2 0.5-3.4M83.1 277.3l1.8 0.3 -1.6 0.9 -0.2-1.2M79.7 275.2l1.1 0.9 -1.4 0 0.3-0.9M75.9 273.4l1.2 0.3 -0.9 0.6 -0.3-0.9M525.5 226.2l2.7-0.5 2.6-0.6 2.6-0.5 -1 4.9 -2.3-1.1 -2.3-1.1 -2.3-1.1M515.4 222.5l3.2-0.6 0-2.7 0.1-2.7 -2 0 -2 0 0.4 3 0.3 3M515.7 215l1.9 0.3 0.1-4.5 -2 4.2M553.8 233.7l2.4 0.1 2.4 0.1 2.3 0.1 -2.2 0.5 -2.2 0.4 -2.7-1.2M576.2 235.2l2.8-1.2 2.7-1.2 -2.4 3 -3.1-0.6M519.1 174.2l3.5-0.9 -1.1 2.3 -2.4-1.4M353.5 495.2l1.9 0 1.9 0 1.9 0 1.9 0 -0.5 2.1 -1.9 0 -1.9 0 -1.9 0 -1.4-2.1M408.9 503l2.4 0.5 2.3 0.4 -2.3-0.4 -2.4-0.5M249.6 341.5l1.6 1.8 -1.1 0.3M740.8 299.7l0.6 3 0.5 3.1M645.6 401.2l0.9 1.2M639.8 404.2l1.2 0.9M609.9 375.4l0.4 1.2M636.3 302.4l3.2 0.3M454.5 255.8l-3.1-0.6M432 294.9l0.6 0.6M425 223.7l2.5-0.3M500.5 220.7l2.5-0.6M890.7 348.2l2.3 0.5 2.2 0.5 2.2 0.5M99.5 393.6l0.7 0.9M38.5 382.4l1.1 0.6M34.7 404.5l0.6 0.3M121.1 367.9l0.6 0.6M278.6 119.6l3-1.2 4.3-1.4 0.8 0.5 3.1-1.3 0.8 0.5 1.9 0 1-0.1 -5.9 2.3 -2 0 -2.3 0.4 -2.1 1 -0.3-0.4 -2.3-0.3M323.3 122.4l2.5 0.1 1.1 0.1 1.2-0.5 0.8-1.6 -1.9 0.4 -1.8 0.4 -1-0.6 -0.9 1.7M315 121l1.6 0.6 1.9-0.1 0.2 0.2 3.8-2.6 -1.3-0.3 -2.5 0.4 0-0.6 -3.8 1 0.1 1.4M327.8 115.5l2.6-0.8 2.2-0.3 -0.6-0.9 -1.7 0.2 -2.8 0.7 0.3 1.1M318.9 115l1.2-0.6 1.7 1 2-0.8 0.8-1.3 -1.9 0.5 0.2-0.7 -3.1 0.6 -0.9 1.3M301.7 138.4l0.7 0.4 3.1-0.5 1.7-0.6 0.8-2.1 -2.4-0.5 -4.7 2.1 0.8 1.2M345.6 128.1l2.5 0.5 -0.2 0.1 3.3-0.6 0.9-2.4 -0.7-0.6 -1.4 0.2 -3.2 0.2 -2.3 1.7 1.1 0.9M321.5 154.1l2.7-0.1 1.5 0.1 0.2-1.9 -2.1 0.4 -2.1-0.4 -0.2 1.9M325.4 156.3l1.8 0.5 -0.1-1.6 -1.7 1.1M327.8 133.9l2.1-0.3 0.3-1.5 -2.3 0.5 -0.1 1.3M340.7 134.6l2.5 0.5 0.3-1.7 -2.8 1.2M342.3 140.8l1.5 0.7 2.1-0.2 0.5-2.3 -3.3 0.5 -0.8 1.3M318.6 171.9l1.3 0.6 0.5-1.8 -1.8 1.2M230.7 136.4l3.5-0.5 -1-0.8 -2.5 1.3M526.6 112.6l0.5 0.6 2.2-0.1 2.5 0.1 0.5-0.3 2.2 0.2 0.5-0.5 1.2-0.3 1.4-0.1 1.8-1.2 -1.4 0.4 -1.1-0.1 -2.2-0.5 0 0.3 -3.4-0.9 -1.7-0.2 -0.3 0.4 -1.3 0.8 -1.7 0.2 0.3 1.2M588.9 136.9l2.7 0.3 -1.2-1.3 -1.5 1M607.2 134.6l3.1 0.4 0.7-0.4 -2.6-1.2 -1.2 1.2M644.5 124.8l1.4-0.4 0.8-0.3 1.5 0 1 0.2 1.5-0.7 2.7 0.9 -0.7 0.9 -2-0.3 -1.9 0.4 -2.8-0.8 -1.5 0.1M751.2 126.4l0.7 0 4.4 0.9 1.1-0.4 0.1-1.2 -3.9-0.6 0.4 0.9 -2-0.3 -0.8 0.7M739.8 121.2l3.2 0.5 0.9 0.3 0.5 0.1 2.9 0 0.7-0.2 0.9-0.6 2.2 0.7 -0.6-0.6 0.2-1.2 2.2 0.3 -1.7-0.2 -3.5-0.3 -1.7-0.4 -1.2-0.4 -1.5 0.8 -2.1-0.4 0.9 0.7 -1.6 0.4 -2.6-0.7 1.9 1.2M848.2 164.5l1.5-0.5 -2.1-0.8 0.6 1.3" fill="none" stroke="#858585" stroke-width="1.8" stroke-linejoin="round"/><path d="M238.1 96.4L234.3 97.5L230.6 98.6L226.8 99.7L222.9 100.9L218.8 102.2L214.4 103.8L209.7 105.5L204.9 107.3L200.0 109.2L195.1 111.2L190.2 113.3L185.1 115.5L180.0 117.7L174.9 120.0L170.1 122.4L165.5 124.8L161.0 127.2L156.7 129.6L152.4 132.1L148.2 134.6L144.1 137.2L140.1 139.7L136.2 142.3L132.3 145.0L128.4 147.6L124.6 150.3L120.8 153.0L117.0 155.7L113.3 158.4L109.7 161.2L106.1 164.0L102.5 166.8L99.0 169.6L95.5 172.5L92.1 175.3L88.8 178.2L85.6 181.1L82.4 183.9L79.3 186.9L76.3 189.8L73.4 192.7L70.6 195.7L67.9 198.6L65.2 201.6L62.6 204.6L60.1 207.5L57.5 210.5L55.1 213.5L52.7 216.5L50.4 219.5L48.2 222.5L46.1 225.6L44.1 228.6L42.1 231.6L40.2 234.6L38.4 237.6L36.7 240.7L35.0 243.7L33.4 246.7L31.9 249.8L30.5 252.8L29.1 255.8L27.9 258.8L26.7 261.9L25.6 264.9L24.6 267.9L23.7 271.0L22.8 274.0L22.0 277.0L21.2 280.0L20.4 283.1L19.6 286.1L18.8 289.1L18.1 292.2L17.4 295.2L16.8 298.2L16.2 301.2L15.7 304.3L15.3 307.3L14.8 310.3L14.4 313.3L14.1 316.4L13.8 319.4L13.5 322.4L13.3 325.5L13.1 328.5L12.9 331.5L12.7 334.5L12.6 337.6L12.6 340.6L12.6 343.6L12.7 346.7L12.9 349.7L13.1 352.7L13.3 355.7L13.5 358.8L13.8 361.8L14.1 364.8L14.4 367.9L14.8 370.9L15.3 373.9L15.7 376.9L16.2 380.0L16.8 383.0L17.4 386.0L18.1 389.0L18.8 392.1L19.6 395.1L20.4 398.1L21.2 401.2L22.0 404.2L22.8 407.2L23.7 410.2L24.6 413.3L25.6 416.3L26.7 419.3L27.9 422.4L29.1 425.4L30.5 428.4L31.9 431.4L33.4 434.5L35.0 437.5L36.7 440.5L38.4 443.6L40.2 446.6L42.1 449.6L44.1 452.6L46.1 455.6L48.2 458.7L50.4 461.7L52.7 464.7L55.1 467.7L57.5 470.7L60.1 473.7L62.6 476.6L65.2 479.6L67.9 482.6L70.6 485.5L73.4 488.5L76.3 491.4L79.3 494.3L82.4 497.3L85.6 500.1L88.8 503.0L92.1 505.9L95.5 508.7L99.0 511.6L102.5 514.4L106.1 517.2L109.7 520.0L879.5 520.0L883.1 517.2L886.7 514.4L890.2 511.6L893.7 508.7L897.1 505.9L900.4 503.0L903.6 500.1L906.8 497.3L909.9 494.3L912.9 491.4L915.8 488.5L918.6 485.5L921.3 482.6L924.0 479.6L926.6 476.6L929.1 473.7L931.7 470.7L934.1 467.7L936.5 464.7L938.8 461.7L941.0 458.7L943.1 455.6L945.1 452.6L947.1 449.6L949.0 446.6L950.8 443.6L952.5 440.5L954.2 437.5L955.8 434.5L957.3 431.4L958.7 428.4L960.1 425.4L961.3 422.4L962.5 419.3L963.6 416.3L964.6 413.3L965.5 410.2L966.4 407.2L967.2 404.2L968.0 401.2L968.8 398.1L969.6 395.1L970.4 392.1L971.1 389.0L971.8 386.0L972.4 383.0L973.0 380.0L973.5 376.9L973.9 373.9L974.4 370.9L974.8 367.9L975.1 364.8L975.4 361.8L975.7 358.8L975.9 355.7L976.1 352.7L976.3 349.7L976.5 346.7L976.6 343.6L976.6 340.6L976.6 337.6L976.5 334.5L976.3 331.5L976.1 328.5L975.9 325.5L975.7 322.4L975.4 319.4L975.1 316.4L974.8 313.3L974.4 310.3L973.9 307.3L973.5 304.3L973.0 301.2L972.4 298.2L971.8 295.2L971.1 292.2L970.4 289.1L969.6 286.1L968.8 283.1L968.0 280.0L967.2 277.0L966.4 274.0L965.5 271.0L964.6 267.9L963.6 264.9L962.5 261.9L961.3 258.8L960.1 255.8L958.7 252.8L957.3 249.8L955.8 246.7L954.2 243.7L952.5 240.7L950.8 237.6L949.0 234.6L947.1 231.6L945.1 228.6L943.1 225.6L941.0 222.5L938.8 219.5L936.5 216.5L934.1 213.5L931.7 210.5L929.1 207.5L926.6 204.6L924.0 201.6L921.3 198.6L918.6 195.7L915.8 192.7L912.9 189.8L909.9 186.9L906.8 183.9L903.6 181.1L900.4 178.2L897.1 175.3L893.7 172.5L890.2 169.6L886.7 166.8L883.1 164.0L879.5 161.2L875.9 158.4L872.2 155.7L868.4 153.0L864.6 150.3L860.8 147.6L856.9 145.0L853.0 142.3L849.1 139.7L845.1 137.2L841.0 134.6L836.8 132.1L832.5 129.6L828.2 127.2L823.7 124.8L819.1 122.4L814.3 120.0L809.2 117.7L804.1 115.5L799.0 113.3L794.1 111.2L789.2 109.2L784.3 107.3L779.5 105.5L774.8 103.8L770.4 102.2L766.3 100.9L762.4 99.7L758.6 98.6L754.9 97.5L751.1 96.4Z" fill="none" stroke="#3d3d3d" stroke-width="3.1"/><g stroke="#474747" stroke-width="2.6" stroke-linejoin="miter"><path d="M196.0 183.0L242.0 175.0L250.0 190.0L238.0 206.0L205.0 210.0L198.0 200.0Z" fill="#5a5a5a" stroke="none"/><path d="M165.0 145.0L200.0 137.0L240.0 140.0L255.0 150.0L240.0 162.0L200.0 168.0L170.0 165.0Z" fill="#5a5a5a" stroke="none"/><path d="M195.0 190.0L300.0 188.0L318.0 200.0L305.0 230.0L285.0 250.0L250.0 255.0L225.0 262.0L205.0 250.0L190.0 235.0L188.0 205.0Z" fill="#5a5a5a" stroke="none"/><path d="M480.0 175.0L500.0 168.0L520.0 170.0L545.0 180.0L560.0 200.0L590.0 210.0L600.0 222.0L580.0 232.0L555.0 238.0L520.0 240.0L490.0 240.0L478.0 225.0L478.0 195.0Z" fill="#5a5a5a" stroke="none"/><circle cx="233.3" cy="159.0" r="7.7" fill="#F2AC4C" stroke-width="3.2"/><circle cx="246.1" cy="158.1" r="7.7" fill="#F7F6CE" stroke-width="3.2"/><circle cx="223.5" cy="142.1" r="7.7" fill="#F8E59C" stroke-width="3.2"/><circle cx="218.5" cy="148.6" r="7.7" fill="#F8E59C" stroke-width="3.2"/><circle cx="216.0" cy="155.1" r="7.7" fill="#F7F6CE" stroke-width="3.2"/><path d="M235.0 133.9L244.2 149.8L225.8 149.8Z" fill="#F7F6CE" stroke-width="3.2"/><circle cx="220.9" cy="163.4" r="7.7" fill="#F8E59C" stroke-width="3.2"/><circle cx="169.6" cy="153.8" r="7.7" fill="#F5D174" stroke-width="3.2"/><circle cx="194.2" cy="141.3" r="7.7" fill="#F2AC4C" stroke-width="3.2"/><circle cx="243.7" cy="162.1" r="7.7" fill="#F8E59C" stroke-width="3.2"/><circle cx="181.1" cy="150.9" r="7.7" fill="#7E1528" stroke-width="3.2"/><circle cx="198.9" cy="162.8" r="7.7" fill="#F7F6CE" stroke-width="3.2"/><circle cx="173.7" cy="145.5" r="7.7" fill="#F8E59C" stroke-width="3.2"/><circle cx="227.4" cy="162.1" r="7.7" fill="#F7F6CE" stroke-width="3.2"/><circle cx="254.0" cy="151.6" r="7.7" fill="#7E1528" stroke-width="3.2"/><circle cx="201.6" cy="161.2" r="7.7" fill="#F7F6CE" stroke-width="3.2"/><circle cx="214.8" cy="173.3" r="7.7" fill="#F5D174" stroke-width="3.2"/><circle cx="263.1" cy="145.5" r="7.7" fill="#F7F6CE" stroke-width="3.2"/><circle cx="237.5" cy="149.7" r="7.7" fill="#F7F6CE" stroke-width="3.2"/><circle cx="241.3" cy="145.9" r="7.7" fill="#F8E59C" stroke-width="3.2"/><circle cx="188.2" cy="164.1" r="7.7" fill="#F7F6CE" stroke-width="3.2"/><circle cx="256.3" cy="143.7" r="7.7" fill="#F7F6CE" stroke-width="3.2"/><circle cx="259.6" cy="150.3" r="7.7" fill="#7E1528" stroke-width="3.2"/><circle cx="244.2" cy="151.2" r="7.7" fill="#F7F6CE" stroke-width="3.2"/><circle cx="176.8" cy="172.2" r="7.7" fill="#F5D174" stroke-width="3.2"/><circle cx="234.5" cy="164.9" r="7.7" fill="#F2AC4C" stroke-width="3.2"/><circle cx="197.2" cy="156.5" r="7.7" fill="#F7F6CE" stroke-width="3.2"/><path d="M213.6 141.5L222.8 157.4L204.4 157.4Z" fill="#7E1528" stroke-width="3.2"/><circle cx="202.9" cy="167.7" r="7.7" fill="#F7F6CE" stroke-width="3.2"/><circle cx="206.3" cy="147.8" r="7.7" fill="#F7F6CE" stroke-width="3.2"/><circle cx="185.2" cy="171.7" r="7.7" fill="#F7F6CE" stroke-width="3.2"/><path d="M223.3 149.7L232.5 165.6L214.1 165.6Z" fill="#F8E59C" stroke-width="3.2"/><circle cx="195.3" cy="176.2" r="7.7" fill="#F7F6CE" stroke-width="3.2"/><circle cx="248.3" cy="144.4" r="7.7" fill="#F7F6CE" stroke-width="3.2"/><circle cx="191.3" cy="171.3" r="7.7" fill="#F2AC4C" stroke-width="3.2"/><circle cx="187.6" cy="178.3" r="7.7" fill="#F7F6CE" stroke-width="3.2"/><circle cx="218.0" cy="141.1" r="7.7" fill="#7E1528" stroke-width="3.2"/><circle cx="208.5" cy="144.3" r="7.7" fill="#F7F6CE" stroke-width="3.2"/><path d="M213.6 155.1L222.8 171.0L204.4 171.0Z" fill="#F8E59C" stroke-width="3.2"/><path d="M183.1 134.5L192.3 150.4L173.9 150.4Z" fill="#F7F6CE" stroke-width="3.2"/><circle cx="208.9" cy="154.5" r="7.7" fill="#F8E59C" stroke-width="3.2"/><circle cx="181.4" cy="166.5" r="7.7" fill="#F7F6CE" stroke-width="3.2"/><circle cx="174.7" cy="161.3" r="7.7" fill="#F8E59C" stroke-width="3.2"/><circle cx="187.4" cy="152.8" r="7.7" fill="#E95235" stroke-width="3.2"/><circle cx="198.3" cy="149.8" r="7.7" fill="#F8E59C" stroke-width="3.2"/><circle cx="254.9" cy="154.0" r="7.7" fill="#F8E59C" stroke-width="3.2"/><circle cx="173.1" cy="157.3" r="7.7" fill="#F8E59C" stroke-width="3.2"/><circle cx="184.5" cy="155.3" r="7.7" fill="#F8E59C" stroke-width="3.2"/><circle cx="169.4" cy="151.7" r="7.7" fill="#F2AC4C" stroke-width="3.2"/><circle cx="225.4" cy="148.9" r="7.7" fill="#7E1528" stroke-width="3.2"/><circle cx="202.8" cy="145.3" r="7.7" fill="#F2AC4C" stroke-width="3.2"/><circle cx="237.0" cy="156.6" r="7.7" fill="#F7F6CE" stroke-width="3.2"/><path d="M194.4 146.3L203.6 162.2L185.2 162.2Z" fill="#F7F6CE" stroke-width="3.2"/><circle cx="233.2" cy="168.9" r="7.7" fill="#F7F6CE" stroke-width="3.2"/><path d="M207.3 160.2L216.5 176.1L198.1 176.1Z" fill="#F8E59C" stroke-width="3.2"/><circle cx="207.8" cy="229.2" r="7.7" fill="#F7F6CE" stroke-width="3.2"/><path d="M249.3 225.2L258.5 241.1L240.1 241.1Z" fill="#F7F6CE" stroke-width="3.2"/><path d="M265.0 241.4L274.2 257.3L255.8 257.3Z" fill="#F2AC4C" stroke-width="3.2"/><circle cx="270.6" cy="226.7" r="7.7" fill="#7E1528" stroke-width="3.2"/><circle cx="254.9" cy="193.1" r="7.7" fill="#F2AC4C" stroke-width="3.2"/><path d="M260.6 231.0L269.8 246.9L251.4 246.9Z" fill="#F8E59C" stroke-width="3.2"/><circle cx="277.8" cy="241.5" r="7.7" fill="#F2AC4C" stroke-width="3.2"/><circle cx="263.5" cy="206.3" r="7.7" fill="#F8E59C" stroke-width="3.2"/><circle cx="311.3" cy="213.5" r="7.7" fill="#F7F6CE" stroke-width="3.2"/><path d="M279.7 220.4L288.9 236.3L270.5 236.3Z" fill="#F8E59C" stroke-width="3.2"/><path d="M319.8 181.6L329.0 197.5L310.6 197.5Z" fill="#F7F6CE" stroke-width="3.2"/><path d="M236.9 193.2L246.1 209.1L227.7 209.1Z" fill="#F8E59C" stroke-width="3.2"/><circle cx="282.1" cy="256.3" r="7.7" fill="#F7F6CE" stroke-width="3.2"/><path d="M210.2 194.1L219.4 210.0L201.0 210.0Z" fill="#F8E59C" stroke-width="3.2"/><path d="M206.2 173.2L215.4 189.1L197.0 189.1Z" fill="#F8E59C" stroke-width="3.2"/><path d="M198.8 227.8L208.0 243.7L189.6 243.7Z" fill="#F7F6CE" stroke-width="3.2"/><path d="M306.3 217.2L315.5 233.1L297.1 233.1Z" fill="#F7F6CE" stroke-width="3.2"/><circle cx="285.8" cy="196.8" r="7.7" fill="#7E1528" stroke-width="3.2"/><circle cx="208.7" cy="246.9" r="7.7" fill="#F8E59C" stroke-width="3.2"/><path d="M232.2 199.2L241.4 215.1L223.0 215.1Z" fill="#F7F6CE" stroke-width="3.2"/><circle cx="278.7" cy="198.0" r="7.7" fill="#F8E59C" stroke-width="3.2"/><path d="M203.7 205.9L212.9 221.8L194.5 221.8Z" fill="#F5D174" stroke-width="3.2"/><path d="M281.2 172.4L290.4 188.3L272.0 188.3Z" fill="#F8E59C" stroke-width="3.2"/><path d="M265.3 212.2L274.5 228.1L256.1 228.1Z" fill="#F7F6CE" stroke-width="3.2"/><path d="M243.0 260.7L252.2 276.6L233.8 276.6Z" fill="#F8E59C" stroke-width="3.2"/><circle cx="247.1" cy="257.2" r="7.7" fill="#F7F6CE" stroke-width="3.2"/><circle cx="221.4" cy="269.2" r="7.7" fill="#F2AC4C" stroke-width="3.2"/><path d="M215.7 182.4L224.9 198.3L206.5 198.3Z" fill="#F2AC4C" stroke-width="3.2"/><path d="M250.2 176.8L259.4 192.7L241.0 192.7Z" fill="#F2AC4C" stroke-width="3.2"/><path d="M273.6 213.3L282.8 229.2L264.4 229.2Z" fill="#F8E59C" stroke-width="3.2"/><path d="M247.9 231.2L257.1 247.1L238.7 247.1Z" fill="#F8E59C" stroke-width="3.2"/><path d="M248.4 173.2L257.6 189.1L239.2 189.1Z" fill="#7E1528" stroke-width="3.2"/><circle cx="259.2" cy="185.8" r="7.7" fill="#F7F6CE" stroke-width="3.2"/><circle cx="199.1" cy="194.6" r="7.7" fill="#F2AC4C" stroke-width="3.2"/><circle cx="219.3" cy="248.1" r="7.7" fill="#7E1528" stroke-width="3.2"/><circle cx="240.6" cy="208.5" r="7.7" fill="#F7F6CE" stroke-width="3.2"/><path d="M199.8 211.6L209.0 227.5L190.6 227.5Z" fill="#7E1528" stroke-width="3.2"/><path d="M315.6 193.6L324.8 209.5L306.4 209.5Z" fill="#F5D174" stroke-width="3.2"/><circle cx="288.3" cy="218.1" r="7.7" fill="#F7F6CE" stroke-width="3.2"/><path d="M219.9 207.3L229.1 223.2L210.7 223.2Z" fill="#F8E59C" stroke-width="3.2"/><path d="M228.2 221.0L237.4 236.9L219.0 236.9Z" fill="#F8E59C" stroke-width="3.2"/><path d="M226.5 261.0L235.7 276.9L217.3 276.9Z" fill="#F7F6CE" stroke-width="3.2"/><circle cx="225.5" cy="218.2" r="7.7" fill="#F7F6CE" stroke-width="3.2"/><path d="M208.5 196.1L217.7 212.0L199.3 212.0Z" fill="#F5D174" stroke-width="3.2"/><path d="M222.2 240.7L231.4 256.6L213.0 256.6Z" fill="#F5D174" stroke-width="3.2"/><path d="M274.8 249.1L284.0 265.0L265.6 265.0Z" fill="#7E1528" stroke-width="3.2"/><circle cx="311.7" cy="191.2" r="7.7" fill="#F7F6CE" stroke-width="3.2"/><path d="M296.5 172.6L305.7 188.5L287.3 188.5Z" fill="#7E1528" stroke-width="3.2"/><circle cx="216.0" cy="237.2" r="7.7" fill="#F5D174" stroke-width="3.2"/><path d="M279.3 205.1L288.5 221.0L270.1 221.0Z" fill="#F7F6CE" stroke-width="3.2"/><path d="M202.1 177.6L211.3 193.5L192.9 193.5Z" fill="#F8E59C" stroke-width="3.2"/><path d="M197.4 235.0L206.6 250.9L188.2 250.9Z" fill="#F7F6CE" stroke-width="3.2"/><path d="M205.2 193.7L214.4 209.6L196.0 209.6Z" fill="#7E1528" stroke-width="3.2"/><path d="M287.8 231.0L297.0 246.9L278.6 246.9Z" fill="#F8E59C" stroke-width="3.2"/><path d="M289.2 200.9L298.4 216.8L280.0 216.8Z" fill="#F8E59C" stroke-width="3.2"/><path d="M210.6 233.4L219.8 249.3L201.4 249.3Z" fill="#F5D174" stroke-width="3.2"/><path d="M208.2 186.6L217.4 202.5L199.0 202.5Z" fill="#F8E59C" stroke-width="3.2"/><path d="M240.3 267.3L249.5 283.2L231.1 283.2Z" fill="#7E1528" stroke-width="3.2"/><circle cx="296.0" cy="195.6" r="7.7" fill="#7E1528" stroke-width="3.2"/><circle cx="233.3" cy="235.7" r="7.7" fill="#F7F6CE" stroke-width="3.2"/><path d="M256.9 196.4L266.1 212.3L247.7 212.3Z" fill="#F7F6CE" stroke-width="3.2"/><path d="M275.5 227.0L284.7 242.9L266.3 242.9Z" fill="#F7F6CE" stroke-width="3.2"/><path d="M323.4 199.5L332.6 215.4L314.2 215.4Z" fill="#F8E59C" stroke-width="3.2"/><path d="M251.3 203.4L260.5 219.3L242.1 219.3Z" fill="#F7F6CE" stroke-width="3.2"/><path d="M292.1 202.9L301.3 218.8L282.9 218.8Z" fill="#F7F6CE" stroke-width="3.2"/><path d="M219.6 210.6L228.8 226.5L210.4 226.5Z" fill="#F7F6CE" stroke-width="3.2"/><path d="M232.3 240.8L241.5 256.7L223.1 256.7Z" fill="#F8E59C" stroke-width="3.2"/><path d="M255.0 209.5L264.2 225.4L245.8 225.4Z" fill="#F8E59C" stroke-width="3.2"/><circle cx="295.3" cy="231.6" r="7.7" fill="#F8E59C" stroke-width="3.2"/><path d="M235.7 175.1L244.9 191.0L226.5 191.0Z" fill="#F8E59C" stroke-width="3.2"/><circle cx="255.9" cy="238.9" r="7.7" fill="#F7F6CE" stroke-width="3.2"/><path d="M226.4 266.8L235.6 282.7L217.2 282.7Z" fill="#7E1528" stroke-width="3.2"/><path d="M238.5 238.5L247.7 254.4L229.3 254.4Z" fill="#F2AC4C" stroke-width="3.2"/><path d="M300.5 203.2L309.7 219.1L291.3 219.1Z" fill="#F8E59C" stroke-width="3.2"/><path d="M227.9 228.0L237.1 243.9L218.7 243.9Z" fill="#F7F6CE" stroke-width="3.2"/><path d="M302.8 230.2L312.0 246.1L293.6 246.1Z" fill="#F8E59C" stroke-width="3.2"/><path d="M194.4 206.0L203.6 221.9L185.2 221.9Z" fill="#F2AC4C" stroke-width="3.2"/><path d="M217.6 197.2L226.8 213.1L208.4 213.1Z" fill="#F5D174" stroke-width="3.2"/><path d="M238.1 261.9L247.3 277.8L228.9 277.8Z" fill="#F7F6CE" stroke-width="3.2"/><circle cx="265.2" cy="194.4" r="7.7" fill="#F7F6CE" stroke-width="3.2"/><circle cx="244.1" cy="187.3" r="7.7" fill="#7E1528" stroke-width="3.2"/><path d="M222.8 248.5L232.0 264.4L213.6 264.4Z" fill="#F7F6CE" stroke-width="3.2"/><path d="M238.5 173.6L247.7 189.5L229.3 189.5Z" fill="#F7F6CE" stroke-width="3.2"/><circle cx="209.1" cy="236.5" r="7.7" fill="#F7F6CE" stroke-width="3.2"/><circle cx="291.8" cy="198.1" r="7.7" fill="#F8E59C" stroke-width="3.2"/><path d="M288.9 227.0L298.1 242.9L279.7 242.9Z" fill="#F5D174" stroke-width="3.2"/><path d="M233.3 170.2L242.5 186.1L224.1 186.1Z" fill="#F8E59C" stroke-width="3.2"/><path d="M283.9 207.4L293.1 223.3L274.7 223.3Z" fill="#F2AC4C" stroke-width="3.2"/><path d="M266.1 188.9L275.3 204.8L256.9 204.8Z" fill="#F7F6CE" stroke-width="3.2"/><path d="M218.8 189.8L228.0 205.7L209.6 205.7Z" fill="#F7F6CE" stroke-width="3.2"/><circle cx="311.8" cy="221.1" r="7.7" fill="#F2AC4C" stroke-width="3.2"/><circle cx="308.4" cy="202.2" r="7.7" fill="#F8E59C" stroke-width="3.2"/><path d="M270.3 177.3L279.5 193.2L261.1 193.2Z" fill="#F7F6CE" stroke-width="3.2"/><path d="M294.6 216.3L303.8 232.2L285.4 232.2Z" fill="#F8E59C" stroke-width="3.2"/><path d="M304.3 210.7L313.5 226.6L295.1 226.6Z" fill="#F5D174" stroke-width="3.2"/><circle cx="283.9" cy="251.2" r="7.7" fill="#F7F6CE" stroke-width="3.2"/><circle cx="302.7" cy="234.5" r="7.7" fill="#F8E59C" stroke-width="3.2"/><circle cx="238.8" cy="214.4" r="7.7" fill="#F7F6CE" stroke-width="3.2"/><path d="M261.6 219.7L270.8 235.6L252.4 235.6Z" fill="#F7F6CE" stroke-width="3.2"/><circle cx="207.3" cy="218.4" r="7.7" fill="#F7F6CE" stroke-width="3.2"/><path d="M240.9 212.0L250.1 227.9L231.7 227.9Z" fill="#F8E59C" stroke-width="3.2"/><path d="M300.0 190.8L309.2 206.7L290.8 206.7Z" fill="#F8E59C" stroke-width="3.2"/><circle cx="304.4" cy="203.9" r="7.7" fill="#F7F6CE" stroke-width="3.2"/><circle cx="245.0" cy="228.5" r="7.7" fill="#7E1528" stroke-width="3.2"/><path d="M232.5 266.5L241.7 282.4L223.3 282.4Z" fill="#F8E59C" stroke-width="3.2"/><circle cx="211.7" cy="214.4" r="7.7" fill="#F7F6CE" stroke-width="3.2"/><path d="M266.1 247.9L275.3 263.8L256.9 263.8Z" fill="#F8E59C" stroke-width="3.2"/><circle cx="237.6" cy="174.6" r="7.7" fill="#F8E59C" stroke-width="3.2"/><path d="M307.4 186.3L316.6 202.2L298.2 202.2Z" fill="#F8E59C" stroke-width="3.2"/><circle cx="224.2" cy="179.4" r="7.7" fill="#F7F6CE" stroke-width="3.2"/><circle cx="263.4" cy="212.3" r="7.7" fill="#F2AC4C" stroke-width="3.2"/><path d="M211.0 178.7L220.2 194.6L201.8 194.6Z" fill="#F7F6CE" stroke-width="3.2"/><path d="M256.4 224.7L265.6 240.6L247.2 240.6Z" fill="#F7F6CE" stroke-width="3.2"/><path d="M218.3 180.4L227.5 196.3L209.1 196.3Z" fill="#F7F6CE" stroke-width="3.2"/><path d="M310.9 200.8L320.1 216.7L301.7 216.7Z" fill="#7E1528" stroke-width="3.2"/><circle cx="198.7" cy="187.8" r="7.7" fill="#F8E59C" stroke-width="3.2"/><circle cx="237.9" cy="242.9" r="7.7" fill="#F8E59C" stroke-width="3.2"/><path d="M281.1 227.5L290.3 243.4L271.9 243.4Z" fill="#F8E59C" stroke-width="3.2"/><path d="M300.3 221.3L309.5 237.2L291.1 237.2Z" fill="#F7F6CE" stroke-width="3.2"/><path d="M196.5 190.5L205.7 206.4L187.3 206.4Z" fill="#F2AC4C" stroke-width="3.2"/><path d="M238.1 252.7L247.3 268.6L228.9 268.6Z" fill="#F2AC4C" stroke-width="3.2"/><path d="M274.1 186.3L283.3 202.2L264.9 202.2Z" fill="#F2AC4C" stroke-width="3.2"/><path d="M266.1 207.7L275.3 223.6L256.9 223.6Z" fill="#F2AC4C" stroke-width="3.2"/><path d="M287.3 178.4L296.5 194.3L278.1 194.3Z" fill="#F7F6CE" stroke-width="3.2"/><path d="M249.1 210.6L258.3 226.5L239.9 226.5Z" fill="#F7F6CE" stroke-width="3.2"/><circle cx="239.7" cy="232.5" r="7.7" fill="#F7F6CE" stroke-width="3.2"/><path d="M257.0 242.1L266.2 258.0L247.8 258.0Z" fill="#F2AC4C" stroke-width="3.2"/><path d="M316.1 203.8L325.3 219.7L306.9 219.7Z" fill="#F7F6CE" stroke-width="3.2"/><path d="M226.2 186.4L235.4 202.3L217.0 202.3Z" fill="#E95235" stroke-width="3.2"/><path d="M226.1 199.6L235.3 215.5L216.9 215.5Z" fill="#F7F6CE" stroke-width="3.2"/><circle cx="278.4" cy="190.9" r="7.7" fill="#F8E59C" stroke-width="3.2"/><path d="M226.3 194.4L235.5 210.3L217.1 210.3Z" fill="#F2AC4C" stroke-width="3.2"/><circle cx="201.7" cy="250.2" r="7.7" fill="#F2AC4C" stroke-width="3.2"/><circle cx="219.4" cy="260.1" r="7.7" fill="#F2AC4C" stroke-width="3.2"/><path d="M194.4 228.9L203.6 244.8L185.2 244.8Z" fill="#F5D174" stroke-width="3.2"/><path d="M249.0 196.3L258.2 212.2L239.8 212.2Z" fill="#F7F6CE" stroke-width="3.2"/><circle cx="244.0" cy="199.0" r="7.7" fill="#7E1528" stroke-width="3.2"/><path d="M241.9 182.7L251.1 198.6L232.7 198.6Z" fill="#F7F6CE" stroke-width="3.2"/><circle cx="230.0" cy="221.8" r="7.7" fill="#F8E59C" stroke-width="3.2"/><circle cx="235.5" cy="254.5" r="7.7" fill="#F7F6CE" stroke-width="3.2"/><circle cx="273.5" cy="205.0" r="7.7" fill="#F7F6CE" stroke-width="3.2"/><circle cx="302.6" cy="182.9" r="7.7" fill="#F8E59C" stroke-width="3.2"/><path d="M262.8 192.4L272.0 208.3L253.6 208.3Z" fill="#F7F6CE" stroke-width="3.2"/><path d="M207.4 233.8L216.6 249.7L198.2 249.7Z" fill="#F7F6CE" stroke-width="3.2"/><circle cx="291.5" cy="192.3" r="7.7" fill="#F8E59C" stroke-width="3.2"/><path d="M224.7 253.7L233.9 269.6L215.5 269.6Z" fill="#F8E59C" stroke-width="3.2"/><path d="M222.7 217.5L231.9 233.4L213.5 233.4Z" fill="#F7F6CE" stroke-width="3.2"/><circle cx="278.3" cy="204.4" r="7.7" fill="#F7F6CE" stroke-width="3.2"/><circle cx="222.2" cy="242.7" r="7.7" fill="#F7F6CE" stroke-width="3.2"/><path d="M256.4 168.2L265.6 184.1L247.2 184.1Z" fill="#F2AC4C" stroke-width="3.2"/><circle cx="254.3" cy="260.3" r="7.7" fill="#F5D174" stroke-width="3.2"/><circle cx="325.2" cy="200.8" r="7.7" fill="#F8E59C" stroke-width="3.2"/><circle cx="273.8" cy="249.1" r="7.7" fill="#F8E59C" stroke-width="3.2"/><path d="M238.7 216.6L247.9 232.5L229.5 232.5Z" fill="#F7F6CE" stroke-width="3.2"/><path d="M247.1 253.1L256.3 269.0L237.9 269.0Z" fill="#F7F6CE" stroke-width="3.2"/><path d="M268.9 234.3L278.1 250.2L259.7 250.2Z" fill="#F7F6CE" stroke-width="3.2"/><circle cx="294.6" cy="218.2" r="7.7" fill="#F8E59C" stroke-width="3.2"/><path d="M227.3 176.1L236.5 192.0L218.1 192.0Z" fill="#F2AC4C" stroke-width="3.2"/><circle cx="254.7" cy="253.1" r="7.7" fill="#F2AC4C" stroke-width="3.2"/><circle cx="253.3" cy="228.5" r="7.7" fill="#F8E59C" stroke-width="3.2"/><circle cx="281.5" cy="217.6" r="7.7" fill="#F7F6CE" stroke-width="3.2"/><circle cx="282.1" cy="228.4" r="7.7" fill="#F5D174" stroke-width="3.2"/><circle cx="263.8" cy="235.4" r="7.7" fill="#F8E59C" stroke-width="3.2"/><path d="M216.5 171.6L225.7 187.5L207.3 187.5Z" fill="#7E1528" stroke-width="3.2"/><circle cx="296.6" cy="208.0" r="7.7" fill="#F7F6CE" stroke-width="3.2"/><path d="M246.4 204.5L255.6 220.4L237.2 220.4Z" fill="#F7F6CE" stroke-width="3.2"/><circle cx="288.3" cy="246.9" r="7.7" fill="#F7F6CE" stroke-width="3.2"/><circle cx="231.8" cy="242.6" r="7.7" fill="#F7F6CE" stroke-width="3.2"/><circle cx="199.9" cy="226.0" r="7.7" fill="#F7F6CE" stroke-width="3.2"/><path d="M192.1 213.4L201.3 229.3L182.9 229.3Z" fill="#F7F6CE" stroke-width="3.2"/><path d="M200.2 201.2L209.4 217.1L191.0 217.1Z" fill="#F8E59C" stroke-width="3.2"/><circle cx="226.1" cy="211.2" r="7.7" fill="#F7F6CE" stroke-width="3.2"/><path d="M293.6 174.8L302.8 190.7L284.4 190.7Z" fill="#F8E59C" stroke-width="3.2"/><path d="M311.4 223.6L320.6 239.5L302.2 239.5Z" fill="#F7F6CE" stroke-width="3.2"/><path d="M263.3 248.3L272.5 264.2L254.1 264.2Z" fill="#F2AC4C" stroke-width="3.2"/><path d="M231.6 255.2L240.8 271.1L222.4 271.1Z" fill="#F7F6CE" stroke-width="3.2"/><circle cx="191.4" cy="207.0" r="7.7" fill="#F7F6CE" stroke-width="3.2"/><path d="M226.6 248.5L235.8 264.4L217.4 264.4Z" fill="#E95235" stroke-width="3.2"/><path d="M205.8 245.3L215.0 261.2L196.6 261.2Z" fill="#F8E59C" stroke-width="3.2"/><path d="M275.6 174.9L284.8 190.8L266.4 190.8Z" fill="#F8E59C" stroke-width="3.2"/><circle cx="252.8" cy="200.5" r="7.7" fill="#F7F6CE" stroke-width="3.2"/><circle cx="214.6" cy="228.9" r="7.7" fill="#F8E59C" stroke-width="3.2"/><path d="M294.2 232.4L303.4 248.3L285.0 248.3Z" fill="#F2AC4C" stroke-width="3.2"/><path d="M248.9 240.5L258.1 256.4L239.7 256.4Z" fill="#F7F6CE" stroke-width="3.2"/><circle cx="248.3" cy="191.2" r="7.7" fill="#F8E59C" stroke-width="3.2"/><path d="M265.3 169.7L274.5 185.6L256.1 185.6Z" fill="#F7F6CE" stroke-width="3.2"/><path d="M215.1 248.3L224.3 264.2L205.9 264.2Z" fill="#F2AC4C" stroke-width="3.2"/><path d="M232.4 186.7L241.6 202.6L223.2 202.6Z" fill="#F5D174" stroke-width="3.2"/><circle cx="194.9" cy="189.8" r="7.7" fill="#F7F6CE" stroke-width="3.2"/><circle cx="495.2" cy="167.0" r="7.7" fill="#EF8B3E" stroke-width="3.2"/><path d="M492.4 229.5L501.6 245.4L483.2 245.4Z" fill="#F5D174" stroke-width="3.2"/><path d="M539.1 221.5L548.3 237.4L529.9 237.4Z" fill="#F7F6CE" stroke-width="3.2"/><path d="M567.8 196.0L577.0 211.9L558.6 211.9Z" fill="#F8E59C" stroke-width="3.2"/><circle cx="511.6" cy="147.2" r="7.7" fill="#F8E59C" stroke-width="3.2"/><path d="M500.3 163.6L509.5 179.5L491.1 179.5Z" fill="#F8E59C" stroke-width="3.2"/><path d="M565.5 136.0L574.7 151.9L556.3 151.9Z" fill="#F8E59C" stroke-width="3.2"/><path d="M575.6 209.0L584.8 224.9L566.4 224.9Z" fill="#F7F6CE" stroke-width="3.2"/><path d="M512.5 144.2L521.7 160.1L503.3 160.1Z" fill="#F7F6CE" stroke-width="3.2"/><circle cx="512.6" cy="230.7" r="7.7" fill="#F8E59C" stroke-width="3.2"/><circle cx="486.8" cy="229.2" r="7.7" fill="#EF8B3E" stroke-width="3.2"/><circle cx="534.4" cy="147.1" r="7.7" fill="#F7F6CE" stroke-width="3.2"/><circle cx="501.6" cy="159.6" r="7.7" fill="#F8E59C" stroke-width="3.2"/><circle cx="511.9" cy="181.9" r="7.7" fill="#F8E59C" stroke-width="3.2"/><path d="M516.5 189.1L525.7 205.0L507.3 205.0Z" fill="#F8E59C" stroke-width="3.2"/><circle cx="568.8" cy="151.3" r="7.7" fill="#7E1528" stroke-width="3.2"/><circle cx="585.0" cy="210.7" r="7.7" fill="#7E1528" stroke-width="3.2"/><circle cx="513.1" cy="225.0" r="7.7" fill="#F5D174" stroke-width="3.2"/><circle cx="548.9" cy="154.6" r="7.7" fill="#F7F6CE" stroke-width="3.2"/><circle cx="544.9" cy="186.3" r="7.7" fill="#F5D174" stroke-width="3.2"/><circle cx="532.3" cy="195.8" r="7.7" fill="#F7F6CE" stroke-width="3.2"/><path d="M601.2 214.0L610.4 229.9L592.0 229.9Z" fill="#F8E59C" stroke-width="3.2"/><circle cx="580.9" cy="214.5" r="7.7" fill="#F7F6CE" stroke-width="3.2"/><path d="M515.5 203.5L524.7 219.4L506.3 219.4Z" fill="#F7F6CE" stroke-width="3.2"/><path d="M552.0 175.5L561.2 191.4L542.8 191.4Z" fill="#7E1528" stroke-width="3.2"/><circle cx="532.1" cy="213.2" r="7.7" fill="#F7F6CE" stroke-width="3.2"/><circle cx="552.7" cy="153.0" r="7.7" fill="#F7F6CE" stroke-width="3.2"/><circle cx="602.4" cy="209.0" r="7.7" fill="#7E1528" stroke-width="3.2"/><path d="M521.0 203.1L530.2 219.0L511.8 219.0Z" fill="#F5D174" stroke-width="3.2"/><path d="M500.9 207.8L510.1 223.7L491.7 223.7Z" fill="#F2AC4C" stroke-width="3.2"/><path d="M515.7 132.9L524.9 148.8L506.5 148.8Z" fill="#F2AC4C" stroke-width="3.2"/><circle cx="527.7" cy="216.7" r="7.7" fill="#F8E59C" stroke-width="3.2"/><path d="M595.1 199.9L604.3 215.8L585.9 215.8Z" fill="#7E1528" stroke-width="3.2"/><path d="M492.8 177.6L502.0 193.5L483.6 193.5Z" fill="#F8E59C" stroke-width="3.2"/><circle cx="523.3" cy="203.3" r="7.7" fill="#F7F6CE" stroke-width="3.2"/><path d="M585.4 214.3L594.6 230.2L576.2 230.2Z" fill="#F8E59C" stroke-width="3.2"/><circle cx="500.2" cy="224.1" r="7.7" fill="#F7F6CE" stroke-width="3.2"/><path d="M561.6 216.0L570.8 231.9L552.4 231.9Z" fill="#F8E59C" stroke-width="3.2"/><circle cx="514.6" cy="165.0" r="7.7" fill="#F8E59C" stroke-width="3.2"/><path d="M555.5 130.7L564.7 146.6L546.3 146.6Z" fill="#EF8B3E" stroke-width="3.2"/><circle cx="507.8" cy="199.8" r="7.7" fill="#7E1528" stroke-width="3.2"/><circle cx="478.1" cy="173.2" r="7.7" fill="#F8E59C" stroke-width="3.2"/><circle cx="522.3" cy="142.4" r="7.7" fill="#F8E59C" stroke-width="3.2"/><path d="M523.9 220.5L533.1 236.4L514.7 236.4Z" fill="#F7F6CE" stroke-width="3.2"/><circle cx="577.8" cy="210.1" r="7.7" fill="#7E1528" stroke-width="3.2"/><path d="M480.3 200.5L489.5 216.4L471.1 216.4Z" fill="#F7F6CE" stroke-width="3.2"/><circle cx="475.4" cy="227.1" r="7.7" fill="#F8E59C" stroke-width="3.2"/><circle cx="476.4" cy="207.5" r="7.7" fill="#F7F6CE" stroke-width="3.2"/><circle cx="550.2" cy="229.0" r="7.7" fill="#F7F6CE" stroke-width="3.2"/><circle cx="549.3" cy="148.6" r="7.7" fill="#F7F6CE" stroke-width="3.2"/><path d="M482.0 176.1L491.2 192.0L472.8 192.0Z" fill="#F5D174" stroke-width="3.2"/><path d="M554.0 159.6L563.2 175.5L544.8 175.5Z" fill="#F5D174" stroke-width="3.2"/><circle cx="553.8" cy="211.7" r="7.7" fill="#F8E59C" stroke-width="3.2"/><circle cx="535.6" cy="181.1" r="7.7" fill="#F8E59C" stroke-width="3.2"/><circle cx="534.1" cy="177.0" r="7.7" fill="#F8E59C" stroke-width="3.2"/><circle cx="483.9" cy="242.7" r="7.7" fill="#EF8B3E" stroke-width="3.2"/><circle cx="551.4" cy="187.5" r="7.7" fill="#F8E59C" stroke-width="3.2"/><circle cx="578.4" cy="234.3" r="7.7" fill="#F7F6CE" stroke-width="3.2"/><circle cx="471.8" cy="175.9" r="7.7" fill="#7E1528" stroke-width="3.2"/><path d="M528.9 155.3L538.1 171.2L519.7 171.2Z" fill="#F7F6CE" stroke-width="3.2"/><path d="M570.5 227.9L579.7 243.8L561.3 243.8Z" fill="#7E1528" stroke-width="3.2"/><path d="M479.5 233.6L488.7 249.5L470.3 249.5Z" fill="#F5D174" stroke-width="3.2"/><path d="M508.6 177.8L517.8 193.7L499.4 193.7Z" fill="#F8E59C" stroke-width="3.2"/><circle cx="475.5" cy="195.1" r="7.7" fill="#F5D174" stroke-width="3.2"/><path d="M583.6 220.7L592.8 236.6L574.4 236.6Z" fill="#EF8B3E" stroke-width="3.2"/><circle cx="549.0" cy="222.1" r="7.7" fill="#F5D174" stroke-width="3.2"/><path d="M495.6 202.7L504.8 218.6L486.4 218.6Z" fill="#7E1528" stroke-width="3.2"/><path d="M528.0 137.0L537.2 152.9L518.8 152.9Z" fill="#7E1528" stroke-width="3.2"/><circle cx="471.7" cy="215.4" r="7.7" fill="#F7F6CE" stroke-width="3.2"/><circle cx="532.4" cy="210.6" r="7.7" fill="#7E1528" stroke-width="3.2"/><path d="M507.3 160.4L516.5 176.3L498.1 176.3Z" fill="#F7F6CE" stroke-width="3.2"/><path d="M522.3 157.1L531.5 173.0L513.1 173.0Z" fill="#F7F6CE" stroke-width="3.2"/><path d="M503.7 221.0L512.9 236.9L494.5 236.9Z" fill="#7E1528" stroke-width="3.2"/><circle cx="523.8" cy="176.3" r="7.7" fill="#F7F6CE" stroke-width="3.2"/><path d="M485.0 193.9L494.2 209.8L475.8 209.8Z" fill="#F8E59C" stroke-width="3.2"/><path d="M531.4 173.0L540.6 188.9L522.2 188.9Z" fill="#F5D174" stroke-width="3.2"/><circle cx="488.7" cy="195.4" r="7.7" fill="#F5D174" stroke-width="3.2"/><path d="M471.8 173.2L481.0 189.1L462.6 189.1Z" fill="#F7F6CE" stroke-width="3.2"/><path d="M507.8 199.0L517.0 214.9L498.6 214.9Z" fill="#F8E59C" stroke-width="3.2"/><path d="M549.4 149.8L558.6 165.7L540.2 165.7Z" fill="#F7F6CE" stroke-width="3.2"/><circle cx="467.9" cy="182.8" r="7.7" fill="#7E1528" stroke-width="3.2"/><circle cx="511.3" cy="236.9" r="7.7" fill="#F7F6CE" stroke-width="3.2"/><circle cx="547.8" cy="142.6" r="7.7" fill="#F8E59C" stroke-width="3.2"/><path d="M488.5 172.4L497.7 188.3L479.3 188.3Z" fill="#7E1528" stroke-width="3.2"/><path d="M535.6 154.4L544.8 170.3L526.4 170.3Z" fill="#F7F6CE" stroke-width="3.2"/><circle cx="506.6" cy="184.4" r="7.7" fill="#F5D174" stroke-width="3.2"/><circle cx="598.8" cy="213.6" r="7.7" fill="#7E1528" stroke-width="3.2"/><circle cx="484.1" cy="196.9" r="7.7" fill="#7E1528" stroke-width="3.2"/><circle cx="587.8" cy="215.3" r="7.7" fill="#F7F6CE" stroke-width="3.2"/><path d="M600.2 219.5L609.4 235.4L591.0 235.4Z" fill="#F8E59C" stroke-width="3.2"/><circle cx="560.8" cy="228.4" r="7.7" fill="#F8E59C" stroke-width="3.2"/><path d="M530.1 217.3L539.3 233.2L520.9 233.2Z" fill="#F8E59C" stroke-width="3.2"/><path d="M540.1 144.0L549.3 159.9L530.9 159.9Z" fill="#7E1528" stroke-width="3.2"/><path d="M560.1 195.9L569.3 211.8L550.9 211.8Z" fill="#F8E59C" stroke-width="3.2"/><circle cx="552.7" cy="202.6" r="7.7" fill="#F8E59C" stroke-width="3.2"/><path d="M471.1 215.6L480.3 231.5L461.9 231.5Z" fill="#F8E59C" stroke-width="3.2"/><path d="M538.5 212.9L547.7 228.8L529.3 228.8Z" fill="#F8E59C" stroke-width="3.2"/><path d="M539.6 209.2L548.8 225.1L530.4 225.1Z" fill="#F7F6CE" stroke-width="3.2"/><path d="M592.1 220.6L601.3 236.5L582.9 236.5Z" fill="#7E1528" stroke-width="3.2"/><circle cx="535.7" cy="133.5" r="7.7" fill="#F8E59C" stroke-width="3.2"/><path d="M485.0 178.0L494.2 193.9L475.8 193.9Z" fill="#F7F6CE" stroke-width="3.2"/><circle cx="511.3" cy="215.7" r="7.7" fill="#F8E59C" stroke-width="3.2"/><path d="M490.4 198.2L499.6 214.1L481.2 214.1Z" fill="#F7F6CE" stroke-width="3.2"/><path d="M495.4 163.7L504.6 179.6L486.2 179.6Z" fill="#F2AC4C" stroke-width="3.2"/><circle cx="518.4" cy="175.0" r="7.7" fill="#F5D174" stroke-width="3.2"/><path d="M526.1 126.1L535.3 142.0L516.9 142.0Z" fill="#F7F6CE" stroke-width="3.2"/><path d="M564.5 221.9L573.7 237.8L555.3 237.8Z" fill="#F7F6CE" stroke-width="3.2"/><circle cx="563.3" cy="207.3" r="7.7" fill="#F2AC4C" stroke-width="3.2"/><path d="M477.2 195.4L486.4 211.3L468.0 211.3Z" fill="#F7F6CE" stroke-width="3.2"/><circle cx="515.7" cy="147.6" r="7.7" fill="#F7F6CE" stroke-width="3.2"/><path d="M546.1 185.1L555.3 201.0L536.9 201.0Z" fill="#F8E59C" stroke-width="3.2"/><path d="M518.6 205.9L527.8 221.8L509.4 221.8Z" fill="#F8E59C" stroke-width="3.2"/><circle cx="550.7" cy="213.3" r="7.7" fill="#F8E59C" stroke-width="3.2"/><path d="M539.5 160.0L548.7 175.9L530.3 175.9Z" fill="#F8E59C" stroke-width="3.2"/><circle cx="505.5" cy="155.7" r="7.7" fill="#F8E59C" stroke-width="3.2"/><path d="M607.5 209.7L616.7 225.6L598.3 225.6Z" fill="#F8E59C" stroke-width="3.2"/><circle cx="540.9" cy="202.8" r="7.7" fill="#F7F6CE" stroke-width="3.2"/><circle cx="520.6" cy="224.1" r="7.7" fill="#F8E59C" stroke-width="3.2"/><path d="M571.3 234.0L580.5 249.9L562.1 249.9Z" fill="#F7F6CE" stroke-width="3.2"/><path d="M541.8 138.3L551.0 154.2L532.6 154.2Z" fill="#F8E59C" stroke-width="3.2"/><path d="M560.2 129.1L569.4 145.0L551.0 145.0Z" fill="#F8E59C" stroke-width="3.2"/><circle cx="486.9" cy="176.8" r="7.7" fill="#F7F6CE" stroke-width="3.2"/><path d="M519.2 228.7L528.4 244.6L510.0 244.6Z" fill="#F8E59C" stroke-width="3.2"/><path d="M532.8 219.0L542.0 234.9L523.6 234.9Z" fill="#F8E59C" stroke-width="3.2"/><circle cx="506.8" cy="192.6" r="7.7" fill="#F8E59C" stroke-width="3.2"/><path d="M536.0 202.3L545.2 218.2L526.8 218.2Z" fill="#F7F6CE" stroke-width="3.2"/><path d="M477.4 181.6L486.6 197.5L468.2 197.5Z" fill="#F8E59C" stroke-width="3.2"/><circle cx="503.5" cy="222.5" r="7.7" fill="#7E1528" stroke-width="3.2"/><path d="M571.9 200.6L581.1 216.5L562.7 216.5Z" fill="#F8E59C" stroke-width="3.2"/><circle cx="527.9" cy="168.5" r="7.7" fill="#F7F6CE" stroke-width="3.2"/><circle cx="559.5" cy="155.2" r="7.7" fill="#F8E59C" stroke-width="3.2"/><path d="M483.5 213.2L492.7 229.1L474.3 229.1Z" fill="#F7F6CE" stroke-width="3.2"/><circle cx="539.5" cy="173.5" r="7.7" fill="#F8E59C" stroke-width="3.2"/><circle cx="535.1" cy="141.8" r="7.7" fill="#F8E59C" stroke-width="3.2"/><path d="M546.2 199.3L555.4 215.2L537.0 215.2Z" fill="#F7F6CE" stroke-width="3.2"/><circle cx="581.7" cy="246.0" r="7.7" fill="#F7F6CE" stroke-width="3.2"/><path d="M555.7 184.7L564.9 200.6L546.5 200.6Z" fill="#F7F6CE" stroke-width="3.2"/><circle cx="512.9" cy="171.6" r="7.7" fill="#F2AC4C" stroke-width="3.2"/><circle cx="555.9" cy="172.4" r="7.7" fill="#F8E59C" stroke-width="3.2"/><circle cx="567.9" cy="215.2" r="7.7" fill="#F8E59C" stroke-width="3.2"/><circle cx="518.2" cy="229.7" r="7.7" fill="#F7F6CE" stroke-width="3.2"/><path d="M496.0 173.5L505.2 189.4L486.8 189.4Z" fill="#F7F6CE" stroke-width="3.2"/><circle cx="545.4" cy="182.5" r="7.7" fill="#F7F6CE" stroke-width="3.2"/><path d="M499.6 192.1L508.8 208.0L490.4 208.0Z" fill="#F7F6CE" stroke-width="3.2"/><path d="M524.3 188.0L533.5 203.9L515.1 203.9Z" fill="#F7F6CE" stroke-width="3.2"/><path d="M479.8 226.1L489.0 242.0L470.6 242.0Z" fill="#F7F6CE" stroke-width="3.2"/><path d="M520.9 179.7L530.1 195.6L511.7 195.6Z" fill="#7E1528" stroke-width="3.2"/><path d="M518.0 194.0L527.2 209.9L508.8 209.9Z" fill="#F2AC4C" stroke-width="3.2"/><path d="M534.7 196.1L543.9 212.0L525.5 212.0Z" fill="#F7F6CE" stroke-width="3.2"/><path d="M476.2 208.0L485.4 223.9L467.0 223.9Z" fill="#F7F6CE" stroke-width="3.2"/><path d="M591.4 213.1L600.6 229.0L582.2 229.0Z" fill="#F7F6CE" stroke-width="3.2"/><circle cx="585.1" cy="236.2" r="7.7" fill="#EF8B3E" stroke-width="3.2"/><path d="M538.5 188.6L547.7 204.5L529.3 204.5Z" fill="#F2AC4C" stroke-width="3.2"/><circle cx="512.2" cy="160.3" r="7.7" fill="#F7F6CE" stroke-width="3.2"/><path d="M521.7 170.5L530.9 186.4L512.5 186.4Z" fill="#7E1528" stroke-width="3.2"/><path d="M496.7 205.7L505.9 221.6L487.5 221.6Z" fill="#F7F6CE" stroke-width="3.2"/><path d="M528.0 134.5L537.2 150.4L518.8 150.4Z" fill="#F7F6CE" stroke-width="3.2"/><circle cx="487.1" cy="214.6" r="7.7" fill="#F7F6CE" stroke-width="3.2"/><circle cx="470.8" cy="189.2" r="7.7" fill="#F8E59C" stroke-width="3.2"/><path d="M559.9 152.9L569.1 168.8L550.7 168.8Z" fill="#F8E59C" stroke-width="3.2"/><path d="M496.0 223.7L505.2 239.6L486.8 239.6Z" fill="#F7F6CE" stroke-width="3.2"/><path d="M523.6 180.9L532.8 196.8L514.4 196.8Z" fill="#F8E59C" stroke-width="3.2"/><circle cx="587.9" cy="245.3" r="7.7" fill="#F2AC4C" stroke-width="3.2"/><path d="M558.4 125.7L567.6 141.6L549.2 141.6Z" fill="#F7F6CE" stroke-width="3.2"/><path d="M496.2 192.6L505.4 208.5L487.0 208.5Z" fill="#F5D174" stroke-width="3.2"/><path d="M520.6 147.6L529.8 163.5L511.4 163.5Z" fill="#F8E59C" stroke-width="3.2"/><circle cx="536.6" cy="191.3" r="7.7" fill="#F8E59C" stroke-width="3.2"/><circle cx="580.2" cy="224.0" r="7.7" fill="#F8E59C" stroke-width="3.2"/><path d="M470.2 192.3L479.4 208.2L461.0 208.2Z" fill="#F8E59C" stroke-width="3.2"/><circle cx="488.4" cy="225.2" r="7.7" fill="#F8E59C" stroke-width="3.2"/><circle cx="499.4" cy="197.4" r="7.7" fill="#F2AC4C" stroke-width="3.2"/><circle cx="559.4" cy="215.5" r="7.7" fill="#7E1528" stroke-width="3.2"/><path d="M545.1 162.2L554.3 178.1L535.9 178.1Z" fill="#F7F6CE" stroke-width="3.2"/><path d="M570.9 214.9L580.1 230.8L561.7 230.8Z" fill="#F8E59C" stroke-width="3.2"/><circle cx="552.0" cy="172.8" r="7.7" fill="#F2AC4C" stroke-width="3.2"/><circle cx="504.6" cy="190.1" r="7.7" fill="#F8E59C" stroke-width="3.2"/><circle cx="573.7" cy="227.3" r="7.7" fill="#F7F6CE" stroke-width="3.2"/><circle cx="519.5" cy="163.3" r="7.7" fill="#F7F6CE" stroke-width="3.2"/><path d="M543.3 154.0L552.5 169.9L534.1 169.9Z" fill="#F8E59C" stroke-width="3.2"/><path d="M556.2 139.6L565.4 155.5L547.0 155.5Z" fill="#F7F6CE" stroke-width="3.2"/><path d="M553.2 215.3L562.4 231.2L544.0 231.2Z" fill="#F7F6CE" stroke-width="3.2"/><path d="M529.8 143.2L539.0 159.1L520.6 159.1Z" fill="#F8E59C" stroke-width="3.2"/><path d="M496.9 228.1L506.1 244.0L487.7 244.0Z" fill="#F7F6CE" stroke-width="3.2"/><circle cx="685.6" cy="187.5" r="7.7" fill="#F7F6CE" stroke-width="3.2"/><circle cx="726.8" cy="188.7" r="7.7" fill="#F7F6CE" stroke-width="3.2"/><circle cx="685.3" cy="223.1" r="7.7" fill="#F5D174" stroke-width="3.2"/><circle cx="718.1" cy="188.7" r="7.7" fill="#F5D174" stroke-width="3.2"/><circle cx="679.1" cy="235.9" r="7.7" fill="#F7F6CE" stroke-width="3.2"/><circle cx="720.5" cy="256.7" r="7.7" fill="#7E1528" stroke-width="3.2"/><circle cx="708.1" cy="255.2" r="7.7" fill="#7E1528" stroke-width="3.2"/><circle cx="734.2" cy="247.7" r="7.7" fill="#F7F6CE" stroke-width="3.2"/><circle cx="715.8" cy="248.9" r="7.7" fill="#F7F6CE" stroke-width="3.2"/><path d="M685.7 238.4L694.9 254.3L676.5 254.3Z" fill="#F7F6CE" stroke-width="3.2"/><circle cx="675.0" cy="228.3" r="7.7" fill="#F7F6CE" stroke-width="3.2"/><circle cx="689.9" cy="239.4" r="7.7" fill="#F7F6CE" stroke-width="3.2"/><circle cx="725.6" cy="256.1" r="7.7" fill="#F7F6CE" stroke-width="3.2"/><circle cx="754.8" cy="194.1" r="7.7" fill="#F8E59C" stroke-width="3.2"/><circle cx="710.9" cy="192.5" r="7.7" fill="#F8E59C" stroke-width="3.2"/><circle cx="734.6" cy="194.9" r="7.7" fill="#F7F6CE" stroke-width="3.2"/><circle cx="753.7" cy="247.9" r="7.7" fill="#F7F6CE" stroke-width="3.2"/><circle cx="675.4" cy="197.2" r="7.7" fill="#F7F6CE" stroke-width="3.2"/><circle cx="680.4" cy="192.2" r="7.7" fill="#F5D174" stroke-width="3.2"/><circle cx="671.6" cy="212.2" r="7.7" fill="#F5D174" stroke-width="3.2"/><path d="M756.5 246.8L765.7 262.7L747.3 262.7Z" fill="#F8E59C" stroke-width="3.2"/><circle cx="675.3" cy="223.2" r="7.7" fill="#F8E59C" stroke-width="3.2"/><circle cx="678.4" cy="202.9" r="7.7" fill="#7E1528" stroke-width="3.2"/><circle cx="694.9" cy="197.6" r="7.7" fill="#7E1528" stroke-width="3.2"/><circle cx="736.1" cy="255.9" r="7.7" fill="#F5D174" stroke-width="3.2"/><circle cx="746.2" cy="253.3" r="7.7" fill="#F8E59C" stroke-width="3.2"/><circle cx="692.7" cy="249.2" r="7.7" fill="#F8E59C" stroke-width="3.2"/><circle cx="703.4" cy="245.0" r="7.7" fill="#F7F6CE" stroke-width="3.2"/><circle cx="697.7" cy="204.9" r="7.7" fill="#F7F6CE" stroke-width="3.2"/><circle cx="699.3" cy="187.6" r="7.7" fill="#F8E59C" stroke-width="3.2"/><circle cx="740.7" cy="248.6" r="7.7" fill="#7E1528" stroke-width="3.2"/><circle cx="704.5" cy="197.2" r="7.7" fill="#F7F6CE" stroke-width="3.2"/><circle cx="727.5" cy="202.7" r="7.7" fill="#F7F6CE" stroke-width="3.2"/><circle cx="676.1" cy="189.0" r="7.7" fill="#F7F6CE" stroke-width="3.2"/><circle cx="725.8" cy="192.4" r="7.7" fill="#F8E59C" stroke-width="3.2"/><circle cx="687.2" cy="200.7" r="7.7" fill="#F8E59C" stroke-width="3.2"/><circle cx="725.0" cy="247.1" r="7.7" fill="#F8E59C" stroke-width="3.2"/><circle cx="741.6" cy="195.5" r="7.7" fill="#F8E59C" stroke-width="3.2"/><circle cx="683.8" cy="214.4" r="7.7" fill="#F7F6CE" stroke-width="3.2"/><circle cx="680.8" cy="232.1" r="7.7" fill="#F7F6CE" stroke-width="3.2"/><path d="M700.3 244.4L709.5 260.3L691.1 260.3Z" fill="#F8E59C" stroke-width="3.2"/><circle cx="157.6" cy="144.6" r="7.7" fill="#7E1528"/><circle cx="164.4" cy="155.9" r="7.7" fill="#F2AC4C"/><circle cx="173.5" cy="141.2" r="7.7" fill="#F7F6CE"/><circle cx="177.5" cy="164.0" r="7.7" fill="#F7F6CE"/><circle cx="179.7" cy="157.0" r="7.7" fill="#F8E59C"/><circle cx="162.1" cy="168.4" r="7.7" fill="#F7F6CE"/><circle cx="196.8" cy="158.0" r="7.7" fill="#F8E59C"/><path d="M197.3 141.7L206.5 157.6L188.1 157.6Z" fill="#F7F6CE"/><path d="M199.6 123.8L208.8 139.7L190.4 139.7Z" fill="#F8E59C"/><circle cx="221.7" cy="158.2" r="7.7" fill="#7E1528"/><circle cx="221.2" cy="139.5" r="7.7" fill="#F8E59C"/><circle cx="234.2" cy="136.6" r="7.7" fill="#F7F6CE"/><circle cx="251.8" cy="144.0" r="7.7" fill="#F8E59C"/><circle cx="264.9" cy="142.3" r="7.7" fill="#F7F6CE"/><circle cx="242.2" cy="159.3" r="7.7" fill="#F8E59C"/><circle cx="258.1" cy="155.9" r="7.7" fill="#F7F6CE"/><circle cx="208.7" cy="168.4" r="7.7" fill="#F5D174"/><circle cx="278.5" cy="160.5" r="7.7" fill="#F2AC4C"/><circle cx="292.1" cy="165.0" r="7.7" fill="#D62323"/><circle cx="268.3" cy="170.7" r="7.7" fill="#F7F6CE"/><circle cx="236.5" cy="175.2" r="7.7" fill="#E95235"/><circle cx="255.8" cy="177.5" r="7.7" fill="#F2AC4C"/><circle cx="297.8" cy="179.8" r="7.7" fill="#F8E59C"/><circle cx="316.0" cy="178.6" r="7.7" fill="#F7F6CE"/><circle cx="317.1" cy="188.8" r="7.7" fill="#F7F6CE"/><circle cx="330.0" cy="177.5" r="7.7" fill="#F7F6CE"/><circle cx="337.0" cy="177.5" r="7.7" fill="#7E1528"/><circle cx="337.5" cy="194.5" r="7.7" fill="#F2AC4C"/><circle cx="333.0" cy="203.6" r="7.7" fill="#F7F6CE"/><circle cx="327.3" cy="207.5" r="7.7" fill="#F8E59C"/><path d="M314.8 199.7L324.0 215.6L305.6 215.6Z" fill="#F8E59C"/><circle cx="204.1" cy="201.3" r="7.7" fill="#E95235"/><circle cx="225.2" cy="211.0" r="7.7" fill="#F8E59C"/><path d="M245.0 199.2L254.2 215.1L235.8 215.1Z" fill="#F8E59C"/><path d="M278.0 191.3L287.2 207.2L268.8 207.2Z" fill="#F7F6CE"/><path d="M192.2 222.7L201.4 238.6L183.0 238.6Z" fill="#F8E59C"/><path d="M192.2 217.7L201.4 233.6L183.0 233.6Z" fill="#F7F6CE"/><path d="M192.2 212.9L201.4 228.8L183.0 228.8Z" fill="#F7F6CE"/><path d="M266.0 212.9L275.2 228.8L256.8 228.8Z" fill="#F2AC4C"/><path d="M295.5 218.5L304.7 234.4L286.3 234.4Z" fill="#F8E59C"/><path d="M279.6 221.9L288.8 237.8L270.4 237.8Z" fill="#E95235"/><circle cx="226.3" cy="236.0" r="7.7" fill="#F7F6CE"/><path d="M247.3 229.9L256.5 245.8L238.1 245.8Z" fill="#F7F6CE"/><path d="M245.0 244.7L254.2 260.6L235.8 260.6Z" fill="#F2AC4C"/><path d="M280.2 245.2L289.4 261.1L271.0 261.1Z" fill="#E95235"/><circle cx="282.0" cy="261.0" r="7.7" fill="#F7F6CE"/><circle cx="196.8" cy="248.4" r="7.7" fill="#F7F6CE"/><circle cx="225.7" cy="253.0" r="7.7" fill="#7E1528"/><circle cx="236.5" cy="264.3" r="7.7" fill="#F2AC4C"/><circle cx="223.4" cy="270.0" r="7.7" fill="#F7F6CE"/><circle cx="217.2" cy="284.7" r="7.7" fill="#E95235"/><circle cx="237.6" cy="283.6" r="7.7" fill="#7E1528"/><circle cx="251.8" cy="292.7" r="7.7" fill="#F8E59C"/><circle cx="509.4" cy="155.5" r="7.7" fill="#F8E59C"/><circle cx="520.8" cy="150.9" r="7.7" fill="#F8E59C"/><path d="M531.6 128.9L540.8 144.8L522.4 144.8Z" fill="#F7F6CE"/><circle cx="556.7" cy="136.0" r="7.7" fill="#7E1528"/><circle cx="559.6" cy="148.6" r="7.7" fill="#7E1528"/><circle cx="555.0" cy="157.7" r="7.7" fill="#F7F6CE"/><circle cx="533.9" cy="163.4" r="7.7" fill="#F8E59C"/><path d="M479.7 172.7L488.9 188.6L470.5 188.6Z" fill="#7E1528"/><path d="M479.7 167.7L488.9 183.6L470.5 183.6Z" fill="#F2AC4C"/><path d="M507.0 174.5L516.2 190.4L497.8 190.4Z" fill="#7E1528"/><path d="M550.5 164.3L559.7 180.2L541.3 180.2Z" fill="#7E1528"/><path d="M524.2 170.0L533.4 185.9L515.0 185.9Z" fill="#F8E59C"/><path d="M512.2 188.2L521.4 204.1L503.0 204.1Z" fill="#F8E59C"/><path d="M529.9 186.0L539.1 201.9L520.7 201.9Z" fill="#D62323"/><circle cx="551.6" cy="194.3" r="7.7" fill="#EF8B3E"/><circle cx="479.7" cy="209.1" r="7.7" fill="#F8E59C"/><path d="M493.4 204.2L502.6 220.1L484.2 220.1Z" fill="#F7F6CE"/><path d="M528.8 204.2L538.0 220.1L519.6 220.1Z" fill="#7E1528"/><circle cx="540.2" cy="209.1" r="7.7" fill="#F7F6CE"/><path d="M550.5 207.7L559.7 223.6L541.3 223.6Z" fill="#F8E59C"/><path d="M566.4 205.4L575.6 221.3L557.2 221.3Z" fill="#EF8B3E"/><circle cx="581.3" cy="213.7" r="7.7" fill="#7E1528"/><circle cx="608.7" cy="211.4" r="7.7" fill="#7E1528"/><circle cx="598.4" cy="216.0" r="7.7" fill="#D62323"/><circle cx="480.3" cy="229.7" r="7.7" fill="#EF8B3E"/><circle cx="501.4" cy="236.5" r="7.7" fill="#F8E59C"/><path d="M514.5 220.2L523.7 236.1L505.3 236.1Z" fill="#F7F6CE"/><circle cx="531.0" cy="228.5" r="7.7" fill="#F8E59C"/><circle cx="550.5" cy="229.7" r="7.7" fill="#F7F6CE"/><circle cx="569.9" cy="229.7" r="7.7" fill="#F8E59C"/><circle cx="585.8" cy="227.4" r="7.7" fill="#F8E59C"/><circle cx="584.7" cy="253.6" r="7.7" fill="#F7F6CE"/><path d="M585.3 232.8L594.5 248.7L576.1 248.7Z" fill="#F7F6CE"/><circle cx="613.2" cy="139.5" r="7.7" fill="#F8E59C"/><circle cx="614.0" cy="139.8" r="7.7" fill="#F8E59C"/><circle cx="626.5" cy="142.0" r="7.7" fill="#F7F6CE"/><circle cx="692.8" cy="133.2" r="7.7" fill="#F8E59C"/><circle cx="684.7" cy="130.2" r="7.7" fill="#F5D174"/><circle cx="742.1" cy="144.2" r="7.7" fill="#F8E59C"/><circle cx="767.9" cy="159.7" r="7.7" fill="#F7F6CE"/><circle cx="762.7" cy="156.7" r="7.7" fill="#F5D174"/><circle cx="776.7" cy="132.4" r="7.7" fill="#D62323"/><circle cx="808.4" cy="137.6" r="7.7" fill="#F7F6CE"/><circle cx="711.9" cy="178.8" r="7.7" fill="#7E1528"/><circle cx="720.8" cy="177.4" r="7.7" fill="#E95235"/><circle cx="688.4" cy="187.7" r="7.7" fill="#F7F6CE"/><circle cx="698.7" cy="189.1" r="7.7" fill="#F8E59C"/><circle cx="722.2" cy="189.1" r="7.7" fill="#F8E59C"/><circle cx="756.1" cy="193.6" r="7.7" fill="#F5D174"/><circle cx="743.6" cy="191.3" r="7.7" fill="#F8E59C"/><circle cx="731.1" cy="200.9" r="7.7" fill="#F7F6CE"/><circle cx="706.0" cy="208.3" r="7.7" fill="#F7F6CE"/><circle cx="720.8" cy="209.8" r="7.7" fill="#7E1528"/><circle cx="686.9" cy="212.7" r="7.7" fill="#F5D174"/><circle cx="669.2" cy="218.6" r="7.7" fill="#F7F6CE"/><circle cx="675.1" cy="233.3" r="7.7" fill="#F8E59C"/><circle cx="731.0" cy="230.0" r="7.7" fill="#F7F6CE"/><circle cx="739.9" cy="224.5" r="7.7" fill="#7E1528"/><circle cx="692.0" cy="246.0" r="7.7" fill="#F7F6CE"/><circle cx="728.0" cy="248.0" r="7.7" fill="#F7F6CE"/><circle cx="738.4" cy="256.9" r="7.7" fill="#7E1528"/><path d="M704.6 239.7L713.8 255.6L695.4 255.6Z" fill="#F8E59C"/><path d="M717.8 245.7L727.0 261.6L708.6 261.6Z" fill="#F7F6CE"/><circle cx="742.1" cy="243.6" r="7.7" fill="#F8E59C"/><circle cx="750.2" cy="253.2" r="7.7" fill="#F5D174"/><circle cx="769.4" cy="236.3" r="7.7" fill="#F8E59C"/><circle cx="778.9" cy="238.5" r="7.7" fill="#F5D174"/><circle cx="826.8" cy="186.2" r="7.7" fill="#F7F6CE"/><circle cx="834.9" cy="202.4" r="7.7" fill="#F8E59C"/><circle cx="848.2" cy="209.8" r="7.7" fill="#EF8B3E"/><path d="M846.0 160.2L855.2 176.1L836.8 176.1Z" fill="#F7F6CE"/><path d="M851.0 167.7L860.2 183.6L841.8 183.6Z" fill="#EF8B3E"/><path d="M853.3 173.5L862.5 189.4L844.1 189.4Z" fill="#F5D174"/><circle cx="814.3" cy="224.5" r="7.7" fill="#7E1528"/><circle cx="829.0" cy="236.3" r="7.7" fill="#F8E59C"/><circle cx="829.0" cy="249.5" r="7.7" fill="#F8E59C"/><circle cx="802.5" cy="252.5" r="7.7" fill="#F8E59C"/><circle cx="809.9" cy="267.2" r="7.7" fill="#7E1528"/><circle cx="812.1" cy="289.3" r="7.7" fill="#F8E59C"/><circle cx="765.0" cy="290.8" r="7.7" fill="#7E1528"/><circle cx="767.9" cy="274.6" r="7.7" fill="#F8E59C"/><path d="M755.4 272.1L764.6 288.0L746.2 288.0Z" fill="#7E1528"/><circle cx="757.6" cy="296.6" r="7.7" fill="#F8E59C"/><circle cx="781.9" cy="305.5" r="7.7" fill="#F5D174"/><path d="M698.7 298.7L707.9 314.6L689.5 314.6Z" fill="#F8E59C"/><path d="M351.4 332.1L360.6 348.0L342.2 348.0Z" fill="#F8E59C"/><path d="M324.2 417.5L333.4 433.4L315.0 433.4Z" fill="#F7F6CE"/><path d="M324.2 410.9L333.4 426.8L315.0 426.8Z" fill="#F7F6CE"/><path d="M324.9 398.4L334.1 414.3L315.7 414.3Z" fill="#F7F6CE"/><circle cx="310.2" cy="436.8" r="7.7" fill="#F8E59C"/><path d="M316.1 430.0L325.3 445.9L306.9 445.9Z" fill="#F7F6CE"/><path d="M329.3 433.7L338.5 449.6L320.1 449.6Z" fill="#7E1528"/><path d="M318.3 459.5L327.5 475.4L309.1 475.4Z" fill="#F5D174"/><path d="M315.3 453.7L324.5 469.6L306.1 469.6Z" fill="#F7F6CE"/><path d="M315.3 447.7L324.5 463.6L306.1 463.6Z" fill="#7E1528"/><path d="M322.0 470.5L331.2 486.4L312.8 486.4Z" fill="#F8E59C"/><path d="M330.1 492.6L339.3 508.5L320.9 508.5Z" fill="#7E1528"/><path d="M353.6 494.8L362.8 510.7L344.4 510.7Z" fill="#7E1528"/><path d="M343.3 496.3L352.5 512.2L334.1 512.2Z" fill="#F2AC4C"/><path d="M591.8 332.1L601.0 348.0L582.6 348.0Z" fill="#F8E59C"/><path d="M565.8 385.2L575.0 401.1L556.6 401.1Z" fill="#F7F6CE"/><circle cx="542.9" cy="440.3" r="7.7" fill="#7E1528"/><path d="M788.5 351.9L797.7 367.8L779.3 367.8Z" fill="#F8E59C"/><path d="M803.0 351.9L812.2 367.8L793.8 367.8Z" fill="#7E1528"/><path d="M821.8 344.6L831.0 360.5L812.6 360.5Z" fill="#7E1528"/><circle cx="859.2" cy="466.4" r="7.7" fill="#F5D174"/><circle cx="850.9" cy="473.6" r="7.7" fill="#F8E59C"/><path d="M849.9 457.0L859.1 472.9L840.7 472.9Z" fill="#F8E59C"/><circle cx="931.0" cy="446.0" r="7.7" fill="#F7F6CE"/><circle cx="938.0" cy="462.0" r="7.7" fill="#F8E59C"/><circle cx="933.1" cy="454.9" r="7.7" fill="#F7F6CE"/><circle cx="918.0" cy="466.0" r="7.7" fill="#F5D174"/><circle cx="892.5" cy="486.1" r="7.7" fill="#F8E59C"/><circle cx="903.0" cy="484.0" r="7.7" fill="#F8E59C"/><path d="M911.3 461.2L920.5 477.1L902.1 477.1Z" fill="#F5D174"/><path d="M894.6 470.5L903.8 486.4L885.4 486.4Z" fill="#F5D174"/></g><rect x="80.00" y="557.20" width="91.30" height="28.60" fill="#F7F6CE"/><rect x="171.00" y="557.20" width="91.30" height="28.60" fill="#F8E59C"/><rect x="262.00" y="557.20" width="91.30" height="28.60" fill="#F5D174"/><rect x="353.00" y="557.20" width="91.30" height="28.60" fill="#F2AC4C"/><rect x="444.00" y="557.20" width="91.30" height="28.60" fill="#EF8B3E"/><rect x="535.00" y="557.20" width="91.30" height="28.60" fill="#E95235"/><rect x="626.00" y="557.20" width="91.30" height="28.60" fill="#D62323"/><rect x="717.00" y="557.20" width="91.30" height="28.60" fill="#B21C2B"/><rect x="808.00" y="557.20" width="91.30" height="28.60" fill="#7E1528"/><rect x="80.00" y="557.20" width="819.00" height="28.60" fill="none" stroke="#3a3a3a" stroke-width="1.7"/><line x1="171.0" y1="585.8" x2="171.0" y2="577.8" stroke="#3a3a3a" stroke-width="1.3"/><line x1="353.0" y1="585.8" x2="353.0" y2="577.8" stroke="#3a3a3a" stroke-width="1.3"/><line x1="535.0" y1="585.8" x2="535.0" y2="577.8" stroke="#3a3a3a" stroke-width="1.3"/><line x1="717.0" y1="585.8" x2="717.0" y2="577.8" stroke="#3a3a3a" stroke-width="1.3"/><line x1="853.5" y1="585.8" x2="853.5" y2="577.8" stroke="#3a3a3a" stroke-width="1.3"/><g font-size="38.5" fill="#404040" text-anchor="middle"><text x="80.0" y="644">0</text><text x="171.0" y="644">5</text><text x="353.0" y="644">15</text><text x="535.0" y="644">25</text><text x="717.0" y="644">35</text><text x="853.5" y="644">&gt;40</text></g><text transform="translate(907.0 591) scale(1 1.03)" font-size="42.5" fill="#000">Rt</text></g><g transform="translate(1135.6 709.5)"><text transform="translate(499.3 41.6) scale(1 1.065)" font-size="43.4" text-anchor="middle" fill="#000">Mean resilience in WS drought</text><text transform="translate(0.6 36.6) scale(0.97 1.06)" font-size="46" font-weight="bold" fill="#000">d</text><path d="M197.6 131.4l2.7-0.2 -1 0.9 1.8 0 1.7 0.4 1-0.2 1.1 0.3 2.3 0.2 0.1-0.1 0.9 1 3.5-0.8 -0.9 1 3.1-0.6 -0.1 0.4 2.9 0.1 -0.8 1 2.4-0.7 1.5 0.3 3.2-0.2 -0.7 1.2 1.7-0.2 0.5 0.4 0.3 1.6 2.3-0.2 0.7 0.2 3.7-0.7 0-0.2 3.7-0.4 2.3 0.1 1.6-1.2 1 0.2 2.7-0.8 1.6 0.4 2.9-0.2 1.6-0.3 -0.2 0.9 3.4-0.4 0.5 1.3 0.6 0 3.1 0.1 1.8 0.1 2 0 0.3 0.3 1.4 0 1.5 0.3 1.2 0.4 0.3 0.3 3.3-0.6 0.2 1.1 2.1-0.5 2.5-0.2 1.6 0.5 1.3 0.2 -0.4 1.2 1.5 0.6 1.1 0 3.1-0.8 1.7 0.2 1.9-0.3 0.6-0.4 1.7 0 3.3-0.3 -0.2 1.5 1.5-0.4 2-0.3 0.3 0.5 0.5 1 2.8-0.2 2.9-0.1 2.1-0.1 2-1 2.1-2.4 2.3-1.8 4.9-2 1.6-1.9 -0.4 3.7 0.7 1.6 1.6-0.1 0.4 1.1 1.7 0.6 1.8-0.5 1.4 1.1 1.1-0.5 4.7-2 2.9 0.3 0-0.2 3.3-0.6 0.2 2.1 -2.3 3.5 -3.9 1 -2.6 1.1 -1.3 0.5 -4.4 2.4 -3.3 2.9 -3.4 1.4 -2.3 0.9 -2.4 0.4 -3 0.9 -2.9 2 -2.1 1.2 -5.1 2.7 -1.8 2.5 -3.1 3.1 0.5 4.2 2.4 0.8 2-0.3 1.3 0.9 0.9 0.8 2.9 1.3 1.1 0.8 1.3 0.8 2 1.1 1.6 0.7 2 0 2 0.2 -1.2 2.9 -1.1 2.9 1.2 4.3 3.5 0 1.3-2.4 1.3-2.4 1.4-2.4 3.5-2.9 3.4-2.8 1.6-2.7 2.5-3 0.3-2.6 -0.5-3 2.2-2.7 2.5-3.6 2.1 0.2 0.6 0.1 2.5-0.6 2 0.6 1.1 1.3 1.9 0.4 1.5 1.5 0.5 2.7 -0.1 2.9 2.1 0.8 1.5 0.6 2.4-1.6 1.6-0.9 3.4-1.7 1.5-0.8 0.1 2.8 1.2 2.5 0.5 2.5 0.5 4.3 1.9 1.3 0.4 1.6 1.6 1.3 1.1 1.9 1.2 2 1.2 1.9 -4.4 2.9 -2.3 1.3 -2.4 1.2 -2.3 1.3 -1.9 0 -1.9 0 -1.8 0 -1.9 0 -1.8 0 -2 0.2 -2 0.2 -2 0.2 -2.6 1.6 -2.6 1.7 -2.5 1.7 -3.2 2.2 -3.1 2.2 3-2 3.1-1.9 3.1-2 2 0 2.1 0 2 0 2.1 0 -2.1 2.7 -0.3 2.5 -0.2 2.5 2.2 0.6 2.2 0.6 2.2 0.6 4-1.2 -4.3 2.4 -2.7 1 -2.7 1 -2.4 1 -2.3 1 -2.3 1 1.2-3.8 -3.9 0.8 -2.2 0.8 -2.3 0.8 -2.3 0.8 -2.8 3.3 0.9 2.7 -4.1 1.2 -2.2 0.7 -2.3 0.7 -2.3 0.7 -1 3.3 -3 1.8 -3 1.8 -0.4 4 -0.5 2.7 -0.4 2.7 -4.3 1.8 -2.9 1.7 -3 1.7 -4.8 3.9 -1.8 2.6 -1.7 2.5 0.2 2.6 0.3 2.5 0.2 2.5 0.5 4.6 -1.7 3.9 -2-0.3 -1.4-4.2 -1.1-4 -0.1-3 -1.9-3 -2.5-0.6 -2.4-0.7 -2.5-0.1 -2.6-0.2 -4.2 1.6 -0.1 2.7 -3.1 0 -2-0.6 -2-0.6 -2-0.6 -4 0.6 -2.6 1.7 -2.5 1.7 -2.6 1.7 -1 2.7 -0.9 2.8 -1.1 3 -1.1 3 -0.5 3.1 -0.5 3 0.7 4.5 2.5 4.3 3.6 2.7 2.2-0.4 2.3-0.4 2.2-0.4 2.8-1.2 2.2-4.6 1.4-2.4 2.7-0.2 2.6-0.2 2.7-0.2 -1.9 4.5 -1.9 4.6 -1.4 4.5 -1.7 3.7 2.4-0.2 2.4-0.1 2.6 0 2.6 0 2.2 1.3 2.1 1.4 -0.5 3 -0.4 3 -0.4 3.1 -0.8 3 2.9 4.5 3.9 2.2 4.1-2.2 2.6 1.4 2.6 1.4 1.9 0 1.8-2.9 1.9-2.9 2.8-1.2 2.7-1.2 2.4-1.7 2.4-1.6 1.9 2.7 2.8-2.1 2.5 2.4 2.5 2.4 2.7 0.5 2.6 0.5 2.7 0.5 2.2-0.5 2.3-0.5 2.2-0.5 3.9 1.8 2.5 4.6 2.6 2.2 2.6 2.3 2.6 1 2.7 1 2.6 1 2.2 1 2.2 1.1 2.2 1 4 3 1.2 3.3 1.3 3.3 0 2.8 0 2.7 4 3.6 2.4 0.3 2.3 0.2 2.4 0.2 2.3 0.2 2.2 0.8 2.1 0.8 2.2 0.8 2.1 0.8 2.2 0.8 2.2 1 2.3 1 2.2 1 2.2 1.3 2.2 1.3 2.3 1.3 2.2 1.3 0.2 2.5 0.2 2.5 0.3 2.5 -1.7 3.1 -1.7 3 -1.7 3 -1.9 3 -1.9 3.1 -0.2 2.4 -0.1 2.4 -0.2 2.4 -0.1 2.5 -0.2 2.4 -0.7 3 -0.7 3 -0.7 3.1 -1.1 3 -1.2 3 -2.5 1.5 -2.5 1.5 -2.5 1.3 -2.5 1.2 -2.1 1.2 -2.1 1.2 -2.1 1.2 -0.6 2.5 -0.6 2.5 -0.6 2.6 -2 4.5 -1.6 3 -1.5 3.1 -1.3 2.5 -1.3 2.5 -1.3 2.5 -1.8 4 -2.5 0.1 -2.5 0.2 -3.5 1.8 2.2 4.5 -1.5 4.6 -1.9 0.3 -1.9 0.3 -1.9 0.3 -2 0.3 -1.9 0.3 0.3 2.7 0.4 2.7 -2.2 0.2 -2.1 0.2 -2.2 0.2 1.3 4.5 2.9 1.5 -0.9 3 -0.9 2.9 -1.8 2 -1.7 1.9 5 4.4 -1.5 3.3 -1.5 3.2 0.1 4.4 2.4 2.6 -2.9 1.7 5.1 3.8 2.6 1 2.7 1 -2.7 1.4 -2.4-0.4 -2.5-0.4 -3-1.7 -3-1.8 -3.3-2.1 -3.2-2.2 -2.2-2.4 -2.3-2.4 -2.2-2.5 -0.4-2.9 -0.4-3 -0.3-2.9 -0.5-3 -0.5-3 -0.4-2.9 -0.5-3 -2-4.5 -0.5-2.6 -0.5-2.7 -0.5-2.6 -0.4-2.7 0-2.5 0.1-2.5 0-2.5 0.1-2.5 0.2-2.5 0.1-2.6 -0.7-3 -0.6-3 -0.6-3.1 0.3-3 0.3-3 0.4-3 -0.2-2.5 -0.2-2.4 -0.2-2.4 -0.1-2.4 -0.2-2.5 -0.3-2.7 -0.4-2.7 -0.3-2.7 -0.3-2.8 -0.4-2.7 -3.5-3.9 -2.5-1.3 -2.4-1.3 -2.5-1.3 -2.4-1.3 -2-3 -2-3 -1.8-3 -1.8-3.1 -1.2-2.6 -1.1-2.7 -1.2-2.6 -1.1-2.7 -3.1-3 -3-3 0.2-2.6 0.1-2.6 1.8-2.7 -0.3-3.6 -0.3-3.7 0.6-2.7 0.7-2.7 2.7-2.4 1.4-3.7 3.3-3.6 0.1-2.5 0.1-2.6 0.1-2.5 -1.8-3 -0.7-2.4 -2.3 1.2 -2.3 1.2 -2.6-1.5 -2.7-0.5 -2.6-0.4 -2.2-1.7 -2.1-1.8 -2.1-1.7 -0.6-3 -2-2.9 -2.1-2.9 -2.5-0.9 -2.6-0.9 -2.6-0.7 -2.6-0.8 -3.5-4.5 -3.7-2.2 -2.7 0.8 -2.8 0.8 -2.5-0.9 -2.5-1 -2.1-1.2 -2-1.2 -2.1-1.2 -2-0.8 -2.1-0.8 -2.1-0.8 -2.1-3.3 -2.1-3.4 1.2-3 -1.3-2.6 -1.2-2.6 -1.5-2.7 -1.4-2.7 -2.9-4.5 -2.7-4.6 -2.6-4.5 -1.9-3.4 -1.7-3.3 0.1 2.6 0 2.6 0.6 2.5 0.6 2.5 0.6 2.5 0.5 3.1 0.6 3 0.7 3 3 4.6 -2-3.1 -3.4-2.4 -1.2-2.7 -1.1-2.7 -1-2.8 -2.2-1.5 2.5-1.5 -2-4.5 -0.4-2.8 -0.4-2.7 -0.8-2.7 -1.8-4 -2.4-0.7 -2.4-0.8 -0.3-3.1 -0.3-3.2 0.2-3.6 -0.4-2.6 -0.4-2.6 -0.1-2.7 1.6-2.4 1.5-2.4 2-3 2-3 1.9-3.2 2-3.3 1.2-3.3 1.2-3.2 1.8 0.3 1.8 0.3 1.4-3.9 -2.5-1.4 -1.3-1 -1.2-1 -1.2-0.9 2.2-4.4 0-2.9 0.1-2.9 0.2-2.8 -0.1-2.1 -0.5-2.2 -0.7-0.9 -0.7-1.7 -0.1-1.6 -2.4-0.5 -1.1-0.4 -0.9-0.9 -0.1-1.3 -1.7-0.5 -1.9 0 -1.3-0.6 -1-0.2 -2.7 0.2 -1-1.2 -1.2 0.2 -0.7-1.2 -2.2 0.3 -3.9 1.4 -3.2 0.7 -3.2 1.2 -3 0.7 -1.8 0.1 5.3-4.1 -4.4 2.8 -4.1 1.9 -6.7 4.2 -2.6 0.9 -4.9 1.4 -2.1 0.5 -3 1.1 -4.4 1.8 -2.6 0 -3.2 0.6 -2.4 0.8 -2.4 0.5 -2.4 0.5 -2.3 0.4 2.8-0.9 2.3-0.5 3.5-1.4 3.3-1.4 5.1-1.8 2.8-1.1 8-4.2 -2.1-0.3 -0.8-0.1 -1.6-0.5 -0.2-1.1 -0.9-1.6 -2.4-0.2 0.8-1.2 -1.4-0.6 1.2-2.7 7.3-4.1 4.4-1.5 1.9-0.1 4.1-1.8 2-0.7 -1.2-0.3 -2.9 0.3 -0.7-0.2 -3.7 0.2 -1.8 0 -0.6-1.6 0.5-1.3 0.2 0.1 4.5-1.5 2.3 0.2 1.4 0 2.9-1.2 2.6-1.1 2.4 0.4 -0.6-1.4 0.9-1.8 -0.8-0.7 -0.2-1.3 2.6-0.5 1.9-0.7 5.1-1.4 2 0 3.2-1.1 3.6-0.9 1.7 0 5-1.1 1.9-0.6M479.8 232.2l2.4 0.5 2.4 0.6 2.5 0.5 2.5 0.5 2.5-1 2.5-1.1 2.5-1 2.5-1 2.5-1 2.3-0.1 2.2-0.2 2.3-0.1 2.2-0.1 2.3-0.1 2-0.3 2.1-0.3 2.1-0.3 2.5 1.2 -1.1 3.3 1.4 2.4 -2.5 2.4 2.7 3.1 2.5 0.6 2.6 0.6 3 0.7 2.9 0.8 2.3 2 2.3 1.9 2.6 1.1 2.6 1 2.4-2.7 -0.1-2.4 2.4-2.4 2.5 0.3 2.6 0.3 2.7 1.5 2.6 1.5 2.6 0.6 2.6 0.6 2.6 0.6 2.6-0.6 2.5-0.6 2.9 0.3 3 0.3 1.1 4 1.5 3.6 1.4 3.6 1.2 2.7 1.2 2.6 1.1 2.7 1.2 2.6 2.5 3.1 2.6 3 0.6 3 0.6 3 0.6 3.1 3.3 3 1 2.5 1 2.5 1 2.6 4.2 4.5 3.1 2.3 3 2.2 0.4 3.1 3.3 3.3 2.2-0.7 2.2-0.7 2.2-0.7 2.2-0.4 2.2-0.5 2.2-0.4 2.2-0.4 2.2-0.4 -0.3 3.9 -0.7 2.4 -0.7 2.5 -0.8 2.4 -0.7 2.4 -0.7 2.4 -2 3 -1.9 3.1 -1.8 2.5 -1.7 2.5 -1.8 2.5 -2.2 2.6 -2.2 2.5 -2.2 2.5 -2.7 2.3 -2.7 2.3 -4.1 4.5 -1.9 4.5 -0.1 3.1 0 3 0.2 3 0.2 3.1 2.5 4.5 -0.1 2.6 -0.1 2.7 -0.1 2.6 -0.1 2.7 -0.8 3 -0.8 3 -2.7 1.9 -2.8 1.8 -2.7 1.8 -2.8 3.3 -2.8 3.4 0.5 3 0.4 3 -0.1 3 -0.2 3.1 -2.4 1.9 -2.4 1.9 -2.4 1.9 -0.5 2.7 -0.5 2.6 -0.6 2.6 -4.2 4.5 -2.9 4 -2.3 2 -2.3 2 -2.3 2 -2.4 1.1 -2.4 1.1 -2.7 0 -2.7 0 -2.7 0 -2.1 0.8 -2.2 0.8 -2.2 0.8 -1.9-0.9 -2-0.9 -0.1-2.6 -0.1-2.6 -0.8-4.5 -1.5-3.7 -1.5-3.6 -1.6-3.2 -1.5-3.2 -0.4-2.6 -0.4-2.7 -0.4-2.6 -0.4-2.7 -0.9-2.5 -0.9-2.5 -0.9-2.5 -1.3-3.1 -1.4-3 -1.3-3 0.2-2.5 0.2-2.6 0.2-2.5 1.4-2.5 1.3-2.5 1.4-2.5 -0.2-3.1 -0.3-3 -0.2-3 -0.6-2.7 -0.6-2.6 -0.5-2.7 -0.6-2.6 -2.1-4.6 -1.8-2.5 -1.8-2.5 -1.8-2.5 -0.1-2.6 -0.2-2.5 -0.2-2.5 0.3-3 0.2-3.1 0.3-4.5 -3-1.5 -4 0.3 -4 0.6 -1.3-3.2 -1.4-3.2 -2.6 0 -2.7 0 -4 1.2 -2.3 0.9 -2.2 1 -2.2 0.9 -2.2-0.2 -2.3-0.2 -2.2-0.2 -2.3 0.6 -2.4 0.6 -2.3 0.6 -2.4 0.6 -2.6-1.7 -2.7-1.7 -2.7-2.1 -2.6-2.1 -4-3.3 -0.8-4.6 -2.2-2.2 -2.2-2.3 -2.3-2.3 -2.2-2.3 -0.6-3.3 -0.6-3.3 1.9-4.6 0.4-2.8 0.3-2.8 0.3-2.8 -1-3.1 -0.9-3 1.4-4.5 2-2.8 2.1-2.7 0.7-2.6 0.7-2.5 2-2.6 2.1-2.6 3.9-1.8 2.2-1.8 2.3-1.8 0.3-3.1 0.3-3 1.5-2.7 1.5-2.7 2.2-1.1 2.2-1.1 1.2-2.7 1.2-2.7M625.8 376.9l0.6 2.7 0.6 2.6 0.5 2.7 0.6 2.6 -1.4 3.1 -1.4 3 -1.1 2.6 -1.2 2.7 -1.2 2.6 -1.2 2.7 -0.8 2.9 -0.8 3 -0.8 2.9 -0.9 3 -2.5 0.9 -2.6 0.9 -1.8-3 -1.8-3 -0.2-3.1 -0.2-3 1.6-3 1.7-3.1 -0.2-2.5 -0.2-2.5 -0.2-2.5 3.2-1.8 3.1-1.9 2.4-2.7 2.4-2.7 1.9-3 1.9-3.1M480.5 231.6l-1.7-2.4 -2.7-1.2 -3.8 0.6 0.2-2.6 0.2-2.6 -1.7-0.3 0.9-2.5 0.8-2.6 0.4-4.5 -1.1-3 3.3-2.1 2.4 0.2 2.4 0.2 2.4 0.2 1.9 0.1 2 0.1 1.9 0.1 1.9 0 1.3-3.3 0.2-4.4 -2.3-3.6 -2.7-1 -2.7-1 -0.2-2.1 3.8-0.6 3.2 0.6 0.3-3.2 3.5 0.8 3.5-2.3 2.3-2.6 2.2-1.2 2.3-2.9 1-2.3 2.3-0.3 2.2-0.3 3.4-0.9 0.2-4.3 -1.3-4.2 1.4-1.2 2.4-1.1 1.3 3.1 0.5 4.3 1.1 2.9 3.3-1.2 2.1 0.7 2.1 0.8 2.4-0.9 2.3-0.9 2.2-0.4 2.2-0.4 2.4 1.1 3-3.1 -0.6-3.7 1.9-2 2.4 0.3 2.8 0.5 -2.3-3.6 0.7-2.2 2 0.3 0.5-0.9 2.2 0.5 2.9-0.4 0.9-0.1 2.5-0.7 1.5-0.7 -2.5-1.4 -1.8 0.5 -2.2-0.7 -2.3 0.5 -1.8 0 -1.5 1 -1.7-0.3 -2.3 0.4 -2.8-4.1 -0.7-4.1 1.6-1.2 3-2 0.7-1.7 1.9-1 -3.4-1.6 -1.5-0.2 -2.4 1 -1.1 2.6 -1.8 1 -2.3 1.7 -2.8 2.7 0.1 4.1 3.6 2.8 -1.3 2.8 -1.5 2.5 -1.1 3.1 -1.3 2.3 -1.8 0.7 -1.6 1.6 -3.1-0.6 -0.9-2.6 -1.8-3.4 -1.6-3.6 -1.6-0.8 -2.1 0.8 -3.1 2.5 -1.5 0.1 -2.9-0.6 -1.6-3.4 -0.8-4.2 0.9-3.5 3-1.9 1.1-0.6 3-1.2 0.9-0.9 2.9-2.2 2.8-3.1 2.5-4 2.2-1 1.4-1.6 1.5-0.9 1.1-1.4 1.8-1 1.6-0.9 1.8-0.4 1.2 0.3 2.5-1.4 1.6 0.6 1.2-1.2 2.7-0.7 1.1 0.7 2.6-0.1 1.2 0.5 1-0.4 2.5 0.5 0.6 1.3 2.1 0 2.9 0.2 1.6 1.8 0.9-0.1 3.2 1.5 2.1-0.1 1.5 0.2 4 1.8 1 0 2.9 1.9 1.9 0.4 -0.3 2.1 -1.2 0.8 -2.5 0.3 -1-0.9 -2.8-0.2 -1.9 1.4 -1.5-0.8 -1.7 0.1 -2.6-1.4 1.3 2.5 3 2.2 2.7 1.2 1.7 0.1 3.1 0 0.6-0.5 3.5 0.5 0.7-3.9 1.2-0.9 3.9 0.7 0.8-0.4 -1.1-2.8 -0.9-2.6 2.3-0.1 1.7 0.3 2.5 1.3 1.9-0.4 3-0.1 0.7-0.3 1.1-0.8 1.3 0.1 3.3-0.8 0.2-0.5 3.4 1 2.3 0.3 0.9-1.3 2.1-0.3 0.5-0.3 3.2 0.1 0.9-2.1 2.6 1.1 1.5-0.3 2.2 0.6 1.3 0.1 2.3 0.1 0.8 1.5 2.8-0.9 2 1.1 -1.6-2 0-1.9 -1.4-2.4 -0.3-2.2 -0.2-2.7 1.9 0.4 2.7 0.8 3.5 3.7 0.8 2.7 1.6 2.4 4.5 2.5 0.1-1.8 -2.4-3.3 -4.5-3.7 0.9-1.6 1.1-0.9 2.2 1 2.5 0.2 2.6 0 -0.2-0.7 2.2-0.5 1.9-0.7 -0.2-1.7 1.1 0 2.4-0.4 1.6 0.1 -0.6-0.9 1.8 0 -0.4-2.4 2.1-0.3 1.8-0.5 0.8-1.3 0.4 0.4 1.5-0.7 1.8-0.3 1.8 0.2 -0.2-0.1 3-0.1 0-0.4 1.5-0.1 1.4-0.3 2.6 0.1 -2.4-1.5 2.9-0.5 0-0.3 3.4 0.6 -0.5-1.2 1 0 3.1 0.8 2.5 0.8 1.8 0.6 2.4 0.8 2.4 0.1 3 0.7 1.1-0.5 1.7 0.2 1.8 0.9 4.4 2 2.7 2.3 0.2-0.2 2.9 0.8 2.5-0.1 0.5-0.4 3.3 1.1 1.2 0 0.3-0.6 2.3 0.1 2.3 0.9 0.9-0.9 0.8 0 3.3 0 1.2 0.5 3.6 1 -0.2-0.9 1.6 1.2 2 0 2.5 0.4 4.5 2.2 4.8 2.2 3 0.5 -0.7-0.4 1.6-0.1 1.9-1.4 -0.2 0.4 2.3-0.2 1-0.2 0.4-0.9 2.2 0 0.1-0.3 0.4-0.8 2-0.3 2.5 0.2 0.6 0.4 1.5-0.6 3.2 0.4 1.2-0.2 1.3 0.4 1.6-0.1 1.7 0.1 1.9 0.4 3.1 1 1.3-0.2 2.4 0.7 0.9 0.3 1.8-0.5 4.3 1 0.8-0.4 1 0.7 2.4 0.1 0.3-0.3 3.1 0.1 2.7 0.6 2 0.3 0.2 0.2 3.1 0.4 1.6 0.8 4.3 0.4 0.2 0.2 3.9 0.2 -1.6-0.7 2.3 0.3 3.9 0.8 1-0.7 2.6 0.3 2.2 0.6 0.1-0.8 0.6-0.2 3.3 0.7 -0.2-1.2 1.5 1 1.9-0.7 2.5 1.1 0.7-0.6 2.7 0.2 3.2 0.6 1.2 0.5 2.2 0.4 1.4 0.4 3.4 0.4M860.8 147.6l0.4 0.8 -2.6 0.5 3.6 3.1 1.8 2.3 -1.2 0.4 -1 0.9 -1.5 0.7 -0.6 0.8 0.9 1.5 -2.5 0.4 1.2 1.2 -1.2 1 -1.9-0.1 -1.5 0.6 -1.9-0.2 -1 0.4 -1.5-0.1 -2.1-0.2 -2.2 0.5 -1.2 0.5 1.6 2.4 2.7 3.2 6.9 4.3 0.2 2.1 -0.6 1.7 -0.3 1.9 0.6 2.9 0.5 2.8 -0.2 3 -3.5-3 -3.6-2.8 -3.2-2.9 -3.2-2.4 -3.3-3.3 -2.3-4.3 1.7-1.4 -1.1-2.2 -1.7-2.3 -0.9-2.5 -0.6-2.1 -0.7-2 1-1.4 -1.1 0.9 -1.3 0.6 -0.5 1.3 -1.3-0.1 -2.4-0.1 -0.7 0.3 -2.5-0.6 -1.6 0.5 -0.1 1.3 -1.4 0.7 0 0.8 0.7 1.8 -1.4 0.9 -1.9 0.4 -2.1-0.4 -0.6-0.1 -2.6 0.2 -0.8 0.5 -2.1 0 -0.7 0.4 -3.6-0.8 -1 0.5 -1.6-0.3 -1.8 0.2 -1.7 1.2 -0.3 1 0.4 2.5 0 2.3 1.8 2.7 -0.6 2.4 3.7 2.9 2.3 0.4 2.3 0.5 2.3 0.5 6.1 4.3 1.6 3 1.6 2.9 1.5 2.9 0.2 3 0.1 2.9 0.1 3 -0.8 2.5 -0.7 2.4 -0.8 2.5 -2.2 0.5 -2.1 0.5 -2.1 0.5 -2 0.8 -1.9 0.7 1.3 4.5 -1.2 4.5 2.7 3 2.1 2.6 2 2.5 2 2.5 0 2.7 -1.8 0.7 -1.8 0.7 -1.8 0.7 -2.2-3.3 -0.5-4.5 -3-1.5 -2.9-1.5 -2.1-3.1 -2.2-3 -1.9 1 -2 1 -2 1 -1.9-2.7 -2-2.7 -1.3 2.4 -1.3 2.4 -2.2 2.1 3.3 3.1 2.9 0.9 2.5-0.2 2.4-0.2 2.4-0.2 -1.6 2.1 -1.6 2.1 -2.3 3.6 2.7 2.8 2.6 2.9 2.6 2.8 4.1 3.6 0.6 3.5 0.5 3.5 -1 3 -1.2 3.1 -1.4 4.5 -2.1 2.3 -2.2 2.2 -2.4 1.3 -2.4 1.2 -2.4 1.2 -2.4 0.8 -2.5 0.8 -2.5 0.8 -2.1 3 -1.3-3 -2.3 0 -2.2 0 -3.4 3 -0.6 4.6 2 4.5 3.1 3 3 3.1 1.1 3 1.1 3 1 3 -1.7 4.6 -2.5 1.1 -2.6 1 -1.8 2.4 -1.8 2.5 -0.9-4.6 -2.4-0.4 -2.5-0.5 -1.5-2.7 -1.6-2.7 -3.3-3.4 -2.2 1.2 -0.5 2.6 -0.5 2.5 -0.5 2.5 1.7 3.5 1.7 3.5 2.9 3.9 2.4 2.1 2.4 2.1 0.8 3.5 0.8 3.5 1.1 2.7 1.2 2.8 -2.2 0.3 -3-2.5 -3-2.4 -1.3-2.4 -1.3-2.4 -0.4-3.1 -0.4-3 -2.6-2.3 -2.7-2.2 0.4-3.1 0.3-3 -0.5-3 -0.5-3 -0.7-2.8 -0.7-2.7 -0.7-2.7 -0.8-2.7 -0.8-2.8 -3.5-0.9 -2.4 1.2 -2.3 1.3 -0.5-2.6 -0.5-2.5 -0.5-2.5 -4.1-4.6 -3.3-4.5 -1.7-3 -2.4 1.5 -3.8 0.6 -2.6 0.4 -2.6 0.5 -0.7 4.5 -1.9 2.1 -2 2 -1.9 2 -2 2.3 -2 2.2 -2.6 2 -2.5 2 0.3 3.3 0.2 3.3 -0.3 3.1 -0.3 3 -0.9 2.6 -0.9 2.5 -3.8 4 -2.8-3.1 -1.1-2.5 -1-2.5 -1-2.5 -1.1-2.5 -1.1-2.6 -1-2.5 -1.4-3 -1.3-3 -1.3-3.1 -0.7-2.5 -0.8-2.5 -0.7-2.5 -0.5-4.6 -1.1-3 -2.4 1.8 -2.4 1.8 -4.4-4.5 2.3-2.1 -4.1-1.6 -3.5-3 -2.4-2.7 -2.3 0.1 -2.3 0.1 -2.4 0.2 -2.3 0.1 -2.3 0.1 -2.4-0.3 -2.3-0.3 -2.3-0.3 -2.3-0.3 -4.4-4.3 -1.9-0.6 -3.9 2.2 -2.5-1.4 -2.5-1.3 -2.5-1.3 -2.2-2.6 -2.3-2.5 -4.2-2.5 -2.3 1.6 0.9 2.4 0.9 2.4 3.1 4.2 3 4 1 2.4 2 1.2 -0.2-4.5 0.8 2.7 0.8 2.7 2.6-0.3 2.5-0.3 2.4-1.9 2.4-2 0.5-2.4 1.3 3.4 1.3 3.5 2.6 2.3 2.6 2.3 2.7 0.6 -1.5 2.7 -1.5 2.7 -1.7 4.6 -2.1 1.8 -2.1 1.8 -2.4 2.4 -2.6 1.5 -2.5 1.6 -2.5 1.5 -2.6 1.5 -2.6 1.5 -2.5 1.5 -2.1 0.7 -2.1 0.8 -2.1 0.7 -2.1 0.7 -2.1 0.7 -4 0.3 -0.8-2.8 -0.8-2.8 -0.9-2.8 -0.8-4.6 -1.4-2.5 -1.5-2.5 -1.5-2.5 -2.8-3.1 -2.8-3 -1-2.5 -1-2.6 -1.1-2.5 -2.1-3 -2.2-3 -2.2-3.1 -2.2-3 -0.6-4.5 -0.7 2.5 -0.7 2.6 -2.3-3.2 -2.4-3.1 -1.1-4 2.4-0.1 2.4-0.2 0.8-2.6 0.7-2.5 0.8-3.1 0.8-3 -0.2-2.7 -0.2-2.7 -3.8 0 -2.3 1 -2.4 1.1 -2.6-0.3 -2.5-0.3 -2.6-0.8 -2.6-0.7 -3.2-2.1 -2.5-4.6 -1.1-3.9 0-1.8 -2.8 0.2 -2.8 0.1 -2.3 1.5 -1.1-0.6 2.5 3 -0.8 3.9 2.5 0.7 -2.9 1.5 -0.4 3.3 -2.2-1.5 -1.2-2.7 -0.3-2.6 -0.4-2.6 -2.2-1.5 -2.2-1.5 -0.4-4.5 -2.1-1.3 -2.2-1.3 -2.1-1.3 -2.6-1.8 -2.5-1.8 -3.1-3.2 -3.5 0.9 0.6 2.9 3.1 2.4 2.2 3.9 3.8 2.1 2.1 1.3 2.2 1.3 2.1 1.3 -3.4 3.6 -0.8 3.1 -2.3 0 0.5-4.6 -1.4-1.8 -3.8-2.7 -2.6-1.5 -2.5-1.5 -3.8-3 -3.8-3.9 -3.6 1.5 -3.5 2.1 -3.7-1.2 -3.6 1.5 0.5 3 -2.9 2.4 -3.2 1.8 -2.2 3.3 1 2.4 -2.2 3.4 -3.6 2.7 -3 0.1 -3 0.2 -2.8 1.8M143.7 137.4l-0.7 1.1 1.4 0.4 0.7 0.1 4-0.2 -0.8 1.4 0.9 0 0.5 0.9 -0.3 0.8 2.9-0.8 0.8 1.2 1.5 0.9 -1.6 1.8 -3.1 1.1 -3.4 0.2 -6.4 3.2 -1.6-0.8 -1-0.3 0.4-1.3 -2.4 0.5 -1.1-1.3 -2.3 0.4 -3.7 0.9M565.7 215.9l2.5 0.2 2.5 0.1 2.2-1.3 2.3-1.4 2.4 0 2.5 0 2.6 1 2.6 1 2.6 1 2.1-0.4 2.1-0.3 2-0.4 2.1-0.4 -0.3-3 -3-2.2 -2.9-2.3 -2.7-1.2 -2.6-1.1 0.7-2.6 0.8-2.5 -2 0.9 -1.9 0.9 -1.9 0.9 -2 0.9 -3.2 2.3 -2.8-2.6 -4.1-3.6 -1.9 3.3 -2 2.9 -1.8 4.5 0.5 4.2 2.6 1.2M612.3 200.1l-2 1.5 -2.1 1.5 -0.1 4.4 3.4 4.5 2.5 3 2.4 3 0 3 0 3 3.2 3.7 2.6 0.5 2.6 0.5 2.6 0.5 2.1-2.1 -1.3-3.1 -1.2-3 -2.3-4.5 3.3-1.5 -2.6-0.7 -2.6-0.8 -2.3-4.5 -2.4-3 1.7-1.1 1.8-1.2 -2.3-4.2 -3.8-0.9 -3.2 1.5M634.1 201.6l3.3-1.2 4.3 2.7 0.2 4.4 -3.3 1.2 -3.7-2.7 -0.8-4.4M733 185.1l1.8-0.3 1.8-0.3 1.2-1.6 1.2-1.7 1.2-1.6 -0.7-3.2 -0.8-3.1 -1.6 0.3 -0.2 2.3 -0.3 2.3 -0.4 2.3 -1.3 1.4 -1.3 1.5 -0.6 1.7M580.3 341.5l4-1.8 1.9 2.4 -0.6 2.7 -0.5 2.8 -4 0.6 -1.6-3.1 0.8-3.6M572.7 350.6l0.5 2.7 0.5 2.7 0.5 2.8 0.7 2.5 0.7 2.5 0.7 2.5 1 0.3 -0.6-2.6 -0.5-2.6 -0.6-2.6 -0.7-2.6 -0.7-2.5 -0.7-2.5 -0.8-0.6M585.3 369.4l1.2 4.5 0.2 2.5 0.2 2.6 0.1 2.5 1 1.5 -0.7-3 -0.6-3.1 -0.4-3 -0.3-3 -0.7-1.5M530.5 301.8l2.6-2.1 0.8 1.5 -2.1 1.5 -1.3-0.9M826.4 237.6l3 0.6 2.7 0.4 2.6 0.3 2.7 0.3 1.6-1.6 1.6-1.5 2.6-0.4 2.6-0.5 2.2-0.6 0.9-2.4 -2.1-3.6 -1.4-4 0.5-3.6 -2.2-2.7 -2.3-2.7 -2.5 1.8 1.6 3.6 1.7 4.6 -1.4 2.1 -2.1 0 -2.1 0 -0.1 3.9 -2.3 0.5 -2.3 0.5 -2.3 0.5 -1.8 1.5 -1.8 1.5 0.4 1.5M837.4 215l1.9-0.9 2.6-0.3 2.6-0.3 1.4-1.9 1.4-2 -3.3-3 -3.2-1.2 -3.2-1.1 -3.2-1.2 1.8 4.4 -0.4 3 1.6 4.5M824.7 239.2l2 3.3 1.9 3.3 2-0.3 -0.1-2.4 -0.1-2.4 -3.8-3.1 -1.9 1.6M831.7 240.7l2.3-1.2 2.3-1.3 -2.6-1.8 -3 1.2 1 3.1M809.7 264.3l2.8 0.6 -0.3 4.5 -1 4.6 -2.7-3 0.4-4.6 0.8-2.1M780.9 282.5l3-2.8 2.8 1.5 -3.2 4.3 -2.6-3M833.3 201.6l2.6-1.5 -2.2-2.5 -2.2-2.4 -2.3-2.5 3.5 0 -3.8-2.9 -3.9-2.9 -2.2-2.5 -2.2-2.4 -2.3-2.4 -3.2-2.3 2.2 3.8 2.5 2.8 2.4 3 2.4 2.9 2.3 2.9 2.2 3 2.1 2.9 2.1 3M812.3 284.6l2.3 0 2.2 0 0.3 3 0.2 3 -0.2 3.1 -0.2 3 2.4 1.5 2.4 1.5 2.4 1.5 -1.2 0.6 -2.4-1 -2.3-1 -2.3-1 -1.4-2.1 -2.2-4.5 0-2.6 0-2.5 0-2.5M820.5 319.4l2.6-1.5 2.5-1.5 1.8-2.6 1.8-2.6 1.1 2.8 1.1 2.7 1.1 2.7 -2.4 3.6 -4.2-2.1 -2.7-0.7 -2.7-0.8M820.9 307.9l2.4 2.4 1.5-3 2.6-0.9 0.4 3.9 -3.9 1.5 -3-3.9M786.4 336.1l0.5 2.5 0.5 2.5 0.4 2.5 1.3 3.1 1.2 3 2.4 0.4 2.3 0.3 2.3 0.4 2.3 0.4 2.7 0 2.7 0 0.5-2.5 0.5-2.5 0.5-2.6 2.1-3 2-3 0.4-2.6 0.5-2.5 0.4-2.6 0.5-2.5 0.4-2.5 -2.2-2.8 -2.1-2.7 -3.9 3 -2.5 3.7 -2.5 2.4 -2.6 2.4 -4 1.5 -2.5 1.1 -2.5 1 -1.6 1.6M749.4 323.6l2.9 0.6 3 0.7 2.1 2.4 2.1 2.4 2.1 2.4 2 2.4 2.8 2.9 2.7 2.8 2.6 2.8 1.3 2.6 1.3 2.6 4 2.4 -0.3 2.5 -0.3 2.5 -0.3 2.6 -3.5 0 -2.5-2.3 -2.6-2.3 -1.9-2.7 -2-2.7 -1.7-2.6 -1.7-2.5 -1.8-2.5 -2-3.3 -2.1-3.4 -1.5-2.5 -1.6-2.6 -1.6-2.6 -1.5-2.6M775.6 361.2l2.3-2.4 2.2 0.5 2.2 0.5 2.2 0.5 2.2 0 2.3 0 2.2 0 3.9 1.2 2.6 1.2 2.6 1.2 -0.2 3 -2.2-0.4 -2.2-0.4 -2.2-0.4 -2.6-0.4 -2.7-0.5 -2.6-0.3 -2.7-0.3 -2.6-0.6 -2.6-0.6 -2.1-1.8M801.4 367.2l4.1-1.5 2.2 0.2 2.3 0.2 2.2 0.2 -0.2 1.6 -2.2 0 -2.2 0 -2.2 0 -4-0.7M811.9 369.4l2.7-0.3 2.7-0.3 2.2-0.6 2.2-0.7 2.2-0.6 2.1-0.6 2.2-0.6 2.7 0 2.7 0 -2.8 1.5 -2.8 1.6 -4.3 3 -2.2-0.3 -2.2-0.3 -2.2-0.3 -2.6-0.8 -2.6-0.7M814.1 357.3l2.6 0 0.1-2.6 0-2.5 0-2.5 1.7-0.9 1.2 3 1.2 3 2.7-0.6 -1.2-2.7 -1.3-2.7 -1.2-2.7 4-2.5 -2.6 0 -2.7 0 -1.9-4.5 2.4 0 2.5 0 2.4 0 2.6-1.5 2.7-1.5 -1.3 1.8 -2.2-0.2 -2.1-0.2 -2.2-0.2 -2.1-0.2 -2.2-0.1 -1.8 3.6 -0.9 2.5 -0.9 2.5 -1 2.6 0.5 3 0.5 3 0.5 3.1M836 336.1l0.7 3 0.6 3 1.4-3 -1.4-3 -1.3 0M831.8 349.7l3.4 1.5 1.9-0.6 -4.1 1.5 -1.2-2.4M837.1 350.3l2.3-0.2 2.2-0.2 2.2-0.2 -1.4 2.4 -4-0.6 -1.3-1.2M845.3 344.5l4.1-2.7 2.2 2.9 2.1 3 2.2 2.9 2.7-1.7 2.7-1.7 2.8-1.8 2.6 1.1 2.7 1 2.6 1 2.3 0.9 2.3 0.9 2.3 0.9 2.3 0.9 1.6 2.6 1.6 2.6 2.2 1 2.2 1.1 0.5 2.7 0.4 2.7 2.3 3.5 2.3 3.5 -2.2-0.3 -2.2-0.3 -2.1-0.3 -1.7-3 -1.7-3.1 -2.7-0.6 -2.6-0.6 -3 4.3 -2.7 0 -2.7 0 -2.5-1.6 -2.5-1.5 -2.8 1.2 -0.1-2.5 -0.2-2.6 -0.1-2.6 -0.2-2.6 -2.2-0.7 -2.2-0.7 -2.2-0.7 -2.6-0.4 -2.7-0.5 -2.5-3.6 -2.6-4.6M895.6 357.3l4.2-3.1 2.2-0.9 -1 3.3 -4.2 2.8 -1.2-2.1M908.9 358.8l2.4 3 2.4 3 2.5 1.5 2.6 1.6 3.7 2.4 2.5 1.5M792.1 407.2l-0.2 2.4 -0.2 2.5 -0.2 2.4 -0.3 2.4 -0.3 2.4 -0.1 2.6 -0.1 2.5 -0.2 2.5 0 3.2 0 3.3 -0.2 3.2 -2.1 3.5 -2.1 3.5 1.9 1 2 1 2 1 3.4-1.5 3.3-1.5 2.3-0.1 2.2-0.1 2.3-0.1 2.2 0 2.8-1.7 2.7-1.6 2.8-1.6 2.8-0.7 2.8-0.7 2.9-0.7 2.1-0.1 2.2-0.1 2.2-0.1 1.7 1 1.7 1 1.7 1 0.5 3.5 0.3 3.5 3.8-2.7 3.7-2.8 -0.8 2.6 -0.9 2.5 -1 2.5 2 0.4 1.9 0.5 -0.4 3.3 -0.5 3.3 2 0.9 2.1 0.8 2 0.8 2.2 0.3 2.1 0.3 2.2 0.3 3.2-2 3.2-2 2.8-0.4 2.7-0.5 2.3-2.7 2.3-2.7 2.2-2.7 2.2-2.7 2.6-3 2.5-3 2.5-2.9 2.4-3 1.7-3 1.6-3 0.7-3 0.5-3.1 0.5-3 -1.2-2.5 -1.2-2.5 -1.3-2.6 -1.7-3 -1.7-3 -1.8-1.5 -1.9-1.6 -1.8-1.5 0-2.4 -0.1-2.4 0-2.4 -0.1-2.5 -0.1-2.4 -2.4-1.5 -2.4-1.5 -0.3-2.5 -0.3-2.5 -0.3-2.5 -0.4-2.5 -1.6 3.5 -1.7 3.5 -0.4 2.5 -0.5 2.5 -0.5 2.5 -1.5 2.9 -1.5 2.9 -3.5 0.3 -1.8-1.7 -1.9-1.7 -1.9-1.8 -3.6-2.4 1.5-2.7 1.4-2.7 1.5-2.8 -2.2-1.5 -2.2-0.2 -2.2-0.2 -2.1-0.2 -2.2-0.3 -4.3 2.1 -1.6 2.7 -1.7 2.6 -1.7 2.6 -4 0 -3.6-2.4 -4.4 3 -4.7 4.6 -4.2 4.5 -4 4.5 -2.3 0.9 -2.4 0.8 -2.3 0.8 -2.7 0.6 -2.8 0.6 -2.9 1.6 -2.9 1.7 -2.7 0.6M850.4 463.8l2.1 0.1 2.2 0.2 2.1 0.1 2.1 0.2 -2.6 3.9 -6 4.2 -1.4-3.3 0.8-2.7 0.7-2.7M931.6 444.8l1.3 1.6 1.3 1.7 0.8 3.9 1.7 0.9 1.6 0.9 1.7 0.9 -4.6 4.6 -4.9 3 -6.9 4.2 -1-0.9 3.9-3.3 -1.5-2.7 4.3-3.3 2.5-4.3 -0.1-3.6 -0.1-3.6M919.7 463.2l1.2 1 1.2 1.1 -4 3.9 -5.6 3.6 -2.9 1.2 -2.9 1.2 -4.9 4.1 -5.1 2.1 -1.6-0.6 -1.7-0.6 -1.6-0.6 2.9-3 3.2-1.4 3.2-1.5 3.8-1.5 3.7-1.5 5.2-3.6 3.8-3 2.1-0.9M925.8 401.8l2.1 2.1 2.1 2.1 2.1 2.1 -1.3 0 -1.7-2.1 -1.6-2.1 -1.7-2.1M937.3 386l0.7 3 1.6 4.6M962.9 393.6l3.3-0.6 -0.7 2.7 -3-0.6 0.4-1.5M707.6 310.9l3.7 4 1.8 4.5 -2 3 -2.7-0.6 -0.4-2.7 -0.4-2.7 0-2.7 0-2.8M481.4 189.8l2.5-0.5 2.6-0.4 1.9-0.4 2-0.4 1.9-0.4 2.8-0.7 2.7-0.7 0.7-4.4 -3.2-2 -1.4-3.2 -2.9-3.1 -1.9-1.1 1.6-4.3 -2.7-0.5 -1-0.1 1.1-2.5 -2.8 0 -1.5 0 -1.9 3.1 0.3 4.3 1.4 2.8 1.9 0.1 1.9 0.2 -0.5 2.6 0.9 2 -3.7 1.4 1.4 1.8 -2.8 1.4 2.2 0.5 2.3 0.4 -3 1.2 -2.8 2.9M480.9 183.4l-0.3-4.7 1-2.3 -3.3-2 -2.2 0.3 -0.6 2.6 -3.4 0.3 0.1 2.3 1.2 2.3 -2.4 2 1.8 1.2 3.5-0.9 3.7-1.1 0.9 0M448.3 150.3l2.7-3.8 -2.5-2.3 0.9 0 1.1 0.3 1.5 0.6 2.2-0.1 2.2-0.6 1.6-0.6 1.3-0.1 3.3-0.1 2.8 1.4 1.5 2.6 -3 1.9 -2.8 0.1 -0.6 1.4 -1.7 0.1 -2.5 0.8 -2.7-0.3 -0.9-0.8 -2.4 0 -2-0.5M514.2 114.4l2.6 0.9 0.9 0.3 1 1.3 2.4 0.3 1.6 1.4 0.6-0.4 2-2.1 2-0.6 2.2 0.2 1.3-0.7 1.3-0.8 -0.7-0.2 2.4 0.4 1.3-0.2 1.1-0.6 1.6-1.2 -0.1-0.3 1.8-0.9 -1.6-0.5 -1.7 0.7 -1.3-0.1 -1.9-1 -1.6 0.5 -0.1 0 -3-0.2 -0.7-0.4 -1.1 0 -0.9 1.1 -2.1 0.2 -0.8 0 -1.4 0.1 -0.9 0 -1.8 0.7 -1.5 0.2 -2.7-0.8 -0.5 0.5 0.3 2.2M591.9 130.9l3.8 2 1.4 0.1 2.1 0.2 1.9 0 0.5 0 2.8-0.1 -3.5-1.8 -1.8-2.9 -0.5-3.1 1.3-1.7 1-0.7 1.7-1.1 0.9 0.3 0.7-0.8 0.8-0.8 2.8 0.3 -0.8-1.2 1.8-0.1 1.9 0.1 0.7-1.3 -0.1 0.5 1.9-0.4 1.3-0.4 -2.8-0.3 -0.8 0.6 -1.7-0.6 -0.5 0.2 -2.8 0.4 0.2 0.4 -1.1 0.7 -1 0.3 -1.7 0.2 -1.1 0.6 -1.8-0.5 -1.7 0.5 -1 1 0.3 1 -1.6 1.1 1.1 3.6 -0.6 1.3 -2-0.2 0.3 1.5 -2.3 1.1M572.2 110.2l1.8 0.5 1.7-0.1 2 0.3 1.1 0.1 1.3-0.8 0.7 0.6 0.4-0.3 1.7 0.1 3.1 0.4 0.7-0.6 1.9 0.3 1.7-0.5 1.8 0 0.3-0.2 2.3-0.1 0.1-1 1.3 0.3 -1.2 0.1 -2.8-0.7 -1.2 0.1 -0.5-0.6 -2.3 0.3 -1.1-0.3 -1.7 0.3 -0.7 0.2 -2.2 0.1 -1.3-0.4 -1.3 0.2 -0.7-0.3 -2.2-0.1 -0.9 0.5 -2.4 0.5 0.3 0.7 -1.7 0.4M657 113.3l0.2-0.1 0.6-0.7 3.2 0.7 -1.1-1.1 2.4 0.1 0.7 0.1 3.4 0.6 2.2 0.2 1.6 0.7 1.6 0.7 1.9-0.1 -6.1-3.2 -1.9-0.3 -1.1-0.4 -3.9-1.3 -1-0.1 -2-0.3 -1.5-0.4 -2.1 0.2 -0.8 0.7 -0.2 0 -1.3 0.2 -1.7-0.3 -1.1 0.6 -0.4 0.2 -0.6 0.8 2.4 0.7 2.6 0.2 1.7 0.9 2.3 0.7M739.8 122.4l2.3 0.5 2.1 0.3 -0.1-0.8 2.3 1.2 2.4 0 3.7 0.9 -0.4-0.6 3.9 0.9 2.3-0.3 -2.6-1.4 1.9 0.1 1.3-0.5 0.7-0.3 1.3-0.9 1.2 0 1.7 0.2 -1.3-0.4 -1.6 0.5 -3.8-1.2 1.2 1 -1.6-0.3 -2.6-0.5 -2.1 0.2 -1.5-0.4 -2.3-0.5 -1.6-0.4 -1.6 0.3 -2-0.5 -1.3 0.3 -0.3 0.2 -2.2 0.5 -0.2 0.2 0.8 1.7M833.9 132.1l0.8-1.2 2.9 1.7 -3.7-0.5M154.5 130.9l1.3 0.9 1.6-0.4 0.6 0.2 -1.2 0.5 -2.9 0.7 -2.3-0.2M370.1 114.4l1.4 0.2 0.1 1.1 1.6 1.1 0.5 0.5 0.2 1.8 0.5 0.2 1.2-0.5 2 1.1 1.3 0.2 0.9-0.3 0.8 0.5 2.6-0.6 1.3 0.3 1 0.1 2.2 1 -0.3 0.2 2.5-0.2 0.9 0.1 0.5 3.6 -0.4 2.7 0.4 2.1 1 3.8 1.6 1.2 0.1 1.6 0.7 2.2 -3 1.6 -0.4 1.5 -3.2 0.8 -1.4 3.4 1.1 1.9 1.9 1.5 0.6 2.5 -0.3 2.3 1.1 2.4 0.8 2.1 1.1 0.9 1.6 0.1 1.6 1.1 2.2 0.7 2.4-0.1 1.8 0.1 2.4-4.1 2.3-2.8 2.9-2.4 1.6-3 1.1-0.5 3.4-1.1 1.4-1 1.3 0.1 1.3-1.4 2-0.2 1.7-0.3 2.5-0.9 1.8-2.2 3.4-0.9 2.1-1.5 1.1-0.9 2.3 0.8 1-1.5 1.9 0.5 1.3-1 2.6 0.3 1.3-1.1 3.1-0.9 0.9-0.5 2.3-1.3 0.8-3.8 1.8-2.1 1.1-2.7 2.1-1.5 2.3-0.4 0.6-0.5 0.2-1.9 0-2.8 2.7-2.8 1-1.6 1.5-0.9 2.5-1.8 1.9-1.4 -0.5-0.6 -2.3-0.1 -1.1-0.4 -0.9-0.4 -2.1-0.4 -0.8 0 -2.3 0 -0.3 0.1 -1-0.6 -1.9 0 -1-0.7 -1.8-0.5 0.5 0.1 -2-0.5 -1-0.1 -1.7-0.1 -1.6 0.2 -0.8-0.6 -0.6-0.1 -2.9-0.2 0.5 0.4 -1.5 0.2 -1.6-0.6 -2 0.5 -1.8-0.2 -1 0 -0.8 0.3 -1.8 0.2 -0.4-0.7 -1.8 0.2 -2 0.5 -0.5-0.1 -0.9-0.2 -2.3 0.5 -1.1-0.1 -1.6 0.2 -1.6 0 -1.6 0.8 -0.9-0.1 -1.9-0.1 -0.5 0.3 -2.1 0.1 -1.5-0.1 -0.3-0.1 -1.7 0.9 -2.1-0.3 -1.8 0.2 -0.5-0.4 -1.9 0.8 -1.1-0.8 -2.1 0.7 -1.1-0.3 -2 0.6 -0.7-0.3 -3 0.8 -0.3 0.5 -2.1 0.1 -0.1-0.3 -2.6 0.8 -3.3 0.8 -1.5 0.3 -1.1-0.1 -3.5 2 -1.2-0.2 -2.2 0.7 -1.2 0 -2.3 0.7 -2.7 0.8 -0.8 0.2M371.5 143.6l-2.1 3.3 -3.6 2 -2.4 1.6 -1.9 1.6 -3.2 1.4 -2 0.4 -1.9 0.1 -2 0.9 -1-1 -2.9-0.9 -1.2-0.3 -1.2-1 -1.3-0.9 -0.4-0.6 -2.2-1.3 -2.3-0.7 -2.2 1.2 -0.7-0.9 -2.1 0.7 2.9-2.9 1.3 0.1 2.1-1 2.2-1.7 3-0.1 2.7-1.6 2.1-2.8 -1.2-1.7 -0.3-0.1 -0.7-1.7 -2.2-0.4 -0.4-0.7 -3.3 0.2 -1.6 0.4 -1.2-0.1 -2 0 -0.5 0 -3.3-0.8 0.6-0.1 -3.1 0.4 -2-0.3 -0.5-0.1 -2.6-1.1 -0.9-0.4 -0.6-0.6 2.1-2.8 2.5-1.1 2.6-2.2 1.1 0.3 3.7-0.8 0.7 0.5 2.9-0.8 0.4 0.8 0.9 0.2 1.9-0.5 2.9-0.3 0.6 0.1 0.1 0.5 1.9 0.2 2 0.9 0.4 0.8 0.7 0.5 0.9 0.2 2.1 0.9 1.8 0.3 -0.2 1.6 1.8 0.7 0.4 0 0.4 1.2 2.1-0.3 2.1 0.9 0.9 3.3 0.7 1.8 0.6 0.4 1.5 1.6 0.4 1.3 2.6 0.8 0.6 0.5M357.2 118.9l-1.9-0.6 -1.6 0.4 0.1 0.1 -3.3 0.7 -0.8-0.2 -0.4-0.7 -2.2 0.6 -2.3 0.1 -0.7-0.1 -1.6-0.3 -2.1 0.7 -1.5-0.9 -1.1 0.2 2-3.4 4.9-2.7 3.5-1.6 1.1-0.3 4.1-1.3 2.1-0.4 1.6-0.7 1.7 0.2 2.4-0.1 2.4-0.6 0.4-0.2 2.9-1.1 0.9 0 2.3-0.3 1 0.1 1.2-0.5 1.7 0.1 1.4 0.3 2.7-0.9 0.1 0 1.7 0.5 0.2 0.1 2.1-0.5 1.6-0.1 1.2 0.1 1 0.5 1.1-0.3 1.4 0.5 1.7-0.8 2.1 0.4 0.1 0.5 1.7 0 -1.4 0.5 -2.7 1.2 -1.6 0.5 -2.4 0.3 -0.8 0.8 -2.8 0.5 -2.6 1.4 -1.9 0.9 -3.4 0.8 -1.2-0.1 -1.6 0.5 -2.2 0.8 -0.2-0.6 -2.8 0.6 -1.5-0.1 -0.4 2.2 -2.4 0.5 -3.3 1.5 -1.7 0.3M349.4 123.6l-0.4-0.1 -2.7 0 -0.2-0.7 -3.3 1.1 -1.8 0.2 0.4-1.4 -2.9 0.4 -1.2-0.3 -1.4 0.7 -3.1 0.4 0.7-0.1 -2.1-0.5 -0.4-1.1 -1-1 2.8-1.1 1.8-0.7 3.2-0.5 -0.1 0.4 2.8 0.1 0.6-0.3 1.8 0.7 2.3-0.7 -0.2 0.1 1.3 0 2.6 0.3 1.4-0.5 0.5 0.6 2.2 0 -2.5 2.6 -1.1 1.4M299.9 137.2l-2.9 0 -2 0.4 0.4 0.5 -1.4-0.3 -2.9 1.2 -2.1-0.6 -1 0 -2.2 0.2 -0.3-0.4 -2.2 0 -1.9-0.2 -2.2 0.4 -0.8-0.5 -2.5-0.4 -1.1-0.5 -0.2-0.7 -1.4 0.2 -1.2-0.6 -1.5-0.4 1.2-1.8 -2.8-0.3 4.7-2.5 -1.3-0.9 0.3-1.6 2-0.5 2.4-0.7 -0.1 0.6 2.5 0.1 2.7-1 1.8-0.2 2.1-0.8 0.7 0.8 2.2 0 1.2 0.1 1.5-0.9 1.4 0.6 2.8-0.5 0.5 0.6 1.4 0.2 1.8 0.9 0.9 1.5 -1.6 2.9 -0.7 1.5 2.2 1 -0.4 2.6M259.3 130.1l2.6-2.3 3.2-3 3.1-0.8 -0.6 0.6 2.3 0.1 4.3-1.1 0.7 0.7 1.2-0.3 0.8 1.4 0.4 0.2 -0.2 0.7 1.6 0.9 -3.2 1.1 -2.9 0.5 -3.7 1.8 -1 0.3 -0.8 0.1 -1.4-0.7 -0.7-0.4 -3.8 0.5 -1-0.5 -0.9 0.2M289.1 122.4l-0.7-1.4 -0.7 0.5 -0.9-1.5 3-0.4 0 0.8 2.8-0.6 2-0.4 2-0.4 0.6-0.1 3.7-0.4 -0.1 0.4 1.3 0.8 1.9-0.8 -1.1 1.4 3.1-0.4 1.1 0.7 0.5-0.1 -5 1.9 -2.3-0.1 0.4-0.1 -3.8 0.4 -1.3-0.1 0.1-0.1 -2.5 0.4 -0.2-1.1 -3 1 -0.9-0.3M312.5 129.6l-1.9-0.1 -1.2-0.3 -1.7 0.7 0.2-0.7 -2.9 0.4 0.6-2.4 4.2-1.5 2-0.9 0.7 0.3 2.4-0.5 1.9 0.6 -3 1.8 -1.3 2.6M324.9 128.4l-1.5-0.1 -1 0.4 -2.2-0.6 -1.5 0.5 -1.3-0.2 4.4-3.6 1.2 0.2 1.4-0.4 3.4-0.1 0.4 0.3 -3.3 3.6M319.7 122.4l-0.6 0.2 -1-0.3 -1.4-1.2 -2 0.3 -0.8-0.2 3.1-1.8 3.2-0.5 1.9 0.8 -0.2 0 2.2 0.3 -4.4 2.4M344.5 114.4l-2 0.4 -0.3-0.1 -3.1-0.1 -2.6 0.9 -0.9-0.4 -0.9 0.4 1.9-2.4 -0.1-1.9 1.9-0.8 2.5 0.2 1.1-0.8 3.7-0.7 1.4-0.1 0.7-0.2 0.2 0.7 1.2 0.7 0.7 1 -5.4 3.2M326 150.3l-1.6-0.1 -1.7-0.3 -2.3-0.1 -0.7 0.2 -1.9 0.6 -2-0.3 3.8-4 2.7-0.3 0.1-0.3 2.2 0.6 1.2 1 0.2 1.4 2.1 1.6 -2.1 0M312.5 116.6l-2 0.3 -0.3-0.2 -2-0.2 -1.8-0.1 -1.3 0.8 -2-0.3 -0.6-0.5 -2.1 0.2 -3 0.4 1.4-1.2 -0.7-0.1 -3.6 0.5 0-0.3 1.7 0 2.1-1 1.7 0.5 2-0.6 2.6-0.4 1.1-0.4 1.3 0.4 1.1 0.6 -0.1 0.2 1.9-0.2 0.2 0.4 1.3 0.4 1.1 0.8M281.5 120l-2.8 0.3 -1.2 0.1 -0.7-0.4 -1.2 0.3 -2.2 0.4 5.5-1.8 3.5-1.9 0.1 0.9 1.7 0.3 0.2 0.2 2.4-0.1 0.7 0.2 0.9 0.4 -0.5-0.3 -3.6 0.5 -2.8 0.9M354.6 196.8l1.9 0 1.9 0 2 0 1.9 0 1.8 0.7 1.8 0.7 1.8 0.6 1.7 0.7 0.4-2.7 0.4-2.6 -1.7-1 -1.7-1 -1.6-1 0.9-2.9 0.9-2.9 -3.6 0.6 -2.3 2.7 -2.2 2.7 -2.2 2.7 -2.1 2.7M345.8 190.1l1.7 0.7 1.7 0.6 1.7 0.7 -2.2 0.1 -2.1 0.1 -2.1 0.1 1.3-2.3M271.8 274.3l2.3-0.8 2.3-0.8 2.2-0.8 2.3-0.4 2.2-0.4 2.2-0.4 2.5 1.6 2.4 1.6 2.4 1.6 2.3 1.3 2.3 1.3 2.3 1.3 -2.2 0.3 -2.2 0.2 -2.2 0.2 -2.2 0.2 -1-2.4 -2.5-1.1 -2.5-1.1 -2.5-1.1 -2.6 0 -2.6 0 -2.6 0 -2.6-0.3M298.4 284.9l2.3-2.3 2.4-2.3 2.1 0.3 2.2 0.3 2.1 0.3 2.1 0.4 2.7 2.7 -2.4 0.6 -2.3 0.6 -2.4 0.6 -2.2-0.3 -2.2-0.3 -2.2-0.3 -2.2-0.3M288.1 284.9l2.7 0.6 2.7 0.6 -3.5 0.6 -1.9-1.8M317.4 284.6l2.1 0.3 2.1 0.3 -2.2 0.4 -2.1 0.5 0.1-1.5M292.2 259.8l2.5 0.6 -2 4.5 -0.3-2.6 -0.2-2.5M204.7 194.8l-1.2-1.3 -1.2-1.2 -1.1-1.2 -1.1-1.2 -1.1-1.2 -1.1-1.3 2.6 0.9 1.3 1.5 1.3 1.4 0.8 1.8 0.8 1.8M192.3 183.9l1.2-2.8 1.3-2.9 2.2 0 -1.9 4.3 -2.8 1.4M160.9 168.2l-3.3 0.8 -3.8 1.7 4.7-3.3 2.4 0.8M118.6 178.7l-4.3 0.9M107.4 181.9l-2.9 0.6 -2.9 0.6M96.4 183.7l-2.7 0.4 -2.8 0.4M87.5 184.5l-2.8 0.5 -2.7 0.4M888.4 181.6l2.7 0.5 2.7 0.4M84.8 280l1.9 1.2 -2.4 2.2 0.5-3.4M83.1 277.3l1.8 0.3 -1.6 0.9 -0.2-1.2M79.7 275.2l1.1 0.9 -1.4 0 0.3-0.9M75.9 273.4l1.2 0.3 -0.9 0.6 -0.3-0.9M525.5 226.2l2.7-0.5 2.6-0.6 2.6-0.5 -1 4.9 -2.3-1.1 -2.3-1.1 -2.3-1.1M515.4 222.5l3.2-0.6 0-2.7 0.1-2.7 -2 0 -2 0 0.4 3 0.3 3M515.7 215l1.9 0.3 0.1-4.5 -2 4.2M553.8 233.7l2.4 0.1 2.4 0.1 2.3 0.1 -2.2 0.5 -2.2 0.4 -2.7-1.2M576.2 235.2l2.8-1.2 2.7-1.2 -2.4 3 -3.1-0.6M519.1 174.2l3.5-0.9 -1.1 2.3 -2.4-1.4M353.5 495.2l1.9 0 1.9 0 1.9 0 1.9 0 -0.5 2.1 -1.9 0 -1.9 0 -1.9 0 -1.4-2.1M408.9 503l2.4 0.5 2.3 0.4 -2.3-0.4 -2.4-0.5M249.6 341.5l1.6 1.8 -1.1 0.3M740.8 299.7l0.6 3 0.5 3.1M645.6 401.2l0.9 1.2M639.8 404.2l1.2 0.9M609.9 375.4l0.4 1.2M636.3 302.4l3.2 0.3M454.5 255.8l-3.1-0.6M432 294.9l0.6 0.6M425 223.7l2.5-0.3M500.5 220.7l2.5-0.6M890.7 348.2l2.3 0.5 2.2 0.5 2.2 0.5M99.5 393.6l0.7 0.9M38.5 382.4l1.1 0.6M34.7 404.5l0.6 0.3M121.1 367.9l0.6 0.6M278.6 119.6l3-1.2 4.3-1.4 0.8 0.5 3.1-1.3 0.8 0.5 1.9 0 1-0.1 -5.9 2.3 -2 0 -2.3 0.4 -2.1 1 -0.3-0.4 -2.3-0.3M323.3 122.4l2.5 0.1 1.1 0.1 1.2-0.5 0.8-1.6 -1.9 0.4 -1.8 0.4 -1-0.6 -0.9 1.7M315 121l1.6 0.6 1.9-0.1 0.2 0.2 3.8-2.6 -1.3-0.3 -2.5 0.4 0-0.6 -3.8 1 0.1 1.4M327.8 115.5l2.6-0.8 2.2-0.3 -0.6-0.9 -1.7 0.2 -2.8 0.7 0.3 1.1M318.9 115l1.2-0.6 1.7 1 2-0.8 0.8-1.3 -1.9 0.5 0.2-0.7 -3.1 0.6 -0.9 1.3M301.7 138.4l0.7 0.4 3.1-0.5 1.7-0.6 0.8-2.1 -2.4-0.5 -4.7 2.1 0.8 1.2M345.6 128.1l2.5 0.5 -0.2 0.1 3.3-0.6 0.9-2.4 -0.7-0.6 -1.4 0.2 -3.2 0.2 -2.3 1.7 1.1 0.9M321.5 154.1l2.7-0.1 1.5 0.1 0.2-1.9 -2.1 0.4 -2.1-0.4 -0.2 1.9M325.4 156.3l1.8 0.5 -0.1-1.6 -1.7 1.1M327.8 133.9l2.1-0.3 0.3-1.5 -2.3 0.5 -0.1 1.3M340.7 134.6l2.5 0.5 0.3-1.7 -2.8 1.2M342.3 140.8l1.5 0.7 2.1-0.2 0.5-2.3 -3.3 0.5 -0.8 1.3M318.6 171.9l1.3 0.6 0.5-1.8 -1.8 1.2M230.7 136.4l3.5-0.5 -1-0.8 -2.5 1.3M526.6 112.6l0.5 0.6 2.2-0.1 2.5 0.1 0.5-0.3 2.2 0.2 0.5-0.5 1.2-0.3 1.4-0.1 1.8-1.2 -1.4 0.4 -1.1-0.1 -2.2-0.5 0 0.3 -3.4-0.9 -1.7-0.2 -0.3 0.4 -1.3 0.8 -1.7 0.2 0.3 1.2M588.9 136.9l2.7 0.3 -1.2-1.3 -1.5 1M607.2 134.6l3.1 0.4 0.7-0.4 -2.6-1.2 -1.2 1.2M644.5 124.8l1.4-0.4 0.8-0.3 1.5 0 1 0.2 1.5-0.7 2.7 0.9 -0.7 0.9 -2-0.3 -1.9 0.4 -2.8-0.8 -1.5 0.1M751.2 126.4l0.7 0 4.4 0.9 1.1-0.4 0.1-1.2 -3.9-0.6 0.4 0.9 -2-0.3 -0.8 0.7M739.8 121.2l3.2 0.5 0.9 0.3 0.5 0.1 2.9 0 0.7-0.2 0.9-0.6 2.2 0.7 -0.6-0.6 0.2-1.2 2.2 0.3 -1.7-0.2 -3.5-0.3 -1.7-0.4 -1.2-0.4 -1.5 0.8 -2.1-0.4 0.9 0.7 -1.6 0.4 -2.6-0.7 1.9 1.2M848.2 164.5l1.5-0.5 -2.1-0.8 0.6 1.3" fill="none" stroke="#858585" stroke-width="1.8" stroke-linejoin="round"/><path d="M238.1 96.4L234.3 97.5L230.6 98.6L226.8 99.7L222.9 100.9L218.8 102.2L214.4 103.8L209.7 105.5L204.9 107.3L200.0 109.2L195.1 111.2L190.2 113.3L185.1 115.5L180.0 117.7L174.9 120.0L170.1 122.4L165.5 124.8L161.0 127.2L156.7 129.6L152.4 132.1L148.2 134.6L144.1 137.2L140.1 139.7L136.2 142.3L132.3 145.0L128.4 147.6L124.6 150.3L120.8 153.0L117.0 155.7L113.3 158.4L109.7 161.2L106.1 164.0L102.5 166.8L99.0 169.6L95.5 172.5L92.1 175.3L88.8 178.2L85.6 181.1L82.4 183.9L79.3 186.9L76.3 189.8L73.4 192.7L70.6 195.7L67.9 198.6L65.2 201.6L62.6 204.6L60.1 207.5L57.5 210.5L55.1 213.5L52.7 216.5L50.4 219.5L48.2 222.5L46.1 225.6L44.1 228.6L42.1 231.6L40.2 234.6L38.4 237.6L36.7 240.7L35.0 243.7L33.4 246.7L31.9 249.8L30.5 252.8L29.1 255.8L27.9 258.8L26.7 261.9L25.6 264.9L24.6 267.9L23.7 271.0L22.8 274.0L22.0 277.0L21.2 280.0L20.4 283.1L19.6 286.1L18.8 289.1L18.1 292.2L17.4 295.2L16.8 298.2L16.2 301.2L15.7 304.3L15.3 307.3L14.8 310.3L14.4 313.3L14.1 316.4L13.8 319.4L13.5 322.4L13.3 325.5L13.1 328.5L12.9 331.5L12.7 334.5L12.6 337.6L12.6 340.6L12.6 343.6L12.7 346.7L12.9 349.7L13.1 352.7L13.3 355.7L13.5 358.8L13.8 361.8L14.1 364.8L14.4 367.9L14.8 370.9L15.3 373.9L15.7 376.9L16.2 380.0L16.8 383.0L17.4 386.0L18.1 389.0L18.8 392.1L19.6 395.1L20.4 398.1L21.2 401.2L22.0 404.2L22.8 407.2L23.7 410.2L24.6 413.3L25.6 416.3L26.7 419.3L27.9 422.4L29.1 425.4L30.5 428.4L31.9 431.4L33.4 434.5L35.0 437.5L36.7 440.5L38.4 443.6L40.2 446.6L42.1 449.6L44.1 452.6L46.1 455.6L48.2 458.7L50.4 461.7L52.7 464.7L55.1 467.7L57.5 470.7L60.1 473.7L62.6 476.6L65.2 479.6L67.9 482.6L70.6 485.5L73.4 488.5L76.3 491.4L79.3 494.3L82.4 497.3L85.6 500.1L88.8 503.0L92.1 505.9L95.5 508.7L99.0 511.6L102.5 514.4L106.1 517.2L109.7 520.0L879.5 520.0L883.1 517.2L886.7 514.4L890.2 511.6L893.7 508.7L897.1 505.9L900.4 503.0L903.6 500.1L906.8 497.3L909.9 494.3L912.9 491.4L915.8 488.5L918.6 485.5L921.3 482.6L924.0 479.6L926.6 476.6L929.1 473.7L931.7 470.7L934.1 467.7L936.5 464.7L938.8 461.7L941.0 458.7L943.1 455.6L945.1 452.6L947.1 449.6L949.0 446.6L950.8 443.6L952.5 440.5L954.2 437.5L955.8 434.5L957.3 431.4L958.7 428.4L960.1 425.4L961.3 422.4L962.5 419.3L963.6 416.3L964.6 413.3L965.5 410.2L966.4 407.2L967.2 404.2L968.0 401.2L968.8 398.1L969.6 395.1L970.4 392.1L971.1 389.0L971.8 386.0L972.4 383.0L973.0 380.0L973.5 376.9L973.9 373.9L974.4 370.9L974.8 367.9L975.1 364.8L975.4 361.8L975.7 358.8L975.9 355.7L976.1 352.7L976.3 349.7L976.5 346.7L976.6 343.6L976.6 340.6L976.6 337.6L976.5 334.5L976.3 331.5L976.1 328.5L975.9 325.5L975.7 322.4L975.4 319.4L975.1 316.4L974.8 313.3L974.4 310.3L973.9 307.3L973.5 304.3L973.0 301.2L972.4 298.2L971.8 295.2L971.1 292.2L970.4 289.1L969.6 286.1L968.8 283.1L968.0 280.0L967.2 277.0L966.4 274.0L965.5 271.0L964.6 267.9L963.6 264.9L962.5 261.9L961.3 258.8L960.1 255.8L958.7 252.8L957.3 249.8L955.8 246.7L954.2 243.7L952.5 240.7L950.8 237.6L949.0 234.6L947.1 231.6L945.1 228.6L943.1 225.6L941.0 222.5L938.8 219.5L936.5 216.5L934.1 213.5L931.7 210.5L929.1 207.5L926.6 204.6L924.0 201.6L921.3 198.6L918.6 195.7L915.8 192.7L912.9 189.8L909.9 186.9L906.8 183.9L903.6 181.1L900.4 178.2L897.1 175.3L893.7 172.5L890.2 169.6L886.7 166.8L883.1 164.0L879.5 161.2L875.9 158.4L872.2 155.7L868.4 153.0L864.6 150.3L860.8 147.6L856.9 145.0L853.0 142.3L849.1 139.7L845.1 137.2L841.0 134.6L836.8 132.1L832.5 129.6L828.2 127.2L823.7 124.8L819.1 122.4L814.3 120.0L809.2 117.7L804.1 115.5L799.0 113.3L794.1 111.2L789.2 109.2L784.3 107.3L779.5 105.5L774.8 103.8L770.4 102.2L766.3 100.9L762.4 99.7L758.6 98.6L754.9 97.5L751.1 96.4Z" fill="none" stroke="#3d3d3d" stroke-width="3.1"/><g stroke="#474747" stroke-width="2.6" stroke-linejoin="miter"><path d="M196.0 183.0L242.0 175.0L250.0 190.0L238.0 206.0L205.0 210.0L198.0 200.0Z" fill="#5a5a5a" stroke="none"/><path d="M165.0 145.0L200.0 137.0L240.0 140.0L255.0 150.0L240.0 162.0L200.0 168.0L170.0 165.0Z" fill="#5a5a5a" stroke="none"/><path d="M195.0 190.0L300.0 188.0L318.0 200.0L305.0 230.0L285.0 250.0L250.0 255.0L225.0 262.0L205.0 250.0L190.0 235.0L188.0 205.0Z" fill="#5a5a5a" stroke="none"/><path d="M480.0 175.0L500.0 168.0L520.0 170.0L545.0 180.0L560.0 200.0L590.0 210.0L600.0 222.0L580.0 232.0L555.0 238.0L520.0 240.0L490.0 240.0L478.0 225.0L478.0 195.0Z" fill="#5a5a5a" stroke="none"/><circle cx="233.3" cy="159.0" r="7.7" fill="#F8E59C" stroke-width="3.2"/><circle cx="246.1" cy="158.1" r="7.7" fill="#F7F6CE" stroke-width="3.2"/><circle cx="223.5" cy="142.1" r="7.7" fill="#F7F6CE" stroke-width="3.2"/><circle cx="218.5" cy="148.6" r="7.7" fill="#F7F6CE" stroke-width="3.2"/><circle cx="216.0" cy="155.1" r="7.7" fill="#F7F6CE" stroke-width="3.2"/><path d="M235.0 133.9L244.2 149.8L225.8 149.8Z" fill="#F7F6CE" stroke-width="3.2"/><circle cx="220.9" cy="163.4" r="7.7" fill="#F7F6CE" stroke-width="3.2"/><circle cx="169.6" cy="153.8" r="7.7" fill="#F8E59C" stroke-width="3.2"/><circle cx="194.2" cy="141.3" r="7.7" fill="#F8E59C" stroke-width="3.2"/><circle cx="243.7" cy="162.1" r="7.7" fill="#F7F6CE" stroke-width="3.2"/><circle cx="181.1" cy="150.9" r="7.7" fill="#F5D174" stroke-width="3.2"/><circle cx="198.9" cy="162.8" r="7.7" fill="#F7F6CE" stroke-width="3.2"/><circle cx="173.7" cy="145.5" r="7.7" fill="#F7F6CE" stroke-width="3.2"/><circle cx="227.4" cy="162.1" r="7.7" fill="#F7F6CE" stroke-width="3.2"/><circle cx="254.0" cy="151.6" r="7.7" fill="#F5D174" stroke-width="3.2"/><circle cx="201.6" cy="161.2" r="7.7" fill="#F7F6CE" stroke-width="3.2"/><circle cx="214.8" cy="173.3" r="7.7" fill="#F8E59C" stroke-width="3.2"/><circle cx="263.1" cy="145.5" r="7.7" fill="#F7F6CE" stroke-width="3.2"/><circle cx="237.5" cy="149.7" r="7.7" fill="#F7F6CE" stroke-width="3.2"/><circle cx="241.3" cy="145.9" r="7.7" fill="#F7F6CE" stroke-width="3.2"/><circle cx="188.2" cy="164.1" r="7.7" fill="#F7F6CE" stroke-width="3.2"/><circle cx="256.3" cy="143.7" r="7.7" fill="#F7F6CE" stroke-width="3.2"/><circle cx="259.6" cy="150.3" r="7.7" fill="#F8E59C" stroke-width="3.2"/><circle cx="244.2" cy="151.2" r="7.7" fill="#F7F6CE" stroke-width="3.2"/><circle cx="176.8" cy="172.2" r="7.7" fill="#F8E59C" stroke-width="3.2"/><circle cx="234.5" cy="164.9" r="7.7" fill="#F8E59C" stroke-width="3.2"/><circle cx="197.2" cy="156.5" r="7.7" fill="#F7F6CE" stroke-width="3.2"/><path d="M213.6 141.5L222.8 157.4L204.4 157.4Z" fill="#F8E59C" stroke-width="3.2"/><circle cx="202.9" cy="167.7" r="7.7" fill="#F7F6CE" stroke-width="3.2"/><circle cx="206.3" cy="147.8" r="7.7" fill="#F7F6CE" stroke-width="3.2"/><circle cx="185.2" cy="171.7" r="7.7" fill="#F7F6CE" stroke-width="3.2"/><path d="M223.3 149.7L232.5 165.6L214.1 165.6Z" fill="#F8E59C" stroke-width="3.2"/><circle cx="195.3" cy="176.2" r="7.7" fill="#F7F6CE" stroke-width="3.2"/><circle cx="248.3" cy="144.4" r="7.7" fill="#F7F6CE" stroke-width="3.2"/><circle cx="191.3" cy="171.3" r="7.7" fill="#F8E59C" stroke-width="3.2"/><circle cx="187.6" cy="178.3" r="7.7" fill="#F7F6CE" stroke-width="3.2"/><circle cx="218.0" cy="141.1" r="7.7" fill="#F5D174" stroke-width="3.2"/><circle cx="208.5" cy="144.3" r="7.7" fill="#F7F6CE" stroke-width="3.2"/><path d="M213.6 155.1L222.8 171.0L204.4 171.0Z" fill="#F8E59C" stroke-width="3.2"/><path d="M183.1 134.5L192.3 150.4L173.9 150.4Z" fill="#F7F6CE" stroke-width="3.2"/><circle cx="208.9" cy="154.5" r="7.7" fill="#F7F6CE" stroke-width="3.2"/><circle cx="181.4" cy="166.5" r="7.7" fill="#F7F6CE" stroke-width="3.2"/><circle cx="174.7" cy="161.3" r="7.7" fill="#F8E59C" stroke-width="3.2"/><circle cx="187.4" cy="152.8" r="7.7" fill="#F2AC4C" stroke-width="3.2"/><circle cx="198.3" cy="149.8" r="7.7" fill="#F7F6CE" stroke-width="3.2"/><circle cx="254.9" cy="154.0" r="7.7" fill="#F7F6CE" stroke-width="3.2"/><circle cx="173.1" cy="157.3" r="7.7" fill="#F8E59C" stroke-width="3.2"/><circle cx="184.5" cy="155.3" r="7.7" fill="#F7F6CE" stroke-width="3.2"/><circle cx="169.4" cy="151.7" r="7.7" fill="#F8E59C" stroke-width="3.2"/><circle cx="225.4" cy="148.9" r="7.7" fill="#F5D174" stroke-width="3.2"/><circle cx="202.8" cy="145.3" r="7.7" fill="#F8E59C" stroke-width="3.2"/><circle cx="237.0" cy="156.6" r="7.7" fill="#F7F6CE" stroke-width="3.2"/><path d="M194.4 146.3L203.6 162.2L185.2 162.2Z" fill="#F7F6CE" stroke-width="3.2"/><circle cx="233.2" cy="168.9" r="7.7" fill="#F7F6CE" stroke-width="3.2"/><path d="M207.3 160.2L216.5 176.1L198.1 176.1Z" fill="#F8E59C" stroke-width="3.2"/><circle cx="207.8" cy="229.2" r="7.7" fill="#F7F6CE" stroke-width="3.2"/><path d="M249.3 225.2L258.5 241.1L240.1 241.1Z" fill="#F7F6CE" stroke-width="3.2"/><path d="M265.0 241.4L274.2 257.3L255.8 257.3Z" fill="#F5D174" stroke-width="3.2"/><circle cx="270.6" cy="226.7" r="7.7" fill="#F5D174" stroke-width="3.2"/><circle cx="254.9" cy="193.1" r="7.7" fill="#F8E59C" stroke-width="3.2"/><path d="M260.6 231.0L269.8 246.9L251.4 246.9Z" fill="#F7F6CE" stroke-width="3.2"/><circle cx="277.8" cy="241.5" r="7.7" fill="#F8E59C" stroke-width="3.2"/><circle cx="263.5" cy="206.3" r="7.7" fill="#F7F6CE" stroke-width="3.2"/><circle cx="311.3" cy="213.5" r="7.7" fill="#F7F6CE" stroke-width="3.2"/><path d="M279.7 220.4L288.9 236.3L270.5 236.3Z" fill="#F7F6CE" stroke-width="3.2"/><path d="M319.8 181.6L329.0 197.5L310.6 197.5Z" fill="#F7F6CE" stroke-width="3.2"/><path d="M236.9 193.2L246.1 209.1L227.7 209.1Z" fill="#F7F6CE" stroke-width="3.2"/><circle cx="282.1" cy="256.3" r="7.7" fill="#F7F6CE" stroke-width="3.2"/><path d="M210.2 194.1L219.4 210.0L201.0 210.0Z" fill="#F7F6CE" stroke-width="3.2"/><path d="M206.2 173.2L215.4 189.1L197.0 189.1Z" fill="#F7F6CE" stroke-width="3.2"/><path d="M198.8 227.8L208.0 243.7L189.6 243.7Z" fill="#F7F6CE" stroke-width="3.2"/><path d="M306.3 217.2L315.5 233.1L297.1 233.1Z" fill="#F7F6CE" stroke-width="3.2"/><circle cx="285.8" cy="196.8" r="7.7" fill="#F5D174" stroke-width="3.2"/><circle cx="208.7" cy="246.9" r="7.7" fill="#F7F6CE" stroke-width="3.2"/><path d="M232.2 199.2L241.4 215.1L223.0 215.1Z" fill="#F7F6CE" stroke-width="3.2"/><circle cx="278.7" cy="198.0" r="7.7" fill="#F7F6CE" stroke-width="3.2"/><path d="M203.7 205.9L212.9 221.8L194.5 221.8Z" fill="#F8E59C" stroke-width="3.2"/><path d="M281.2 172.4L290.4 188.3L272.0 188.3Z" fill="#F8E59C" stroke-width="3.2"/><path d="M265.3 212.2L274.5 228.1L256.1 228.1Z" fill="#F7F6CE" stroke-width="3.2"/><path d="M243.0 260.7L252.2 276.6L233.8 276.6Z" fill="#F7F6CE" stroke-width="3.2"/><circle cx="247.1" cy="257.2" r="7.7" fill="#F7F6CE" stroke-width="3.2"/><circle cx="221.4" cy="269.2" r="7.7" fill="#F8E59C" stroke-width="3.2"/><path d="M215.7 182.4L224.9 198.3L206.5 198.3Z" fill="#F8E59C" stroke-width="3.2"/><path d="M250.2 176.8L259.4 192.7L241.0 192.7Z" fill="#F8E59C" stroke-width="3.2"/><path d="M273.6 213.3L282.8 229.2L264.4 229.2Z" fill="#F8E59C" stroke-width="3.2"/><path d="M247.9 231.2L257.1 247.1L238.7 247.1Z" fill="#F7F6CE" stroke-width="3.2"/><path d="M248.4 173.2L257.6 189.1L239.2 189.1Z" fill="#7E1528" stroke-width="3.2"/><circle cx="259.2" cy="185.8" r="7.7" fill="#F7F6CE" stroke-width="3.2"/><circle cx="199.1" cy="194.6" r="7.7" fill="#F5D174" stroke-width="3.2"/><circle cx="219.3" cy="248.1" r="7.7" fill="#F5D174" stroke-width="3.2"/><circle cx="240.6" cy="208.5" r="7.7" fill="#F7F6CE" stroke-width="3.2"/><path d="M199.8 211.6L209.0 227.5L190.6 227.5Z" fill="#F5D174" stroke-width="3.2"/><path d="M315.6 193.6L324.8 209.5L306.4 209.5Z" fill="#F8E59C" stroke-width="3.2"/><circle cx="288.3" cy="218.1" r="7.7" fill="#F7F6CE" stroke-width="3.2"/><path d="M219.9 207.3L229.1 223.2L210.7 223.2Z" fill="#F7F6CE" stroke-width="3.2"/><path d="M228.2 221.0L237.4 236.9L219.0 236.9Z" fill="#F7F6CE" stroke-width="3.2"/><path d="M226.5 261.0L235.7 276.9L217.3 276.9Z" fill="#F7F6CE" stroke-width="3.2"/><circle cx="225.5" cy="218.2" r="7.7" fill="#F7F6CE" stroke-width="3.2"/><path d="M208.5 196.1L217.7 212.0L199.3 212.0Z" fill="#F8E59C" stroke-width="3.2"/><path d="M222.2 240.7L231.4 256.6L213.0 256.6Z" fill="#F8E59C" stroke-width="3.2"/><path d="M274.8 249.1L284.0 265.0L265.6 265.0Z" fill="#F5D174" stroke-width="3.2"/><circle cx="311.7" cy="191.2" r="7.7" fill="#F7F6CE" stroke-width="3.2"/><path d="M296.5 172.6L305.7 188.5L287.3 188.5Z" fill="#F5D174" stroke-width="3.2"/><circle cx="216.0" cy="237.2" r="7.7" fill="#F8E59C" stroke-width="3.2"/><path d="M279.3 205.1L288.5 221.0L270.1 221.0Z" fill="#F7F6CE" stroke-width="3.2"/><path d="M202.1 177.6L211.3 193.5L192.9 193.5Z" fill="#F8E59C" stroke-width="3.2"/><path d="M197.4 235.0L206.6 250.9L188.2 250.9Z" fill="#F7F6CE" stroke-width="3.2"/><path d="M205.2 193.7L214.4 209.6L196.0 209.6Z" fill="#7E1528" stroke-width="3.2"/><path d="M287.8 231.0L297.0 246.9L278.6 246.9Z" fill="#F7F6CE" stroke-width="3.2"/><path d="M289.2 200.9L298.4 216.8L280.0 216.8Z" fill="#F8E59C" stroke-width="3.2"/><path d="M210.6 233.4L219.8 249.3L201.4 249.3Z" fill="#F8E59C" stroke-width="3.2"/><path d="M208.2 186.6L217.4 202.5L199.0 202.5Z" fill="#F7F6CE" stroke-width="3.2"/><path d="M240.3 267.3L249.5 283.2L231.1 283.2Z" fill="#F5D174" stroke-width="3.2"/><circle cx="296.0" cy="195.6" r="7.7" fill="#7E1528" stroke-width="3.2"/><circle cx="233.3" cy="235.7" r="7.7" fill="#F7F6CE" stroke-width="3.2"/><path d="M256.9 196.4L266.1 212.3L247.7 212.3Z" fill="#F7F6CE" stroke-width="3.2"/><path d="M275.5 227.0L284.7 242.9L266.3 242.9Z" fill="#F7F6CE" stroke-width="3.2"/><path d="M323.4 199.5L332.6 215.4L314.2 215.4Z" fill="#F7F6CE" stroke-width="3.2"/><path d="M251.3 203.4L260.5 219.3L242.1 219.3Z" fill="#F7F6CE" stroke-width="3.2"/><path d="M292.1 202.9L301.3 218.8L282.9 218.8Z" fill="#F7F6CE" stroke-width="3.2"/><path d="M219.6 210.6L228.8 226.5L210.4 226.5Z" fill="#F7F6CE" stroke-width="3.2"/><path d="M232.3 240.8L241.5 256.7L223.1 256.7Z" fill="#F7F6CE" stroke-width="3.2"/><path d="M255.0 209.5L264.2 225.4L245.8 225.4Z" fill="#F7F6CE" stroke-width="3.2"/><circle cx="295.3" cy="231.6" r="7.7" fill="#F7F6CE" stroke-width="3.2"/><path d="M235.7 175.1L244.9 191.0L226.5 191.0Z" fill="#F7F6CE" stroke-width="3.2"/><circle cx="255.9" cy="238.9" r="7.7" fill="#F7F6CE" stroke-width="3.2"/><path d="M226.4 266.8L235.6 282.7L217.2 282.7Z" fill="#7E1528" stroke-width="3.2"/><path d="M238.5 238.5L247.7 254.4L229.3 254.4Z" fill="#F8E59C" stroke-width="3.2"/><path d="M300.5 203.2L309.7 219.1L291.3 219.1Z" fill="#F8E59C" stroke-width="3.2"/><path d="M227.9 228.0L237.1 243.9L218.7 243.9Z" fill="#F7F6CE" stroke-width="3.2"/><path d="M302.8 230.2L312.0 246.1L293.6 246.1Z" fill="#F7F6CE" stroke-width="3.2"/><path d="M194.4 206.0L203.6 221.9L185.2 221.9Z" fill="#F8E59C" stroke-width="3.2"/><path d="M217.6 197.2L226.8 213.1L208.4 213.1Z" fill="#F8E59C" stroke-width="3.2"/><path d="M238.1 261.9L247.3 277.8L228.9 277.8Z" fill="#F7F6CE" stroke-width="3.2"/><circle cx="265.2" cy="194.4" r="7.7" fill="#F7F6CE" stroke-width="3.2"/><circle cx="244.1" cy="187.3" r="7.7" fill="#F5D174" stroke-width="3.2"/><path d="M222.8 248.5L232.0 264.4L213.6 264.4Z" fill="#F7F6CE" stroke-width="3.2"/><path d="M238.5 173.6L247.7 189.5L229.3 189.5Z" fill="#F7F6CE" stroke-width="3.2"/><circle cx="209.1" cy="236.5" r="7.7" fill="#F7F6CE" stroke-width="3.2"/><circle cx="291.8" cy="198.1" r="7.7" fill="#F8E59C" stroke-width="3.2"/><path d="M288.9 227.0L298.1 242.9L279.7 242.9Z" fill="#F8E59C" stroke-width="3.2"/><path d="M233.3 170.2L242.5 186.1L224.1 186.1Z" fill="#F8E59C" stroke-width="3.2"/><path d="M283.9 207.4L293.1 223.3L274.7 223.3Z" fill="#F8E59C" stroke-width="3.2"/><path d="M266.1 188.9L275.3 204.8L256.9 204.8Z" fill="#F7F6CE" stroke-width="3.2"/><path d="M218.8 189.8L228.0 205.7L209.6 205.7Z" fill="#F7F6CE" stroke-width="3.2"/><circle cx="311.8" cy="221.1" r="7.7" fill="#F8E59C" stroke-width="3.2"/><circle cx="308.4" cy="202.2" r="7.7" fill="#F7F6CE" stroke-width="3.2"/><path d="M270.3 177.3L279.5 193.2L261.1 193.2Z" fill="#F7F6CE" stroke-width="3.2"/><path d="M294.6 216.3L303.8 232.2L285.4 232.2Z" fill="#F8E59C" stroke-width="3.2"/><path d="M304.3 210.7L313.5 226.6L295.1 226.6Z" fill="#F8E59C" stroke-width="3.2"/><circle cx="283.9" cy="251.2" r="7.7" fill="#F7F6CE" stroke-width="3.2"/><circle cx="302.7" cy="234.5" r="7.7" fill="#F7F6CE" stroke-width="3.2"/><circle cx="238.8" cy="214.4" r="7.7" fill="#F7F6CE" stroke-width="3.2"/><path d="M261.6 219.7L270.8 235.6L252.4 235.6Z" fill="#F7F6CE" stroke-width="3.2"/><circle cx="207.3" cy="218.4" r="7.7" fill="#F7F6CE" stroke-width="3.2"/><path d="M240.9 212.0L250.1 227.9L231.7 227.9Z" fill="#F7F6CE" stroke-width="3.2"/><path d="M300.0 190.8L309.2 206.7L290.8 206.7Z" fill="#F7F6CE" stroke-width="3.2"/><circle cx="304.4" cy="203.9" r="7.7" fill="#F7F6CE" stroke-width="3.2"/><circle cx="245.0" cy="228.5" r="7.7" fill="#7E1528" stroke-width="3.2"/><path d="M232.5 266.5L241.7 282.4L223.3 282.4Z" fill="#F7F6CE" stroke-width="3.2"/><circle cx="211.7" cy="214.4" r="7.7" fill="#F7F6CE" stroke-width="3.2"/><path d="M266.1 247.9L275.3 263.8L256.9 263.8Z" fill="#F7F6CE" stroke-width="3.2"/><circle cx="237.6" cy="174.6" r="7.7" fill="#F8E59C" stroke-width="3.2"/><path d="M307.4 186.3L316.6 202.2L298.2 202.2Z" fill="#F8E59C" stroke-width="3.2"/><circle cx="224.2" cy="179.4" r="7.7" fill="#F7F6CE" stroke-width="3.2"/><circle cx="263.4" cy="212.3" r="7.7" fill="#F5D174" stroke-width="3.2"/><path d="M211.0 178.7L220.2 194.6L201.8 194.6Z" fill="#F7F6CE" stroke-width="3.2"/><path d="M256.4 224.7L265.6 240.6L247.2 240.6Z" fill="#F7F6CE" stroke-width="3.2"/><path d="M218.3 180.4L227.5 196.3L209.1 196.3Z" fill="#F7F6CE" stroke-width="3.2"/><path d="M310.9 200.8L320.1 216.7L301.7 216.7Z" fill="#F5D174" stroke-width="3.2"/><circle cx="198.7" cy="187.8" r="7.7" fill="#F7F6CE" stroke-width="3.2"/><circle cx="237.9" cy="242.9" r="7.7" fill="#F8E59C" stroke-width="3.2"/><path d="M281.1 227.5L290.3 243.4L271.9 243.4Z" fill="#F7F6CE" stroke-width="3.2"/><path d="M300.3 221.3L309.5 237.2L291.1 237.2Z" fill="#F7F6CE" stroke-width="3.2"/><path d="M196.5 190.5L205.7 206.4L187.3 206.4Z" fill="#F8E59C" stroke-width="3.2"/><path d="M238.1 252.7L247.3 268.6L228.9 268.6Z" fill="#F8E59C" stroke-width="3.2"/><path d="M274.1 186.3L283.3 202.2L264.9 202.2Z" fill="#F8E59C" stroke-width="3.2"/><path d="M266.1 207.7L275.3 223.6L256.9 223.6Z" fill="#F8E59C" stroke-width="3.2"/><path d="M287.3 178.4L296.5 194.3L278.1 194.3Z" fill="#F7F6CE" stroke-width="3.2"/><path d="M249.1 210.6L258.3 226.5L239.9 226.5Z" fill="#F7F6CE" stroke-width="3.2"/><circle cx="239.7" cy="232.5" r="7.7" fill="#F7F6CE" stroke-width="3.2"/><path d="M257.0 242.1L266.2 258.0L247.8 258.0Z" fill="#F8E59C" stroke-width="3.2"/><path d="M316.1 203.8L325.3 219.7L306.9 219.7Z" fill="#F7F6CE" stroke-width="3.2"/><path d="M226.2 186.4L235.4 202.3L217.0 202.3Z" fill="#E95235" stroke-width="3.2"/><path d="M226.1 199.6L235.3 215.5L216.9 215.5Z" fill="#F7F6CE" stroke-width="3.2"/><circle cx="278.4" cy="190.9" r="7.7" fill="#F7F6CE" stroke-width="3.2"/><path d="M226.3 194.4L235.5 210.3L217.1 210.3Z" fill="#F8E59C" stroke-width="3.2"/><circle cx="201.7" cy="250.2" r="7.7" fill="#F8E59C" stroke-width="3.2"/><circle cx="219.4" cy="260.1" r="7.7" fill="#F8E59C" stroke-width="3.2"/><path d="M194.4 228.9L203.6 244.8L185.2 244.8Z" fill="#F8E59C" stroke-width="3.2"/><path d="M249.0 196.3L258.2 212.2L239.8 212.2Z" fill="#F7F6CE" stroke-width="3.2"/><circle cx="244.0" cy="199.0" r="7.7" fill="#F5D174" stroke-width="3.2"/><path d="M241.9 182.7L251.1 198.6L232.7 198.6Z" fill="#F7F6CE" stroke-width="3.2"/><circle cx="230.0" cy="221.8" r="7.7" fill="#F8E59C" stroke-width="3.2"/><circle cx="235.5" cy="254.5" r="7.7" fill="#F7F6CE" stroke-width="3.2"/><circle cx="273.5" cy="205.0" r="7.7" fill="#F7F6CE" stroke-width="3.2"/><circle cx="302.6" cy="182.9" r="7.7" fill="#F8E59C" stroke-width="3.2"/><path d="M262.8 192.4L272.0 208.3L253.6 208.3Z" fill="#F7F6CE" stroke-width="3.2"/><path d="M207.4 233.8L216.6 249.7L198.2 249.7Z" fill="#F7F6CE" stroke-width="3.2"/><circle cx="291.5" cy="192.3" r="7.7" fill="#F8E59C" stroke-width="3.2"/><path d="M224.7 253.7L233.9 269.6L215.5 269.6Z" fill="#F8E59C" stroke-width="3.2"/><path d="M222.7 217.5L231.9 233.4L213.5 233.4Z" fill="#F7F6CE" stroke-width="3.2"/><circle cx="278.3" cy="204.4" r="7.7" fill="#F7F6CE" stroke-width="3.2"/><circle cx="222.2" cy="242.7" r="7.7" fill="#F7F6CE" stroke-width="3.2"/><path d="M256.4 168.2L265.6 184.1L247.2 184.1Z" fill="#F5D174" stroke-width="3.2"/><circle cx="254.3" cy="260.3" r="7.7" fill="#F8E59C" stroke-width="3.2"/><circle cx="325.2" cy="200.8" r="7.7" fill="#F7F6CE" stroke-width="3.2"/><circle cx="273.8" cy="249.1" r="7.7" fill="#F8E59C" stroke-width="3.2"/><path d="M238.7 216.6L247.9 232.5L229.5 232.5Z" fill="#F7F6CE" stroke-width="3.2"/><path d="M247.1 253.1L256.3 269.0L237.9 269.0Z" fill="#F7F6CE" stroke-width="3.2"/><path d="M268.9 234.3L278.1 250.2L259.7 250.2Z" fill="#F7F6CE" stroke-width="3.2"/><circle cx="294.6" cy="218.2" r="7.7" fill="#F7F6CE" stroke-width="3.2"/><path d="M227.3 176.1L236.5 192.0L218.1 192.0Z" fill="#F8E59C" stroke-width="3.2"/><circle cx="254.7" cy="253.1" r="7.7" fill="#F8E59C" stroke-width="3.2"/><circle cx="253.3" cy="228.5" r="7.7" fill="#F7F6CE" stroke-width="3.2"/><circle cx="281.5" cy="217.6" r="7.7" fill="#F7F6CE" stroke-width="3.2"/><circle cx="282.1" cy="228.4" r="7.7" fill="#F8E59C" stroke-width="3.2"/><circle cx="263.8" cy="235.4" r="7.7" fill="#F8E59C" stroke-width="3.2"/><path d="M216.5 171.6L225.7 187.5L207.3 187.5Z" fill="#F5D174" stroke-width="3.2"/><circle cx="296.6" cy="208.0" r="7.7" fill="#F7F6CE" stroke-width="3.2"/><path d="M246.4 204.5L255.6 220.4L237.2 220.4Z" fill="#F7F6CE" stroke-width="3.2"/><circle cx="288.3" cy="246.9" r="7.7" fill="#F7F6CE" stroke-width="3.2"/><circle cx="231.8" cy="242.6" r="7.7" fill="#F7F6CE" stroke-width="3.2"/><circle cx="199.9" cy="226.0" r="7.7" fill="#F7F6CE" stroke-width="3.2"/><path d="M192.1 213.4L201.3 229.3L182.9 229.3Z" fill="#F7F6CE" stroke-width="3.2"/><path d="M200.2 201.2L209.4 217.1L191.0 217.1Z" fill="#F7F6CE" stroke-width="3.2"/><circle cx="226.1" cy="211.2" r="7.7" fill="#F7F6CE" stroke-width="3.2"/><path d="M293.6 174.8L302.8 190.7L284.4 190.7Z" fill="#F7F6CE" stroke-width="3.2"/><path d="M311.4 223.6L320.6 239.5L302.2 239.5Z" fill="#F7F6CE" stroke-width="3.2"/><path d="M263.3 248.3L272.5 264.2L254.1 264.2Z" fill="#F8E59C" stroke-width="3.2"/><path d="M231.6 255.2L240.8 271.1L222.4 271.1Z" fill="#F7F6CE" stroke-width="3.2"/><circle cx="191.4" cy="207.0" r="7.7" fill="#F7F6CE" stroke-width="3.2"/><path d="M226.6 248.5L235.8 264.4L217.4 264.4Z" fill="#7E1528" stroke-width="3.2"/><path d="M205.8 245.3L215.0 261.2L196.6 261.2Z" fill="#F8E59C" stroke-width="3.2"/><path d="M275.6 174.9L284.8 190.8L266.4 190.8Z" fill="#F8E59C" stroke-width="3.2"/><circle cx="252.8" cy="200.5" r="7.7" fill="#F7F6CE" stroke-width="3.2"/><circle cx="214.6" cy="228.9" r="7.7" fill="#F7F6CE" stroke-width="3.2"/><path d="M294.2 232.4L303.4 248.3L285.0 248.3Z" fill="#F8E59C" stroke-width="3.2"/><path d="M248.9 240.5L258.1 256.4L239.7 256.4Z" fill="#F7F6CE" stroke-width="3.2"/><circle cx="248.3" cy="191.2" r="7.7" fill="#F7F6CE" stroke-width="3.2"/><path d="M265.3 169.7L274.5 185.6L256.1 185.6Z" fill="#F7F6CE" stroke-width="3.2"/><path d="M215.1 248.3L224.3 264.2L205.9 264.2Z" fill="#F8E59C" stroke-width="3.2"/><path d="M232.4 186.7L241.6 202.6L223.2 202.6Z" fill="#F8E59C" stroke-width="3.2"/><circle cx="194.9" cy="189.8" r="7.7" fill="#F7F6CE" stroke-width="3.2"/><circle cx="495.2" cy="167.0" r="7.7" fill="#7E1528" stroke-width="3.2"/><path d="M492.4 229.5L501.6 245.4L483.2 245.4Z" fill="#F8E59C" stroke-width="3.2"/><path d="M539.1 221.5L548.3 237.4L529.9 237.4Z" fill="#F7F6CE" stroke-width="3.2"/><path d="M567.8 196.0L577.0 211.9L558.6 211.9Z" fill="#F8E59C" stroke-width="3.2"/><circle cx="511.6" cy="147.2" r="7.7" fill="#F7F6CE" stroke-width="3.2"/><path d="M500.3 163.6L509.5 179.5L491.1 179.5Z" fill="#F8E59C" stroke-width="3.2"/><path d="M565.5 136.0L574.7 151.9L556.3 151.9Z" fill="#F8E59C" stroke-width="3.2"/><path d="M575.6 209.0L584.8 224.9L566.4 224.9Z" fill="#F7F6CE" stroke-width="3.2"/><path d="M512.5 144.2L521.7 160.1L503.3 160.1Z" fill="#F7F6CE" stroke-width="3.2"/><circle cx="512.6" cy="230.7" r="7.7" fill="#F7F6CE" stroke-width="3.2"/><circle cx="486.8" cy="229.2" r="7.7" fill="#7E1528" stroke-width="3.2"/><circle cx="534.4" cy="147.1" r="7.7" fill="#F7F6CE" stroke-width="3.2"/><circle cx="501.6" cy="159.6" r="7.7" fill="#F7F6CE" stroke-width="3.2"/><circle cx="511.9" cy="181.9" r="7.7" fill="#F7F6CE" stroke-width="3.2"/><path d="M516.5 189.1L525.7 205.0L507.3 205.0Z" fill="#F7F6CE" stroke-width="3.2"/><circle cx="568.8" cy="151.3" r="7.7" fill="#F5D174" stroke-width="3.2"/><circle cx="585.0" cy="210.7" r="7.7" fill="#F8E59C" stroke-width="3.2"/><circle cx="513.1" cy="225.0" r="7.7" fill="#F8E59C" stroke-width="3.2"/><circle cx="548.9" cy="154.6" r="7.7" fill="#F7F6CE" stroke-width="3.2"/><circle cx="544.9" cy="186.3" r="7.7" fill="#F8E59C" stroke-width="3.2"/><circle cx="532.3" cy="195.8" r="7.7" fill="#F7F6CE" stroke-width="3.2"/><path d="M601.2 214.0L610.4 229.9L592.0 229.9Z" fill="#F7F6CE" stroke-width="3.2"/><circle cx="580.9" cy="214.5" r="7.7" fill="#F7F6CE" stroke-width="3.2"/><path d="M515.5 203.5L524.7 219.4L506.3 219.4Z" fill="#F7F6CE" stroke-width="3.2"/><path d="M552.0 175.5L561.2 191.4L542.8 191.4Z" fill="#7E1528" stroke-width="3.2"/><circle cx="532.1" cy="213.2" r="7.7" fill="#F7F6CE" stroke-width="3.2"/><circle cx="552.7" cy="153.0" r="7.7" fill="#F7F6CE" stroke-width="3.2"/><circle cx="602.4" cy="209.0" r="7.7" fill="#F5D174" stroke-width="3.2"/><path d="M521.0 203.1L530.2 219.0L511.8 219.0Z" fill="#F8E59C" stroke-width="3.2"/><path d="M500.9 207.8L510.1 223.7L491.7 223.7Z" fill="#F8E59C" stroke-width="3.2"/><path d="M515.7 132.9L524.9 148.8L506.5 148.8Z" fill="#F8E59C" stroke-width="3.2"/><circle cx="527.7" cy="216.7" r="7.7" fill="#F7F6CE" stroke-width="3.2"/><path d="M595.1 199.9L604.3 215.8L585.9 215.8Z" fill="#F5D174" stroke-width="3.2"/><path d="M492.8 177.6L502.0 193.5L483.6 193.5Z" fill="#F7F6CE" stroke-width="3.2"/><circle cx="523.3" cy="203.3" r="7.7" fill="#F7F6CE" stroke-width="3.2"/><path d="M585.4 214.3L594.6 230.2L576.2 230.2Z" fill="#F8E59C" stroke-width="3.2"/><circle cx="500.2" cy="224.1" r="7.7" fill="#F7F6CE" stroke-width="3.2"/><path d="M561.6 216.0L570.8 231.9L552.4 231.9Z" fill="#F7F6CE" stroke-width="3.2"/><circle cx="514.6" cy="165.0" r="7.7" fill="#F7F6CE" stroke-width="3.2"/><path d="M555.5 130.7L564.7 146.6L546.3 146.6Z" fill="#7E1528" stroke-width="3.2"/><circle cx="507.8" cy="199.8" r="7.7" fill="#F8E59C" stroke-width="3.2"/><circle cx="478.1" cy="173.2" r="7.7" fill="#F7F6CE" stroke-width="3.2"/><circle cx="522.3" cy="142.4" r="7.7" fill="#F7F6CE" stroke-width="3.2"/><path d="M523.9 220.5L533.1 236.4L514.7 236.4Z" fill="#F7F6CE" stroke-width="3.2"/><circle cx="577.8" cy="210.1" r="7.7" fill="#7E1528" stroke-width="3.2"/><path d="M480.3 200.5L489.5 216.4L471.1 216.4Z" fill="#F7F6CE" stroke-width="3.2"/><circle cx="475.4" cy="227.1" r="7.7" fill="#F7F6CE" stroke-width="3.2"/><circle cx="476.4" cy="207.5" r="7.7" fill="#F7F6CE" stroke-width="3.2"/><circle cx="550.2" cy="229.0" r="7.7" fill="#F7F6CE" stroke-width="3.2"/><circle cx="549.3" cy="148.6" r="7.7" fill="#F7F6CE" stroke-width="3.2"/><path d="M482.0 176.1L491.2 192.0L472.8 192.0Z" fill="#F8E59C" stroke-width="3.2"/><path d="M554.0 159.6L563.2 175.5L544.8 175.5Z" fill="#F8E59C" stroke-width="3.2"/><circle cx="553.8" cy="211.7" r="7.7" fill="#F7F6CE" stroke-width="3.2"/><circle cx="535.6" cy="181.1" r="7.7" fill="#F7F6CE" stroke-width="3.2"/><circle cx="534.1" cy="177.0" r="7.7" fill="#F7F6CE" stroke-width="3.2"/><circle cx="483.9" cy="242.7" r="7.7" fill="#D62323" stroke-width="3.2"/><circle cx="551.4" cy="187.5" r="7.7" fill="#F7F6CE" stroke-width="3.2"/><circle cx="578.4" cy="234.3" r="7.7" fill="#F7F6CE" stroke-width="3.2"/><circle cx="471.8" cy="175.9" r="7.7" fill="#7E1528" stroke-width="3.2"/><path d="M528.9 155.3L538.1 171.2L519.7 171.2Z" fill="#F7F6CE" stroke-width="3.2"/><path d="M570.5 227.9L579.7 243.8L561.3 243.8Z" fill="#F8E59C" stroke-width="3.2"/><path d="M479.5 233.6L488.7 249.5L470.3 249.5Z" fill="#F8E59C" stroke-width="3.2"/><path d="M508.6 177.8L517.8 193.7L499.4 193.7Z" fill="#F7F6CE" stroke-width="3.2"/><circle cx="475.5" cy="195.1" r="7.7" fill="#F8E59C" stroke-width="3.2"/><path d="M583.6 220.7L592.8 236.6L574.4 236.6Z" fill="#D62323" stroke-width="3.2"/><circle cx="549.0" cy="222.1" r="7.7" fill="#F8E59C" stroke-width="3.2"/><path d="M495.6 202.7L504.8 218.6L486.4 218.6Z" fill="#F5D174" stroke-width="3.2"/><path d="M528.0 137.0L537.2 152.9L518.8 152.9Z" fill="#7E1528" stroke-width="3.2"/><circle cx="471.7" cy="215.4" r="7.7" fill="#F7F6CE" stroke-width="3.2"/><circle cx="532.4" cy="210.6" r="7.7" fill="#7E1528" stroke-width="3.2"/><path d="M507.3 160.4L516.5 176.3L498.1 176.3Z" fill="#F7F6CE" stroke-width="3.2"/><path d="M522.3 157.1L531.5 173.0L513.1 173.0Z" fill="#F7F6CE" stroke-width="3.2"/><path d="M503.7 221.0L512.9 236.9L494.5 236.9Z" fill="#F5D174" stroke-width="3.2"/><circle cx="523.8" cy="176.3" r="7.7" fill="#F7F6CE" stroke-width="3.2"/><path d="M485.0 193.9L494.2 209.8L475.8 209.8Z" fill="#F7F6CE" stroke-width="3.2"/><path d="M531.4 173.0L540.6 188.9L522.2 188.9Z" fill="#F8E59C" stroke-width="3.2"/><circle cx="488.7" cy="195.4" r="7.7" fill="#F8E59C" stroke-width="3.2"/><path d="M471.8 173.2L481.0 189.1L462.6 189.1Z" fill="#F7F6CE" stroke-width="3.2"/><path d="M507.8 199.0L517.0 214.9L498.6 214.9Z" fill="#F8E59C" stroke-width="3.2"/><path d="M549.4 149.8L558.6 165.7L540.2 165.7Z" fill="#F7F6CE" stroke-width="3.2"/><circle cx="467.9" cy="182.8" r="7.7" fill="#7E1528" stroke-width="3.2"/><circle cx="511.3" cy="236.9" r="7.7" fill="#F7F6CE" stroke-width="3.2"/><circle cx="547.8" cy="142.6" r="7.7" fill="#F7F6CE" stroke-width="3.2"/><path d="M488.5 172.4L497.7 188.3L479.3 188.3Z" fill="#F5D174" stroke-width="3.2"/><path d="M535.6 154.4L544.8 170.3L526.4 170.3Z" fill="#F7F6CE" stroke-width="3.2"/><circle cx="506.6" cy="184.4" r="7.7" fill="#F8E59C" stroke-width="3.2"/><circle cx="598.8" cy="213.6" r="7.7" fill="#7E1528" stroke-width="3.2"/><circle cx="484.1" cy="196.9" r="7.7" fill="#F5D174" stroke-width="3.2"/><circle cx="587.8" cy="215.3" r="7.7" fill="#F7F6CE" stroke-width="3.2"/><path d="M600.2 219.5L609.4 235.4L591.0 235.4Z" fill="#F7F6CE" stroke-width="3.2"/><circle cx="560.8" cy="228.4" r="7.7" fill="#F8E59C" stroke-width="3.2"/><path d="M530.1 217.3L539.3 233.2L520.9 233.2Z" fill="#F8E59C" stroke-width="3.2"/><path d="M540.1 144.0L549.3 159.9L530.9 159.9Z" fill="#F8E59C" stroke-width="3.2"/><path d="M560.1 195.9L569.3 211.8L550.9 211.8Z" fill="#F7F6CE" stroke-width="3.2"/><circle cx="552.7" cy="202.6" r="7.7" fill="#F8E59C" stroke-width="3.2"/><path d="M471.1 215.6L480.3 231.5L461.9 231.5Z" fill="#F7F6CE" stroke-width="3.2"/><path d="M538.5 212.9L547.7 228.8L529.3 228.8Z" fill="#F7F6CE" stroke-width="3.2"/><path d="M539.6 209.2L548.8 225.1L530.4 225.1Z" fill="#F7F6CE" stroke-width="3.2"/><path d="M592.1 220.6L601.3 236.5L582.9 236.5Z" fill="#F5D174" stroke-width="3.2"/><circle cx="535.7" cy="133.5" r="7.7" fill="#F8E59C" stroke-width="3.2"/><path d="M485.0 178.0L494.2 193.9L475.8 193.9Z" fill="#F7F6CE" stroke-width="3.2"/><circle cx="511.3" cy="215.7" r="7.7" fill="#F7F6CE" stroke-width="3.2"/><path d="M490.4 198.2L499.6 214.1L481.2 214.1Z" fill="#F7F6CE" stroke-width="3.2"/><path d="M495.4 163.7L504.6 179.6L486.2 179.6Z" fill="#F8E59C" stroke-width="3.2"/><circle cx="518.4" cy="175.0" r="7.7" fill="#F8E59C" stroke-width="3.2"/><path d="M526.1 126.1L535.3 142.0L516.9 142.0Z" fill="#F7F6CE" stroke-width="3.2"/><path d="M564.5 221.9L573.7 237.8L555.3 237.8Z" fill="#F7F6CE" stroke-width="3.2"/><circle cx="563.3" cy="207.3" r="7.7" fill="#F8E59C" stroke-width="3.2"/><path d="M477.2 195.4L486.4 211.3L468.0 211.3Z" fill="#F7F6CE" stroke-width="3.2"/><circle cx="515.7" cy="147.6" r="7.7" fill="#F7F6CE" stroke-width="3.2"/><path d="M546.1 185.1L555.3 201.0L536.9 201.0Z" fill="#F7F6CE" stroke-width="3.2"/><path d="M518.6 205.9L527.8 221.8L509.4 221.8Z" fill="#F7F6CE" stroke-width="3.2"/><circle cx="550.7" cy="213.3" r="7.7" fill="#F7F6CE" stroke-width="3.2"/><path d="M539.5 160.0L548.7 175.9L530.3 175.9Z" fill="#F7F6CE" stroke-width="3.2"/><circle cx="505.5" cy="155.7" r="7.7" fill="#F7F6CE" stroke-width="3.2"/><path d="M607.5 209.7L616.7 225.6L598.3 225.6Z" fill="#F8E59C" stroke-width="3.2"/><circle cx="540.9" cy="202.8" r="7.7" fill="#F7F6CE" stroke-width="3.2"/><circle cx="520.6" cy="224.1" r="7.7" fill="#F8E59C" stroke-width="3.2"/><path d="M571.3 234.0L580.5 249.9L562.1 249.9Z" fill="#F7F6CE" stroke-width="3.2"/><path d="M541.8 138.3L551.0 154.2L532.6 154.2Z" fill="#F8E59C" stroke-width="3.2"/><path d="M560.2 129.1L569.4 145.0L551.0 145.0Z" fill="#F7F6CE" stroke-width="3.2"/><circle cx="486.9" cy="176.8" r="7.7" fill="#F7F6CE" stroke-width="3.2"/><path d="M519.2 228.7L528.4 244.6L510.0 244.6Z" fill="#F8E59C" stroke-width="3.2"/><path d="M532.8 219.0L542.0 234.9L523.6 234.9Z" fill="#F7F6CE" stroke-width="3.2"/><circle cx="506.8" cy="192.6" r="7.7" fill="#F7F6CE" stroke-width="3.2"/><path d="M536.0 202.3L545.2 218.2L526.8 218.2Z" fill="#F7F6CE" stroke-width="3.2"/><path d="M477.4 181.6L486.6 197.5L468.2 197.5Z" fill="#F7F6CE" stroke-width="3.2"/><circle cx="503.5" cy="222.5" r="7.7" fill="#F5D174" stroke-width="3.2"/><path d="M571.9 200.6L581.1 216.5L562.7 216.5Z" fill="#F7F6CE" stroke-width="3.2"/><circle cx="527.9" cy="168.5" r="7.7" fill="#F7F6CE" stroke-width="3.2"/><circle cx="559.5" cy="155.2" r="7.7" fill="#F7F6CE" stroke-width="3.2"/><path d="M483.5 213.2L492.7 229.1L474.3 229.1Z" fill="#F7F6CE" stroke-width="3.2"/><circle cx="539.5" cy="173.5" r="7.7" fill="#F8E59C" stroke-width="3.2"/><circle cx="535.1" cy="141.8" r="7.7" fill="#F8E59C" stroke-width="3.2"/><path d="M546.2 199.3L555.4 215.2L537.0 215.2Z" fill="#F7F6CE" stroke-width="3.2"/><circle cx="581.7" cy="246.0" r="7.7" fill="#F7F6CE" stroke-width="3.2"/><path d="M555.7 184.7L564.9 200.6L546.5 200.6Z" fill="#F7F6CE" stroke-width="3.2"/><circle cx="512.9" cy="171.6" r="7.7" fill="#F8E59C" stroke-width="3.2"/><circle cx="555.9" cy="172.4" r="7.7" fill="#F7F6CE" stroke-width="3.2"/><circle cx="567.9" cy="215.2" r="7.7" fill="#F7F6CE" stroke-width="3.2"/><circle cx="518.2" cy="229.7" r="7.7" fill="#F7F6CE" stroke-width="3.2"/><path d="M496.0 173.5L505.2 189.4L486.8 189.4Z" fill="#F7F6CE" stroke-width="3.2"/><circle cx="545.4" cy="182.5" r="7.7" fill="#F7F6CE" stroke-width="3.2"/><path d="M499.6 192.1L508.8 208.0L490.4 208.0Z" fill="#F7F6CE" stroke-width="3.2"/><path d="M524.3 188.0L533.5 203.9L515.1 203.9Z" fill="#F7F6CE" stroke-width="3.2"/><path d="M479.8 226.1L489.0 242.0L470.6 242.0Z" fill="#F7F6CE" stroke-width="3.2"/><path d="M520.9 179.7L530.1 195.6L511.7 195.6Z" fill="#F5D174" stroke-width="3.2"/><path d="M518.0 194.0L527.2 209.9L508.8 209.9Z" fill="#F8E59C" stroke-width="3.2"/><path d="M534.7 196.1L543.9 212.0L525.5 212.0Z" fill="#F7F6CE" stroke-width="3.2"/><path d="M476.2 208.0L485.4 223.9L467.0 223.9Z" fill="#F7F6CE" stroke-width="3.2"/><path d="M591.4 213.1L600.6 229.0L582.2 229.0Z" fill="#F7F6CE" stroke-width="3.2"/><circle cx="585.1" cy="236.2" r="7.7" fill="#D62323" stroke-width="3.2"/><path d="M538.5 188.6L547.7 204.5L529.3 204.5Z" fill="#F8E59C" stroke-width="3.2"/><circle cx="512.2" cy="160.3" r="7.7" fill="#F7F6CE" stroke-width="3.2"/><path d="M521.7 170.5L530.9 186.4L512.5 186.4Z" fill="#7E1528" stroke-width="3.2"/><path d="M496.7 205.7L505.9 221.6L487.5 221.6Z" fill="#F7F6CE" stroke-width="3.2"/><path d="M528.0 134.5L537.2 150.4L518.8 150.4Z" fill="#F7F6CE" stroke-width="3.2"/><circle cx="487.1" cy="214.6" r="7.7" fill="#F7F6CE" stroke-width="3.2"/><circle cx="470.8" cy="189.2" r="7.7" fill="#F7F6CE" stroke-width="3.2"/><path d="M559.9 152.9L569.1 168.8L550.7 168.8Z" fill="#F7F6CE" stroke-width="3.2"/><path d="M496.0 223.7L505.2 239.6L486.8 239.6Z" fill="#F7F6CE" stroke-width="3.2"/><path d="M523.6 180.9L532.8 196.8L514.4 196.8Z" fill="#F8E59C" stroke-width="3.2"/><circle cx="587.9" cy="245.3" r="7.7" fill="#F8E59C" stroke-width="3.2"/><path d="M558.4 125.7L567.6 141.6L549.2 141.6Z" fill="#F7F6CE" stroke-width="3.2"/><path d="M496.2 192.6L505.4 208.5L487.0 208.5Z" fill="#F8E59C" stroke-width="3.2"/><path d="M520.6 147.6L529.8 163.5L511.4 163.5Z" fill="#F7F6CE" stroke-width="3.2"/><circle cx="536.6" cy="191.3" r="7.7" fill="#F8E59C" stroke-width="3.2"/><circle cx="580.2" cy="224.0" r="7.7" fill="#F8E59C" stroke-width="3.2"/><path d="M470.2 192.3L479.4 208.2L461.0 208.2Z" fill="#F8E59C" stroke-width="3.2"/><circle cx="488.4" cy="225.2" r="7.7" fill="#F7F6CE" stroke-width="3.2"/><circle cx="499.4" cy="197.4" r="7.7" fill="#F8E59C" stroke-width="3.2"/><circle cx="559.4" cy="215.5" r="7.7" fill="#F5D174" stroke-width="3.2"/><path d="M545.1 162.2L554.3 178.1L535.9 178.1Z" fill="#F7F6CE" stroke-width="3.2"/><path d="M570.9 214.9L580.1 230.8L561.7 230.8Z" fill="#F7F6CE" stroke-width="3.2"/><circle cx="552.0" cy="172.8" r="7.7" fill="#F8E59C" stroke-width="3.2"/><circle cx="504.6" cy="190.1" r="7.7" fill="#F8E59C" stroke-width="3.2"/><circle cx="573.7" cy="227.3" r="7.7" fill="#F7F6CE" stroke-width="3.2"/><circle cx="519.5" cy="163.3" r="7.7" fill="#F7F6CE" stroke-width="3.2"/><path d="M543.3 154.0L552.5 169.9L534.1 169.9Z" fill="#F7F6CE" stroke-width="3.2"/><path d="M556.2 139.6L565.4 155.5L547.0 155.5Z" fill="#F7F6CE" stroke-width="3.2"/><path d="M553.2 215.3L562.4 231.2L544.0 231.2Z" fill="#F7F6CE" stroke-width="3.2"/><path d="M529.8 143.2L539.0 159.1L520.6 159.1Z" fill="#F7F6CE" stroke-width="3.2"/><path d="M496.9 228.1L506.1 244.0L487.7 244.0Z" fill="#F7F6CE" stroke-width="3.2"/><circle cx="685.6" cy="187.5" r="7.7" fill="#F7F6CE" stroke-width="3.2"/><circle cx="726.8" cy="188.7" r="7.7" fill="#F7F6CE" stroke-width="3.2"/><circle cx="685.3" cy="223.1" r="7.7" fill="#F8E59C" stroke-width="3.2"/><circle cx="718.1" cy="188.7" r="7.7" fill="#F8E59C" stroke-width="3.2"/><circle cx="679.1" cy="235.9" r="7.7" fill="#F7F6CE" stroke-width="3.2"/><circle cx="720.5" cy="256.7" r="7.7" fill="#F8E59C" stroke-width="3.2"/><circle cx="708.1" cy="255.2" r="7.7" fill="#7E1528" stroke-width="3.2"/><circle cx="734.2" cy="247.7" r="7.7" fill="#F7F6CE" stroke-width="3.2"/><circle cx="715.8" cy="248.9" r="7.7" fill="#F7F6CE" stroke-width="3.2"/><path d="M685.7 238.4L694.9 254.3L676.5 254.3Z" fill="#F7F6CE" stroke-width="3.2"/><circle cx="675.0" cy="228.3" r="7.7" fill="#F7F6CE" stroke-width="3.2"/><circle cx="689.9" cy="239.4" r="7.7" fill="#F7F6CE" stroke-width="3.2"/><circle cx="725.6" cy="256.1" r="7.7" fill="#F7F6CE" stroke-width="3.2"/><circle cx="754.8" cy="194.1" r="7.7" fill="#F7F6CE" stroke-width="3.2"/><circle cx="710.9" cy="192.5" r="7.7" fill="#F7F6CE" stroke-width="3.2"/><circle cx="734.6" cy="194.9" r="7.7" fill="#F7F6CE" stroke-width="3.2"/><circle cx="753.7" cy="247.9" r="7.7" fill="#F7F6CE" stroke-width="3.2"/><circle cx="675.4" cy="197.2" r="7.7" fill="#F7F6CE" stroke-width="3.2"/><circle cx="680.4" cy="192.2" r="7.7" fill="#F7F6CE" stroke-width="3.2"/><circle cx="671.6" cy="212.2" r="7.7" fill="#F7F6CE" stroke-width="3.2"/><path d="M756.5 246.8L765.7 262.7L747.3 262.7Z" fill="#F7F6CE" stroke-width="3.2"/><circle cx="675.3" cy="223.2" r="7.7" fill="#F7F6CE" stroke-width="3.2"/><circle cx="678.4" cy="202.9" r="7.7" fill="#F8E59C" stroke-width="3.2"/><circle cx="694.9" cy="197.6" r="7.7" fill="#F8E59C" stroke-width="3.2"/><circle cx="736.1" cy="255.9" r="7.7" fill="#F8E59C" stroke-width="3.2"/><circle cx="746.2" cy="253.3" r="7.7" fill="#F7F6CE" stroke-width="3.2"/><circle cx="692.7" cy="249.2" r="7.7" fill="#F7F6CE" stroke-width="3.2"/><circle cx="703.4" cy="245.0" r="7.7" fill="#F7F6CE" stroke-width="3.2"/><circle cx="697.7" cy="204.9" r="7.7" fill="#F7F6CE" stroke-width="3.2"/><circle cx="699.3" cy="187.6" r="7.7" fill="#F7F6CE" stroke-width="3.2"/><circle cx="740.7" cy="248.6" r="7.7" fill="#F8E59C" stroke-width="3.2"/><circle cx="704.5" cy="197.2" r="7.7" fill="#F7F6CE" stroke-width="3.2"/><circle cx="727.5" cy="202.7" r="7.7" fill="#F7F6CE" stroke-width="3.2"/><circle cx="676.1" cy="189.0" r="7.7" fill="#F7F6CE" stroke-width="3.2"/><circle cx="725.8" cy="192.4" r="7.7" fill="#F7F6CE" stroke-width="3.2"/><circle cx="687.2" cy="200.7" r="7.7" fill="#F7F6CE" stroke-width="3.2"/><circle cx="725.0" cy="247.1" r="7.7" fill="#F7F6CE" stroke-width="3.2"/><circle cx="741.6" cy="195.5" r="7.7" fill="#F7F6CE" stroke-width="3.2"/><circle cx="683.8" cy="214.4" r="7.7" fill="#F7F6CE" stroke-width="3.2"/><circle cx="680.8" cy="232.1" r="7.7" fill="#F7F6CE" stroke-width="3.2"/><path d="M700.3 244.4L709.5 260.3L691.1 260.3Z" fill="#F7F6CE" stroke-width="3.2"/><circle cx="157.6" cy="144.6" r="7.7" fill="#F7F6CE"/><circle cx="164.4" cy="155.9" r="7.7" fill="#F8E59C"/><circle cx="173.5" cy="141.2" r="7.7" fill="#F2AC4C"/><circle cx="177.5" cy="164.0" r="7.7" fill="#F7F6CE"/><circle cx="179.7" cy="157.0" r="7.7" fill="#F7F6CE"/><circle cx="162.1" cy="168.4" r="7.7" fill="#F8E59C"/><circle cx="196.8" cy="158.0" r="7.7" fill="#7E1528"/><path d="M197.3 141.7L206.5 157.6L188.1 157.6Z" fill="#F8E59C"/><path d="M199.6 123.8L208.8 139.7L190.4 139.7Z" fill="#F7F6CE"/><circle cx="221.7" cy="158.2" r="7.7" fill="#F8E59C"/><circle cx="221.2" cy="139.5" r="7.7" fill="#F2AC4C"/><circle cx="234.2" cy="136.6" r="7.7" fill="#F7F6CE"/><circle cx="251.8" cy="144.0" r="7.7" fill="#F8E59C"/><circle cx="264.9" cy="142.3" r="7.7" fill="#F8E59C"/><circle cx="242.2" cy="159.3" r="7.7" fill="#F8E59C"/><circle cx="258.1" cy="155.9" r="7.7" fill="#F8E59C"/><circle cx="208.7" cy="168.4" r="7.7" fill="#F8E59C"/><circle cx="278.5" cy="160.5" r="7.7" fill="#F7F6CE"/><circle cx="292.1" cy="165.0" r="7.7" fill="#F7F6CE"/><circle cx="268.3" cy="170.7" r="7.7" fill="#F7F6CE"/><circle cx="236.5" cy="175.2" r="7.7" fill="#F7F6CE"/><circle cx="255.8" cy="177.5" r="7.7" fill="#F5D174"/><circle cx="297.8" cy="179.8" r="7.7" fill="#F5D174"/><circle cx="316.0" cy="178.6" r="7.7" fill="#7E1528"/><circle cx="317.1" cy="188.8" r="7.7" fill="#F8E59C"/><circle cx="330.0" cy="177.5" r="7.7" fill="#7E1528"/><circle cx="337.0" cy="177.5" r="7.7" fill="#F7F6CE"/><circle cx="337.5" cy="194.5" r="7.7" fill="#F7F6CE"/><circle cx="333.0" cy="203.6" r="7.7" fill="#F7F6CE"/><circle cx="327.3" cy="207.5" r="7.7" fill="#7E1528"/><path d="M314.8 199.7L324.0 215.6L305.6 215.6Z" fill="#F7F6CE"/><circle cx="204.1" cy="201.3" r="7.7" fill="#F7F6CE"/><circle cx="225.2" cy="211.0" r="7.7" fill="#F7F6CE"/><path d="M245.0 199.2L254.2 215.1L235.8 215.1Z" fill="#F8E59C"/><path d="M278.0 191.3L287.2 207.2L268.8 207.2Z" fill="#F8E59C"/><path d="M192.2 222.7L201.4 238.6L183.0 238.6Z" fill="#F8E59C"/><path d="M192.2 217.7L201.4 233.6L183.0 233.6Z" fill="#F7F6CE"/><path d="M192.2 212.9L201.4 228.8L183.0 228.8Z" fill="#F8E59C"/><path d="M266.0 212.9L275.2 228.8L256.8 228.8Z" fill="#F7F6CE"/><path d="M295.5 218.5L304.7 234.4L286.3 234.4Z" fill="#F7F6CE"/><path d="M279.6 221.9L288.8 237.8L270.4 237.8Z" fill="#7E1528"/><circle cx="226.3" cy="236.0" r="7.7" fill="#7E1528"/><path d="M247.3 229.9L256.5 245.8L238.1 245.8Z" fill="#F7F6CE"/><path d="M245.0 244.7L254.2 260.6L235.8 260.6Z" fill="#F7F6CE"/><path d="M280.2 245.2L289.4 261.1L271.0 261.1Z" fill="#F7F6CE"/><circle cx="282.0" cy="261.0" r="7.7" fill="#F8E59C"/><circle cx="196.8" cy="248.4" r="7.7" fill="#F2AC4C"/><circle cx="225.7" cy="253.0" r="7.7" fill="#F7F6CE"/><circle cx="236.5" cy="264.3" r="7.7" fill="#E95235"/><circle cx="223.4" cy="270.0" r="7.7" fill="#F7F6CE"/><circle cx="217.2" cy="284.7" r="7.7" fill="#7E1528"/><circle cx="237.6" cy="283.6" r="7.7" fill="#F7F6CE"/><circle cx="251.8" cy="292.7" r="7.7" fill="#F7F6CE"/><circle cx="509.4" cy="155.5" r="7.7" fill="#F8E59C"/><circle cx="520.8" cy="150.9" r="7.7" fill="#F7F6CE"/><path d="M531.6 128.9L540.8 144.8L522.4 144.8Z" fill="#F5D174"/><circle cx="556.7" cy="136.0" r="7.7" fill="#F7F6CE"/><circle cx="559.6" cy="148.6" r="7.7" fill="#7E1528"/><circle cx="555.0" cy="157.7" r="7.7" fill="#7E1528"/><circle cx="533.9" cy="163.4" r="7.7" fill="#F8E59C"/><path d="M479.7 172.7L488.9 188.6L470.5 188.6Z" fill="#F7F6CE"/><path d="M479.7 167.7L488.9 183.6L470.5 183.6Z" fill="#F7F6CE"/><path d="M507.0 174.5L516.2 190.4L497.8 190.4Z" fill="#F7F6CE"/><path d="M550.5 164.3L559.7 180.2L541.3 180.2Z" fill="#F7F6CE"/><path d="M524.2 170.0L533.4 185.9L515.0 185.9Z" fill="#7E1528"/><path d="M512.2 188.2L521.4 204.1L503.0 204.1Z" fill="#F5D174"/><path d="M529.9 186.0L539.1 201.9L520.7 201.9Z" fill="#F7F6CE"/><circle cx="551.6" cy="194.3" r="7.7" fill="#F7F6CE"/><circle cx="479.7" cy="209.1" r="7.7" fill="#F7F6CE"/><path d="M493.4 204.2L502.6 220.1L484.2 220.1Z" fill="#F7F6CE"/><path d="M528.8 204.2L538.0 220.1L519.6 220.1Z" fill="#F7F6CE"/><circle cx="540.2" cy="209.1" r="7.7" fill="#F8E59C"/><path d="M550.5 207.7L559.7 223.6L541.3 223.6Z" fill="#D62323"/><path d="M566.4 205.4L575.6 221.3L557.2 221.3Z" fill="#F5D174"/><circle cx="581.3" cy="213.7" r="7.7" fill="#F7F6CE"/><circle cx="608.7" cy="211.4" r="7.7" fill="#F7F6CE"/><circle cx="598.4" cy="216.0" r="7.7" fill="#F7F6CE"/><circle cx="480.3" cy="229.7" r="7.7" fill="#F7F6CE"/><circle cx="501.4" cy="236.5" r="7.7" fill="#F7F6CE"/><path d="M514.5 220.2L523.7 236.1L505.3 236.1Z" fill="#F7F6CE"/><circle cx="531.0" cy="228.5" r="7.7" fill="#F7F6CE"/><circle cx="550.5" cy="229.7" r="7.7" fill="#F7F6CE"/><circle cx="569.9" cy="229.7" r="7.7" fill="#F7F6CE"/><circle cx="585.8" cy="227.4" r="7.7" fill="#F8E59C"/><circle cx="584.7" cy="253.6" r="7.7" fill="#F7F6CE"/><path d="M585.3 232.8L594.5 248.7L576.1 248.7Z" fill="#EF8B3E"/><circle cx="613.2" cy="139.5" r="7.7" fill="#F7F6CE"/><circle cx="614.0" cy="139.8" r="7.7" fill="#F7F6CE"/><circle cx="626.5" cy="142.0" r="7.7" fill="#F7F6CE"/><circle cx="692.8" cy="133.2" r="7.7" fill="#F8E59C"/><circle cx="684.7" cy="130.2" r="7.7" fill="#F7F6CE"/><circle cx="742.1" cy="144.2" r="7.7" fill="#F7F6CE"/><circle cx="767.9" cy="159.7" r="7.7" fill="#F7F6CE"/><circle cx="762.7" cy="156.7" r="7.7" fill="#F7F6CE"/><circle cx="776.7" cy="132.4" r="7.7" fill="#F7F6CE"/><circle cx="808.4" cy="137.6" r="7.7" fill="#F7F6CE"/><circle cx="711.9" cy="178.8" r="7.7" fill="#F7F6CE"/><circle cx="720.8" cy="177.4" r="7.7" fill="#F7F6CE"/><circle cx="688.4" cy="187.7" r="7.7" fill="#F7F6CE"/><circle cx="698.7" cy="189.1" r="7.7" fill="#F7F6CE"/><circle cx="722.2" cy="189.1" r="7.7" fill="#F7F6CE"/><circle cx="756.1" cy="193.6" r="7.7" fill="#F7F6CE"/><circle cx="743.6" cy="191.3" r="7.7" fill="#F7F6CE"/><circle cx="731.1" cy="200.9" r="7.7" fill="#F7F6CE"/><circle cx="706.0" cy="208.3" r="7.7" fill="#F7F6CE"/><circle cx="720.8" cy="209.8" r="7.7" fill="#F7F6CE"/><circle cx="686.9" cy="212.7" r="7.7" fill="#F7F6CE"/><circle cx="669.2" cy="218.6" r="7.7" fill="#F8E59C"/><circle cx="675.1" cy="233.3" r="7.7" fill="#F8E59C"/><circle cx="731.0" cy="230.0" r="7.7" fill="#F7F6CE"/><circle cx="739.9" cy="224.5" r="7.7" fill="#F7F6CE"/><circle cx="692.0" cy="246.0" r="7.7" fill="#F7F6CE"/><circle cx="728.0" cy="248.0" r="7.7" fill="#F7F6CE"/><circle cx="738.4" cy="256.9" r="7.7" fill="#F7F6CE"/><path d="M704.6 239.7L713.8 255.6L695.4 255.6Z" fill="#F7F6CE"/><path d="M717.8 245.7L727.0 261.6L708.6 261.6Z" fill="#B21C2B"/><circle cx="742.1" cy="243.6" r="7.7" fill="#F5D174"/><circle cx="750.2" cy="253.2" r="7.7" fill="#EF8B3E"/><circle cx="769.4" cy="236.3" r="7.7" fill="#F7F6CE"/><circle cx="778.9" cy="238.5" r="7.7" fill="#F7F6CE"/><circle cx="826.8" cy="186.2" r="7.7" fill="#F5D174"/><circle cx="834.9" cy="202.4" r="7.7" fill="#E95235"/><circle cx="848.2" cy="209.8" r="7.7" fill="#F7F6CE"/><path d="M846.0 160.2L855.2 176.1L836.8 176.1Z" fill="#F7F6CE"/><path d="M851.0 167.7L860.2 183.6L841.8 183.6Z" fill="#F7F6CE"/><path d="M853.3 173.5L862.5 189.4L844.1 189.4Z" fill="#F7F6CE"/><circle cx="814.3" cy="224.5" r="7.7" fill="#F7F6CE"/><circle cx="829.0" cy="236.3" r="7.7" fill="#E95235"/><circle cx="829.0" cy="249.5" r="7.7" fill="#F7F6CE"/><circle cx="802.5" cy="252.5" r="7.7" fill="#F8E59C"/><circle cx="809.9" cy="267.2" r="7.7" fill="#F7F6CE"/><circle cx="812.1" cy="289.3" r="7.7" fill="#F8E59C"/><circle cx="765.0" cy="290.8" r="7.7" fill="#F8E59C"/><circle cx="767.9" cy="274.6" r="7.7" fill="#F7F6CE"/><path d="M755.4 272.1L764.6 288.0L746.2 288.0Z" fill="#F7F6CE"/><circle cx="757.6" cy="296.6" r="7.7" fill="#F7F6CE"/><circle cx="781.9" cy="305.5" r="7.7" fill="#F7F6CE"/><path d="M698.7 298.7L707.9 314.6L689.5 314.6Z" fill="#F2AC4C"/><path d="M351.4 332.1L360.6 348.0L342.2 348.0Z" fill="#F7F6CE"/><path d="M324.2 417.5L333.4 433.4L315.0 433.4Z" fill="#F8E59C"/><path d="M324.2 410.9L333.4 426.8L315.0 426.8Z" fill="#F7F6CE"/><path d="M324.9 398.4L334.1 414.3L315.7 414.3Z" fill="#F7F6CE"/><circle cx="310.2" cy="436.8" r="7.7" fill="#F5D174"/><path d="M316.1 430.0L325.3 445.9L306.9 445.9Z" fill="#F7F6CE"/><path d="M329.3 433.7L338.5 449.6L320.1 449.6Z" fill="#F7F6CE"/><path d="M318.3 459.5L327.5 475.4L309.1 475.4Z" fill="#F7F6CE"/><path d="M315.3 453.7L324.5 469.6L306.1 469.6Z" fill="#F7F6CE"/><path d="M315.3 447.7L324.5 463.6L306.1 463.6Z" fill="#F7F6CE"/><path d="M322.0 470.5L331.2 486.4L312.8 486.4Z" fill="#F7F6CE"/><path d="M330.1 492.6L339.3 508.5L320.9 508.5Z" fill="#F7F6CE"/><path d="M353.6 494.8L362.8 510.7L344.4 510.7Z" fill="#F7F6CE"/><path d="M343.3 496.3L352.5 512.2L334.1 512.2Z" fill="#F7F6CE"/><path d="M591.8 332.1L601.0 348.0L582.6 348.0Z" fill="#F8E59C"/><path d="M565.8 385.2L575.0 401.1L556.6 401.1Z" fill="#E95235"/><circle cx="542.9" cy="440.3" r="7.7" fill="#F8E59C"/><path d="M788.5 351.9L797.7 367.8L779.3 367.8Z" fill="#F8E59C"/><path d="M803.0 351.9L812.2 367.8L793.8 367.8Z" fill="#F7F6CE"/><path d="M821.8 344.6L831.0 360.5L812.6 360.5Z" fill="#F7F6CE"/><circle cx="859.2" cy="466.4" r="7.7" fill="#F7F6CE"/><circle cx="850.9" cy="473.6" r="7.7" fill="#7E1528"/><path d="M849.9 457.0L859.1 472.9L840.7 472.9Z" fill="#F7F6CE"/><circle cx="931.0" cy="446.0" r="7.7" fill="#EF8B3E"/><circle cx="938.0" cy="462.0" r="7.7" fill="#F7F6CE"/><circle cx="933.1" cy="454.9" r="7.7" fill="#F8E59C"/><circle cx="918.0" cy="466.0" r="7.7" fill="#F8E59C"/><circle cx="892.5" cy="486.1" r="7.7" fill="#F8E59C"/><circle cx="903.0" cy="484.0" r="7.7" fill="#F8E59C"/><path d="M911.3 461.2L920.5 477.1L902.1 477.1Z" fill="#F7F6CE"/><path d="M894.6 470.5L903.8 486.4L885.4 486.4Z" fill="#F5D174"/></g><rect x="80.00" y="557.20" width="91.30" height="28.60" fill="#F7F6CE"/><rect x="171.00" y="557.20" width="91.30" height="28.60" fill="#F8E59C"/><rect x="262.00" y="557.20" width="91.30" height="28.60" fill="#F5D174"/><rect x="353.00" y="557.20" width="91.30" height="28.60" fill="#F2AC4C"/><rect x="444.00" y="557.20" width="91.30" height="28.60" fill="#EF8B3E"/><rect x="535.00" y="557.20" width="91.30" height="28.60" fill="#E95235"/><rect x="626.00" y="557.20" width="91.30" height="28.60" fill="#D62323"/><rect x="717.00" y="557.20" width="91.30" height="28.60" fill="#B21C2B"/><rect x="808.00" y="557.20" width="91.30" height="28.60" fill="#7E1528"/><rect x="80.00" y="557.20" width="819.00" height="28.60" fill="none" stroke="#3a3a3a" stroke-width="1.7"/><line x1="171.0" y1="585.8" x2="171.0" y2="577.8" stroke="#3a3a3a" stroke-width="1.3"/><line x1="353.0" y1="585.8" x2="353.0" y2="577.8" stroke="#3a3a3a" stroke-width="1.3"/><line x1="535.0" y1="585.8" x2="535.0" y2="577.8" stroke="#3a3a3a" stroke-width="1.3"/><line x1="717.0" y1="585.8" x2="717.0" y2="577.8" stroke="#3a3a3a" stroke-width="1.3"/><line x1="853.5" y1="585.8" x2="853.5" y2="577.8" stroke="#3a3a3a" stroke-width="1.3"/><g font-size="38.5" fill="#404040" text-anchor="middle"><text x="80.0" y="644">0</text><text x="171.0" y="644">1.5</text><text x="353.0" y="644">4.5</text><text x="535.0" y="644">7.5</text><text x="717.0" y="644">10.5</text><text x="853.5" y="644">&gt;12</text></g><text transform="translate(901.5 591) scale(1 1.03)" font-size="42.5" fill="#000">Rs</text></g></svg>
</body></html>
